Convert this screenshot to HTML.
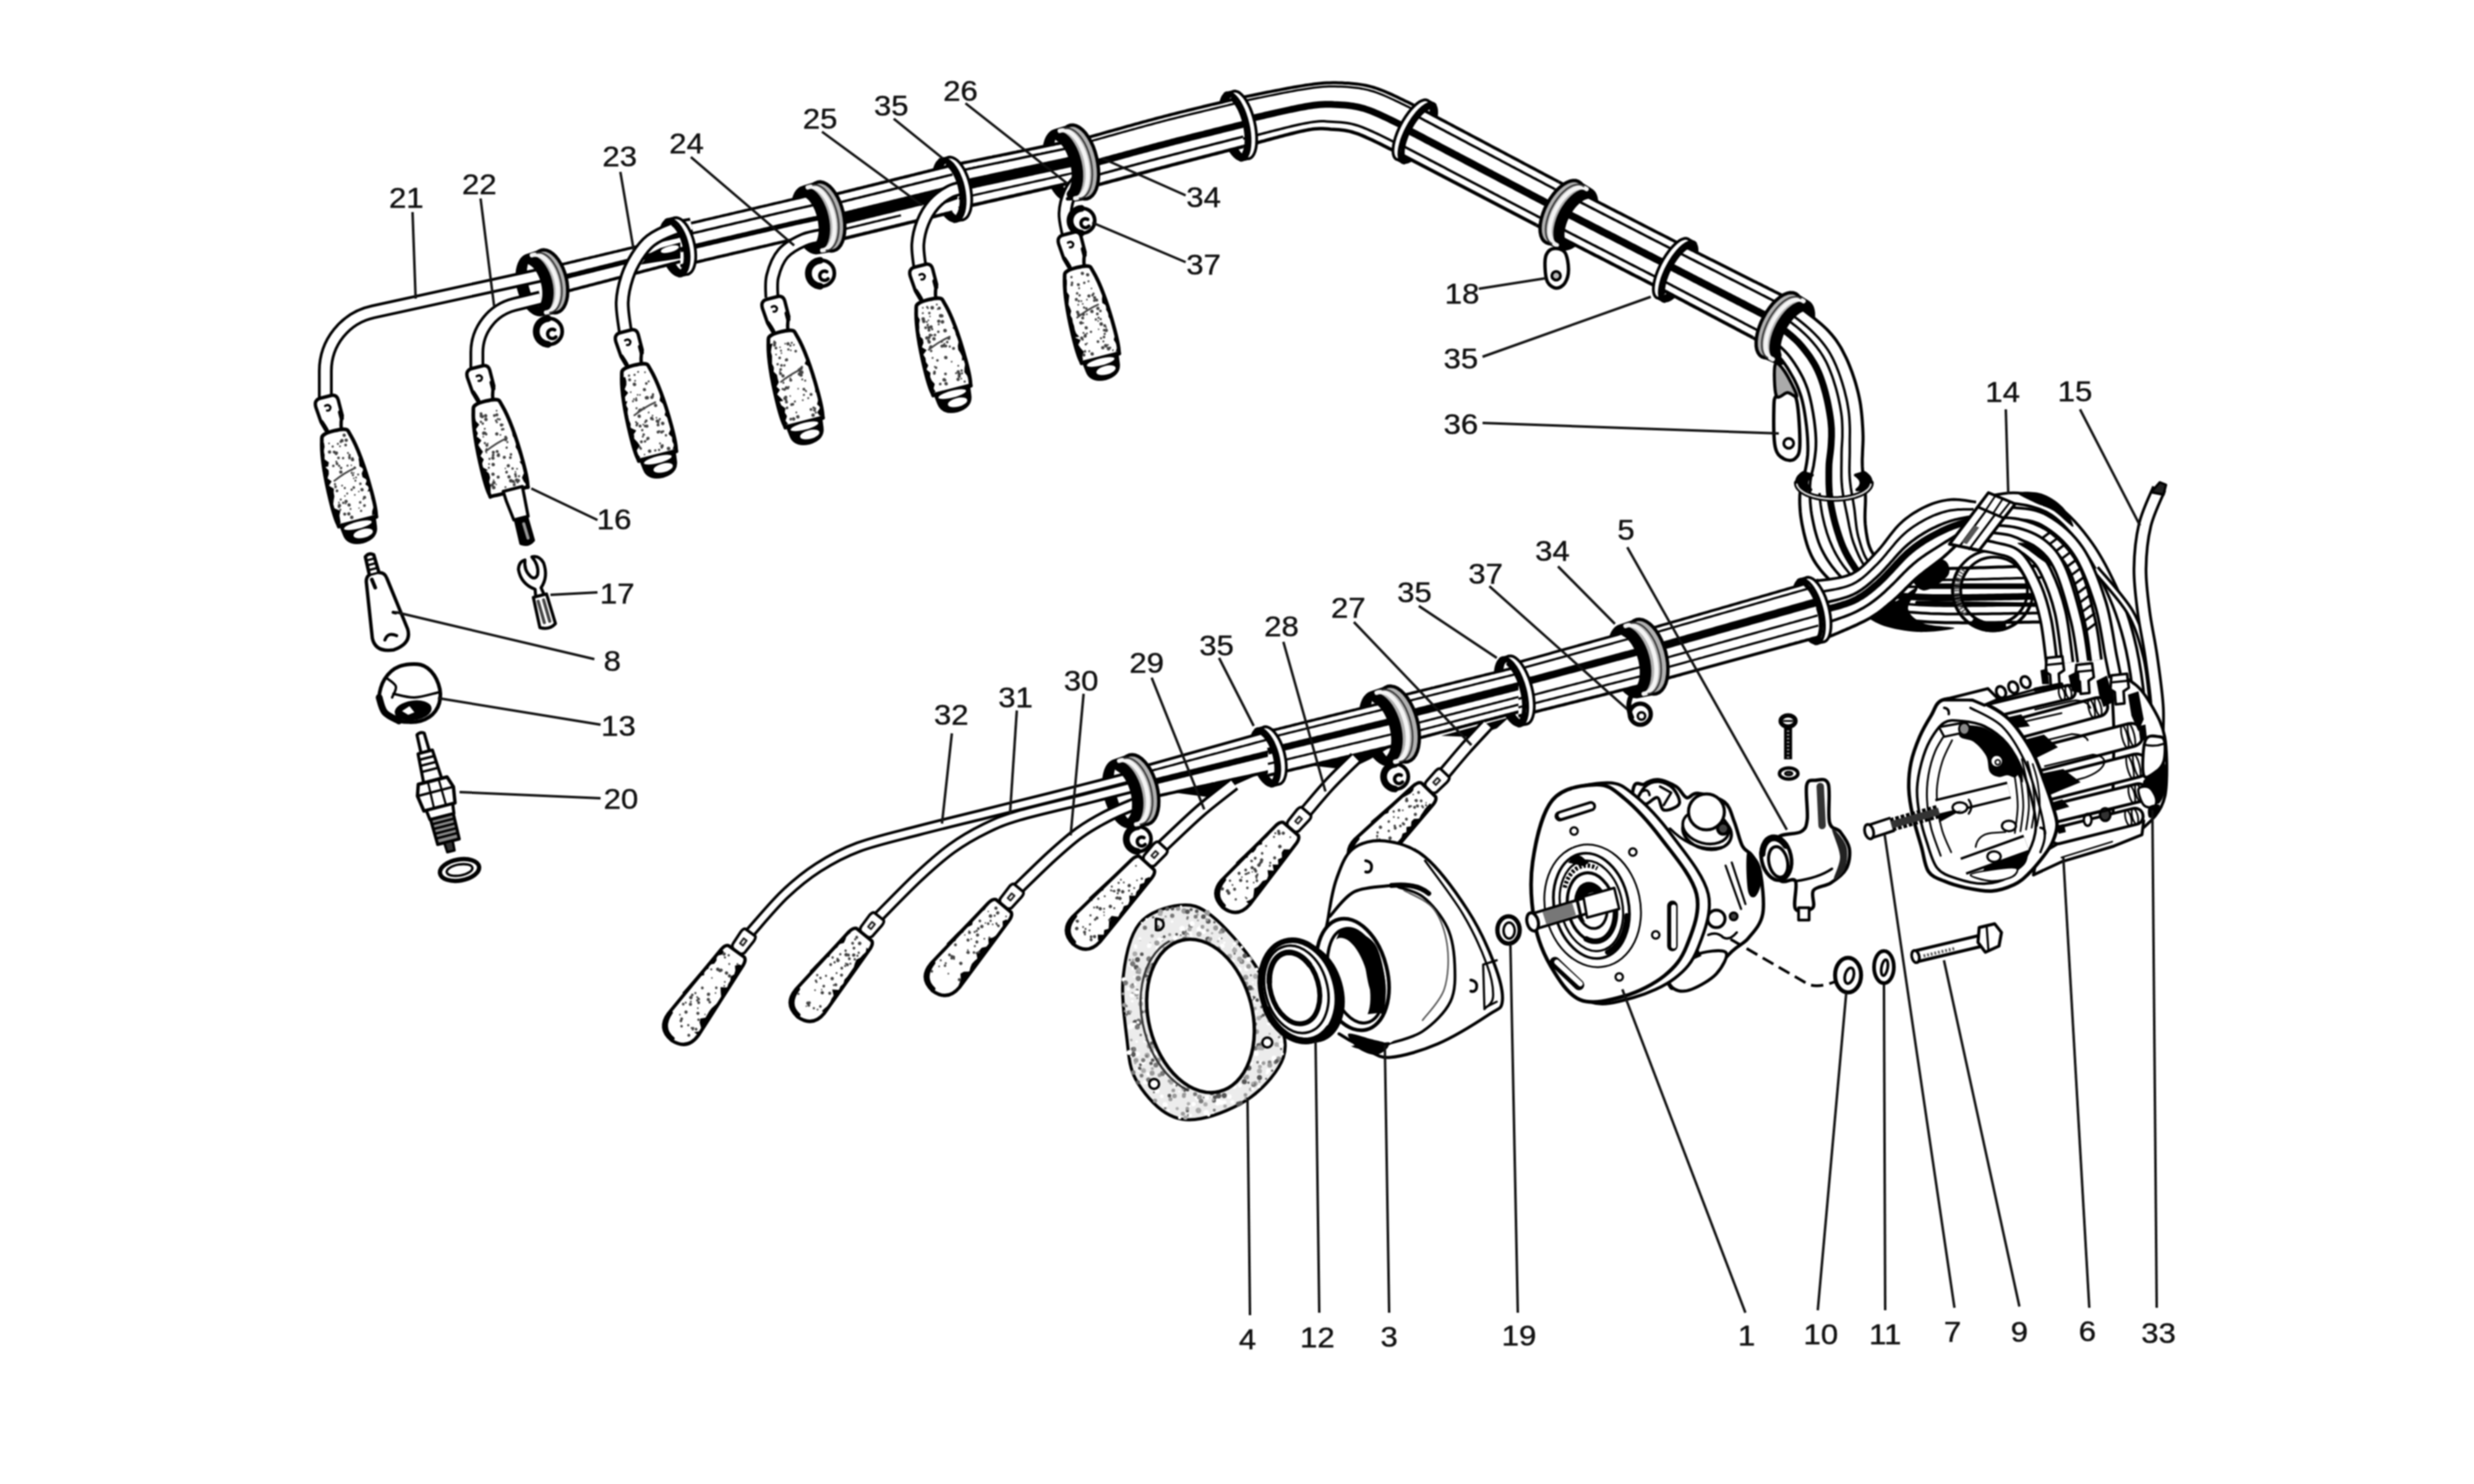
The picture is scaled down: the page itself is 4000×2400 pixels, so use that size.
<!DOCTYPE html><html><head><meta charset="utf-8"><style>html,body{margin:0;padding:0;background:#fff}svg{display:block;filter:blur(1.3px)}text{font-family:"Liberation Sans",sans-serif;fill:#111}</style></head><body><svg width="4000" height="2400" viewBox="0 0 4000 2400"><rect width="4000" height="2400" fill="#fff"/><path d="M876.9 509.7 L873.3 510.2 L869.5 509.8 L865.6 508.6 L861.7 506.6 L857.9 503.8 L854.1 500.2 L850.6 496 L847.3 491.1 L844.3 485.8 L841.6 480 L839.4 473.9 L837.5 467.6 L836.2 461.1 L835.3 454.7 L834.9 448.3 L835.1 442.2 L835.7 436.4 L836.9 431 L838.5 426.1 L840.6 421.8 L843 418.2 L845.9 415.3 L849.1 413.2 L852.5 411.9 L875.4 404.5 L879.1 404.1 L882.9 404.5 L886.8 405.8 L890.7 407.9 L894.6 410.8 L898.3 414.5 L901.9 418.9 L905.2 423.9 L908.3 429.4 L911 435.4 L913.3 441.7 L915.2 448.2 L916.6 454.9 L917.5 461.5 L917.9 468.1 L917.8 474.4 L917.2 480.3 L916.1 485.9 L914.5 490.9 L912.5 495.3 L910 499 L907.2 502 L904 504.1 L900.6 505.5Z" fill="#000" stroke="#000" stroke-width="3" stroke-linejoin="round" />
<ellipse cx="868.6" cy="459.8" rx="14" ry="40" transform="rotate(-14 868.6 459.8)" fill="#fff" stroke="none" stroke-width="0" />
<path d="M1100.9 446.3 L1098 446.5 L1094.9 446 L1091.8 444.7 L1088.7 442.6 L1085.6 439.8 L1082.6 436.4 L1079.7 432.3 L1077 427.7 L1074.5 422.6 L1072.3 417.1 L1070.4 411.4 L1068.8 405.4 L1067.6 399.4 L1066.8 393.4 L1066.4 387.5 L1066.4 381.9 L1066.8 376.5 L1067.6 371.6 L1068.8 367.2 L1070.4 363.3 L1072.3 360.1 L1074.5 357.5 L1077 355.7 L1079.7 354.7 L1090.4 352.2 L1093.3 352 L1096.3 352.5 L1099.4 353.8 L1102.6 355.9 L1105.7 358.7 L1108.7 362.1 L1111.6 366.2 L1114.3 370.8 L1116.8 375.9 L1119 381.4 L1120.9 387.1 L1122.4 393.1 L1123.6 399.1 L1124.4 405.1 L1124.9 411 L1124.9 416.6 L1124.4 422 L1123.6 426.9 L1122.4 431.3 L1120.9 435.2 L1119 438.4 L1116.8 441 L1114.3 442.8 L1111.6 443.8Z" fill="#000" stroke="#000" stroke-width="3" stroke-linejoin="round" />
<ellipse cx="1095.2" cy="399.3" rx="12.1" ry="38" transform="rotate(-13 1095.2 399.3)" fill="#fff" stroke="none" stroke-width="0" />
<path d="M1323.1 409.5 L1319.3 409.9 L1315.3 409.3 L1311.3 407.9 L1307.3 405.5 L1303.3 402.3 L1299.5 398.3 L1295.8 393.6 L1292.4 388.2 L1289.3 382.3 L1286.6 375.9 L1284.2 369.1 L1282.4 362.1 L1281 355.1 L1280.1 348 L1279.8 341 L1280 334.3 L1280.7 328 L1281.9 322.1 L1283.6 316.9 L1285.7 312.2 L1288.3 308.3 L1291.3 305.3 L1294.6 303.1 L1298.2 301.8 L1322.2 294.5 L1326 294.1 L1329.9 294.7 L1334 296.2 L1338 298.6 L1342 302 L1345.9 306.1 L1349.6 311 L1353.1 316.6 L1356.2 322.7 L1359 329.3 L1361.3 336.3 L1363.3 343.5 L1364.7 350.8 L1365.6 358.1 L1366 365.2 L1365.9 372.1 L1365.2 378.6 L1364 384.7 L1362.4 390.1 L1360.2 394.8 L1357.7 398.8 L1354.7 402 L1351.4 404.2 L1347.8 405.5Z" fill="#000" stroke="#000" stroke-width="3" stroke-linejoin="round" />
<ellipse cx="1314.5" cy="354.7" rx="14.5" ry="45" transform="rotate(-13 1314.5 354.7)" fill="#fff" stroke="none" stroke-width="0" />
<path d="M1546 358.1 L1542.8 358.4 L1539.5 357.8 L1536.1 356.4 L1532.7 354.1 L1529.3 351 L1526 347.1 L1522.9 342.6 L1519.9 337.5 L1517.2 331.9 L1514.7 325.8 L1512.6 319.4 L1510.9 312.9 L1509.6 306.2 L1508.7 299.6 L1508.2 293.1 L1508.2 286.8 L1508.6 280.9 L1509.5 275.5 L1510.8 270.6 L1512.5 266.3 L1514.5 262.7 L1516.9 259.9 L1519.6 257.9 L1522.6 256.8 L1533.3 254.3 L1536.5 254.1 L1539.8 254.7 L1543.1 256.1 L1546.6 258.4 L1550 261.5 L1553.3 265.4 L1556.4 269.9 L1559.4 275 L1562.1 280.6 L1564.6 286.7 L1566.7 293 L1568.4 299.6 L1569.7 306.3 L1570.6 312.9 L1571.1 319.4 L1571.1 325.7 L1570.7 331.6 L1569.8 337 L1568.5 341.9 L1566.8 346.2 L1564.8 349.7 L1562.4 352.5 L1559.6 354.5 L1556.7 355.7Z" fill="#000" stroke="#000" stroke-width="3" stroke-linejoin="round" />
<ellipse cx="1539.2" cy="306.3" rx="13.2" ry="43" transform="rotate(-13 1539.2 306.3)" fill="#fff" stroke="none" stroke-width="0" />
<path d="M1732 325.5 L1728 325.9 L1724 325.3 L1719.8 323.7 L1715.6 321.2 L1711.4 317.7 L1707.4 313.4 L1703.6 308.3 L1700 302.5 L1696.8 296.1 L1693.9 289.3 L1691.4 282.1 L1689.4 274.6 L1687.9 267 L1687 259.4 L1686.6 252 L1686.7 244.9 L1687.4 238.1 L1688.6 231.9 L1690.3 226.2 L1692.5 221.3 L1695.2 217.2 L1698.2 213.9 L1701.7 211.6 L1705.4 210.2 L1730.3 202.6 L1734.2 202.2 L1738.3 202.8 L1742.5 204.5 L1746.7 207.2 L1750.9 210.7 L1755 215.2 L1758.8 220.5 L1762.5 226.4 L1765.8 233 L1768.7 240.1 L1771.2 247.6 L1773.2 255.3 L1774.8 263.1 L1775.8 270.9 L1776.3 278.5 L1776.2 285.9 L1775.5 292.8 L1774.4 299.3 L1772.7 305 L1770.5 310.1 L1767.9 314.3 L1764.8 317.7 L1761.4 320 L1757.7 321.4Z" fill="#000" stroke="#000" stroke-width="3" stroke-linejoin="round" />
<ellipse cx="1722.6" cy="266.9" rx="15" ry="49" transform="rotate(-13 1722.6 266.9)" fill="#fff" stroke="none" stroke-width="0" />
<path d="M2008.9 259 L2006 259.2 L2002.9 258.5 L1999.7 256.8 L1996.5 254.2 L1993.2 250.8 L1990 246.6 L1986.9 241.6 L1984 236 L1981.3 229.9 L1978.8 223.4 L1976.7 216.5 L1974.8 209.4 L1973.4 202.3 L1972.3 195.1 L1971.7 188.2 L1971.4 181.5 L1971.6 175.2 L1972.2 169.4 L1973.2 164.2 L1974.7 159.7 L1976.4 156 L1978.6 153 L1981 151 L1983.7 149.9 L1994.4 147.4 L1997.3 147.3 L2000.4 148 L2003.6 149.7 L2006.8 152.3 L2010.1 155.7 L2013.3 159.9 L2016.3 164.9 L2019.3 170.4 L2022 176.5 L2024.4 183.1 L2026.6 190 L2028.4 197.1 L2029.9 204.2 L2031 211.3 L2031.6 218.3 L2031.9 225 L2031.7 231.3 L2031.1 237.1 L2030 242.3 L2028.6 246.8 L2026.8 250.5 L2024.7 253.4 L2022.3 255.5 L2019.6 256.6Z" fill="#000" stroke="#000" stroke-width="3" stroke-linejoin="round" />
<ellipse cx="2001.2" cy="203.3" rx="12.1" ry="47" transform="rotate(-13 2001.2 203.3)" fill="#fff" stroke="none" stroke-width="0" />
<path d="M2318.1 167.5 L2320.2 169.1 L2321.8 171.5 L2322.9 174.7 L2323.5 178.6 L2323.6 183.1 L2323.1 188.1 L2322.2 193.6 L2320.7 199.5 L2318.7 205.6 L2316.3 211.9 L2313.5 218.2 L2310.4 224.6 L2306.9 230.7 L2303.2 236.6 L2299.3 242.1 L2295.3 247.1 L2291.3 251.6 L2287.3 255.5 L2283.3 258.7 L2279.6 261.2 L2276 262.8 L2272.8 263.6 L2269.9 263.7 L2267.4 262.8 L2257.6 257.7 L2255.6 256 L2253.9 253.6 L2252.8 250.5 L2252.2 246.6 L2252.1 242.1 L2252.6 237.1 L2253.6 231.6 L2255 225.7 L2257 219.6 L2259.4 213.3 L2262.2 206.9 L2265.3 200.6 L2268.8 194.5 L2272.5 188.6 L2276.4 183.1 L2280.4 178 L2284.4 173.5 L2288.4 169.6 L2292.4 166.5 L2296.1 164 L2299.7 162.4 L2302.9 161.5 L2305.8 161.5 L2308.4 162.3Z" fill="#000" stroke="#000" stroke-width="3" stroke-linejoin="round" />
<ellipse cx="2288.3" cy="212.8" rx="11" ry="45" transform="rotate(208 2288.3 212.8)" fill="#fff" stroke="none" stroke-width="0" />
<path d="M2572.7 306.3 L2575.7 308.4 L2578.2 311.3 L2580.2 315 L2581.6 319.3 L2582.5 324.2 L2582.7 329.6 L2582.3 335.5 L2581.4 341.7 L2579.8 348.1 L2577.7 354.6 L2575 361 L2571.9 367.4 L2568.4 373.6 L2564.5 379.4 L2560.3 384.8 L2555.9 389.6 L2551.3 393.9 L2546.6 397.5 L2542 400.3 L2537.5 402.4 L2533.1 403.6 L2529 404 L2525.1 403.5 L2521.7 402.2 L2499.7 392.4 L2496.7 390.3 L2494.2 387.4 L2492.2 383.7 L2490.9 379.2 L2490.1 374.2 L2489.9 368.7 L2490.4 362.7 L2491.4 356.3 L2493.1 349.8 L2495.3 343.1 L2498.1 336.4 L2501.3 329.9 L2504.9 323.5 L2508.9 317.5 L2513.2 311.9 L2517.7 306.9 L2522.4 302.5 L2527.1 298.7 L2531.8 295.8 L2536.4 293.6 L2540.8 292.3 L2545 291.8 L2548.8 292.3 L2552.3 293.6Z" fill="#000" stroke="#000" stroke-width="3" stroke-linejoin="round" />
<ellipse cx="2543.7" cy="352.4" rx="14" ry="44" transform="rotate(208 2543.7 352.4)" fill="#fff" stroke="none" stroke-width="0" />
<path d="M2739.1 391.5 L2741.2 393.1 L2742.8 395.5 L2743.9 398.7 L2744.5 402.6 L2744.6 407.1 L2744.1 412.1 L2743.2 417.6 L2741.7 423.5 L2739.7 429.6 L2737.3 435.9 L2734.5 442.2 L2731.4 448.6 L2727.9 454.7 L2724.2 460.6 L2720.3 466.1 L2716.3 471.1 L2712.3 475.6 L2708.3 479.5 L2704.3 482.7 L2700.6 485.2 L2697 486.8 L2693.8 487.6 L2690.9 487.7 L2688.4 486.8 L2678.6 481.7 L2676.6 480 L2674.9 477.6 L2673.8 474.5 L2673.2 470.6 L2673.1 466.1 L2673.6 461.1 L2674.6 455.6 L2676 449.7 L2678 443.6 L2680.4 437.3 L2683.2 430.9 L2686.3 424.6 L2689.8 418.5 L2693.5 412.6 L2697.4 407.1 L2701.4 402 L2705.4 397.5 L2709.4 393.6 L2713.4 390.5 L2717.1 388 L2720.7 386.4 L2723.9 385.5 L2726.8 385.5 L2729.4 386.3Z" fill="#000" stroke="#000" stroke-width="3" stroke-linejoin="round" />
<ellipse cx="2709.3" cy="436.8" rx="11" ry="45" transform="rotate(208 2709.3 436.8)" fill="#fff" stroke="none" stroke-width="0" />
<path d="M2923.6 487.6 L2926.6 489.7 L2929.1 492.7 L2931.1 496.4 L2932.4 500.8 L2933.2 505.9 L2933.3 511.4 L2932.9 517.5 L2931.8 523.8 L2930.1 530.4 L2927.9 537.1 L2925.1 543.8 L2921.9 550.4 L2918.3 556.8 L2914.2 562.8 L2909.9 568.4 L2905.4 573.5 L2900.7 577.9 L2896 581.7 L2891.3 584.7 L2886.7 586.9 L2882.2 588.2 L2878.1 588.7 L2874.2 588.2 L2870.8 586.9 L2848.8 577.2 L2845.8 575.1 L2843.3 572.1 L2841.4 568.3 L2840.1 563.8 L2839.3 558.6 L2839.3 552.9 L2839.8 546.7 L2841 540.2 L2842.7 533.5 L2845.1 526.6 L2847.9 519.7 L2851.3 512.9 L2855 506.3 L2859.2 500 L2863.6 494.3 L2868.2 489 L2873 484.4 L2877.8 480.5 L2882.6 477.4 L2887.2 475.1 L2891.7 473.7 L2895.9 473.1 L2899.8 473.5 L2903.2 474.8Z" fill="#000" stroke="#000" stroke-width="3" stroke-linejoin="round" />
<ellipse cx="2893.7" cy="535.4" rx="14" ry="46" transform="rotate(208 2893.7 535.4)" fill="#fff" stroke="none" stroke-width="0" />
<path d="M771 596 L771 570 A80 80 0 0 1 831.6 492.4 L874 482" fill="none" stroke="#000" stroke-width="24" stroke-linecap="butt" stroke-linejoin="round" />
<path d="M771 596 L771 570 A80 80 0 0 1 831.6 492.4 L874 482" fill="none" stroke="#fff" stroke-width="15" stroke-linecap="butt" stroke-linejoin="round" />
<path d="M526 644 L526 600 A98 98 0 0 1 603.2 504.3 L874 445" fill="none" stroke="#000" stroke-width="24" stroke-linecap="butt" stroke-linejoin="round" />
<path d="M526 644 L526 600 A98 98 0 0 1 603.2 504.3 L874 445" fill="none" stroke="#fff" stroke-width="15" stroke-linecap="butt" stroke-linejoin="round" />
<path d="M890 432 L893.6 431.2 L897.1 430.3 L900.7 429.5 L904.2 428.6 L907.8 427.8 L911.4 426.9 L914.9 426.1 L918.5 425.2 L922 424.4 L925.6 423.5 L929.2 422.7 L932.7 421.8 L936.3 421 L939.8 420.1 L943.4 419.3 L946.9 418.4 L950.5 417.6 L954.1 416.7 L957.6 415.9 L961.2 415.1 L964.7 414.2 L968.3 413.4 L971.9 412.5 L975.4 411.7 L979 410.8 L982.5 410 L986.1 409.1 L989.7 408.3 L993.2 407.4 L996.8 406.6 L1000.3 405.7 L1003.9 404.9 L1007.5 404 L1011 403.2 L1014.6 402.3 L1018.1 401.5 L1021.7 400.6 L1025.3 399.8 L1028.8 398.9 L1032.4 398.1 L1035.9 397.3 L1039.5 396.4 L1043.1 395.6 L1046.6 394.7 L1050.2 393.9 L1053.7 393 L1057.3 392.2 L1060.8 391.3 L1064.4 390.5 L1068 389.6 L1071.5 388.8 L1075.1 387.9 L1078.6 387.1 L1082.2 386.2 L1085.8 385.4 L1089.3 384.5 L1092.9 383.7 L1096.4 382.8 L1100 382 L1100 423 L1096.4 423.9 L1092.9 424.9 L1089.3 425.8 L1085.8 426.7 L1082.2 427.7 L1078.6 428.6 L1075.1 429.5 L1071.5 430.5 L1068 431.4 L1064.4 432.3 L1060.8 433.3 L1057.3 434.2 L1053.7 435.1 L1050.2 436.1 L1046.6 437 L1043.1 437.9 L1039.5 438.8 L1035.9 439.8 L1032.4 440.7 L1028.8 441.6 L1025.3 442.6 L1021.7 443.5 L1018.1 444.4 L1014.6 445.4 L1011 446.3 L1007.5 447.2 L1003.9 448.2 L1000.3 449.1 L996.8 450 L993.2 451 L989.7 451.9 L986.1 452.8 L982.5 453.8 L979 454.7 L975.4 455.6 L971.9 456.6 L968.3 457.5 L964.7 458.4 L961.2 459.4 L957.6 460.3 L954.1 461.2 L950.5 462.2 L946.9 463.1 L943.4 464 L939.8 464.9 L936.3 465.9 L932.7 466.8 L929.2 467.7 L925.6 468.7 L922 469.6 L918.5 470.5 L914.9 471.5 L911.4 472.4 L907.8 473.3 L904.2 474.3 L900.7 475.2 L897.1 476.1 L893.6 477.1 L890 478Z" fill="#fff" />
<path d="M890 432 L893.6 431.2 L897.1 430.3 L900.7 429.5 L904.2 428.6 L907.8 427.8 L911.4 426.9 L914.9 426.1 L918.5 425.2 L922 424.4 L925.6 423.5 L929.2 422.7 L932.7 421.8 L936.3 421 L939.8 420.1 L943.4 419.3 L946.9 418.4 L950.5 417.6 L954.1 416.7 L957.6 415.9 L961.2 415.1 L964.7 414.2 L968.3 413.4 L971.9 412.5 L975.4 411.7 L979 410.8 L982.5 410 L986.1 409.1 L989.7 408.3 L993.2 407.4 L996.8 406.6 L1000.3 405.7 L1003.9 404.9 L1007.5 404 L1011 403.2 L1014.6 402.3 L1018.1 401.5 L1021.7 400.6 L1025.3 399.8 L1028.8 398.9 L1032.4 398.1 L1035.9 397.3 L1039.5 396.4 L1043.1 395.6 L1046.6 394.7 L1050.2 393.9 L1053.7 393 L1057.3 392.2 L1060.8 391.3 L1064.4 390.5 L1068 389.6 L1071.5 388.8 L1075.1 387.9 L1078.6 387.1 L1082.2 386.2 L1085.8 385.4 L1089.3 384.5 L1092.9 383.7 L1096.4 382.8 L1100 382" fill="none" stroke="#000" stroke-width="4.5" stroke-linecap="butt" stroke-linejoin="round" />
<path d="M890 453.6 L893.6 452.7 L897.1 451.8 L900.7 451 L904.2 450.1 L907.8 449.2 L911.4 448.3 L914.9 447.4 L918.5 446.5 L922 445.6 L925.6 444.7 L929.2 443.9 L932.7 443 L936.3 442.1 L939.8 441.2 L943.4 440.3 L946.9 439.4 L950.5 438.5 L954.1 437.6 L957.6 436.8 L961.2 435.9 L964.7 435 L968.3 434.1 L971.9 433.2 L975.4 432.3 L979 431.4 L982.5 430.6 L986.1 429.7 L989.7 428.8 L993.2 427.9 L996.8 427 L1000.3 426.1 L1003.9 425.2 L1007.5 424.3 L1011 423.5 L1014.6 422.6 L1018.1 421.7 L1021.7 420.8 L1025.3 419.9 L1028.8 419 L1032.4 418.1 L1035.9 417.2 L1039.5 416.4 L1043.1 415.5 L1046.6 414.6 L1050.2 413.7 L1053.7 412.8 L1057.3 411.9 L1060.8 411 L1064.4 410.1 L1068 409.3 L1071.5 408.4 L1075.1 407.5 L1078.6 406.6 L1082.2 405.7 L1085.8 404.8 L1089.3 403.9 L1092.9 403 L1096.4 402.2 L1100 401.3" fill="none" stroke="#000" stroke-width="8" stroke-linecap="butt" stroke-linejoin="round" />
<path d="M890 478 L893.6 477.1 L897.1 476.1 L900.7 475.2 L904.2 474.3 L907.8 473.3 L911.4 472.4 L914.9 471.5 L918.5 470.5 L922 469.6 L925.6 468.7 L929.2 467.7 L932.7 466.8 L936.3 465.9 L939.8 464.9 L943.4 464 L946.9 463.1 L950.5 462.2 L954.1 461.2 L957.6 460.3 L961.2 459.4 L964.7 458.4 L968.3 457.5 L971.9 456.6 L975.4 455.6 L979 454.7 L982.5 453.8 L986.1 452.8 L989.7 451.9 L993.2 451 L996.8 450 L1000.3 449.1 L1003.9 448.2 L1007.5 447.2 L1011 446.3 L1014.6 445.4 L1018.1 444.4 L1021.7 443.5 L1025.3 442.6 L1028.8 441.6 L1032.4 440.7 L1035.9 439.8 L1039.5 438.8 L1043.1 437.9 L1046.6 437 L1050.2 436.1 L1053.7 435.1 L1057.3 434.2 L1060.8 433.3 L1064.4 432.3 L1068 431.4 L1071.5 430.5 L1075.1 429.5 L1078.6 428.6 L1082.2 427.7 L1085.8 426.7 L1089.3 425.8 L1092.9 424.9 L1096.4 423.9 L1100 423" fill="none" stroke="#000" stroke-width="5" stroke-linecap="butt" stroke-linejoin="round" />
<path d="M1100 365 L1103.9 364.1 L1107.8 363.2 L1111.7 362.3 L1115.6 361.3 L1119.5 360.4 L1123.4 359.5 L1127.3 358.6 L1131.2 357.7 L1135.1 356.8 L1139 355.8 L1142.9 354.9 L1146.8 354 L1150.7 353.1 L1154.6 352.2 L1158.5 351.3 L1162.4 350.4 L1166.3 349.4 L1170.2 348.5 L1174.1 347.6 L1178 346.7 L1181.9 345.8 L1185.8 344.9 L1189.7 343.9 L1193.6 343 L1197.5 342.1 L1201.4 341.2 L1205.3 340.3 L1209.2 339.4 L1213.1 338.5 L1216.9 337.5 L1220.8 336.6 L1224.7 335.7 L1228.6 334.8 L1232.5 333.9 L1236.4 333 L1240.3 332.1 L1244.2 331.1 L1248.1 330.2 L1252 329.3 L1255.9 328.4 L1259.8 327.5 L1263.7 326.6 L1267.6 325.6 L1271.5 324.7 L1275.4 323.8 L1279.3 322.9 L1283.2 322 L1287.1 321.1 L1291 320.2 L1294.9 319.2 L1298.8 318.3 L1302.7 317.4 L1306.6 316.5 L1310.5 315.6 L1314.4 314.7 L1318.3 313.7 L1322.2 312.8 L1326.1 311.9 L1330 311 L1330 378 L1326.1 378.7 L1322.1 379.4 L1318.2 380.1 L1314.3 380.8 L1310.3 381.5 L1306.4 382.3 L1302.5 383.1 L1298.6 383.9 L1294.7 384.7 L1290.7 385.5 L1286.8 386.4 L1282.9 387.2 L1279 388.1 L1275.1 389 L1271.2 389.9 L1267.3 390.8 L1263.4 391.6 L1259.5 392.5 L1255.7 393.4 L1251.8 394.3 L1247.9 395.2 L1244 396.1 L1240.1 397.1 L1236.2 398 L1232.3 398.9 L1228.4 399.8 L1224.5 400.7 L1220.6 401.6 L1216.7 402.5 L1212.8 403.4 L1208.9 404.3 L1205 405.3 L1201.2 406.2 L1197.3 407.1 L1193.4 408 L1189.5 408.9 L1185.6 409.8 L1181.7 410.7 L1177.8 411.7 L1173.9 412.6 L1170 413.5 L1166.1 414.4 L1162.2 415.3 L1158.4 416.2 L1154.5 417.2 L1150.6 418.1 L1146.7 419 L1142.8 419.9 L1138.9 420.8 L1135 421.8 L1131.1 422.7 L1127.2 423.6 L1123.3 424.5 L1119.5 425.4 L1115.6 426.3 L1111.7 427.3 L1107.8 428.2 L1103.9 429.1 L1100 430Z" fill="#fff" />
<path d="M1100 365 L1103.9 364.1 L1107.8 363.2 L1111.7 362.3 L1115.6 361.3 L1119.5 360.4 L1123.4 359.5 L1127.3 358.6 L1131.2 357.7 L1135.1 356.8 L1139 355.8 L1142.9 354.9 L1146.8 354 L1150.7 353.1 L1154.6 352.2 L1158.5 351.3 L1162.4 350.4 L1166.3 349.4 L1170.2 348.5 L1174.1 347.6 L1178 346.7 L1181.9 345.8 L1185.8 344.9 L1189.7 343.9 L1193.6 343 L1197.5 342.1 L1201.4 341.2 L1205.3 340.3 L1209.2 339.4 L1213.1 338.5 L1216.9 337.5 L1220.8 336.6 L1224.7 335.7 L1228.6 334.8 L1232.5 333.9 L1236.4 333 L1240.3 332.1 L1244.2 331.1 L1248.1 330.2 L1252 329.3 L1255.9 328.4 L1259.8 327.5 L1263.7 326.6 L1267.6 325.6 L1271.5 324.7 L1275.4 323.8 L1279.3 322.9 L1283.2 322 L1287.1 321.1 L1291 320.2 L1294.9 319.2 L1298.8 318.3 L1302.7 317.4 L1306.6 316.5 L1310.5 315.6 L1314.4 314.7 L1318.3 313.7 L1322.2 312.8 L1326.1 311.9 L1330 311" fill="none" stroke="#000" stroke-width="4.5" stroke-linecap="butt" stroke-linejoin="round" />
<path d="M1100 381.9 L1103.9 381 L1107.8 380.1 L1111.7 379.2 L1115.6 378.2 L1119.5 377.3 L1123.4 376.4 L1127.3 375.5 L1131.2 374.6 L1135.1 373.7 L1139 372.7 L1142.9 371.8 L1146.8 370.9 L1150.7 370 L1154.5 369.1 L1158.4 368.2 L1162.3 367.2 L1166.2 366.3 L1170.1 365.4 L1174 364.5 L1177.9 363.6 L1181.8 362.7 L1185.7 361.8 L1189.6 360.8 L1193.5 359.9 L1197.4 359 L1201.3 358.1 L1205.2 357.2 L1209.1 356.3 L1213 355.3 L1216.9 354.4 L1220.8 353.5 L1224.7 352.6 L1228.6 351.7 L1232.5 350.8 L1236.4 349.9 L1240.3 349 L1244.2 348 L1248.1 347.1 L1252 346.2 L1255.9 345.3 L1259.8 344.4 L1263.7 343.5 L1267.6 342.6 L1271.5 341.7 L1275.3 340.8 L1279.2 339.9 L1283.1 338.9 L1287 338 L1290.9 337.1 L1294.8 336.3 L1298.7 335.4 L1302.7 334.5 L1306.6 333.6 L1310.5 332.7 L1314.4 331.9 L1318.3 331 L1322.2 330.1 L1326.1 329.3 L1330 328.4" fill="none" stroke="#000" stroke-width="4" stroke-linecap="butt" stroke-linejoin="round" />
<path d="M1100 404 L1103.9 403.1 L1107.8 402.2 L1111.7 401.3 L1115.6 400.3 L1119.5 399.4 L1123.4 398.5 L1127.3 397.6 L1131.2 396.7 L1135 395.8 L1138.9 394.8 L1142.8 393.9 L1146.7 393 L1150.6 392.1 L1154.5 391.2 L1158.4 390.3 L1162.3 389.3 L1166.2 388.4 L1170.1 387.5 L1174 386.6 L1177.9 385.7 L1181.8 384.8 L1185.7 383.8 L1189.6 382.9 L1193.4 382 L1197.3 381.1 L1201.2 380.2 L1205.1 379.3 L1209 378.4 L1212.9 377.4 L1216.8 376.5 L1220.7 375.6 L1224.6 374.7 L1228.5 373.8 L1232.4 372.9 L1236.3 372 L1240.2 371.1 L1244.1 370.1 L1248 369.2 L1251.9 368.3 L1255.8 367.4 L1259.7 366.5 L1263.6 365.6 L1267.5 364.7 L1271.4 363.8 L1275.2 362.9 L1279.1 362 L1283 361.1 L1287 360.2 L1290.9 359.4 L1294.8 358.5 L1298.7 357.7 L1302.6 356.8 L1306.5 356 L1310.4 355.1 L1314.3 354.3 L1318.2 353.6 L1322.2 352.8 L1326.1 352 L1330 351.2" fill="none" stroke="#000" stroke-width="8" stroke-linecap="butt" stroke-linejoin="round" />
<path d="M1100 430 L1103.9 429.1 L1107.8 428.2 L1111.7 427.3 L1115.6 426.3 L1119.5 425.4 L1123.3 424.5 L1127.2 423.6 L1131.1 422.7 L1135 421.8 L1138.9 420.8 L1142.8 419.9 L1146.7 419 L1150.6 418.1 L1154.5 417.2 L1158.4 416.2 L1162.2 415.3 L1166.1 414.4 L1170 413.5 L1173.9 412.6 L1177.8 411.7 L1181.7 410.7 L1185.6 409.8 L1189.5 408.9 L1193.4 408 L1197.3 407.1 L1201.2 406.2 L1205 405.3 L1208.9 404.3 L1212.8 403.4 L1216.7 402.5 L1220.6 401.6 L1224.5 400.7 L1228.4 399.8 L1232.3 398.9 L1236.2 398 L1240.1 397.1 L1244 396.1 L1247.9 395.2 L1251.8 394.3 L1255.7 393.4 L1259.5 392.5 L1263.4 391.6 L1267.3 390.8 L1271.2 389.9 L1275.1 389 L1279 388.1 L1282.9 387.2 L1286.8 386.4 L1290.7 385.5 L1294.7 384.7 L1298.6 383.9 L1302.5 383.1 L1306.4 382.3 L1310.3 381.5 L1314.3 380.8 L1318.2 380.1 L1322.1 379.4 L1326.1 378.7 L1330 378" fill="none" stroke="#000" stroke-width="5" stroke-linecap="butt" stroke-linejoin="round" />
<path d="M1036 428 L1050 410 L1068 401 L1100 392 L1100 418 L1060 424Z" fill="#000" />
<ellipse cx="1083" cy="403" rx="15" ry="5" fill="#fff" transform="rotate(-15 1083 403)"/>
<path d="M1011 536C1010.2 528.2 1005.5 503.7 1006 489C1006.5 474.3 1010 460.3 1014 448C1018 435.7 1023.7 424.8 1030 415C1036.3 405.2 1042.5 396.3 1052 389C1061.5 381.7 1076 375.2 1087 371C1098 366.8 1112.8 365.2 1118 364" fill="none" stroke="#000" stroke-width="24" stroke-linecap="butt" stroke-linejoin="round" />
<path d="M1011 536C1010.2 528.2 1005.5 503.7 1006 489C1006.5 474.3 1010 460.3 1014 448C1018 435.7 1023.7 424.8 1030 415C1036.3 405.2 1042.5 396.3 1052 389C1061.5 381.7 1076 375.2 1087 371C1098 366.8 1112.8 365.2 1118 364" fill="none" stroke="#fff" stroke-width="15" stroke-linecap="butt" stroke-linejoin="round" />
<path d="M1335 318 L1338.5 317.1 L1341.9 316.3 L1345.4 315.4 L1348.9 314.5 L1352.4 313.7 L1355.8 312.8 L1359.3 311.9 L1362.8 311.1 L1366.3 310.2 L1369.7 309.4 L1373.2 308.5 L1376.7 307.6 L1380.2 306.8 L1383.6 305.9 L1387.1 305 L1390.6 304.2 L1394.1 303.3 L1397.5 302.4 L1401 301.6 L1404.5 300.7 L1408 299.8 L1411.4 299 L1414.9 298.1 L1418.4 297.3 L1421.9 296.4 L1425.3 295.5 L1428.8 294.7 L1432.3 293.8 L1435.8 292.9 L1439.2 292.1 L1442.7 291.2 L1446.2 290.3 L1449.7 289.5 L1453.1 288.6 L1456.6 287.7 L1460.1 286.9 L1463.6 286 L1467 285.2 L1470.5 284.3 L1474 283.4 L1477.5 282.6 L1480.9 281.7 L1484.4 280.8 L1487.9 280 L1491.4 279.1 L1494.8 278.2 L1498.3 277.4 L1501.8 276.5 L1505.3 275.6 L1508.7 274.8 L1512.2 273.9 L1515.7 273.1 L1519.2 272.2 L1522.6 271.3 L1526.1 270.5 L1529.6 269.6 L1533.1 268.7 L1536.5 267.9 L1540 267 L1540 343 L1536.5 343.8 L1533.1 344.7 L1529.6 345.5 L1526.1 346.4 L1522.6 347.2 L1519.2 348.1 L1515.7 348.9 L1512.2 349.8 L1508.7 350.6 L1505.3 351.5 L1501.8 352.3 L1498.3 353.2 L1494.8 354 L1491.4 354.9 L1487.9 355.7 L1484.4 356.6 L1480.9 357.4 L1477.5 358.3 L1474 359.1 L1470.5 359.9 L1467 360.8 L1463.6 361.6 L1460.1 362.5 L1456.6 363.3 L1453.1 364.2 L1449.7 365 L1446.2 365.9 L1442.7 366.7 L1439.2 367.6 L1435.8 368.4 L1432.3 369.3 L1428.8 370.1 L1425.3 371 L1421.9 371.8 L1418.4 372.7 L1414.9 373.5 L1411.4 374.4 L1408 375.2 L1404.5 376.1 L1401 376.9 L1397.5 377.7 L1394.1 378.6 L1390.6 379.4 L1387.1 380.3 L1383.6 381.1 L1380.2 382 L1376.7 382.8 L1373.2 383.7 L1369.7 384.5 L1366.3 385.4 L1362.8 386.2 L1359.3 387.1 L1355.8 387.9 L1352.4 388.8 L1348.9 389.6 L1345.4 390.5 L1341.9 391.3 L1338.5 392.2 L1335 393Z" fill="#fff" />
<path d="M1335 318 L1338.5 317.1 L1341.9 316.3 L1345.4 315.4 L1348.9 314.5 L1352.4 313.7 L1355.8 312.8 L1359.3 311.9 L1362.8 311.1 L1366.3 310.2 L1369.7 309.4 L1373.2 308.5 L1376.7 307.6 L1380.2 306.8 L1383.6 305.9 L1387.1 305 L1390.6 304.2 L1394.1 303.3 L1397.5 302.4 L1401 301.6 L1404.5 300.7 L1408 299.8 L1411.4 299 L1414.9 298.1 L1418.4 297.3 L1421.9 296.4 L1425.3 295.5 L1428.8 294.7 L1432.3 293.8 L1435.8 292.9 L1439.2 292.1 L1442.7 291.2 L1446.2 290.3 L1449.7 289.5 L1453.1 288.6 L1456.6 287.7 L1460.1 286.9 L1463.6 286 L1467 285.2 L1470.5 284.3 L1474 283.4 L1477.5 282.6 L1480.9 281.7 L1484.4 280.8 L1487.9 280 L1491.4 279.1 L1494.8 278.2 L1498.3 277.4 L1501.8 276.5 L1505.3 275.6 L1508.7 274.8 L1512.2 273.9 L1515.7 273.1 L1519.2 272.2 L1522.6 271.3 L1526.1 270.5 L1529.6 269.6 L1533.1 268.7 L1536.5 267.9 L1540 267" fill="none" stroke="#000" stroke-width="5" stroke-linecap="butt" stroke-linejoin="round" />
<path d="M1335 333 L1338.5 332.1 L1341.9 331.3 L1345.4 330.4 L1348.9 329.6 L1352.4 328.7 L1355.8 327.8 L1359.3 327 L1362.8 326.1 L1366.3 325.3 L1369.7 324.4 L1373.2 323.5 L1376.7 322.7 L1380.2 321.8 L1383.6 320.9 L1387.1 320.1 L1390.6 319.2 L1394.1 318.4 L1397.5 317.5 L1401 316.6 L1404.5 315.8 L1408 314.9 L1411.4 314.1 L1414.9 313.2 L1418.4 312.3 L1421.9 311.5 L1425.3 310.6 L1428.8 309.8 L1432.3 308.9 L1435.8 308 L1439.2 307.2 L1442.7 306.3 L1446.2 305.4 L1449.7 304.6 L1453.1 303.7 L1456.6 302.9 L1460.1 302 L1463.6 301.1 L1467 300.3 L1470.5 299.4 L1474 298.6 L1477.5 297.7 L1480.9 296.8 L1484.4 296 L1487.9 295.1 L1491.4 294.3 L1494.8 293.4 L1498.3 292.5 L1501.8 291.7 L1505.3 290.8 L1508.7 289.9 L1512.2 289.1 L1515.7 288.2 L1519.2 287.4 L1522.6 286.5 L1526.1 285.6 L1529.6 284.8 L1533.1 283.9 L1536.5 283.1 L1540 282.2" fill="none" stroke="#000" stroke-width="4" stroke-linecap="butt" stroke-linejoin="round" />
<path d="M1335 360 L1338.5 359.1 L1341.9 358.3 L1345.4 357.4 L1348.9 356.6 L1352.4 355.7 L1355.8 354.9 L1359.3 354 L1362.8 353.2 L1366.3 352.3 L1369.7 351.5 L1373.2 350.6 L1376.7 349.7 L1380.2 348.9 L1383.6 348 L1387.1 347.2 L1390.6 346.3 L1394.1 345.5 L1397.5 344.6 L1401 343.8 L1404.5 342.9 L1408 342 L1411.4 341.2 L1414.9 340.3 L1418.4 339.5 L1421.9 338.6 L1425.3 337.8 L1428.8 336.9 L1432.3 336.1 L1435.8 335.2 L1439.2 334.4 L1442.7 333.5 L1446.2 332.6 L1449.7 331.8 L1453.1 330.9 L1456.6 330.1 L1460.1 329.2 L1463.6 328.4 L1467 327.5 L1470.5 326.7 L1474 325.8 L1477.5 324.9 L1480.9 324.1 L1484.4 323.2 L1487.9 322.4 L1491.4 321.5 L1494.8 320.7 L1498.3 319.8 L1501.8 319 L1505.3 318.1 L1508.7 317.3 L1512.2 316.4 L1515.7 315.5 L1519.2 314.7 L1522.6 313.8 L1526.1 313 L1529.6 312.1 L1533.1 311.3 L1536.5 310.4 L1540 309.6" fill="none" stroke="#000" stroke-width="20" stroke-linecap="butt" stroke-linejoin="round" />
<path d="M1335 378 L1338.5 377.1 L1341.9 376.3 L1345.4 375.4 L1348.9 374.6 L1352.4 373.7 L1355.8 372.9 L1359.3 372 L1362.8 371.2 L1366.3 370.3 L1369.7 369.5 L1373.2 368.6 L1376.7 367.8 L1380.2 366.9 L1383.6 366.1 L1387.1 365.2 L1390.6 364.4 L1394.1 363.5 L1397.5 362.7 L1401 361.8 L1404.5 361 L1408 360.1 L1411.4 359.3 L1414.9 358.4 L1418.4 357.6 L1421.9 356.7 L1425.3 355.9 L1428.8 355 L1432.3 354.2 L1435.8 353.3 L1439.2 352.5 L1442.7 351.6 L1446.2 350.8 L1449.7 349.9 L1453.1 349.1 L1456.6 348.2" fill="none" stroke="#000" stroke-width="3.5" stroke-linecap="butt" stroke-linejoin="round" />
<path d="M1335 393 L1338.5 392.2 L1341.9 391.3 L1345.4 390.5 L1348.9 389.6 L1352.4 388.8 L1355.8 387.9 L1359.3 387.1 L1362.8 386.2 L1366.3 385.4 L1369.7 384.5 L1373.2 383.7 L1376.7 382.8 L1380.2 382 L1383.6 381.1 L1387.1 380.3 L1390.6 379.4 L1394.1 378.6 L1397.5 377.7 L1401 376.9 L1404.5 376.1 L1408 375.2 L1411.4 374.4 L1414.9 373.5 L1418.4 372.7 L1421.9 371.8 L1425.3 371 L1428.8 370.1 L1432.3 369.3 L1435.8 368.4 L1439.2 367.6 L1442.7 366.7 L1446.2 365.9 L1449.7 365 L1453.1 364.2 L1456.6 363.3 L1460.1 362.5 L1463.6 361.6 L1467 360.8 L1470.5 359.9 L1474 359.1 L1477.5 358.3 L1480.9 357.4 L1484.4 356.6 L1487.9 355.7 L1491.4 354.9 L1494.8 354 L1498.3 353.2 L1501.8 352.3 L1505.3 351.5 L1508.7 350.6 L1512.2 349.8 L1515.7 348.9 L1519.2 348.1 L1522.6 347.2 L1526.1 346.4 L1529.6 345.5 L1533.1 344.7 L1536.5 343.8 L1540 343" fill="none" stroke="#000" stroke-width="5.5" stroke-linecap="butt" stroke-linejoin="round" />
<path d="M1248 482C1248.2 476.2 1246 459 1249 447C1252 435 1257.5 419.8 1266 410C1274.5 400.2 1288.5 393 1300 388C1311.5 383 1329.2 381.3 1335 380" fill="none" stroke="#000" stroke-width="24" stroke-linecap="butt" stroke-linejoin="round" />
<path d="M1248 482C1248.2 476.2 1246 459 1249 447C1252 435 1257.5 419.8 1266 410C1274.5 400.2 1288.5 393 1300 388C1311.5 383 1329.2 381.3 1335 380" fill="none" stroke="#fff" stroke-width="15" stroke-linecap="butt" stroke-linejoin="round" />
<path d="M1550 265 L1553.6 264.3 L1557.1 263.5 L1560.7 262.8 L1564.2 262.1 L1567.8 261.4 L1571.4 260.6 L1574.9 259.9 L1578.5 259.2 L1582 258.4 L1585.6 257.7 L1589.2 257 L1592.7 256.3 L1596.3 255.5 L1599.8 254.8 L1603.4 254.1 L1606.9 253.3 L1610.5 252.6 L1614.1 251.9 L1617.6 251.2 L1621.2 250.4 L1624.7 249.7 L1628.3 249 L1631.9 248.2 L1635.4 247.5 L1639 246.8 L1642.5 246.1 L1646.1 245.3 L1649.7 244.6 L1653.2 243.9 L1656.8 243.1 L1660.3 242.4 L1663.9 241.7 L1667.5 240.9 L1671 240.2 L1674.6 239.5 L1678.1 238.8 L1681.7 238 L1685.3 237.3 L1688.8 236.6 L1692.4 235.8 L1695.9 235.1 L1699.5 234.4 L1703.1 233.7 L1706.6 232.9 L1710.2 232.2 L1713.7 231.5 L1717.3 230.7 L1720.8 230 L1724.4 229.3 L1728 228.6 L1731.5 227.8 L1735.1 227.1 L1738.6 226.4 L1742.2 225.6 L1745.8 224.9 L1749.3 224.2 L1752.9 223.5 L1756.4 222.7 L1760 222 L1760 289 L1756.4 289.8 L1752.9 290.6 L1749.3 291.4 L1745.8 292.3 L1742.2 293.1 L1738.6 293.9 L1735.1 294.7 L1731.5 295.5 L1728 296.3 L1724.4 297.1 L1720.8 297.9 L1717.3 298.8 L1713.7 299.6 L1710.2 300.4 L1706.6 301.2 L1703.1 302 L1699.5 302.8 L1695.9 303.6 L1692.4 304.5 L1688.8 305.3 L1685.3 306.1 L1681.7 306.9 L1678.1 307.7 L1674.6 308.5 L1671 309.3 L1667.5 310.2 L1663.9 311 L1660.3 311.8 L1656.8 312.6 L1653.2 313.4 L1649.7 314.2 L1646.1 315 L1642.5 315.8 L1639 316.7 L1635.4 317.5 L1631.9 318.3 L1628.3 319.1 L1624.7 319.9 L1621.2 320.7 L1617.6 321.5 L1614.1 322.4 L1610.5 323.2 L1606.9 324 L1603.4 324.8 L1599.8 325.6 L1596.3 326.4 L1592.7 327.2 L1589.2 328.1 L1585.6 328.9 L1582 329.7 L1578.5 330.5 L1574.9 331.3 L1571.4 332.1 L1567.8 332.9 L1564.2 333.7 L1560.7 334.6 L1557.1 335.4 L1553.6 336.2 L1550 337Z" fill="#fff" />
<path d="M1550 265 L1553.6 264.3 L1557.1 263.5 L1560.7 262.8 L1564.2 262.1 L1567.8 261.4 L1571.4 260.6 L1574.9 259.9 L1578.5 259.2 L1582 258.4 L1585.6 257.7 L1589.2 257 L1592.7 256.3 L1596.3 255.5 L1599.8 254.8 L1603.4 254.1 L1606.9 253.3 L1610.5 252.6 L1614.1 251.9 L1617.6 251.2 L1621.2 250.4 L1624.7 249.7 L1628.3 249 L1631.9 248.2 L1635.4 247.5 L1639 246.8 L1642.5 246.1 L1646.1 245.3 L1649.7 244.6 L1653.2 243.9 L1656.8 243.1 L1660.3 242.4 L1663.9 241.7 L1667.5 240.9 L1671 240.2 L1674.6 239.5 L1678.1 238.8 L1681.7 238 L1685.3 237.3 L1688.8 236.6 L1692.4 235.8 L1695.9 235.1 L1699.5 234.4 L1703.1 233.7 L1706.6 232.9 L1710.2 232.2 L1713.7 231.5 L1717.3 230.7 L1720.8 230 L1724.4 229.3 L1728 228.6 L1731.5 227.8 L1735.1 227.1 L1738.6 226.4 L1742.2 225.6 L1745.8 224.9 L1749.3 224.2 L1752.9 223.5 L1756.4 222.7 L1760 222" fill="none" stroke="#000" stroke-width="5" stroke-linecap="butt" stroke-linejoin="round" />
<path d="M1550 276.5 L1553.6 275.8 L1557.1 275 L1560.7 274.3 L1564.2 273.6 L1567.8 272.8 L1571.4 272.1 L1574.9 271.3 L1578.5 270.6 L1582 269.8 L1585.6 269.1 L1589.2 268.4 L1592.7 267.6 L1596.3 266.9 L1599.8 266.1 L1603.4 265.4 L1606.9 264.6 L1610.5 263.9 L1614.1 263.2 L1617.6 262.4 L1621.2 261.7 L1624.7 260.9 L1628.3 260.2 L1631.9 259.4 L1635.4 258.7 L1639 258 L1642.5 257.2 L1646.1 256.5 L1649.7 255.7 L1653.2 255 L1656.8 254.2 L1660.3 253.5 L1663.9 252.8 L1667.5 252 L1671 251.3 L1674.6 250.5 L1678.1 249.8 L1681.7 249.1 L1685.3 248.3 L1688.8 247.6 L1692.4 246.8 L1695.9 246.1 L1699.5 245.3 L1703.1 244.6 L1706.6 243.9 L1710.2 243.1 L1713.7 242.4 L1717.3 241.6 L1720.8 240.9 L1724.4 240.1 L1728 239.4 L1731.5 238.7 L1735.1 237.9 L1738.6 237.2 L1742.2 236.4 L1745.8 235.7 L1749.3 234.9 L1752.9 234.2 L1756.4 233.5 L1760 232.7" fill="none" stroke="#000" stroke-width="4" stroke-linecap="butt" stroke-linejoin="round" />
<path d="M1550 301 L1553.6 300.2 L1557.1 299.5 L1560.7 298.7 L1564.2 297.9 L1567.8 297.1 L1571.4 296.4 L1574.9 295.6 L1578.5 294.8 L1582 294.1 L1585.6 293.3 L1589.2 292.5 L1592.7 291.7 L1596.3 291 L1599.8 290.2 L1603.4 289.4 L1606.9 288.7 L1610.5 287.9 L1614.1 287.1 L1617.6 286.3 L1621.2 285.6 L1624.7 284.8 L1628.3 284 L1631.9 283.3 L1635.4 282.5 L1639 281.7 L1642.5 280.9 L1646.1 280.2 L1649.7 279.4 L1653.2 278.6 L1656.8 277.9 L1660.3 277.1 L1663.9 276.3 L1667.5 275.6 L1671 274.8 L1674.6 274 L1678.1 273.2 L1681.7 272.5 L1685.3 271.7 L1688.8 270.9 L1692.4 270.2 L1695.9 269.4 L1699.5 268.6 L1703.1 267.8 L1706.6 267.1 L1710.2 266.3 L1713.7 265.5 L1717.3 264.8 L1720.8 264 L1724.4 263.2 L1728 262.4 L1731.5 261.7 L1735.1 260.9 L1738.6 260.1 L1742.2 259.4 L1745.8 258.6 L1749.3 257.8 L1752.9 257 L1756.4 256.3 L1760 255.5" fill="none" stroke="#000" stroke-width="17" stroke-linecap="butt" stroke-linejoin="round" />
<path d="M1550 321.2 L1553.6 320.4 L1557.1 319.6 L1560.7 318.8 L1564.2 318 L1567.8 317.2 L1571.4 316.4 L1574.9 315.6 L1578.5 314.8 L1582 314 L1585.6 313.2 L1589.2 312.4 L1592.7 311.6 L1596.3 310.8 L1599.8 310 L1603.4 309.2 L1606.9 308.4 L1610.5 307.6 L1614.1 306.9 L1617.6 306.1 L1621.2 305.3 L1624.7 304.5 L1628.3 303.7 L1631.9 302.9 L1635.4 302.1 L1639 301.3 L1642.5 300.5 L1646.1 299.7 L1649.7 298.9 L1653.2 298.1 L1656.8 297.3 L1660.3 296.5 L1663.9 295.7 L1667.5 294.9 L1671 294.1 L1674.6 293.3 L1678.1 292.5 L1681.7 291.7 L1685.3 291 L1688.8 290.2 L1692.4 289.4 L1695.9 288.6 L1699.5 287.8 L1703.1 287 L1706.6 286.2 L1710.2 285.4 L1713.7 284.6 L1717.3 283.8 L1720.8 283 L1724.4 282.2 L1728 281.4 L1731.5 280.6 L1735.1 279.8 L1738.6 279 L1742.2 278.2 L1745.8 277.4 L1749.3 276.6 L1752.9 275.8 L1756.4 275.1 L1760 274.3" fill="none" stroke="#000" stroke-width="3.5" stroke-linecap="butt" stroke-linejoin="round" />
<path d="M1550 337 L1553.6 336.2 L1557.1 335.4 L1560.7 334.6 L1564.2 333.7 L1567.8 332.9 L1571.4 332.1 L1574.9 331.3 L1578.5 330.5 L1582 329.7 L1585.6 328.9 L1589.2 328.1 L1592.7 327.2 L1596.3 326.4 L1599.8 325.6 L1603.4 324.8 L1606.9 324 L1610.5 323.2 L1614.1 322.4 L1617.6 321.5 L1621.2 320.7 L1624.7 319.9 L1628.3 319.1 L1631.9 318.3 L1635.4 317.5 L1639 316.7 L1642.5 315.8 L1646.1 315 L1649.7 314.2 L1653.2 313.4 L1656.8 312.6 L1660.3 311.8 L1663.9 311 L1667.5 310.2 L1671 309.3 L1674.6 308.5 L1678.1 307.7 L1681.7 306.9 L1685.3 306.1 L1688.8 305.3 L1692.4 304.5 L1695.9 303.6 L1699.5 302.8 L1703.1 302 L1706.6 301.2 L1710.2 300.4 L1713.7 299.6 L1717.3 298.8 L1720.8 297.9 L1724.4 297.1 L1728 296.3 L1731.5 295.5 L1735.1 294.7 L1738.6 293.9 L1742.2 293.1 L1745.8 292.3 L1749.3 291.4 L1752.9 290.6 L1756.4 289.8 L1760 289" fill="none" stroke="#000" stroke-width="5.5" stroke-linecap="butt" stroke-linejoin="round" />
<path d="M1500 338 L1514 318 L1530 306 L1548 298 L1548 322 L1520 332Z" fill="#000" />
<ellipse cx="1535" cy="311" rx="12" ry="4.5" fill="#fff" transform="rotate(-15 1535 311)"/>
<path d="M1487 430C1486.5 424.2 1483.2 406.7 1484 395C1484.8 383.3 1487.7 370.8 1492 360C1496.3 349.2 1502.7 338.3 1510 330C1517.3 321.7 1527.7 314.5 1536 310C1544.3 305.5 1556 304.2 1560 303" fill="none" stroke="#000" stroke-width="24" stroke-linecap="butt" stroke-linejoin="round" />
<path d="M1487 430C1486.5 424.2 1483.2 406.7 1484 395C1484.8 383.3 1487.7 370.8 1492 360C1496.3 349.2 1502.7 338.3 1510 330C1517.3 321.7 1527.7 314.5 1536 310C1544.3 305.5 1556 304.2 1560 303" fill="none" stroke="#fff" stroke-width="15" stroke-linecap="butt" stroke-linejoin="round" />
<path d="M1760 222 L1764.2 220.8 L1768.4 219.6 L1772.6 218.5 L1776.9 217.3 L1781.1 216.1 L1785.3 214.9 L1789.5 213.7 L1793.7 212.5 L1797.9 211.3 L1802.2 210.1 L1806.4 209 L1810.6 207.8 L1814.8 206.6 L1819 205.4 L1823.2 204.2 L1827.5 203.1 L1831.7 201.9 L1835.9 200.7 L1840.1 199.6 L1844.3 198.4 L1848.6 197.2 L1852.8 196.1 L1857 194.9 L1861.2 193.8 L1865.5 192.7 L1869.7 191.5 L1873.9 190.4 L1878.2 189.3 L1882.4 188.2 L1886.6 187.1 L1890.9 186 L1895.1 184.9 L1899.4 183.8 L1903.6 182.8 L1907.9 181.7 L1912.1 180.6 L1916.4 179.6 L1920.6 178.5 L1924.9 177.5 L1929.1 176.5 L1933.4 175.4 L1937.6 174.4 L1941.9 173.3 L1946.1 172.3 L1950.4 171.3 L1954.6 170.3 L1958.9 169.2 L1963.2 168.2 L1967.4 167.2 L1971.7 166.2 L1975.9 165.2 L1980.2 164.1 L1984.5 163.1 L1988.7 162.1 L1993 161.1 L1997.2 160.1 L2001.5 159.1 L2005.7 158 L2010 157 L2010 237 L2005.8 238.1 L2001.5 239.2 L1997.3 240.3 L1993 241.4 L1988.8 242.5 L1984.5 243.6 L1980.3 244.7 L1976.1 245.8 L1971.8 246.9 L1967.6 248 L1963.3 249.1 L1959.1 250.2 L1954.8 251.3 L1950.6 252.4 L1946.4 253.5 L1942.1 254.6 L1937.9 255.7 L1933.6 256.8 L1929.4 257.9 L1925.1 259 L1920.9 260.1 L1916.7 261.2 L1912.4 262.3 L1908.2 263.4 L1903.9 264.5 L1899.7 265.6 L1895.5 266.7 L1891.2 267.8 L1887 269 L1882.8 270.1 L1878.5 271.2 L1874.3 272.3 L1870 273.4 L1865.8 274.6 L1861.6 275.7 L1857.3 276.8 L1853.1 278 L1848.9 279.1 L1844.6 280.2 L1840.4 281.3 L1836.2 282.5 L1831.9 283.6 L1827.7 284.8 L1823.5 285.9 L1819.2 287 L1815 288.2 L1810.8 289.3 L1806.5 290.5 L1802.3 291.6 L1798.1 292.7 L1793.9 293.9 L1789.6 295 L1785.4 296.2 L1781.2 297.3 L1776.9 298.4 L1772.7 299.6 L1768.5 300.7 L1764.2 301.9 L1760 303Z" fill="#fff" />
<path d="M1760 222 L1764.2 220.8 L1768.4 219.6 L1772.6 218.5 L1776.9 217.3 L1781.1 216.1 L1785.3 214.9 L1789.5 213.7 L1793.7 212.5 L1797.9 211.3 L1802.2 210.1 L1806.4 209 L1810.6 207.8 L1814.8 206.6 L1819 205.4 L1823.2 204.2 L1827.5 203.1 L1831.7 201.9 L1835.9 200.7 L1840.1 199.6 L1844.3 198.4 L1848.6 197.2 L1852.8 196.1 L1857 194.9 L1861.2 193.8 L1865.5 192.7 L1869.7 191.5 L1873.9 190.4 L1878.2 189.3 L1882.4 188.2 L1886.6 187.1 L1890.9 186 L1895.1 184.9 L1899.4 183.8 L1903.6 182.8 L1907.9 181.7 L1912.1 180.6 L1916.4 179.6 L1920.6 178.5 L1924.9 177.5 L1929.1 176.5 L1933.4 175.4 L1937.6 174.4 L1941.9 173.3 L1946.1 172.3 L1950.4 171.3 L1954.6 170.3 L1958.9 169.2 L1963.2 168.2 L1967.4 167.2 L1971.7 166.2 L1975.9 165.2 L1980.2 164.1 L1984.5 163.1 L1988.7 162.1 L1993 161.1 L1997.2 160.1 L2001.5 159.1 L2005.7 158 L2010 157" fill="none" stroke="#000" stroke-width="5" stroke-linecap="butt" stroke-linejoin="round" />
<path d="M1760 229.3 L1764.2 228.1 L1768.4 226.9 L1772.7 225.8 L1776.9 224.6 L1781.1 223.4 L1785.3 222.2 L1789.5 221 L1793.7 219.8 L1797.9 218.7 L1802.2 217.5 L1806.4 216.3 L1810.6 215.1 L1814.8 213.9 L1819 212.8 L1823.3 211.6 L1827.5 210.4 L1831.7 209.2 L1835.9 208.1 L1840.1 206.9 L1844.4 205.8 L1848.6 204.6 L1852.8 203.4 L1857 202.3 L1861.3 201.2 L1865.5 200 L1869.7 198.9 L1874 197.8 L1878.2 196.6 L1882.4 195.5 L1886.7 194.4 L1890.9 193.3 L1895.1 192.3 L1899.4 191.2 L1903.6 190.1 L1907.9 189 L1912.1 188 L1916.4 186.9 L1920.6 185.9 L1924.9 184.8 L1929.1 183.8 L1933.4 182.7 L1937.6 181.7 L1941.9 180.7 L1946.2 179.6 L1950.4 178.6 L1954.7 177.6 L1958.9 176.5 L1963.2 175.5 L1967.4 174.5 L1971.7 173.4 L1975.9 172.4 L1980.2 171.4 L1984.5 170.4 L1988.7 169.3 L1993 168.3 L1997.2 167.3 L2001.5 166.3 L2005.7 165.2 L2010 164.2" fill="none" stroke="#000" stroke-width="3.5" stroke-linecap="butt" stroke-linejoin="round" />
<path d="M1760 266.6 L1764.2 265.4 L1768.5 264.2 L1772.7 263.1 L1776.9 261.9 L1781.1 260.8 L1785.3 259.6 L1789.6 258.4 L1793.8 257.3 L1798 256.1 L1802.2 254.9 L1806.5 253.8 L1810.7 252.6 L1814.9 251.5 L1819.1 250.3 L1823.4 249.1 L1827.6 248 L1831.8 246.8 L1836 245.7 L1840.3 244.5 L1844.5 243.4 L1848.7 242.3 L1853 241.1 L1857.2 240 L1861.4 238.8 L1865.7 237.7 L1869.9 236.6 L1874.1 235.4 L1878.4 234.3 L1882.6 233.2 L1886.8 232.1 L1891.1 231 L1895.3 229.9 L1899.5 228.8 L1903.8 227.7 L1908 226.6 L1912.3 225.5 L1916.5 224.5 L1920.8 223.4 L1925 222.3 L1929.3 221.2 L1933.5 220.2 L1937.8 219.1 L1942 218 L1946.3 217 L1950.5 215.9 L1954.8 214.8 L1959 213.8 L1963.3 212.7 L1967.5 211.6 L1971.8 210.6 L1976 209.5 L1980.3 208.4 L1984.5 207.4 L1988.8 206.3 L1993 205.3 L1997.3 204.2 L2001.5 203.1 L2005.8 202.1 L2010 201" fill="none" stroke="#000" stroke-width="11" stroke-linecap="butt" stroke-linejoin="round" />
<path d="M1760 286.8 L1764.2 285.7 L1768.5 284.5 L1772.7 283.4 L1776.9 282.2 L1781.1 281.1 L1785.4 279.9 L1789.6 278.8 L1793.8 277.6 L1798.1 276.5 L1802.3 275.3 L1806.5 274.2 L1810.7 273 L1815 271.9 L1819.2 270.7 L1823.4 269.6 L1827.7 268.4 L1831.9 267.3 L1836.1 266.1 L1840.3 265 L1844.6 263.9 L1848.8 262.7 L1853 261.6 L1857.3 260.4 L1861.5 259.3 L1865.7 258.2 L1870 257 L1874.2 255.9 L1878.4 254.8 L1882.7 253.7 L1886.9 252.6 L1891.2 251.5 L1895.4 250.4 L1899.6 249.3 L1903.9 248.2 L1908.1 247.1 L1912.4 246 L1916.6 244.9 L1920.8 243.8 L1925.1 242.7 L1929.3 241.6 L1933.6 240.5 L1937.8 239.4 L1942.1 238.3 L1946.3 237.2 L1950.6 236.2 L1954.8 235.1 L1959 234 L1963.3 232.9 L1967.5 231.8 L1971.8 230.7 L1976 229.7 L1980.3 228.6 L1984.5 227.5 L1988.8 226.4 L1993 225.3 L1997.3 224.3 L2001.5 223.2 L2005.8 222.1 L2010 221" fill="none" stroke="#000" stroke-width="4" stroke-linecap="butt" stroke-linejoin="round" />
<path d="M1760 303 L1764.2 301.9 L1768.5 300.7 L1772.7 299.6 L1776.9 298.4 L1781.2 297.3 L1785.4 296.2 L1789.6 295 L1793.9 293.9 L1798.1 292.7 L1802.3 291.6 L1806.5 290.5 L1810.8 289.3 L1815 288.2 L1819.2 287 L1823.5 285.9 L1827.7 284.8 L1831.9 283.6 L1836.2 282.5 L1840.4 281.3 L1844.6 280.2 L1848.9 279.1 L1853.1 278 L1857.3 276.8 L1861.6 275.7 L1865.8 274.6 L1870 273.4 L1874.3 272.3 L1878.5 271.2 L1882.8 270.1 L1887 269 L1891.2 267.8 L1895.5 266.7 L1899.7 265.6 L1903.9 264.5 L1908.2 263.4 L1912.4 262.3 L1916.7 261.2 L1920.9 260.1 L1925.1 259 L1929.4 257.9 L1933.6 256.8 L1937.9 255.7 L1942.1 254.6 L1946.4 253.5 L1950.6 252.4 L1954.8 251.3 L1959.1 250.2 L1963.3 249.1 L1967.6 248 L1971.8 246.9 L1976.1 245.8 L1980.3 244.7 L1984.5 243.6 L1988.8 242.5 L1993 241.4 L1997.3 240.3 L2001.5 239.2 L2005.8 238.1 L2010 237" fill="none" stroke="#000" stroke-width="5.5" stroke-linecap="butt" stroke-linejoin="round" />
<path d="M1727 378C1726.2 372.5 1721.5 356 1722 345C1722.5 334 1725.7 321.5 1730 312C1734.3 302.5 1741.3 294.2 1748 288C1754.7 281.8 1766.3 277.2 1770 275" fill="none" stroke="#000" stroke-width="24" stroke-linecap="butt" stroke-linejoin="round" />
<path d="M1727 378C1726.2 372.5 1721.5 356 1722 345C1722.5 334 1725.7 321.5 1730 312C1734.3 302.5 1741.3 294.2 1748 288C1754.7 281.8 1766.3 277.2 1770 275" fill="none" stroke="#fff" stroke-width="15" stroke-linecap="butt" stroke-linejoin="round" />
<path d="M2010 157 L2014.8 156.1 L2019.6 155.1 L2024.4 154.2 L2029.2 153.2 L2034 152.2 L2038.9 151.3 L2043.7 150.3 L2048.5 149.3 L2053.3 148.4 L2058.1 147.4 L2062.9 146.5 L2067.7 145.6 L2072.5 144.6 L2077.3 143.7 L2082.2 142.8 L2087 141.9 L2091.8 141 L2096.6 140.2 L2101.5 139.4 L2106.3 138.6 L2111.1 137.8 L2116 137.1 L2120.9 136.5 L2125.7 135.8 L2130.6 135.3 L2135.5 134.8 L2140.3 134.3 L2145.2 134 L2150.1 133.9 L2155 133.8 L2159.9 133.8 L2164.8 134 L2169.7 134.1 L2174.6 134.4 L2179.5 134.6 L2184.4 135 L2189.3 135.4 L2194.2 135.9 L2199 136.6 L2203.9 137.4 L2208.7 138.3 L2213.5 139.4 L2218.2 140.6 L2222.9 142 L2227.6 143.6 L2232.2 145.3 L2236.7 147 L2241.3 149 L2245.7 150.9 L2250.2 152.9 L2254.7 155 L2259.1 157.1 L2263.5 159.2 L2267.9 161.3 L2272.3 163.5 L2276.8 165.6 L2281.2 167.8 L2285.6 169.9 L2290 172 L2258 246 L2254 244.1 L2250.1 242.1 L2246.2 240.2 L2242.3 238.2 L2238.3 236.2 L2234.4 234.3 L2230.5 232.3 L2226.5 230.4 L2222.6 228.5 L2218.6 226.6 L2214.6 224.7 L2210.6 222.9 L2206.6 221.1 L2202.6 219.4 L2198.5 217.7 L2194.4 216.2 L2190.3 214.8 L2186.1 213.5 L2181.8 212.4 L2177.5 211.5 L2173.2 210.7 L2168.8 210.2 L2164.5 209.8 L2160.1 209.5 L2155.7 209.2 L2151.3 209 L2146.9 208.6 L2142.6 208.3 L2138.2 208 L2133.8 208 L2129.4 208.2 L2125 208.6 L2120.7 209.1 L2116.3 209.8 L2112 210.6 L2107.7 211.5 L2103.4 212.4 L2099.1 213.4 L2094.9 214.4 L2090.6 215.5 L2086.3 216.5 L2082.1 217.6 L2077.8 218.7 L2073.6 219.8 L2069.3 220.9 L2065.1 222.1 L2060.9 223.2 L2056.6 224.3 L2052.4 225.5 L2048.1 226.6 L2043.9 227.8 L2039.7 228.9 L2035.4 230.1 L2031.2 231.3 L2027 232.4 L2022.7 233.6 L2018.5 234.7 L2014.2 235.9 L2010 237Z" fill="#fff" />
<path d="M2010 157 L2014.8 156.1 L2019.6 155.1 L2024.4 154.2 L2029.2 153.2 L2034 152.2 L2038.9 151.3 L2043.7 150.3 L2048.5 149.3 L2053.3 148.4 L2058.1 147.4 L2062.9 146.5 L2067.7 145.6 L2072.5 144.6 L2077.3 143.7 L2082.2 142.8 L2087 141.9 L2091.8 141 L2096.6 140.2 L2101.5 139.4 L2106.3 138.6 L2111.1 137.8 L2116 137.1 L2120.9 136.5 L2125.7 135.8 L2130.6 135.3 L2135.5 134.8 L2140.3 134.3 L2145.2 134 L2150.1 133.9 L2155 133.8 L2159.9 133.8 L2164.8 134 L2169.7 134.1 L2174.6 134.4 L2179.5 134.6 L2184.4 135 L2189.3 135.4 L2194.2 135.9 L2199 136.6 L2203.9 137.4 L2208.7 138.3 L2213.5 139.4 L2218.2 140.6 L2222.9 142 L2227.6 143.6 L2232.2 145.3 L2236.7 147 L2241.3 149 L2245.7 150.9 L2250.2 152.9 L2254.7 155 L2259.1 157.1 L2263.5 159.2 L2267.9 161.3 L2272.3 163.5 L2276.8 165.6 L2281.2 167.8 L2285.6 169.9 L2290 172" fill="none" stroke="#000" stroke-width="5" stroke-linecap="butt" stroke-linejoin="round" />
<path d="M2010 163.4 L2014.8 162.4 L2019.5 161.5 L2024.3 160.5 L2029.1 159.5 L2033.8 158.5 L2038.6 157.6 L2043.3 156.6 L2048.1 155.6 L2052.9 154.6 L2057.6 153.7 L2062.4 152.7 L2067.2 151.8 L2071.9 150.8 L2076.7 149.9 L2081.5 149 L2086.2 148.1 L2091 147.2 L2095.8 146.3 L2100.6 145.4 L2105.4 144.7 L2110.2 143.9 L2115 143.2 L2119.8 142.5 L2124.6 141.8 L2129.4 141.2 L2134.3 140.7 L2139.1 140.3 L2144 140 L2148.8 139.8 L2153.7 139.7 L2158.6 139.8 L2163.4 139.9 L2168.3 140.1 L2173.1 140.3 L2178 140.6 L2182.8 140.9 L2187.7 141.4 L2192.5 141.9 L2197.3 142.6 L2202.1 143.4 L2206.9 144.4 L2211.6 145.4 L2216.3 146.7 L2221 148 L2225.6 149.6 L2230.1 151.3 L2234.7 153.1 L2239.1 155 L2243.6 157 L2248 159 L2252.4 161 L2256.8 163.1 L2261.2 165.2 L2265.6 167.3 L2269.9 169.4 L2274.3 171.6 L2278.7 173.7 L2283 175.9 L2287.4 177.9" fill="none" stroke="#000" stroke-width="3.5" stroke-linecap="butt" stroke-linejoin="round" />
<path d="M2010 194.6 L2014.5 193.6 L2019.1 192.5 L2023.6 191.5 L2028.2 190.4 L2032.7 189.4 L2037.2 188.3 L2041.8 187.3 L2046.3 186.2 L2050.9 185.2 L2055.4 184.1 L2059.9 183.1 L2064.5 182 L2069 181 L2073.6 180 L2078.1 179 L2082.7 178 L2087.2 177 L2091.8 176.1 L2096.4 175.1 L2100.9 174.2 L2105.5 173.4 L2110.1 172.5 L2114.7 171.7 L2119.3 171 L2123.9 170.3 L2128.5 169.7 L2133.1 169.2 L2137.8 168.9 L2142.5 168.7 L2147.1 168.7 L2151.8 168.8 L2156.4 169.1 L2161.1 169.3 L2165.7 169.5 L2170.4 169.8 L2175 170.1 L2179.7 170.5 L2184.3 171.1 L2188.9 171.8 L2193.5 172.7 L2198 173.7 L2202.6 174.8 L2207 176.1 L2211.5 177.6 L2215.8 179.2 L2220.2 180.9 L2224.5 182.7 L2228.7 184.6 L2233 186.5 L2237.2 188.4 L2241.4 190.4 L2245.6 192.4 L2249.8 194.5 L2254 196.5 L2258.2 198.6 L2262.4 200.7 L2266.6 202.7 L2270.7 204.8 L2275 206.8" fill="none" stroke="#000" stroke-width="11" stroke-linecap="butt" stroke-linejoin="round" />
<path d="M2010 224.2 L2014.3 223.1 L2018.7 222 L2023 220.9 L2027.3 219.7 L2031.6 218.6 L2036 217.5 L2040.3 216.4 L2044.6 215.2 L2049 214.1 L2053.3 213 L2057.6 211.9 L2062 210.8 L2066.3 209.7 L2070.6 208.6 L2075 207.5 L2079.3 206.4 L2083.6 205.4 L2088 204.3 L2092.3 203.3 L2096.7 202.3 L2101.1 201.3 L2105.4 200.4 L2109.8 199.5 L2114.2 198.7 L2118.6 197.9 L2123 197.2 L2127.5 196.7 L2131.9 196.3 L2136.4 196.1 L2140.9 196.1 L2145.3 196.4 L2149.8 196.7 L2154.3 197 L2158.7 197.2 L2163.2 197.5 L2167.7 197.8 L2172.1 198.2 L2176.5 198.8 L2181 199.5 L2185.3 200.4 L2189.7 201.5 L2194 202.7 L2198.2 204.1 L2202.4 205.6 L2206.6 207.3 L2210.7 209 L2214.8 210.8 L2218.9 212.6 L2222.9 214.5 L2227 216.4 L2231 218.3 L2235 220.3 L2239.1 222.3 L2243.1 224.3 L2247.1 226.2 L2251.1 228.2 L2255.1 230.2 L2259.1 232.2 L2263.1 234.2" fill="none" stroke="#000" stroke-width="4" stroke-linecap="butt" stroke-linejoin="round" />
<path d="M2010 237 L2014.2 235.9 L2018.5 234.7 L2022.7 233.6 L2027 232.4 L2031.2 231.3 L2035.4 230.1 L2039.7 228.9 L2043.9 227.8 L2048.1 226.6 L2052.4 225.5 L2056.6 224.3 L2060.9 223.2 L2065.1 222.1 L2069.3 220.9 L2073.6 219.8 L2077.8 218.7 L2082.1 217.6 L2086.3 216.5 L2090.6 215.5 L2094.9 214.4 L2099.1 213.4 L2103.4 212.4 L2107.7 211.5 L2112 210.6 L2116.3 209.8 L2120.7 209.1 L2125 208.6 L2129.4 208.2 L2133.8 208 L2138.2 208 L2142.6 208.3 L2146.9 208.6 L2151.3 209 L2155.7 209.2 L2160.1 209.5 L2164.5 209.8 L2168.8 210.2 L2173.2 210.7 L2177.5 211.5 L2181.8 212.4 L2186.1 213.5 L2190.3 214.8 L2194.4 216.2 L2198.5 217.7 L2202.6 219.4 L2206.6 221.1 L2210.6 222.9 L2214.6 224.7 L2218.6 226.6 L2222.6 228.5 L2226.5 230.4 L2230.5 232.3 L2234.4 234.3 L2238.3 236.2 L2242.3 238.2 L2246.2 240.2 L2250.1 242.1 L2254 244.1 L2258 246" fill="none" stroke="#000" stroke-width="5.5" stroke-linecap="butt" stroke-linejoin="round" />
<path d="M2290 172 L2293.9 174.1 L2297.8 176.1 L2301.7 178.2 L2305.6 180.3 L2309.5 182.3 L2313.4 184.4 L2317.3 186.5 L2321.2 188.5 L2325.1 190.6 L2329 192.7 L2332.9 194.7 L2336.8 196.8 L2340.7 198.9 L2344.6 200.9 L2348.5 203 L2352.4 205.1 L2356.3 207.2 L2360.2 209.2 L2364.1 211.3 L2368 213.4 L2371.9 215.4 L2375.8 217.5 L2379.7 219.6 L2383.6 221.6 L2387.5 223.7 L2391.4 225.8 L2395.3 227.8 L2399.2 229.9 L2403.1 232 L2406.9 234 L2410.8 236.1 L2414.7 238.2 L2418.6 240.2 L2422.5 242.3 L2426.4 244.4 L2430.3 246.4 L2434.2 248.5 L2438.1 250.6 L2442 252.6 L2445.9 254.7 L2449.8 256.8 L2453.7 258.8 L2457.6 260.9 L2461.5 263 L2465.4 265.1 L2469.3 267.1 L2473.2 269.2 L2477.1 271.3 L2481 273.3 L2484.9 275.4 L2488.8 277.5 L2492.7 279.5 L2496.6 281.6 L2500.5 283.7 L2504.4 285.7 L2508.3 287.8 L2512.2 289.9 L2516.1 291.9 L2520 294 L2484 364 L2480.2 362 L2476.3 360 L2472.5 358 L2468.7 356 L2464.8 354 L2461 352 L2457.2 350 L2453.4 348 L2449.5 346 L2445.7 344 L2441.9 342 L2438 340 L2434.2 338 L2430.4 336 L2426.5 334 L2422.7 332 L2418.9 330 L2415.1 328 L2411.2 326 L2407.4 324 L2403.6 322 L2399.7 320 L2395.9 318 L2392.1 316 L2388.2 314 L2384.4 312 L2380.6 310 L2376.7 308 L2372.9 306 L2369.1 304 L2365.3 302 L2361.4 300 L2357.6 298 L2353.8 296 L2349.9 294 L2346.1 292 L2342.3 290 L2338.4 288 L2334.6 286 L2330.8 284 L2326.9 282 L2323.1 280 L2319.3 278 L2315.5 276 L2311.6 274 L2307.8 272 L2304 270 L2300.1 268 L2296.3 266 L2292.5 264 L2288.6 262 L2284.8 260 L2281 258 L2277.2 256 L2273.3 254 L2269.5 252 L2265.7 250 L2261.8 248 L2258 246Z" fill="#fff" />
<path d="M2290 172 L2293.9 174.1 L2297.8 176.1 L2301.7 178.2 L2305.6 180.3 L2309.5 182.3 L2313.4 184.4 L2317.3 186.5 L2321.2 188.5 L2325.1 190.6 L2329 192.7 L2332.9 194.7 L2336.8 196.8 L2340.7 198.9 L2344.6 200.9 L2348.5 203 L2352.4 205.1 L2356.3 207.2 L2360.2 209.2 L2364.1 211.3 L2368 213.4 L2371.9 215.4 L2375.8 217.5 L2379.7 219.6 L2383.6 221.6 L2387.5 223.7 L2391.4 225.8 L2395.3 227.8 L2399.2 229.9 L2403.1 232 L2406.9 234 L2410.8 236.1 L2414.7 238.2 L2418.6 240.2 L2422.5 242.3 L2426.4 244.4 L2430.3 246.4 L2434.2 248.5 L2438.1 250.6 L2442 252.6 L2445.9 254.7 L2449.8 256.8 L2453.7 258.8 L2457.6 260.9 L2461.5 263 L2465.4 265.1 L2469.3 267.1 L2473.2 269.2 L2477.1 271.3 L2481 273.3 L2484.9 275.4 L2488.8 277.5 L2492.7 279.5 L2496.6 281.6 L2500.5 283.7 L2504.4 285.7 L2508.3 287.8 L2512.2 289.9 L2516.1 291.9 L2520 294" fill="none" stroke="#000" stroke-width="5" stroke-linecap="butt" stroke-linejoin="round" />
<path d="M2284.6 184.6 L2288.4 186.6 L2292.3 188.7 L2296.2 190.7 L2300.1 192.8 L2304 194.9 L2307.9 196.9 L2311.8 199 L2315.7 201 L2319.5 203.1 L2323.4 205.1 L2327.3 207.2 L2331.2 209.3 L2335.1 211.3 L2339 213.4 L2342.9 215.4 L2346.7 217.5 L2350.6 219.5 L2354.5 221.6 L2358.4 223.6 L2362.3 225.7 L2366.2 227.8 L2370.1 229.8 L2374 231.9 L2377.8 233.9 L2381.7 236 L2385.6 238 L2389.5 240.1 L2393.4 242.2 L2397.3 244.2 L2401.2 246.3 L2405.1 248.3 L2408.9 250.4 L2412.8 252.4 L2416.7 254.5 L2420.6 256.5 L2424.5 258.6 L2428.4 260.7 L2432.3 262.7 L2436.1 264.8 L2440 266.8 L2443.9 268.9 L2447.8 270.9 L2451.7 273 L2455.6 275.1 L2459.5 277.1 L2463.4 279.2 L2467.2 281.2 L2471.1 283.3 L2475 285.3 L2478.9 287.4 L2482.8 289.4 L2486.7 291.5 L2490.6 293.6 L2494.4 295.6 L2498.3 297.7 L2502.2 299.7 L2506.1 301.8 L2510 303.8 L2513.9 305.9" fill="none" stroke="#000" stroke-width="4" stroke-linecap="butt" stroke-linejoin="round" />
<path d="M2274 209 L2277.9 211 L2281.7 213.1 L2285.6 215.1 L2289.5 217.1 L2293.3 219.2 L2297.2 221.2 L2301.1 223.2 L2304.9 225.3 L2308.8 227.3 L2312.6 229.3 L2316.5 231.4 L2320.4 233.4 L2324.2 235.4 L2328.1 237.5 L2332 239.5 L2335.8 241.5 L2339.7 243.6 L2343.6 245.6 L2347.4 247.6 L2351.3 249.7 L2355.2 251.7 L2359 253.7 L2362.9 255.8 L2366.7 257.8 L2370.6 259.8 L2374.5 261.9 L2378.3 263.9 L2382.2 265.9 L2386.1 268 L2389.9 270 L2393.8 272.1 L2397.7 274.1 L2401.5 276.1 L2405.4 278.2 L2409.3 280.2 L2413.1 282.2 L2417 284.3 L2420.8 286.3 L2424.7 288.3 L2428.6 290.4 L2432.4 292.4 L2436.3 294.4 L2440.2 296.5 L2444 298.5 L2447.9 300.5 L2451.8 302.6 L2455.6 304.6 L2459.5 306.6 L2463.4 308.7 L2467.2 310.7 L2471.1 312.7 L2474.9 314.8 L2478.8 316.8 L2482.7 318.8 L2486.5 320.9 L2490.4 322.9 L2494.3 324.9 L2498.1 327 L2502 329" fill="none" stroke="#000" stroke-width="12" stroke-linecap="butt" stroke-linejoin="round" />
<path d="M2263.4 233.4 L2267.3 235.4 L2271.1 237.4 L2275 239.5 L2278.8 241.5 L2282.7 243.5 L2286.5 245.5 L2290.3 247.5 L2294.2 249.5 L2298 251.5 L2301.9 253.5 L2305.7 255.5 L2309.5 257.6 L2313.4 259.6 L2317.2 261.6 L2321.1 263.6 L2324.9 265.6 L2328.8 267.6 L2332.6 269.6 L2336.4 271.6 L2340.3 273.7 L2344.1 275.7 L2348 277.7 L2351.8 279.7 L2355.6 281.7 L2359.5 283.7 L2363.3 285.7 L2367.2 287.7 L2371 289.7 L2374.9 291.8 L2378.7 293.8 L2382.5 295.8 L2386.4 297.8 L2390.2 299.8 L2394.1 301.8 L2397.9 303.8 L2401.8 305.8 L2405.6 307.8 L2409.4 309.9 L2413.3 311.9 L2417.1 313.9 L2421 315.9 L2424.8 317.9 L2428.6 319.9 L2432.5 321.9 L2436.3 323.9 L2440.2 326 L2444 328 L2447.9 330 L2451.7 332 L2455.5 334 L2459.4 336 L2463.2 338 L2467.1 340 L2470.9 342 L2474.8 344.1 L2478.6 346.1 L2482.4 348.1 L2486.3 350.1 L2490.1 352.1" fill="none" stroke="#000" stroke-width="4" stroke-linecap="butt" stroke-linejoin="round" />
<path d="M2258 246 L2261.8 248 L2265.7 250 L2269.5 252 L2273.3 254 L2277.2 256 L2281 258 L2284.8 260 L2288.6 262 L2292.5 264 L2296.3 266 L2300.1 268 L2304 270 L2307.8 272 L2311.6 274 L2315.5 276 L2319.3 278 L2323.1 280 L2326.9 282 L2330.8 284 L2334.6 286 L2338.4 288 L2342.3 290 L2346.1 292 L2349.9 294 L2353.8 296 L2357.6 298 L2361.4 300 L2365.3 302 L2369.1 304 L2372.9 306 L2376.7 308 L2380.6 310 L2384.4 312 L2388.2 314 L2392.1 316 L2395.9 318 L2399.7 320 L2403.6 322 L2407.4 324 L2411.2 326 L2415.1 328 L2418.9 330 L2422.7 332 L2426.5 334 L2430.4 336 L2434.2 338 L2438 340 L2441.9 342 L2445.7 344 L2449.5 346 L2453.4 348 L2457.2 350 L2461 352 L2464.8 354 L2468.7 356 L2472.5 358 L2476.3 360 L2480.2 362 L2484 364" fill="none" stroke="#000" stroke-width="5.5" stroke-linecap="butt" stroke-linejoin="round" />
<path d="M2520 294 L2523.3 295.7 L2526.6 297.4 L2529.9 299.1 L2533.2 300.8 L2536.5 302.5 L2539.8 304.2 L2543.1 305.9 L2546.4 307.6 L2549.7 309.3 L2553.1 310.9 L2556.4 312.6 L2559.7 314.3 L2563 316 L2566.3 317.7 L2569.6 319.4 L2572.9 321.1 L2576.2 322.8 L2579.5 324.5 L2582.8 326.2 L2586.1 327.9 L2589.4 329.6 L2592.7 331.3 L2596 333 L2599.3 334.7 L2602.6 336.4 L2605.9 338.1 L2609.2 339.8 L2612.5 341.5 L2615.8 343.2 L2619.2 344.8 L2622.5 346.5 L2625.8 348.2 L2629.1 349.9 L2632.4 351.6 L2635.7 353.3 L2639 355 L2642.3 356.7 L2645.6 358.4 L2648.9 360.1 L2652.2 361.8 L2655.5 363.5 L2658.8 365.2 L2662.1 366.9 L2665.4 368.6 L2668.7 370.3 L2672 372 L2675.3 373.7 L2678.6 375.4 L2681.9 377.1 L2685.3 378.7 L2688.6 380.4 L2691.9 382.1 L2695.2 383.8 L2698.5 385.5 L2701.8 387.2 L2705.1 388.9 L2708.4 390.6 L2711.7 392.3 L2715 394 L2679 464 L2675.7 462.3 L2672.4 460.6 L2669.1 458.9 L2665.8 457.2 L2662.5 455.5 L2659.2 453.8 L2655.9 452.1 L2652.6 450.4 L2649.3 448.7 L2645.9 447.1 L2642.6 445.4 L2639.3 443.7 L2636 442 L2632.7 440.3 L2629.4 438.6 L2626.1 436.9 L2622.8 435.2 L2619.5 433.5 L2616.2 431.8 L2612.9 430.1 L2609.6 428.4 L2606.3 426.7 L2603 425 L2599.7 423.3 L2596.4 421.6 L2593.1 419.9 L2589.8 418.2 L2586.5 416.5 L2583.2 414.8 L2579.8 413.2 L2576.5 411.5 L2573.2 409.8 L2569.9 408.1 L2566.6 406.4 L2563.3 404.7 L2560 403 L2556.7 401.3 L2553.4 399.6 L2550.1 397.9 L2546.8 396.2 L2543.5 394.5 L2540.2 392.8 L2536.9 391.1 L2533.6 389.4 L2530.3 387.7 L2527 386 L2523.7 384.3 L2520.4 382.6 L2517.1 380.9 L2513.7 379.3 L2510.4 377.6 L2507.1 375.9 L2503.8 374.2 L2500.5 372.5 L2497.2 370.8 L2493.9 369.1 L2490.6 367.4 L2487.3 365.7 L2484 364Z" fill="#fff" />
<path d="M2520 294 L2523.3 295.7 L2526.6 297.4 L2529.9 299.1 L2533.2 300.8 L2536.5 302.5 L2539.8 304.2 L2543.1 305.9 L2546.4 307.6 L2549.7 309.3 L2553.1 310.9 L2556.4 312.6 L2559.7 314.3 L2563 316 L2566.3 317.7 L2569.6 319.4 L2572.9 321.1 L2576.2 322.8 L2579.5 324.5 L2582.8 326.2 L2586.1 327.9 L2589.4 329.6 L2592.7 331.3 L2596 333 L2599.3 334.7 L2602.6 336.4 L2605.9 338.1 L2609.2 339.8 L2612.5 341.5 L2615.8 343.2 L2619.2 344.8 L2622.5 346.5 L2625.8 348.2 L2629.1 349.9 L2632.4 351.6 L2635.7 353.3 L2639 355 L2642.3 356.7 L2645.6 358.4 L2648.9 360.1 L2652.2 361.8 L2655.5 363.5 L2658.8 365.2 L2662.1 366.9 L2665.4 368.6 L2668.7 370.3 L2672 372 L2675.3 373.7 L2678.6 375.4 L2681.9 377.1 L2685.3 378.7 L2688.6 380.4 L2691.9 382.1 L2695.2 383.8 L2698.5 385.5 L2701.8 387.2 L2705.1 388.9 L2708.4 390.6 L2711.7 392.3 L2715 394" fill="none" stroke="#000" stroke-width="5" stroke-linecap="butt" stroke-linejoin="round" />
<path d="M2513.9 305.9 L2517.2 307.6 L2520.5 309.3 L2523.8 311 L2527.1 312.7 L2530.4 314.4 L2533.7 316.1 L2537 317.8 L2540.3 319.5 L2543.6 321.2 L2546.9 322.8 L2550.2 324.5 L2553.5 326.2 L2556.8 327.9 L2560.2 329.6 L2563.5 331.3 L2566.8 333 L2570.1 334.7 L2573.4 336.4 L2576.7 338.1 L2580 339.8 L2583.3 341.5 L2586.6 343.2 L2589.9 344.9 L2593.2 346.6 L2596.5 348.3 L2599.8 350 L2603.1 351.7 L2606.4 353.4 L2609.7 355.1 L2613 356.7 L2616.3 358.4 L2619.6 360.1 L2622.9 361.8 L2626.3 363.5 L2629.6 365.2 L2632.9 366.9 L2636.2 368.6 L2639.5 370.3 L2642.8 372 L2646.1 373.7 L2649.4 375.4 L2652.7 377.1 L2656 378.8 L2659.3 380.5 L2662.6 382.2 L2665.9 383.9 L2669.2 385.6 L2672.5 387.3 L2675.8 389 L2679.1 390.6 L2682.4 392.3 L2685.7 394 L2689 395.7 L2692.4 397.4 L2695.7 399.1 L2699 400.8 L2702.3 402.5 L2705.6 404.2 L2708.9 405.9" fill="none" stroke="#000" stroke-width="4" stroke-linecap="butt" stroke-linejoin="round" />
<path d="M2502 329 L2505.3 330.7 L2508.6 332.4 L2511.9 334.1 L2515.2 335.8 L2518.5 337.5 L2521.8 339.2 L2525.1 340.9 L2528.4 342.6 L2531.7 344.3 L2535.1 345.9 L2538.4 347.6 L2541.7 349.3 L2545 351 L2548.3 352.7 L2551.6 354.4 L2554.9 356.1 L2558.2 357.8 L2561.5 359.5 L2564.8 361.2 L2568.1 362.9 L2571.4 364.6 L2574.7 366.3 L2578 368 L2581.3 369.7 L2584.6 371.4 L2587.9 373.1 L2591.2 374.8 L2594.5 376.5 L2597.8 378.2 L2601.2 379.8 L2604.5 381.5 L2607.8 383.2 L2611.1 384.9 L2614.4 386.6 L2617.7 388.3 L2621 390 L2624.3 391.7 L2627.6 393.4 L2630.9 395.1 L2634.2 396.8 L2637.5 398.5 L2640.8 400.2 L2644.1 401.9 L2647.4 403.6 L2650.7 405.3 L2654 407 L2657.3 408.7 L2660.6 410.4 L2663.9 412.1 L2667.3 413.7 L2670.6 415.4 L2673.9 417.1 L2677.2 418.8 L2680.5 420.5 L2683.8 422.2 L2687.1 423.9 L2690.4 425.6 L2693.7 427.3 L2697 429" fill="none" stroke="#000" stroke-width="12" stroke-linecap="butt" stroke-linejoin="round" />
<path d="M2490.1 352.1 L2493.4 353.8 L2496.7 355.5 L2500 357.2 L2503.3 358.9 L2506.6 360.6 L2510 362.3 L2513.3 364 L2516.6 365.7 L2519.9 367.4 L2523.2 369 L2526.5 370.7 L2529.8 372.4 L2533.1 374.1 L2536.4 375.8 L2539.7 377.5 L2543 379.2 L2546.3 380.9 L2549.6 382.6 L2552.9 384.3 L2556.2 386 L2559.5 387.7 L2562.8 389.4 L2566.1 391.1 L2569.4 392.8 L2572.7 394.5 L2576.1 396.2 L2579.4 397.9 L2582.7 399.6 L2586 401.3 L2589.3 402.9 L2592.6 404.6 L2595.9 406.3 L2599.2 408 L2602.5 409.7 L2605.8 411.4 L2609.1 413.1 L2612.4 414.8 L2615.7 416.5 L2619 418.2 L2622.3 419.9 L2625.6 421.6 L2628.9 423.3 L2632.2 425 L2635.5 426.7 L2638.8 428.4 L2642.2 430.1 L2645.5 431.8 L2648.8 433.5 L2652.1 435.2 L2655.4 436.8 L2658.7 438.5 L2662 440.2 L2665.3 441.9 L2668.6 443.6 L2671.9 445.3 L2675.2 447 L2678.5 448.7 L2681.8 450.4 L2685.1 452.1" fill="none" stroke="#000" stroke-width="4" stroke-linecap="butt" stroke-linejoin="round" />
<path d="M2484 364 L2487.3 365.7 L2490.6 367.4 L2493.9 369.1 L2497.2 370.8 L2500.5 372.5 L2503.8 374.2 L2507.1 375.9 L2510.4 377.6 L2513.7 379.3 L2517.1 380.9 L2520.4 382.6 L2523.7 384.3 L2527 386 L2530.3 387.7 L2533.6 389.4 L2536.9 391.1 L2540.2 392.8 L2543.5 394.5 L2546.8 396.2 L2550.1 397.9 L2553.4 399.6 L2556.7 401.3 L2560 403 L2563.3 404.7 L2566.6 406.4 L2569.9 408.1 L2573.2 409.8 L2576.5 411.5 L2579.8 413.2 L2583.2 414.8 L2586.5 416.5 L2589.8 418.2 L2593.1 419.9 L2596.4 421.6 L2599.7 423.3 L2603 425 L2606.3 426.7 L2609.6 428.4 L2612.9 430.1 L2616.2 431.8 L2619.5 433.5 L2622.8 435.2 L2626.1 436.9 L2629.4 438.6 L2632.7 440.3 L2636 442 L2639.3 443.7 L2642.6 445.4 L2645.9 447.1 L2649.3 448.7 L2652.6 450.4 L2655.9 452.1 L2659.2 453.8 L2662.5 455.5 L2665.8 457.2 L2669.1 458.9 L2672.4 460.6 L2675.7 462.3 L2679 464" fill="none" stroke="#000" stroke-width="5.5" stroke-linecap="butt" stroke-linejoin="round" />
<path d="M2715 394 L2718 395.5 L2720.9 397 L2723.9 398.5 L2726.9 400 L2729.8 401.5 L2732.8 402.9 L2735.8 404.4 L2738.7 405.9 L2741.7 407.4 L2744.7 408.9 L2747.6 410.4 L2750.6 411.9 L2753.6 413.4 L2756.5 414.9 L2759.5 416.4 L2762.5 417.9 L2765.4 419.4 L2768.4 420.8 L2771.4 422.3 L2774.3 423.8 L2777.3 425.3 L2780.3 426.8 L2783.2 428.3 L2786.2 429.8 L2789.2 431.3 L2792.1 432.8 L2795.1 434.3 L2798.1 435.8 L2801 437.3 L2804 438.7 L2806.9 440.2 L2809.9 441.7 L2812.9 443.2 L2815.8 444.7 L2818.8 446.2 L2821.8 447.7 L2824.7 449.2 L2827.7 450.7 L2830.7 452.2 L2833.6 453.7 L2836.6 455.2 L2839.6 456.6 L2842.5 458.1 L2845.5 459.6 L2848.5 461.1 L2851.4 462.6 L2854.4 464.1 L2857.4 465.6 L2860.3 467.1 L2863.3 468.6 L2866.3 470.1 L2869.2 471.6 L2872.2 473.1 L2875.2 474.5 L2878.1 476 L2881.1 477.5 L2884.1 479 L2887 480.5 L2890 482 L2834 546 L2831.4 544.6 L2828.7 543.2 L2826.1 541.8 L2823.5 540.4 L2820.9 539.1 L2818.2 537.7 L2815.6 536.3 L2813 534.9 L2810.4 533.5 L2807.7 532.1 L2805.1 530.7 L2802.5 529.3 L2799.8 527.9 L2797.2 526.5 L2794.6 525.2 L2792 523.8 L2789.3 522.4 L2786.7 521 L2784.1 519.6 L2781.5 518.2 L2778.8 516.8 L2776.2 515.4 L2773.6 514 L2770.9 512.6 L2768.3 511.3 L2765.7 509.9 L2763.1 508.5 L2760.4 507.1 L2757.8 505.7 L2755.2 504.3 L2752.6 502.9 L2749.9 501.5 L2747.3 500.1 L2744.7 498.7 L2742.1 497.4 L2739.4 496 L2736.8 494.6 L2734.2 493.2 L2731.5 491.8 L2728.9 490.4 L2726.3 489 L2723.7 487.6 L2721 486.2 L2718.4 484.8 L2715.8 483.5 L2713.2 482.1 L2710.5 480.7 L2707.9 479.3 L2705.3 477.9 L2702.6 476.5 L2700 475.1 L2697.4 473.7 L2694.8 472.3 L2692.1 470.9 L2689.5 469.6 L2686.9 468.2 L2684.3 466.8 L2681.6 465.4 L2679 464Z" fill="#fff" />
<path d="M2715 394 L2718 395.5 L2720.9 397 L2723.9 398.5 L2726.9 400 L2729.8 401.5 L2732.8 402.9 L2735.8 404.4 L2738.7 405.9 L2741.7 407.4 L2744.7 408.9 L2747.6 410.4 L2750.6 411.9 L2753.6 413.4 L2756.5 414.9 L2759.5 416.4 L2762.5 417.9 L2765.4 419.4 L2768.4 420.8 L2771.4 422.3 L2774.3 423.8 L2777.3 425.3 L2780.3 426.8 L2783.2 428.3 L2786.2 429.8 L2789.2 431.3 L2792.1 432.8 L2795.1 434.3 L2798.1 435.8 L2801 437.3 L2804 438.7 L2806.9 440.2 L2809.9 441.7 L2812.9 443.2 L2815.8 444.7 L2818.8 446.2 L2821.8 447.7 L2824.7 449.2 L2827.7 450.7 L2830.7 452.2 L2833.6 453.7 L2836.6 455.2 L2839.6 456.6 L2842.5 458.1 L2845.5 459.6 L2848.5 461.1 L2851.4 462.6 L2854.4 464.1 L2857.4 465.6 L2860.3 467.1 L2863.3 468.6 L2866.3 470.1 L2869.2 471.6 L2872.2 473.1 L2875.2 474.5 L2878.1 476 L2881.1 477.5 L2884.1 479 L2887 480.5 L2890 482" fill="none" stroke="#000" stroke-width="5" stroke-linecap="butt" stroke-linejoin="round" />
<path d="M2708.9 405.9 L2711.8 407.4 L2714.7 408.8 L2717.6 410.3 L2720.5 411.8 L2723.4 413.3 L2726.3 414.7 L2729.2 416.2 L2732.1 417.7 L2735.1 419.2 L2738 420.6 L2740.9 422.1 L2743.8 423.6 L2746.7 425.1 L2749.6 426.5 L2752.5 428 L2755.4 429.5 L2758.3 431 L2761.2 432.4 L2764.1 433.9 L2767 435.4 L2770 436.9 L2772.9 438.3 L2775.8 439.8 L2778.7 441.3 L2781.6 442.8 L2784.5 444.2 L2787.4 445.7 L2790.3 447.2 L2793.2 448.7 L2796.1 450.1 L2799 451.6 L2802 453.1 L2804.9 454.5 L2807.8 456 L2810.7 457.5 L2813.6 459 L2816.5 460.4 L2819.4 461.9 L2822.3 463.4 L2825.2 464.9 L2828.1 466.3 L2831 467.8 L2833.9 469.3 L2836.9 470.8 L2839.8 472.2 L2842.7 473.7 L2845.6 475.2 L2848.5 476.7 L2851.4 478.1 L2854.3 479.6 L2857.2 481.1 L2860.1 482.6 L2863 484 L2865.9 485.5 L2868.8 487 L2871.8 488.5 L2874.7 489.9 L2877.6 491.4 L2880.5 492.9" fill="none" stroke="#000" stroke-width="4" stroke-linecap="butt" stroke-linejoin="round" />
<path d="M2697 429 L2699.8 430.4 L2702.6 431.9 L2705.4 433.3 L2708.2 434.8 L2711 436.2 L2713.8 437.6 L2716.6 439.1 L2719.4 440.5 L2722.2 442 L2725 443.4 L2727.8 444.8 L2730.6 446.3 L2733.4 447.7 L2736.2 449.2 L2738.9 450.6 L2741.7 452.1 L2744.5 453.5 L2747.3 454.9 L2750.1 456.4 L2752.9 457.8 L2755.7 459.3 L2758.5 460.7 L2761.3 462.1 L2764.1 463.6 L2766.9 465 L2769.7 466.5 L2772.5 467.9 L2775.3 469.3 L2778.1 470.8 L2780.9 472.2 L2783.7 473.7 L2786.5 475.1 L2789.3 476.5 L2792.1 478 L2794.9 479.4 L2797.7 480.9 L2800.5 482.3 L2803.3 483.7 L2806.1 485.2 L2808.9 486.6 L2811.7 488.1 L2814.5 489.5 L2817.3 490.9 L2820.1 492.4 L2822.8 493.8 L2825.6 495.3 L2828.4 496.7 L2831.2 498.2 L2834 499.6 L2836.8 501 L2839.6 502.5 L2842.4 503.9 L2845.2 505.4 L2848 506.8 L2850.8 508.2 L2853.6 509.7 L2856.4 511.1 L2859.2 512.6 L2862 514" fill="none" stroke="#000" stroke-width="12" stroke-linecap="butt" stroke-linejoin="round" />
<path d="M2685.1 452.1 L2687.8 453.5 L2690.5 454.9 L2693.2 456.3 L2695.9 457.7 L2698.5 459.1 L2701.2 460.5 L2703.9 461.9 L2706.6 463.4 L2709.3 464.8 L2712 466.2 L2714.7 467.6 L2717.3 469 L2720 470.4 L2722.7 471.8 L2725.4 473.2 L2728.1 474.6 L2730.8 476 L2733.4 477.4 L2736.1 478.8 L2738.8 480.2 L2741.5 481.6 L2744.2 483.1 L2746.9 484.5 L2749.6 485.9 L2752.2 487.3 L2754.9 488.7 L2757.6 490.1 L2760.3 491.5 L2763 492.9 L2765.7 494.3 L2768.3 495.7 L2771 497.1 L2773.7 498.5 L2776.4 499.9 L2779.1 501.3 L2781.8 502.8 L2784.5 504.2 L2787.1 505.6 L2789.8 507 L2792.5 508.4 L2795.2 509.8 L2797.9 511.2 L2800.6 512.6 L2803.2 514 L2805.9 515.4 L2808.6 516.8 L2811.3 518.2 L2814 519.6 L2816.7 521 L2819.4 522.5 L2822 523.9 L2824.7 525.3 L2827.4 526.7 L2830.1 528.1 L2832.8 529.5 L2835.5 530.9 L2838.2 532.3 L2840.8 533.7 L2843.5 535.1" fill="none" stroke="#000" stroke-width="4" stroke-linecap="butt" stroke-linejoin="round" />
<path d="M2679 464 L2681.6 465.4 L2684.3 466.8 L2686.9 468.2 L2689.5 469.6 L2692.1 470.9 L2694.8 472.3 L2697.4 473.7 L2700 475.1 L2702.6 476.5 L2705.3 477.9 L2707.9 479.3 L2710.5 480.7 L2713.2 482.1 L2715.8 483.5 L2718.4 484.8 L2721 486.2 L2723.7 487.6 L2726.3 489 L2728.9 490.4 L2731.5 491.8 L2734.2 493.2 L2736.8 494.6 L2739.4 496 L2742.1 497.4 L2744.7 498.7 L2747.3 500.1 L2749.9 501.5 L2752.6 502.9 L2755.2 504.3 L2757.8 505.7 L2760.4 507.1 L2763.1 508.5 L2765.7 509.9 L2768.3 511.3 L2770.9 512.6 L2773.6 514 L2776.2 515.4 L2778.8 516.8 L2781.5 518.2 L2784.1 519.6 L2786.7 521 L2789.3 522.4 L2792 523.8 L2794.6 525.2 L2797.2 526.5 L2799.8 527.9 L2802.5 529.3 L2805.1 530.7 L2807.7 532.1 L2810.4 533.5 L2813 534.9 L2815.6 536.3 L2818.2 537.7 L2820.9 539.1 L2823.5 540.4 L2826.1 541.8 L2828.7 543.2 L2831.4 544.6 L2834 546" fill="none" stroke="#000" stroke-width="5.5" stroke-linecap="butt" stroke-linejoin="round" />
<path d="M2890 482 L2894.9 485.8 L2899.9 489.5 L2904.9 493.2 L2909.9 496.9 L2914.9 500.7 L2919.9 504.4 L2924.8 508.2 L2929.7 512 L2934.6 515.9 L2939.4 519.9 L2944.2 523.9 L2948.8 528 L2953.3 532.3 L2957.6 536.8 L2961.8 541.5 L2965.7 546.3 L2969.4 551.3 L2972.8 556.5 L2976.1 561.8 L2979.1 567.3 L2981.9 572.8 L2984.7 578.4 L2987.3 584 L2989.7 589.8 L2992 595.6 L2994.2 601.4 L2996.2 607.3 L2998.2 613.2 L3000 619.1 L3001.7 625.1 L3003.3 631.1 L3004.8 637.2 L3006.1 643.3 L3007.3 649.4 L3008.3 655.5 L3009.1 661.7 L3009.8 667.9 L3010.4 674.1 L3010.9 680.3 L3011.3 686.5 L3011.7 692.7 L3012 698.9 L3012.2 705.2 L3012.2 711.4 L3012 717.6 L3011.7 723.8 L3011.4 730 L3011.2 736.3 L3010.9 742.5 L3010.9 748.7 L3011.1 754.9 L3011.5 761.1 L3012.2 767.3 L3013 773.5 L3013.8 779.7 L3014.7 785.9 L3015.4 792 L3015.9 798.2 L3016.1 804.5 L3016.1 810.7 L3015.9 816.9 L3015.6 823.1 L3015.4 829.4 L3015.3 835.6 L3015.4 841.8 L3015.8 848 L3016.5 854.2 L3017.3 860.4 L3018.3 866.5 L3019.4 872.6 L3020.8 878.7 L3022.8 884.6 L3025.2 890.3 L3028.5 895.6 L3032.3 900.5 L3036.7 905 L3041.4 909 L3046.6 912.5 L3052.1 915.4 L3057.8 917.8 L3063.7 919.6 L3069.8 921 L3076 921.8 L3082.2 922 L3088.4 921.9 L3094.7 921.6 L3100.9 921.2 L3107.1 920.9 L3113.3 920.6 L3119.5 920.3 L3125.7 920.1 L3132 920 L3138.2 919.8 L3144.4 919.7 L3150.6 919.5 L3156.9 919.3 L3163.1 919.2 L3169.3 919 L3175.5 918.8 L3181.8 918.6 L3188 918.4 L3194.2 918.2 L3200.4 918.1 L3206.7 917.9 L3212.9 917.7 L3219.1 917.5 L3225.3 917.3 L3231.5 917.1 L3237.8 916.9 L3244 916.7 L3250.2 916.5 L3256.4 916.3 L3262.7 916.2 L3268.9 916 L3275.1 915.8 L3281.3 915.6 L3287.6 915.4 L3293.8 915.2 L3300 915 L3300 1006 L3293.3 1006 L3286.6 1006.1 L3279.9 1006.2 L3273.2 1006.3 L3266.5 1006.4 L3259.7 1006.5 L3253 1006.5 L3246.3 1006.6 L3239.6 1006.7 L3232.9 1006.8 L3226.2 1006.9 L3219.5 1007 L3212.8 1007 L3206.1 1007.1 L3199.4 1007.1 L3192.6 1007.2 L3185.9 1007.2 L3179.2 1007.2 L3172.5 1007.2 L3165.8 1007.1 L3159.1 1007.1 L3152.4 1007 L3145.7 1006.9 L3139 1006.7 L3132.3 1006.5 L3125.6 1006.2 L3118.9 1005.9 L3112.2 1005.5 L3105.5 1005 L3098.8 1004.4 L3092.1 1003.7 L3085.5 1002.9 L3078.8 1002 L3072.2 1000.9 L3065.6 999.5 L3059.1 997.9 L3052.7 996.1 L3046.3 994 L3039.9 991.8 L3033.7 989.4 L3027.5 986.9 L3021.4 984 L3015.5 980.8 L3009.7 977.5 L3004 973.9 L2998.4 970.2 L2992.9 966.4 L2987.5 962.4 L2982.2 958.3 L2977 954.1 L2971.8 949.8 L2966.7 945.5 L2961.7 941 L2956.8 936.4 L2952.1 931.6 L2947.6 926.6 L2943.3 921.5 L2939.2 916.1 L2935.4 910.6 L2931.9 904.9 L2928.8 898.9 L2926.1 892.8 L2923.6 886.6 L2921.5 880.2 L2919.6 873.8 L2917.9 867.3 L2916.3 860.8 L2914.9 854.2 L2913.5 847.6 L2912.4 841 L2911.4 834.4 L2910.7 827.7 L2910.2 821 L2909.9 814.3 L2909.8 807.6 L2910 800.9 L2910.6 794.2 L2911.8 787.6 L2913.6 781.2 L2915.5 774.7 L2917.3 768.3 L2918.6 761.7 L2919.9 755.1 L2921.1 748.5 L2922 741.9 L2922.7 735.2 L2923 728.5 L2923 721.8 L2922.8 715.1 L2922.5 708.4 L2922 701.7 L2921.4 695 L2920.7 688.3 L2919.8 681.7 L2918.9 675 L2917.9 668.4 L2916.8 661.8 L2915.5 655.2 L2914 648.6 L2912.3 642.1 L2910.2 635.8 L2907.9 629.5 L2905.3 623.3 L2902.4 617.2 L2899.4 611.2 L2896.1 605.4 L2892.7 599.6 L2889.2 593.9 L2885.4 588.3 L2881.4 583 L2877 577.9 L2872.2 573.2 L2867.2 568.8 L2861.8 564.7 L2856.4 560.8 L2850.8 557.1 L2845.2 553.4 L2839.6 549.7 L2834 546Z" fill="#fff" />
<path d="M2890 482 L2894.9 485.8 L2899.9 489.5 L2904.9 493.2 L2909.9 496.9 L2914.9 500.7 L2919.9 504.4 L2924.8 508.2 L2929.7 512 L2934.6 515.9 L2939.4 519.9 L2944.2 523.9 L2948.8 528 L2953.3 532.3 L2957.6 536.8 L2961.8 541.5 L2965.7 546.3 L2969.4 551.3 L2972.8 556.5 L2976.1 561.8 L2979.1 567.3 L2981.9 572.8 L2984.7 578.4 L2987.3 584 L2989.7 589.8 L2992 595.6 L2994.2 601.4 L2996.2 607.3 L2998.2 613.2 L3000 619.1 L3001.7 625.1 L3003.3 631.1 L3004.8 637.2 L3006.1 643.3 L3007.3 649.4 L3008.3 655.5 L3009.1 661.7 L3009.8 667.9 L3010.4 674.1 L3010.9 680.3 L3011.3 686.5 L3011.7 692.7 L3012 698.9 L3012.2 705.2 L3012.2 711.4 L3012 717.6 L3011.7 723.8 L3011.4 730 L3011.2 736.3 L3010.9 742.5 L3010.9 748.7 L3011.1 754.9 L3011.5 761.1 L3012.2 767.3 L3013 773.5 L3013.8 779.7 L3014.7 785.9 L3015.4 792 L3015.9 798.2 L3016.1 804.5 L3016.1 810.7 L3015.9 816.9 L3015.6 823.1 L3015.4 829.4 L3015.3 835.6 L3015.4 841.8 L3015.8 848 L3016.5 854.2 L3017.3 860.4 L3018.3 866.5 L3019.4 872.6 L3020.8 878.7 L3022.8 884.6 L3025.2 890.3 L3028.5 895.6 L3032.3 900.5 L3036.7 905 L3041.4 909 L3046.6 912.5 L3052.1 915.4 L3057.8 917.8 L3063.7 919.6 L3069.8 921 L3076 921.8 L3082.2 922 L3088.4 921.9 L3094.7 921.6 L3100.9 921.2 L3107.1 920.9 L3113.3 920.6 L3119.5 920.3 L3125.7 920.1 L3132 920 L3138.2 919.8 L3144.4 919.7 L3150.6 919.5 L3156.9 919.3 L3163.1 919.2 L3169.3 919 L3175.5 918.8 L3181.8 918.6 L3188 918.4 L3194.2 918.2 L3200.4 918.1 L3206.7 917.9 L3212.9 917.7 L3219.1 917.5 L3225.3 917.3 L3231.5 917.1 L3237.8 916.9 L3244 916.7 L3250.2 916.5 L3256.4 916.3 L3262.7 916.2 L3268.9 916 L3275.1 915.8 L3281.3 915.6 L3287.6 915.4 L3293.8 915.2 L3300 915" fill="none" stroke="#000" stroke-width="5" stroke-linecap="butt" stroke-linejoin="round" />
<path d="M2878.2 495.4 L2883.3 499.2 L2888.4 502.9 L2893.6 506.6 L2898.7 510.4 L2903.8 514.1 L2908.8 517.9 L2913.8 521.9 L2918.6 525.9 L2923.4 530 L2928.1 534.2 L2932.6 538.6 L2937 543.1 L2941.3 547.7 L2945.4 552.5 L2949.3 557.4 L2953 562.5 L2956.5 567.7 L2959.7 573.1 L2962.7 578.7 L2965.4 584.4 L2968 590.1 L2970.4 595.9 L2972.7 601.8 L2974.8 607.7 L2976.8 613.6 L2978.7 619.6 L2980.5 625.7 L2982.2 631.8 L2983.7 637.9 L2985.2 644 L2986.5 650.2 L2987.6 656.4 L2988.6 662.6 L2989.4 668.8 L2990 675.1 L2990.4 681.3 L2990.7 687.6 L2990.9 693.9 L2990.9 700.1 L2990.8 706.4 L2990.7 712.6 L2990.7 718.9 L2990.7 725.3 L2990.7 731.6 L2990.6 737.9 L2990.4 744.2 L2990.3 750.6 L2990.2 756.9 L2990.2 763.2 L2990.5 769.5 L2990.9 775.8 L2991.6 782.1 L2992.4 788.3 L2993.4 794.6 L2994.4 800.8 L2995.6 807 L2996.6 813.2 L2997.6 819.4 L2998.5 825.5 L2999.2 831.7 L2999.8 837.7 L3000.5 843.8 L3001.2 849.8 L3002 855.7 L3003.1 861.7 L3004.4 867.5 L3006.1 873.4 L3007.8 879.1 L3009.6 884.9 L3011.6 890.6 L3013.8 896.3 L3016.5 901.8 L3019.6 907.1 L3023.3 912.1 L3027.6 916.7 L3032.2 920.9 L3037.2 924.7 L3042.6 928.1 L3048.2 931 L3054.1 933.3 L3060.1 935.3 L3066.2 936.8 L3072.4 937.8 L3078.7 938.3 L3085 938.5 L3091.3 938.5 L3097.6 938.4 L3103.9 938.3 L3110.3 938.2 L3116.6 938.1 L3122.9 938 L3129.2 938 L3135.5 938 L3141.9 937.9 L3148.2 937.8 L3154.5 937.7 L3160.8 937.6 L3167.2 937.5 L3173.5 937.3 L3179.8 937.2 L3186.1 937.1 L3192.5 936.9 L3198.8 936.8 L3205.1 936.6 L3211.4 936.5 L3217.8 936.3 L3224.1 936.1 L3230.4 936 L3236.7 935.8 L3243.1 935.6 L3249.4 935.5 L3255.7 935.3 L3262 935.1 L3268.4 934.9 L3274.7 934.8 L3281 934.6 L3287.3 934.4 L3293.7 934.3 L3300 934.1" fill="none" stroke="#000" stroke-width="4" stroke-linecap="butt" stroke-linejoin="round" />
<path d="M2871 503.8 L2876.1 507.5 L2881.3 511.2 L2886.5 514.9 L2891.7 518.7 L2896.9 522.4 L2902 526.3 L2906.9 530.3 L2911.8 534.4 L2916.5 538.7 L2921.1 543.1 L2925.5 547.7 L2929.8 552.4 L2933.9 557.2 L2937.8 562.1 L2941.6 567.2 L2945.2 572.5 L2948.5 577.9 L2951.6 583.4 L2954.4 589.1 L2956.9 594.9 L2959.3 600.8 L2961.6 606.7 L2963.7 612.7 L2965.6 618.8 L2967.5 624.8 L2969.2 630.9 L2970.8 637.1 L2972.3 643.3 L2973.6 649.5 L2974.9 655.7 L2976 662 L2977 668.2 L2977.8 674.5 L2978.3 680.8 L2978.6 687.1 L2978.8 693.5 L2978.8 699.8 L2978.8 706.1 L2978.5 712.4 L2978.1 718.7 L2977.7 725 L2977.5 731.3 L2977.4 737.7 L2977.4 744.1 L2977.3 750.5 L2977.2 756.9 L2977.2 763.3 L2977.2 769.6 L2977.4 776 L2977.8 782.3 L2978.4 788.7 L2979.2 795 L2980.1 801.3 L2981.2 807.6 L2982.4 813.9 L2983.7 820.1 L2985 826.3 L2986.3 832.5 L2987.5 838.6 L2988.7 844.7 L2989.8 850.6 L2991.1 856.6 L2992.4 862.4 L2993.8 868.2 L2995.5 874 L2997.4 879.6 L2999.6 885.2 L3001.8 890.8 L3004.2 896.3 L3006.8 901.8 L3009.5 907.1 L3012.6 912.4 L3016.1 917.5 L3020.1 922.3 L3024.6 926.7 L3029.5 930.8 L3034.6 934.5 L3040.1 937.8 L3045.8 940.6 L3051.7 943 L3057.8 944.9 L3064 946.5 L3070.3 947.7 L3076.6 948.4 L3082.9 948.7 L3089.3 948.9 L3095.6 949 L3102 949 L3108.4 949.1 L3114.7 949.1 L3121.1 949.1 L3127.5 949.2 L3133.9 949.2 L3140.3 949.2 L3146.7 949.2 L3153.1 949.1 L3159.5 949 L3165.8 948.9 L3172.2 948.8 L3178.6 948.7 L3185 948.6 L3191.4 948.5 L3197.8 948.4 L3204.2 948.2 L3210.6 948.1 L3217 947.9 L3223.3 947.8 L3229.7 947.6 L3236.1 947.5 L3242.5 947.3 L3248.9 947.2 L3255.3 947 L3261.7 946.9 L3268.1 946.7 L3274.4 946.5 L3280.8 946.4 L3287.2 946.2 L3293.6 946.1 L3300 945.9" fill="none" stroke="#000" stroke-width="4" stroke-linecap="butt" stroke-linejoin="round" />
<path d="M2859.8 516.6 L2865.1 520.3 L2870.4 524 L2875.7 527.7 L2881 531.4 L2886.3 535.3 L2891.4 539.2 L2896.4 543.3 L2901.2 547.6 L2905.9 552.1 L2910.3 556.8 L2914.5 561.7 L2918.5 566.7 L2922.4 571.8 L2926.2 577 L2929.7 582.4 L2933.1 587.9 L2936.2 593.5 L2939 599.3 L2941.6 605.2 L2943.9 611.2 L2946 617.3 L2948 623.4 L2949.8 629.6 L2951.5 635.8 L2953 642.1 L2954.5 648.3 L2955.8 654.6 L2957 661 L2958.1 667.3 L2959.1 673.7 L2960 680.1 L2960.6 686.5 L2961.1 692.9 L2961.2 699.3 L2961.2 705.7 L2960.9 712.1 L2960.6 718.5 L2960.1 724.9 L2959.4 731.3 L2958.6 737.6 L2957.8 744 L2957.2 750.4 L2957 756.9 L2956.9 763.3 L2956.9 769.8 L2956.9 776.3 L2957 782.8 L2957.3 789.2 L2957.7 795.7 L2958.3 802.1 L2959.2 808.5 L2960.1 814.9 L2961.3 821.3 L2962.6 827.6 L2964 834 L2965.5 840.2 L2967.1 846.5 L2968.9 852.6 L2970.7 858.7 L2972.6 864.6 L2974.5 870.5 L2976.6 876.2 L2978.8 881.9 L2981.2 887.4 L2983.8 892.9 L2986.6 898.2 L2989.6 903.5 L2992.7 908.7 L2996 913.8 L2999.3 918.9 L3002.8 923.9 L3006.6 928.8 L3010.7 933.5 L3015.2 937.9 L3020.1 942.1 L3025.2 946 L3030.6 949.5 L3036.2 952.7 L3042.1 955.4 L3048.2 957.8 L3054.3 959.8 L3060.6 961.6 L3066.9 962.9 L3073.3 963.9 L3079.7 964.5 L3086.1 965 L3092.5 965.3 L3099 965.6 L3105.5 965.8 L3111.9 966 L3118.4 966.2 L3124.9 966.4 L3131.4 966.5 L3137.9 966.6 L3144.3 966.6 L3150.8 966.6 L3157.3 966.6 L3163.8 966.5 L3170.3 966.5 L3176.8 966.4 L3183.3 966.4 L3189.7 966.3 L3196.2 966.2 L3202.7 966.1 L3209.2 966 L3215.7 965.8 L3222.2 965.7 L3228.7 965.6 L3235.1 965.5 L3241.6 965.3 L3248.1 965.2 L3254.6 965.1 L3261.1 964.9 L3267.6 964.8 L3274.1 964.6 L3280.5 964.5 L3287 964.4 L3293.5 964.2 L3300 964.1" fill="none" stroke="#000" stroke-width="11" stroke-linecap="butt" stroke-linejoin="round" />
<path d="M2941.9 797.4 L2942.3 804 L2942.9 810.5 L2943.7 817 L2944.7 823.4 L2945.8 829.9 L2947.1 836.3 L2948.6 842.7 L2950.1 849 L2951.9 855.3 L2953.7 861.6 L2955.8 867.7 L2958 873.7 L2960.5 879.6 L2963 885.4 L2965.7 891 L2968.6 896.5 L2971.7 901.8 L2975 907.1 L2978.4 912.2 L2982.1 917.2 L2985.9 922.1 L2989.8 926.9 L2993.7 931.7 L2997.8 936.4 L3002.2 941 L3006.7 945.5 L3011.6 949.7 L3016.7 953.6 L3022 957.3 L3027.6 960.7 L3033.4 963.8 L3039.4 966.5 L3045.5 968.9 L3051.7 971 L3058 972.8 L3064.3 974.3 L3070.8 975.5 L3077.2 976.4 L3083.7 977.1 L3090.2 977.6 L3096.8 978 L3103.3 978.4 L3109.8 978.7 L3116.4 979 L3122.9 979.3 L3129.5 979.4 L3136 979.6 L3142.6 979.7 L3149.1 979.7 L3155.7 979.8 L3162.3 979.8 L3168.8 979.7 L3175.4 979.7 L3181.9 979.7 L3188.5 979.6 L3195.1 979.5 L3201.6 979.4 L3208.2 979.4 L3214.7 979.3 L3221.3 979.2 L3227.9 979.1 L3234.4 978.9 L3241 978.8 L3247.5 978.7 L3254.1 978.6 L3260.6 978.5 L3267.2 978.3 L3273.8 978.2 L3280.3 978.1 L3286.9 978 L3293.4 977.9 L3300 977.8" fill="none" stroke="#000" stroke-width="4" stroke-linecap="butt" stroke-linejoin="round" />
<path d="M2843 535.8 L2848.4 539.5 L2854 543.1 L2859.5 546.8 L2864.9 550.6 L2870.3 554.5 L2875.6 558.5 L2880.7 562.8 L2885.4 567.4 L2889.9 572.2 L2894.1 577.4 L2898 582.7 L2901.7 588.1 L2905.3 593.7 L2908.7 599.3 L2911.9 605.1 L2915 611 L2917.7 617 L2920.2 623.1 L2922.5 629.3 L2924.4 635.6 L2926.1 642 L2927.6 648.4 L2929 654.9 L2930.2 661.4 L2931.4 667.9 L2932.4 674.4 L2933.4 680.9 L2934.2 687.5 L2934.9 694.1 L2935.5 700.7 L2935.9 707.3 L2936.1 713.9 L2936 720.5 L2935.7 727.1 L2935 733.6 L2934.2 740.2 L2933.2 746.7 L2932.2 753.2 L2930.8 759.6 L2929.2 766 L2927.8 772.4 L2926.8 779 L2926.3 785.6 L2926.2 792.2 L2926.2 798.8 L2926.5 805.5 L2926.8 812.1 L2927.4 818.7 L2928.1 825.3 L2929.1 831.8 L2930.3 838.3 L2931.6 844.8 L2933 851.3 L2934.5 857.7 L2936.3 864.1 L2938.2 870.4 L2940.3 876.7 L2942.7 882.8 L2945.4 888.8 L2948.4 894.6 L2951.5 900.2 L2954.9 905.7 L2958.5 911 L2962.2 916.2 L2966.2 921.2 L2970.3 926.1 L2974.6 930.9 L2979.1 935.5 L2983.6 940.1 L2988.2 944.6 L2992.8 949 L2997.7 953.3 L3002.7 957.4 L3007.9 961.4 L3013.3 965.2 L3018.9 968.7 L3024.6 972 L3030.5 975 L3036.6 977.6 L3042.8 980 L3049.1 982.1 L3055.4 984.1 L3061.8 985.7 L3068.3 987.1 L3074.8 988.2 L3081.3 989.1 L3087.9 989.9 L3094.5 990.5 L3101.1 991 L3107.7 991.4 L3114.3 991.8 L3121 992.2 L3127.6 992.4 L3134.2 992.6 L3140.8 992.8 L3147.5 992.9 L3154.1 993 L3160.7 993 L3167.4 993 L3174 993 L3180.6 993 L3187.3 992.9 L3193.9 992.9 L3200.5 992.8 L3207.2 992.8 L3213.8 992.7 L3220.4 992.6 L3227.1 992.5 L3233.7 992.4 L3240.3 992.3 L3246.9 992.2 L3253.6 992.1 L3260.2 992 L3266.8 991.9 L3273.5 991.8 L3280.1 991.7 L3286.7 991.6 L3293.4 991.5 L3300 991.4" fill="none" stroke="#000" stroke-width="4.5" stroke-linecap="butt" stroke-linejoin="round" />
<path d="M2834 546 L2839.6 549.7 L2845.2 553.4 L2850.8 557.1 L2856.4 560.8 L2861.8 564.7 L2867.2 568.8 L2872.2 573.2 L2877 577.9 L2881.4 583 L2885.4 588.3 L2889.2 593.9 L2892.7 599.6 L2896.1 605.4 L2899.4 611.2 L2902.4 617.2 L2905.3 623.3 L2907.9 629.5 L2910.2 635.8 L2912.3 642.1 L2914 648.6 L2915.5 655.2 L2916.8 661.8 L2917.9 668.4 L2918.9 675 L2919.8 681.7 L2920.7 688.3 L2921.4 695 L2922 701.7 L2922.5 708.4 L2922.8 715.1 L2923 721.8 L2923 728.5 L2922.7 735.2 L2922 741.9 L2921.1 748.5 L2919.9 755.1 L2918.6 761.7 L2917.3 768.3 L2915.5 774.7 L2913.6 781.2 L2911.8 787.6 L2910.6 794.2 L2910 800.9 L2909.8 807.6 L2909.9 814.3 L2910.2 821 L2910.7 827.7 L2911.4 834.4 L2912.4 841 L2913.5 847.6 L2914.9 854.2 L2916.3 860.8 L2917.9 867.3 L2919.6 873.8 L2921.5 880.2 L2923.6 886.6 L2926.1 892.8 L2928.8 898.9 L2931.9 904.9 L2935.4 910.6 L2939.2 916.1 L2943.3 921.5 L2947.6 926.6 L2952.1 931.6 L2956.8 936.4 L2961.7 941 L2966.7 945.5 L2971.8 949.8 L2977 954.1 L2982.2 958.3 L2987.5 962.4 L2992.9 966.4 L2998.4 970.2 L3004 973.9 L3009.7 977.5 L3015.5 980.8 L3021.4 984 L3027.5 986.9 L3033.7 989.4 L3039.9 991.8 L3046.3 994 L3052.7 996.1 L3059.1 997.9 L3065.6 999.5 L3072.2 1000.9 L3078.8 1002 L3085.5 1002.9 L3092.1 1003.7 L3098.8 1004.4 L3105.5 1005 L3112.2 1005.5 L3118.9 1005.9 L3125.6 1006.2 L3132.3 1006.5 L3139 1006.7 L3145.7 1006.9 L3152.4 1007 L3159.1 1007.1 L3165.8 1007.1 L3172.5 1007.2 L3179.2 1007.2 L3185.9 1007.2 L3192.6 1007.2 L3199.4 1007.1 L3206.1 1007.1 L3212.8 1007 L3219.5 1007 L3226.2 1006.9 L3232.9 1006.8 L3239.6 1006.7 L3246.3 1006.6 L3253 1006.5 L3259.7 1006.5 L3266.5 1006.4 L3273.2 1006.3 L3279.9 1006.2 L3286.6 1006.1 L3293.3 1006 L3300 1006" fill="none" stroke="#000" stroke-width="5" stroke-linecap="butt" stroke-linejoin="round" />
<circle cx="888" cy="536" r="21" fill="#fff" stroke="#000" stroke-width="6"/>
<path d="M886.2 556.9 L883.6 556.5 L881.1 555.8 L878.7 554.8 L876.5 553.5 L874.4 552 L872.5 550.2 L870.9 548.2 L869.5 546 L868.4 543.6 L867.6 541.1 L867.2 538.6 L867 536 L867.2 533.4 L867.6 530.9 L868.4 528.4 L869.5 526 L870.9 523.8 L872.5 521.8 L874.4 520 L876.5 518.5 L878.7 517.2 L881.1 516.2 L883.6 515.5 L886.2 515.1" fill="none" stroke="#000" stroke-width="11" stroke-linecap="round" stroke-linejoin="round" />
<path d="M898.8 544.9 L897.8 545.9 L896.6 546.7 L895.3 547.2 L893.9 547.5 L892.5 547.5 L891 547.3 L889.7 546.8 L888.5 546.1 L887.4 545.1 L886.6 544 L885.9 542.7 L885.6 541.3 L885.4 539.9 L885.6 538.5 L886 537.1 L886.7 535.8 L887.6 534.7 L888.7 533.8 L889.9 533.1 L891.3 532.6 L892.7 532.4 L894.1 532.5 L895.5 532.9 L896.8 533.5" fill="none" stroke="#000" stroke-width="5.5" stroke-linecap="round" stroke-linejoin="round" />
<path d="M858.6 421.2 L861.1 422.6 L863.6 424.4 L866.1 426.5 L868.4 429 L870.7 431.8 L872.9 434.9 L874.9 438.3 L876.8 441.9 L878.5 445.7 L880 449.7 L881.3 453.8 L882.3 458 L883.2 462.2 L883.8 466.4 L884.2 470.6 L884.3 474.7 L884.2 478.7 L883.8 482.5 L883.2 486.1 L882.3 489.5 L881.2 492.6 L879.9 495.5 L878.4 498 L876.7 500.1" fill="none" stroke="#000" stroke-width="15" stroke-linecap="round" stroke-linejoin="round" />
<path d="M867.6 409.1 L871.3 406.2 L875.4 404.5 L879.8 404.1 L884.4 404.9 L889.1 407 L893.8 410.2 L898.3 414.5 L902.6 419.9 L906.5 426.1 L910 433 L912.9 440.4 L915.2 448.2 L916.8 456.2 L917.7 464.1 L917.9 471.9 L917.4 479.2 L916.1 485.9 L914.1 491.8 L911.5 496.9 L908.4 500.9 L904.7 503.8 L900.6 505.5 L896.2 505.9 L891.6 505.1 L871.5 506.6 L875.3 506.4 L878.9 505.2 L882.2 503 L885.1 500 L887.6 496.1 L889.6 491.5 L891.1 486.3 L892 480.5 L892.4 474.3 L892.2 467.8 L891.4 461.2 L890 454.5 L888.1 448 L885.7 441.7 L882.8 435.9 L879.6 430.6 L876.1 425.9 L872.3 422 L868.3 418.8 L864.3 416.6 L860.3 415.3 L856.4 415 L852.7 415.6 L849.2 417.2Z" fill="#b0b0b0" stroke="#000" stroke-width="5.5" stroke-linejoin="round" />
<path d="M859.8 412.9 L863.3 411.9 L867 411.8 L870.9 412.6 L874.8 414.2 L878.7 416.7 L882.5 420 L886.1 424.1 L889.5 428.8 L892.5 434 L895.2 439.7 L897.5 445.8 L899.4 452.2 L900.7 458.6 L901.6 465.1 L901.8 471.4 L901.6 477.5 L900.8 483.2 L899.5 488.5 L897.7 493.2 L895.5 497.2 L892.8 500.5 L889.8 503 L886.4 504.6 L882.8 505.4" fill="none" stroke="#f4f4f4" stroke-width="7" stroke-linecap="round" stroke-linejoin="round" />
<path d="M867.7 409.2 L871.3 408.7 L875.1 409.1 L879 410.4 L882.9 412.6 L886.7 415.5 L890.4 419.2 L893.9 423.6 L897.1 428.6 L900.1 434.1 L902.6 440 L904.8 446.2 L906.5 452.6 L907.7 459.1 L908.4 465.6 L908.5 471.9 L908.2 477.9 L907.3 483.6 L906 488.8 L904.1 493.4 L901.9 497.4 L899.2 500.6 L896.1 503 L892.8 504.7 L889.2 505.4" fill="none" stroke="#333" stroke-width="2.5" stroke-linecap="round" stroke-linejoin="round" />
<path d="M1088.8 363.2 L1090.7 364.9 L1092.7 366.9 L1094.5 369.2 L1096.4 371.7 L1098.1 374.5 L1099.8 377.6 L1101.3 380.8 L1102.8 384.2 L1104.1 387.7 L1105.2 391.4 L1106.3 395.1 L1107.1 398.9 L1107.8 402.7 L1108.3 406.4 L1108.7 410.2 L1108.9 413.8 L1108.8 417.4 L1108.6 420.8 L1108.3 424.1 L1107.7 427.1 L1107 430 L1106.1 432.6 L1105.1 434.9 L1103.9 437" fill="none" stroke="#000" stroke-width="7" stroke-linecap="round" stroke-linejoin="round" />
<path d="M1087.5 353.3 L1090.5 352.2 L1093.6 352 L1097 352.7 L1100.3 354.3 L1103.7 356.8 L1107.1 360.2 L1110.3 364.3 L1113.3 369.1 L1116.1 374.5 L1118.6 380.4 L1120.7 386.6 L1122.4 393.1 L1123.7 399.6 L1124.5 406.1 L1124.9 412.5 L1124.8 418.6 L1124.1 424.2 L1123 429.3 L1121.5 433.8 L1119.6 437.6 L1117.2 440.5 L1114.6 442.6 L1111.6 443.8 L1108.5 444 L1097.8 446.5 L1100.9 446.3 L1103.8 445.1 L1106.5 443 L1108.8 440 L1110.8 436.3 L1112.3 431.8 L1113.4 426.7 L1114 421 L1114.2 415 L1113.8 408.6 L1113 402.1 L1111.7 395.5 L1110 389.1 L1107.9 382.8 L1105.4 377 L1102.6 371.6 L1099.6 366.8 L1096.4 362.7 L1093 359.3 L1089.6 356.8 L1086.2 355.2 L1082.9 354.4 L1079.8 354.7 L1076.8 355.8Z" fill="#fff" stroke="#000" stroke-width="4.5" stroke-linejoin="round" />
<circle cx="1328" cy="442" r="21" fill="#fff" stroke="#000" stroke-width="6"/>
<path d="M1326.2 462.9 L1323.6 462.5 L1321.1 461.8 L1318.7 460.8 L1316.5 459.5 L1314.4 458 L1312.5 456.2 L1310.9 454.2 L1309.5 452 L1308.4 449.6 L1307.6 447.1 L1307.2 444.6 L1307 442 L1307.2 439.4 L1307.6 436.9 L1308.4 434.4 L1309.5 432 L1310.9 429.8 L1312.5 427.8 L1314.4 426 L1316.5 424.5 L1318.7 423.2 L1321.1 422.2 L1323.6 421.5 L1326.2 421.1" fill="none" stroke="#000" stroke-width="11" stroke-linecap="round" stroke-linejoin="round" />
<path d="M1338.8 450.9 L1337.8 451.9 L1336.6 452.7 L1335.3 453.2 L1333.9 453.5 L1332.5 453.5 L1331 453.3 L1329.7 452.8 L1328.5 452.1 L1327.4 451.1 L1326.6 450 L1325.9 448.7 L1325.6 447.3 L1325.4 445.9 L1325.6 444.5 L1326 443.1 L1326.7 441.8 L1327.6 440.7 L1328.7 439.8 L1329.9 439.1 L1331.3 438.6 L1332.7 438.4 L1334.1 438.5 L1335.5 438.9 L1336.8 439.5" fill="none" stroke="#000" stroke-width="5.5" stroke-linecap="round" stroke-linejoin="round" />
<path d="M1304.7 312.1 L1307.3 313.7 L1309.9 315.7 L1312.4 318.1 L1314.9 320.9 L1317.2 324.1 L1319.5 327.5 L1321.5 331.3 L1323.5 335.3 L1325.2 339.5 L1326.7 343.9 L1328.1 348.5 L1329.2 353.1 L1330 357.7 L1330.6 362.3 L1331 366.9 L1331.1 371.4 L1331 375.7 L1330.6 379.9 L1329.9 383.8 L1329 387.5 L1327.9 390.9 L1326.5 393.9 L1324.9 396.6 L1323.1 398.9" fill="none" stroke="#000" stroke-width="15" stroke-linecap="round" stroke-linejoin="round" />
<path d="M1314.1 299.2 L1317.9 296.2 L1322.2 294.5 L1326.8 294.1 L1331.5 295.2 L1336.4 297.6 L1341.2 301.2 L1345.9 306.1 L1350.3 312.1 L1354.4 319 L1357.9 326.6 L1360.9 334.9 L1363.3 343.5 L1364.9 352.2 L1365.8 361 L1366 369.4 L1365.4 377.4 L1364 384.7 L1362 391.1 L1359.3 396.5 L1355.9 400.8 L1352.1 403.8 L1347.8 405.5 L1343.2 405.9 L1338.5 404.8 L1317.4 405.9 L1321.4 405.8 L1325.2 404.6 L1328.6 402.3 L1331.6 399.1 L1334.3 395 L1336.4 390 L1337.9 384.3 L1338.9 378 L1339.3 371.2 L1339.1 364.1 L1338.3 356.9 L1336.9 349.6 L1335 342.4 L1332.5 335.5 L1329.6 329 L1326.3 323.1 L1322.6 317.9 L1318.7 313.4 L1314.6 309.9 L1310.5 307.3 L1306.3 305.8 L1302.2 305.3 L1298.3 305.8 L1294.7 307.5Z" fill="#b0b0b0" stroke="#000" stroke-width="5.5" stroke-linejoin="round" />
<path d="M1305.8 303.1 L1309.5 302.1 L1313.4 302.1 L1317.4 303.1 L1321.4 305 L1325.4 307.9 L1329.3 311.6 L1333.1 316.2 L1336.6 321.4 L1339.7 327.2 L1342.5 333.6 L1344.9 340.3 L1346.7 347.3 L1348.1 354.4 L1348.9 361.5 L1349.2 368.4 L1348.9 375 L1348.1 381.3 L1346.7 387 L1344.8 392 L1342.5 396.4 L1339.7 399.9 L1336.5 402.5 L1333 404.2 L1329.3 404.9" fill="none" stroke="#f4f4f4" stroke-width="7" stroke-linecap="round" stroke-linejoin="round" />
<path d="M1314 299.3 L1317.8 298.9 L1321.8 299.5 L1325.8 301 L1329.8 303.5 L1333.8 306.8 L1337.6 311 L1341.2 315.9 L1344.6 321.4 L1347.6 327.5 L1350.2 334.1 L1352.4 340.9 L1354.1 348 L1355.4 355.1 L1356.1 362.2 L1356.2 369.1 L1355.8 375.7 L1354.9 381.9 L1353.5 387.5 L1351.5 392.5 L1349.1 396.8 L1346.3 400.2 L1343.2 402.8 L1339.7 404.4 L1336 405.1" fill="none" stroke="#333" stroke-width="2.5" stroke-linecap="round" stroke-linejoin="round" />
<path d="M1532.8 266.2 L1534.9 268.1 L1537 270.3 L1539.1 272.8 L1541.1 275.7 L1543 278.8 L1544.8 282.1 L1546.5 285.7 L1548.1 289.4 L1549.6 293.3 L1550.9 297.4 L1552 301.5 L1552.9 305.7 L1553.7 309.9 L1554.3 314.1 L1554.7 318.2 L1554.9 322.3 L1554.9 326.2 L1554.7 330 L1554.3 333.6 L1553.7 337 L1552.9 340.1 L1552 343 L1550.8 345.6 L1549.5 347.8" fill="none" stroke="#000" stroke-width="7" stroke-linecap="round" stroke-linejoin="round" />
<path d="M1530.2 255.6 L1533.4 254.3 L1536.8 254.1 L1540.4 254.9 L1544.1 256.7 L1547.9 259.5 L1551.5 263.2 L1555 267.8 L1558.4 273.1 L1561.4 279.1 L1564.2 285.6 L1566.5 292.5 L1568.4 299.6 L1569.8 306.9 L1570.7 314.1 L1571.1 321.1 L1571 327.8 L1570.3 334 L1569.2 339.7 L1567.5 344.6 L1565.4 348.8 L1562.9 352 L1560 354.3 L1556.8 355.7 L1553.3 355.9 L1542.6 358.4 L1546 358.1 L1549.2 356.8 L1552.1 354.5 L1554.7 351.3 L1556.8 347.1 L1558.5 342.2 L1559.6 336.5 L1560.3 330.3 L1560.4 323.6 L1560 316.5 L1559.1 309.3 L1557.7 302.1 L1555.8 294.9 L1553.4 288 L1550.7 281.6 L1547.7 275.6 L1544.3 270.3 L1540.8 265.7 L1537.1 262 L1533.4 259.2 L1529.7 257.4 L1526.1 256.6 L1522.7 256.8 L1519.4 258.1Z" fill="#fff" stroke="#000" stroke-width="4.5" stroke-linejoin="round" />
<circle cx="1750" cy="357" r="20" fill="#fff" stroke="#000" stroke-width="6"/>
<path d="M1748.3 376.9 L1745.8 376.6 L1743.4 375.9 L1741.2 374.9 L1739 373.7 L1737 372.2 L1735.3 370.5 L1733.7 368.6 L1732.4 366.5 L1731.4 364.2 L1730.6 361.9 L1730.2 359.5 L1730 357 L1730.2 354.5 L1730.6 352.1 L1731.4 349.8 L1732.4 347.5 L1733.7 345.4 L1735.3 343.5 L1737 341.8 L1739 340.3 L1741.2 339.1 L1743.4 338.1 L1745.8 337.4 L1748.3 337.1" fill="none" stroke="#000" stroke-width="11" stroke-linecap="round" stroke-linejoin="round" />
<path d="M1760.5 365.6 L1759.5 366.6 L1758.4 367.3 L1757.2 367.9 L1755.8 368.2 L1754.5 368.2 L1753.1 368 L1751.9 367.5 L1750.7 366.8 L1749.7 365.9 L1748.9 364.8 L1748.3 363.6 L1747.9 362.3 L1747.8 360.9 L1747.9 359.5 L1748.3 358.2 L1749 357 L1749.8 356 L1750.9 355.1 L1752.1 354.4 L1753.3 354 L1754.7 353.8 L1756 353.9 L1757.4 354.2 L1758.6 354.8" fill="none" stroke="#000" stroke-width="5.5" stroke-linecap="round" stroke-linejoin="round" />
<path d="M1712.4 221.3 L1715.1 223 L1717.8 225.2 L1720.4 227.8 L1723 230.8 L1725.4 234.1 L1727.8 237.9 L1730 241.9 L1732 246.2 L1733.8 250.7 L1735.5 255.4 L1736.9 260.3 L1738.1 265.2 L1739 270.2 L1739.7 275.1 L1740.1 280 L1740.2 284.8 L1740.1 289.5 L1739.7 293.9 L1739 298.1 L1738.1 302 L1737 305.6 L1735.6 308.9 L1734 311.7 L1732.1 314.2" fill="none" stroke="#000" stroke-width="15" stroke-linecap="round" stroke-linejoin="round" />
<path d="M1721.9 207.6 L1725.9 204.4 L1730.3 202.6 L1735 202.2 L1740 203.4 L1745 206 L1750.1 209.9 L1755 215.2 L1759.6 221.6 L1763.8 229 L1767.6 237.2 L1770.7 246 L1773.2 255.3 L1775 264.6 L1776 273.9 L1776.3 283 L1775.7 291.5 L1774.4 299.3 L1772.3 306.1 L1769.5 311.9 L1766.1 316.4 L1762.1 319.6 L1757.7 321.4 L1753 321.8 L1748 320.6 L1726.1 321.6 L1730.2 321.5 L1734.1 320.3 L1737.6 317.9 L1740.8 314.5 L1743.4 310.1 L1745.6 304.8 L1747.2 298.7 L1748.2 292 L1748.5 284.8 L1748.3 277.2 L1747.4 269.4 L1745.9 261.6 L1743.8 253.9 L1741.2 246.5 L1738.1 239.6 L1734.6 233.2 L1730.8 227.6 L1726.7 222.8 L1722.4 219 L1718.1 216.2 L1713.8 214.6 L1709.6 214 L1705.5 214.6 L1701.8 216.3Z" fill="#b0b0b0" stroke="#000" stroke-width="5.5" stroke-linejoin="round" />
<path d="M1713.3 211.7 L1717.1 210.7 L1721.1 210.7 L1725.3 211.8 L1729.5 213.9 L1733.7 217 L1737.7 221 L1741.7 225.8 L1745.3 231.5 L1748.6 237.7 L1751.6 244.5 L1754.1 251.7 L1756.1 259.2 L1757.5 266.8 L1758.5 274.4 L1758.8 281.8 L1758.6 288.9 L1757.7 295.5 L1756.4 301.6 L1754.4 307 L1752 311.6 L1749.2 315.3 L1745.9 318.1 L1742.3 319.9 L1738.4 320.7" fill="none" stroke="#f4f4f4" stroke-width="7" stroke-linecap="round" stroke-linejoin="round" />
<path d="M1721.8 207.6 L1725.8 207.3 L1729.9 207.9 L1734 209.6 L1738.2 212.3 L1742.4 215.9 L1746.3 220.3 L1750.1 225.6 L1753.7 231.5 L1756.8 238.1 L1759.6 245.1 L1761.9 252.5 L1763.8 260 L1765.1 267.7 L1765.9 275.2 L1766.1 282.6 L1765.7 289.7 L1764.8 296.2 L1763.4 302.2 L1761.4 307.6 L1759 312.1 L1756.1 315.7 L1752.8 318.5 L1749.2 320.2 L1745.4 320.9" fill="none" stroke="#333" stroke-width="2.5" stroke-linecap="round" stroke-linejoin="round" />
<path d="M1993.2 160.4 L1995.2 162.5 L1997.3 164.9 L1999.3 167.7 L2001.2 170.8 L2003.1 174.2 L2004.9 177.8 L2006.6 181.7 L2008.2 185.7 L2009.7 190 L2011 194.3 L2012.2 198.8 L2013.2 203.3 L2014.1 207.8 L2014.8 212.3 L2015.3 216.7 L2015.6 221.1 L2015.7 225.3 L2015.7 229.3 L2015.4 233.1 L2015 236.7 L2014.4 240.1 L2013.6 243.1 L2012.7 245.8 L2011.6 248.2" fill="none" stroke="#000" stroke-width="7" stroke-linecap="round" stroke-linejoin="round" />
<path d="M1991.5 148.7 L1994.5 147.4 L1997.6 147.3 L2001 148.3 L2004.5 150.3 L2008 153.5 L2011.6 157.6 L2015 162.6 L2018.2 168.4 L2021.3 174.9 L2024 181.9 L2026.4 189.4 L2028.4 197.1 L2030 204.9 L2031.1 212.6 L2031.7 220.1 L2031.8 227.3 L2031.5 233.9 L2030.6 239.9 L2029.2 245.2 L2027.4 249.5 L2025.2 252.9 L2022.6 255.3 L2019.7 256.6 L2016.5 256.7 L2005.8 259.2 L2008.9 259 L2011.9 257.7 L2014.4 255.4 L2016.7 252 L2018.5 247.6 L2019.9 242.4 L2020.7 236.4 L2021.1 229.8 L2021 222.6 L2020.4 215.1 L2019.3 207.3 L2017.7 199.5 L2015.7 191.8 L2013.3 184.4 L2010.6 177.3 L2007.5 170.9 L2004.3 165.1 L2000.8 160 L1997.3 155.9 L1993.8 152.8 L1990.3 150.8 L1986.9 149.8 L1983.7 149.9 L1980.8 151.1Z" fill="#fff" stroke="#000" stroke-width="4.5" stroke-linejoin="round" />
<path d="M2267.7 249.5 L2267.6 246.7 L2267.7 243.7 L2268.1 240.5 L2268.7 237 L2269.5 233.4 L2270.5 229.6 L2271.8 225.7 L2273.2 221.8 L2274.8 217.8 L2276.6 213.8 L2278.6 209.8 L2280.7 205.9 L2282.9 202.1 L2285.2 198.3 L2287.6 194.8 L2290.1 191.4 L2292.6 188.2 L2295.2 185.3 L2297.7 182.6 L2300.3 180.3 L2302.7 178.2 L2305.2 176.4 L2307.5 175 L2309.7 173.9" fill="none" stroke="#000" stroke-width="7" stroke-linecap="round" stroke-linejoin="round" />
<path d="M2260.4 258.5 L2257.6 257.7 L2255.4 255.8 L2253.7 253 L2252.6 249.4 L2252.1 245 L2252.3 239.8 L2253.1 234.1 L2254.5 227.8 L2256.4 221.2 L2258.9 214.4 L2261.9 207.5 L2265.3 200.6 L2269.1 193.9 L2273.2 187.6 L2277.4 181.7 L2281.8 176.4 L2286.2 171.7 L2290.5 167.9 L2294.7 164.8 L2298.7 162.8 L2302.3 161.6 L2305.5 161.5 L2308.3 162.3 L2310.6 164.1 L2320.3 169.3 L2318 167.5 L2315.2 166.6 L2312 166.8 L2308.4 167.9 L2304.4 170 L2300.3 173 L2295.9 176.9 L2291.5 181.5 L2287.2 186.8 L2282.9 192.7 L2278.8 199.1 L2275.1 205.8 L2271.6 212.6 L2268.6 219.6 L2266.1 226.4 L2264.2 233 L2262.8 239.2 L2262 245 L2261.8 250.1 L2262.3 254.6 L2263.4 258.2 L2265.1 261 L2267.3 262.8 L2270.1 263.7Z" fill="#fff" stroke="#000" stroke-width="4.5" stroke-linejoin="round" />
<path d="M2523.8 390.5 L2522.9 387.6 L2522.3 384.5 L2522 381.1 L2522 377.5 L2522.4 373.6 L2523 369.6 L2523.9 365.5 L2525 361.3 L2526.5 357 L2528.2 352.8 L2530.1 348.6 L2532.3 344.5 L2534.6 340.5 L2537.1 336.6 L2539.8 333 L2542.6 329.6 L2545.5 326.5 L2548.5 323.6 L2551.5 321.1 L2554.5 319 L2557.5 317.2 L2560.4 315.8 L2563.3 314.8 L2566.1 314.2" fill="none" stroke="#000" stroke-width="15" stroke-linecap="round" stroke-linejoin="round" />
<path d="M2508.6 394.1 L2503.9 393.9 L2499.7 392.4 L2496.2 389.8 L2493.4 386 L2491.4 381.1 L2490.2 375.3 L2489.9 368.7 L2490.5 361.4 L2492 353.7 L2494.4 345.8 L2497.5 337.8 L2501.3 329.9 L2505.7 322.3 L2510.6 315.2 L2515.9 308.8 L2521.5 303.3 L2527.1 298.7 L2532.7 295.3 L2538.2 293 L2543.4 291.9 L2548.1 292.1 L2552.3 293.6 L2555.8 296.2 L2558.6 300 L2574.5 312.6 L2571.5 310.1 L2568 308.6 L2564.1 308.1 L2559.8 308.6 L2555.3 310 L2550.5 312.3 L2545.7 315.6 L2541 319.6 L2536.4 324.4 L2532 329.8 L2527.9 335.7 L2524.2 342 L2521 348.6 L2518.4 355.3 L2516.4 362 L2515 368.5 L2514.3 374.7 L2514.3 380.5 L2515 385.7 L2516.4 390.3 L2518.4 394.1 L2521 397 L2524.2 399.1 L2527.9 400.2Z" fill="#b0b0b0" stroke="#000" stroke-width="5.5" stroke-linejoin="round" />
<path d="M2517.1 396.4 L2513.8 394.8 L2511 392.3 L2508.7 389 L2507 385 L2505.9 380.3 L2505.4 375.1 L2505.6 369.3 L2506.5 363.2 L2507.9 356.9 L2509.9 350.4 L2512.5 343.9 L2515.7 337.5 L2519.2 331.4 L2523.1 325.6 L2527.4 320.2 L2531.8 315.5 L2536.4 311.4 L2541.1 308 L2545.7 305.4 L2550.2 303.7 L2554.5 302.9 L2558.5 303 L2562.1 303.9 L2565.3 305.8" fill="none" stroke="#f4f4f4" stroke-width="7" stroke-linecap="round" stroke-linejoin="round" />
<path d="M2508.7 394 L2505.7 391.9 L2503.2 388.9 L2501.2 385.2 L2499.9 380.9 L2499.2 375.9 L2499 370.3 L2499.5 364.4 L2500.7 358.1 L2502.4 351.7 L2504.7 345.1 L2507.5 338.6 L2510.8 332.3 L2514.5 326.2 L2518.5 320.5 L2522.8 315.2 L2527.3 310.6 L2531.9 306.6 L2536.6 303.3 L2541.2 300.9 L2545.7 299.2 L2549.9 298.4 L2553.9 298.6 L2557.4 299.5 L2560.6 301.4" fill="none" stroke="#333" stroke-width="2.5" stroke-linecap="round" stroke-linejoin="round" />
<path d="M2688.7 473.5 L2688.6 470.7 L2688.7 467.7 L2689.1 464.5 L2689.7 461 L2690.5 457.4 L2691.5 453.6 L2692.8 449.7 L2694.2 445.8 L2695.8 441.8 L2697.6 437.8 L2699.6 433.8 L2701.7 429.9 L2703.9 426.1 L2706.2 422.3 L2708.6 418.8 L2711.1 415.4 L2713.6 412.2 L2716.2 409.3 L2718.7 406.6 L2721.3 404.3 L2723.7 402.2 L2726.2 400.4 L2728.5 399 L2730.7 397.9" fill="none" stroke="#000" stroke-width="7" stroke-linecap="round" stroke-linejoin="round" />
<path d="M2681.4 482.5 L2678.6 481.7 L2676.4 479.8 L2674.7 477 L2673.6 473.4 L2673.1 469 L2673.3 463.8 L2674.1 458.1 L2675.5 451.8 L2677.4 445.2 L2679.9 438.4 L2682.9 431.5 L2686.3 424.6 L2690.1 417.9 L2694.2 411.6 L2698.4 405.7 L2702.8 400.4 L2707.2 395.7 L2711.5 391.9 L2715.7 388.8 L2719.7 386.8 L2723.3 385.6 L2726.5 385.5 L2729.3 386.3 L2731.6 388.1 L2741.3 393.3 L2739 391.5 L2736.2 390.6 L2733 390.8 L2729.4 391.9 L2725.4 394 L2721.3 397 L2716.9 400.9 L2712.5 405.5 L2708.2 410.8 L2703.9 416.7 L2699.8 423.1 L2696.1 429.8 L2692.6 436.6 L2689.6 443.6 L2687.1 450.4 L2685.2 457 L2683.8 463.2 L2683 469 L2682.8 474.1 L2683.3 478.6 L2684.4 482.2 L2686.1 485 L2688.3 486.8 L2691.1 487.7Z" fill="#fff" stroke="#000" stroke-width="4.5" stroke-linejoin="round" />
<path d="M2873 574.8 L2872.2 571.9 L2871.7 568.7 L2871.4 565.2 L2871.5 561.5 L2871.9 557.5 L2872.5 553.4 L2873.5 549.2 L2874.8 544.8 L2876.3 540.4 L2878 536 L2880.1 531.7 L2882.3 527.4 L2884.7 523.3 L2887.3 519.3 L2890.1 515.5 L2892.9 512 L2895.9 508.7 L2898.9 505.8 L2902 503.1 L2905.1 500.9 L2908.1 499 L2911.1 497.5 L2914 496.5 L2916.8 495.8" fill="none" stroke="#000" stroke-width="15" stroke-linecap="round" stroke-linejoin="round" />
<path d="M2857.7 578.8 L2853 578.6 L2848.8 577.2 L2845.2 574.5 L2842.5 570.6 L2840.5 565.7 L2839.4 559.7 L2839.3 552.9 L2840 545.5 L2841.6 537.5 L2844.1 529.3 L2847.3 521 L2851.3 512.9 L2855.8 505 L2860.9 497.7 L2866.3 491 L2872 485.3 L2877.8 480.5 L2883.5 476.8 L2889 474.4 L2894.3 473.2 L2899 473.4 L2903.2 474.8 L2906.8 477.5 L2909.5 481.4 L2925.3 494 L2922.4 491.6 L2918.9 490.1 L2914.9 489.6 L2910.6 490.1 L2906 491.6 L2901.2 494.1 L2896.3 497.5 L2891.4 501.7 L2886.7 506.7 L2882.2 512.3 L2878 518.5 L2874.2 525 L2870.9 531.9 L2868.1 538.8 L2866 545.7 L2864.5 552.4 L2863.7 558.8 L2863.6 564.7 L2864.3 570.1 L2865.6 574.7 L2867.6 578.6 L2870.2 581.6 L2873.4 583.7 L2877 584.8Z" fill="#b0b0b0" stroke="#000" stroke-width="5.5" stroke-linejoin="round" />
<path d="M2866.2 581 L2862.9 579.4 L2860.1 576.9 L2857.9 573.6 L2856.2 569.5 L2855.2 564.7 L2854.8 559.3 L2855.1 553.4 L2856 547.1 L2857.6 540.5 L2859.7 533.8 L2862.4 527.1 L2865.7 520.5 L2869.3 514.1 L2873.4 508.1 L2877.7 502.6 L2882.3 497.6 L2887 493.3 L2891.7 489.8 L2896.4 487.1 L2901 485.3 L2905.3 484.4 L2909.3 484.4 L2913 485.3 L2916.1 487.1" fill="none" stroke="#f4f4f4" stroke-width="7" stroke-linecap="round" stroke-linejoin="round" />
<path d="M2857.8 578.7 L2854.8 576.6 L2852.3 573.6 L2850.4 569.8 L2849.1 565.3 L2848.5 560.2 L2848.4 554.5 L2849 548.4 L2850.2 541.9 L2852.1 535.3 L2854.5 528.5 L2857.4 521.8 L2860.8 515.2 L2864.6 508.9 L2868.8 503 L2873.2 497.5 L2877.8 492.7 L2882.5 488.5 L2887.3 485.1 L2891.9 482.5 L2896.5 480.7 L2900.8 479.9 L2904.7 479.9 L2908.3 480.9 L2911.5 482.7" fill="none" stroke="#333" stroke-width="2.5" stroke-linecap="round" stroke-linejoin="round" />
<g transform="translate(526 642) rotate(-14.5) scale(1.0 1.0)">
<path d="M-15 2 Q-19 4 -19 12 L-17 36 Q-12 44 -10 57 L12 57 Q14 44 19 36 L19 10 Q19 2 12 0 L-8 0 Q-13 0 -15 2Z" fill="#fff" stroke="#000" stroke-width="5.5" stroke-linejoin="round" />
<path d="M-4 14 Q2 12 4 18 Q2 24 -3 22" fill="none" stroke="#000" stroke-width="3.5" stroke-linecap="round" stroke-linejoin="round" />
<path d="M17 30 L17 40" fill="none" stroke="#000" stroke-width="7" stroke-linecap="round" stroke-linejoin="round" />
<path d="M-16 38 L-12 52" fill="none" stroke="#000" stroke-width="7" stroke-linecap="round" stroke-linejoin="round" />
<path d="M-16 58C-22.7 60 -21.5 61.4 -24 70C-26.5 78.6 -29.3 93.7 -31 109.5C-32.7 125.3 -33.8 149.2 -34 165C-34.2 180.8 -33.5 196.8 -32 204C-30.5 211.2 -34.5 207.3 -25 208C-15.5 208.7 15.5 208.7 25 208C34.5 207.3 30.5 211.2 32 204C33.5 196.8 34.2 180.8 34 165C33.8 149.2 32.7 125.3 31 109.5C29.3 93.7 26.5 78.6 24 70C21.5 61.4 22.7 60 16 58C9.3 56 -9.3 56 -16 58Z" fill="#fff" stroke="#000" stroke-width="6" stroke-linejoin="round" />
<path d="M-25.5 70.9 L-26.7 77.3 L-27.8 83.7 L-29 90.1 L-30.2 96.6 L-31.3 103 L-32.5 109.4 L-23.8 110 L-20.9 103.7 L-26.9 96.8 L-24.5 90.5 L-24.5 84 L-21.3 77.7 L-20.7 71.2Z" fill="#000" />
<path d="M-32.5 109.4 L-32.8 115.6 L-33.2 121.7 L-33.5 127.9 L-33.8 134.1 L-34.2 140.2 L-34.5 146.4 L-34.8 152.6 L-35.2 158.7 L-35.5 164.9 L-28.9 165.4 L-26.1 159.4 L-25.7 153.2 L-23.8 147.1 L-30.3 140.5 L-24.3 134.7 L-29.6 128.2 L-25.8 122.2 L-24.5 116.1 L-28.6 109.7Z" fill="#000" />
<path d="M-35.5 165 L-35.2 171.5 L-34.8 178 L-34.5 184.5 L-34.2 191 L-33.8 197.5 L-33.5 204 L-27.1 204 L-26.5 197.5 L-25.9 191 L-22.5 184.5 L-30.9 178 L-31.3 171.5 L-28.6 165Z" fill="#000" />
<path d="M32.5 109.4 L32.8 115.6 L33.2 121.7 L33.5 127.9 L33.8 134.1 L34.2 140.2 L34.5 146.4 L34.8 152.6 L35.2 158.7 L35.5 164.9 L27.6 165.4 L32.5 158.9 L27.2 153.1 L31.8 146.6 L25.8 140.8 L25.9 134.6 L30.8 128.1 L25.3 122.3 L26.5 116 L27 109.8Z" fill="#000" />
<path d="M35.5 165 L35.2 171.5 L34.8 178 L34.5 184.5 L34.2 191 L33.8 197.5 L33.5 204 L25.3 204 L27.2 197.5 L31.5 191 L31.8 184.5 L30.8 178 L32.5 171.5 L32 165Z" fill="#000" />
<circle cx="20" cy="134.7" r="1.7" fill="#444"/>
<circle cx="6" cy="77.3" r="1.3" fill="#444"/>
<circle cx="-6.1" cy="93.4" r="2.2" fill="#444"/>
<circle cx="-15.7" cy="87.9" r="2.7" fill="#444"/>
<circle cx="17.2" cy="109.1" r="2.7" fill="#444"/>
<circle cx="-4.1" cy="117.6" r="2.1" fill="#444"/>
<circle cx="7.9" cy="153.3" r="2.2" fill="#444"/>
<circle cx="19.7" cy="150.1" r="2.1" fill="#444"/>
<circle cx="11.8" cy="124.8" r="1.6" fill="#444"/>
<circle cx="17.5" cy="107.3" r="2.1" fill="#444"/>
<circle cx="-20.2" cy="140.5" r="1.9" fill="#444"/>
<circle cx="-20.3" cy="144.7" r="2.2" fill="#444"/>
<circle cx="-19.7" cy="151.7" r="2.3" fill="#444"/>
<circle cx="10.6" cy="129.5" r="1.8" fill="#444"/>
<circle cx="14.1" cy="161.7" r="1.2" fill="#444"/>
<circle cx="8.3" cy="75.1" r="2.8" fill="#444"/>
<circle cx="-4.1" cy="100.7" r="2.2" fill="#444"/>
<circle cx="-8.3" cy="109.9" r="1.7" fill="#444"/>
<circle cx="6.9" cy="116.5" r="1.7" fill="#444"/>
<circle cx="13" cy="117.5" r="1.2" fill="#444"/>
<circle cx="13.2" cy="143.3" r="1.7" fill="#444"/>
<circle cx="12.8" cy="96.8" r="1.6" fill="#444"/>
<circle cx="-5" cy="92.1" r="2.4" fill="#444"/>
<circle cx="-8.6" cy="80.6" r="1.8" fill="#444"/>
<circle cx="-6.6" cy="178.7" r="2.7" fill="#444"/>
<circle cx="-8.5" cy="89.7" r="2.3" fill="#444"/>
<circle cx="-5.9" cy="185.6" r="1.6" fill="#444"/>
<circle cx="3" cy="83.2" r="1.5" fill="#444"/>
<circle cx="18.3" cy="175.1" r="1.5" fill="#444"/>
<circle cx="13.3" cy="104.3" r="2.3" fill="#444"/>
<circle cx="-11.4" cy="175" r="1.4" fill="#444"/>
<circle cx="13" cy="106.1" r="1.7" fill="#444"/>
<circle cx="-6.3" cy="113.4" r="1.9" fill="#444"/>
<circle cx="17.2" cy="121.9" r="1.5" fill="#444"/>
<circle cx="14" cy="67.6" r="2.7" fill="#444"/>
<circle cx="-7.4" cy="199.2" r="2.8" fill="#444"/>
<circle cx="-17.1" cy="191.3" r="2.5" fill="#444"/>
<circle cx="11.9" cy="179.1" r="2.1" fill="#444"/>
<circle cx="-9" cy="105.7" r="1.6" fill="#444"/>
<circle cx="5.6" cy="76.1" r="1.7" fill="#444"/>
<circle cx="-21.8" cy="175.6" r="2.7" fill="#444"/>
<circle cx="19.9" cy="160" r="2.7" fill="#444"/>
<circle cx="7.8" cy="187.6" r="1.2" fill="#444"/>
<circle cx="-17.4" cy="166.9" r="1.7" fill="#444"/>
<circle cx="3.6" cy="155.8" r="1.9" fill="#444"/>
<circle cx="9.9" cy="192.8" r="1.8" fill="#444"/>
<circle cx="14.4" cy="100.8" r="2" fill="#444"/>
<circle cx="-11" cy="171.8" r="1.5" fill="#444"/>
<circle cx="15.5" cy="138.6" r="1.5" fill="#444"/>
<circle cx="20.7" cy="173.1" r="2.6" fill="#444"/>
<circle cx="-23" cy="177.3" r="2.3" fill="#444"/>
<circle cx="-22.2" cy="182.6" r="1.7" fill="#444"/>
<circle cx="3.1" cy="103" r="1.9" fill="#444"/>
<circle cx="13.8" cy="130.4" r="1.2" fill="#444"/>
<circle cx="-13" cy="74.3" r="1.4" fill="#444"/>
<circle cx="15.2" cy="76.2" r="2.7" fill="#444"/>
<circle cx="0.6" cy="78.5" r="1.7" fill="#444"/>
<circle cx="-8.8" cy="109.2" r="2.3" fill="#444"/>
<circle cx="-9.7" cy="145.6" r="1.5" fill="#444"/>
<circle cx="-15.4" cy="111.1" r="2.1" fill="#444"/>
<circle cx="-9.4" cy="162.9" r="1.3" fill="#444"/>
<circle cx="-7.4" cy="90.9" r="2.2" fill="#444"/>
<circle cx="-9.7" cy="171.9" r="2.6" fill="#444"/>
<circle cx="-6.4" cy="150.5" r="1.8" fill="#444"/>
<circle cx="11.6" cy="133.5" r="1.9" fill="#444"/>
<circle cx="-4.8" cy="160" r="1.6" fill="#444"/>
<circle cx="11.6" cy="138.8" r="1.3" fill="#444"/>
<circle cx="-6.1" cy="123.9" r="2.7" fill="#444"/>
<circle cx="-10.6" cy="192.5" r="2.7" fill="#444"/>
<circle cx="-14.7" cy="173" r="2" fill="#444"/>
<circle cx="12.3" cy="83.5" r="2.3" fill="#444"/>
<circle cx="17.3" cy="185.9" r="2.3" fill="#444"/>
<circle cx="6.5" cy="165.3" r="1.4" fill="#444"/>
<circle cx="-20.8" cy="145.8" r="1.4" fill="#444"/>
<circle cx="-21.5" cy="170.8" r="1.4" fill="#444"/>
<path d="M-19.8 135 Q0 126 18.2 123" fill="none" stroke="#444" stroke-width="3" stroke-linecap="round" stroke-linejoin="round" />
<path d="M-28 207 L-26 223 Q-24 241 0 242 Q24 241 26 223 L28 207Z" fill="#000" stroke="#000" stroke-width="5" stroke-linejoin="round" />
<ellipse cx="-1" cy="214" rx="23" ry="5.5" fill="#fff"/>
<ellipse cx="4" cy="229" rx="16" ry="7" fill="#fff"/>
</g>
<g transform="translate(771 594) rotate(-14.5) scale(1.0 1.0)">
<path d="M-15 2 Q-19 4 -19 12 L-17 36 Q-12 44 -10 57 L12 57 Q14 44 19 36 L19 10 Q19 2 12 0 L-8 0 Q-13 0 -15 2Z" fill="#fff" stroke="#000" stroke-width="5.5" stroke-linejoin="round" />
<path d="M-4 14 Q2 12 4 18 Q2 24 -3 22" fill="none" stroke="#000" stroke-width="3.5" stroke-linecap="round" stroke-linejoin="round" />
<path d="M17 30 L17 40" fill="none" stroke="#000" stroke-width="7" stroke-linecap="round" stroke-linejoin="round" />
<path d="M-16 38 L-12 52" fill="none" stroke="#000" stroke-width="7" stroke-linecap="round" stroke-linejoin="round" />
<path d="M-16 58C-22.7 60 -21.5 61.4 -24 70C-26.5 78.6 -29.3 93.7 -31 109.5C-32.7 125.3 -33.8 149.2 -34 165C-34.2 180.8 -33.5 196.8 -32 204C-30.5 211.2 -34.5 207.3 -25 208C-15.5 208.7 15.5 208.7 25 208C34.5 207.3 30.5 211.2 32 204C33.5 196.8 34.2 180.8 34 165C33.8 149.2 32.7 125.3 31 109.5C29.3 93.7 26.5 78.6 24 70C21.5 61.4 22.7 60 16 58C9.3 56 -9.3 56 -16 58Z" fill="#fff" stroke="#000" stroke-width="6" stroke-linejoin="round" />
<path d="M-25.5 70.9 L-26.7 77.3 L-27.8 83.7 L-29 90.1 L-30.2 96.6 L-31.3 103 L-32.5 109.4 L-29.2 109.6 L-25.1 103.4 L-26.9 96.8 L-19.4 90.8 L-23.3 84 L-23.4 77.5 L-22.2 71.1Z" fill="#000" />
<path d="M-32.5 109.4 L-32.8 115.6 L-33.2 121.7 L-33.5 127.9 L-33.8 134.1 L-34.2 140.2 L-34.5 146.4 L-34.8 152.6 L-35.2 158.7 L-35.5 164.9 L-23.9 165.7 L-31.3 159 L-30.9 152.8 L-26.4 147 L-30.3 140.5 L-24.6 134.7 L-27.3 128.3 L-29.3 122 L-22.5 116.3 L-26.7 109.8Z" fill="#000" />
<path d="M-35.5 165 L-35.2 171.5 L-34.8 178 L-34.5 184.5 L-34.2 191 L-33.8 197.5 L-33.5 204 L-29.6 204 L-28.2 197.5 L-26.2 191 L-27.2 184.5 L-23.9 178 L-23.9 171.5 L-27.9 165Z" fill="#000" />
<path d="M32.5 109.4 L32.8 115.6 L33.2 121.7 L33.5 127.9 L33.8 134.1 L34.2 140.2 L34.5 146.4 L34.8 152.6 L35.2 158.7 L35.5 164.9 L32.8 165.1 L32.5 158.9 L30.7 152.8 L30.2 146.7 L28.3 140.6 L31.1 134.3 L30.8 128.1 L28.3 122.1 L28.9 115.8 L29 109.6Z" fill="#000" />
<path d="M35.5 165 L35.2 171.5 L34.8 178 L34.5 184.5 L34.2 191 L33.8 197.5 L33.5 204 L30 204 L27.1 197.5 L25.9 191 L31 184.5 L31.1 178 L31.3 171.5 L28.5 165Z" fill="#000" />
<circle cx="17.2" cy="196.4" r="1.9" fill="#444"/>
<circle cx="10.4" cy="193.4" r="2.6" fill="#444"/>
<circle cx="-13.4" cy="106.3" r="2" fill="#444"/>
<circle cx="-6.9" cy="85.3" r="2.8" fill="#444"/>
<circle cx="-18.1" cy="111.4" r="1.3" fill="#444"/>
<circle cx="11.9" cy="89.7" r="1.8" fill="#444"/>
<circle cx="-15.7" cy="105.9" r="2.9" fill="#444"/>
<circle cx="-13.9" cy="123.8" r="1.3" fill="#444"/>
<circle cx="-12.2" cy="74.4" r="2.4" fill="#444"/>
<circle cx="-15.7" cy="87.1" r="2" fill="#444"/>
<circle cx="17.4" cy="100.4" r="1.4" fill="#444"/>
<circle cx="14.1" cy="137.9" r="1.9" fill="#444"/>
<circle cx="-3.8" cy="199.3" r="1.6" fill="#444"/>
<circle cx="-18.2" cy="122" r="1.9" fill="#444"/>
<circle cx="15" cy="100.3" r="2.6" fill="#444"/>
<circle cx="-19.2" cy="133.8" r="1.6" fill="#444"/>
<circle cx="-12.6" cy="99.5" r="1.6" fill="#444"/>
<circle cx="-19.4" cy="183.5" r="1.3" fill="#444"/>
<circle cx="7.2" cy="191.4" r="2.9" fill="#444"/>
<circle cx="16.7" cy="121" r="2.3" fill="#444"/>
<circle cx="14.9" cy="173" r="2" fill="#444"/>
<circle cx="-11.5" cy="79.4" r="2.7" fill="#444"/>
<circle cx="21.8" cy="187.6" r="1.8" fill="#444"/>
<circle cx="15.9" cy="155" r="2.3" fill="#444"/>
<circle cx="4.1" cy="176.2" r="2.3" fill="#444"/>
<circle cx="-13.8" cy="158.9" r="2.8" fill="#444"/>
<circle cx="-22.3" cy="195.1" r="2.9" fill="#444"/>
<circle cx="12.8" cy="195.9" r="1.3" fill="#444"/>
<circle cx="-20.1" cy="187.5" r="2.8" fill="#444"/>
<circle cx="-20.1" cy="156.4" r="1.5" fill="#444"/>
<circle cx="6.5" cy="152.1" r="2.5" fill="#444"/>
<circle cx="-17.2" cy="191.3" r="1.2" fill="#444"/>
<circle cx="-23.8" cy="190.6" r="2.7" fill="#444"/>
<circle cx="12.1" cy="82.5" r="2.5" fill="#444"/>
<circle cx="6" cy="184.6" r="2.7" fill="#444"/>
<circle cx="9" cy="94" r="1.8" fill="#444"/>
<circle cx="16.7" cy="186.5" r="2" fill="#444"/>
<circle cx="-19.6" cy="137.5" r="1.3" fill="#444"/>
<circle cx="-2.1" cy="146.7" r="2.7" fill="#444"/>
<circle cx="-17.3" cy="148.5" r="1.8" fill="#444"/>
<circle cx="3.6" cy="169.9" r="1.2" fill="#444"/>
<circle cx="18.1" cy="179.3" r="1.3" fill="#444"/>
<circle cx="-8.6" cy="139.8" r="2.5" fill="#444"/>
<circle cx="-12.4" cy="108.7" r="2" fill="#444"/>
<circle cx="-21.7" cy="196.5" r="1.4" fill="#444"/>
<circle cx="18.1" cy="150.2" r="2.1" fill="#444"/>
<circle cx="15.8" cy="125.1" r="2.5" fill="#444"/>
<circle cx="13.3" cy="76" r="1.5" fill="#444"/>
<circle cx="14.2" cy="107.5" r="1.9" fill="#444"/>
<circle cx="-18" cy="174" r="2.7" fill="#444"/>
<circle cx="-13.5" cy="90.6" r="2" fill="#444"/>
<circle cx="4.2" cy="112.4" r="2.7" fill="#444"/>
<circle cx="-22" cy="162.2" r="1.7" fill="#444"/>
<circle cx="-2.3" cy="140" r="2.4" fill="#444"/>
<circle cx="-18" cy="131.9" r="1.6" fill="#444"/>
<circle cx="-11.1" cy="180.6" r="2.5" fill="#444"/>
<circle cx="10.9" cy="199.1" r="2.4" fill="#444"/>
<circle cx="-11.7" cy="148.7" r="2.8" fill="#444"/>
<circle cx="17.5" cy="129.6" r="1.7" fill="#444"/>
<circle cx="17" cy="183.2" r="2.2" fill="#444"/>
<circle cx="-15.9" cy="126.2" r="2.5" fill="#444"/>
<circle cx="9.5" cy="115.5" r="1.4" fill="#444"/>
<circle cx="-12.9" cy="78.1" r="2.6" fill="#444"/>
<circle cx="14.7" cy="90.8" r="1.8" fill="#444"/>
<circle cx="-10.1" cy="144.2" r="2.3" fill="#444"/>
<circle cx="-6" cy="79.5" r="2.8" fill="#444"/>
<circle cx="8.3" cy="91.1" r="1.8" fill="#444"/>
<circle cx="-17.5" cy="107.3" r="1.2" fill="#444"/>
<circle cx="19.1" cy="194.2" r="2.6" fill="#444"/>
<circle cx="21.8" cy="175.2" r="1.5" fill="#444"/>
<circle cx="-1.3" cy="145.3" r="2.2" fill="#444"/>
<circle cx="16.5" cy="192.7" r="2.8" fill="#444"/>
<circle cx="7.9" cy="82.7" r="2.3" fill="#444"/>
<circle cx="9.4" cy="166.9" r="2.6" fill="#444"/>
<circle cx="16.4" cy="107.6" r="1.9" fill="#444"/>
<path d="M-19.8 135 Q0 126 18.2 123" fill="none" stroke="#444" stroke-width="3" stroke-linecap="round" stroke-linejoin="round" />
</g>
<g transform="translate(1011 536) rotate(-14.5) scale(1.0 1.0)">
<path d="M-15 2 Q-19 4 -19 12 L-17 36 Q-12 44 -10 57 L12 57 Q14 44 19 36 L19 10 Q19 2 12 0 L-8 0 Q-13 0 -15 2Z" fill="#fff" stroke="#000" stroke-width="5.5" stroke-linejoin="round" />
<path d="M-4 14 Q2 12 4 18 Q2 24 -3 22" fill="none" stroke="#000" stroke-width="3.5" stroke-linecap="round" stroke-linejoin="round" />
<path d="M17 30 L17 40" fill="none" stroke="#000" stroke-width="7" stroke-linecap="round" stroke-linejoin="round" />
<path d="M-16 38 L-12 52" fill="none" stroke="#000" stroke-width="7" stroke-linecap="round" stroke-linejoin="round" />
<path d="M-16 58C-22.7 60 -21.5 61.4 -24 70C-26.5 78.6 -29.3 93.7 -31 109.5C-32.7 125.3 -33.8 149.2 -34 165C-34.2 180.8 -33.5 196.8 -32 204C-30.5 211.2 -34.5 207.3 -25 208C-15.5 208.7 15.5 208.7 25 208C34.5 207.3 30.5 211.2 32 204C33.5 196.8 34.2 180.8 34 165C33.8 149.2 32.7 125.3 31 109.5C29.3 93.7 26.5 78.6 24 70C21.5 61.4 22.7 60 16 58C9.3 56 -9.3 56 -16 58Z" fill="#fff" stroke="#000" stroke-width="6" stroke-linejoin="round" />
<path d="M-25.5 70.9 L-26.7 77.3 L-27.8 83.7 L-29 90.1 L-30.2 96.6 L-31.3 103 L-32.5 109.4 L-29.2 109.6 L-28 103.2 L-20.3 97.3 L-24.5 90.5 L-20 84.3 L-18.4 77.9 L-18.7 71.4Z" fill="#000" />
<path d="M-32.5 109.4 L-32.8 115.6 L-33.2 121.7 L-33.5 127.9 L-33.8 134.1 L-34.2 140.2 L-34.5 146.4 L-34.8 152.6 L-35.2 158.7 L-35.5 164.9 L-29.4 165.3 L-22.9 159.6 L-30.9 152.8 L-29 146.8 L-30.3 140.5 L-29.9 134.3 L-29.6 128.2 L-27.1 122.2 L-28.9 115.8 L-24.9 109.9Z" fill="#000" />
<path d="M-35.5 165 L-35.2 171.5 L-34.8 178 L-34.5 184.5 L-34.2 191 L-33.8 197.5 L-33.5 204 L-27.4 204 L-29.9 197.5 L-30.3 191 L-23.4 184.5 L-26 178 L-29.4 171.5 L-28 165Z" fill="#000" />
<path d="M32.5 109.4 L32.8 115.6 L33.2 121.7 L33.5 127.9 L33.8 134.1 L34.2 140.2 L34.5 146.4 L34.8 152.6 L35.2 158.7 L35.5 164.9 L32.8 165.1 L30.9 159 L31.3 152.8 L27.6 146.9 L31.5 140.4 L31.1 134.3 L29.4 128.2 L25.6 122.3 L28.6 115.9 L29 109.6Z" fill="#000" />
<path d="M35.5 165 L35.2 171.5 L34.8 178 L34.5 184.5 L34.2 191 L33.8 197.5 L33.5 204 L26.2 204 L30.3 197.5 L29 191 L30.3 184.5 L26.1 178 L31.4 171.5 L31.8 165Z" fill="#000" />
<circle cx="14.3" cy="71.9" r="1.4" fill="#444"/>
<circle cx="7.5" cy="112.7" r="2.8" fill="#444"/>
<circle cx="16.7" cy="112.6" r="2.1" fill="#444"/>
<circle cx="-9.9" cy="108.9" r="1.5" fill="#444"/>
<circle cx="-12.8" cy="77.5" r="2.4" fill="#444"/>
<circle cx="-19.8" cy="200.6" r="1.3" fill="#444"/>
<circle cx="4.9" cy="199.2" r="1.9" fill="#444"/>
<circle cx="6.4" cy="98.8" r="2.6" fill="#444"/>
<circle cx="-6.4" cy="128.1" r="1.3" fill="#444"/>
<circle cx="-23.2" cy="189.8" r="2" fill="#444"/>
<circle cx="-19.5" cy="179.3" r="2.4" fill="#444"/>
<circle cx="10.9" cy="194.3" r="2.5" fill="#444"/>
<circle cx="-4.7" cy="81.3" r="1.5" fill="#444"/>
<circle cx="-13.7" cy="180.2" r="2" fill="#444"/>
<circle cx="20.3" cy="200.9" r="2.9" fill="#444"/>
<circle cx="-2.1" cy="127.8" r="2.4" fill="#444"/>
<circle cx="-11.7" cy="131.2" r="1.9" fill="#444"/>
<circle cx="-7.1" cy="86.6" r="2.9" fill="#444"/>
<circle cx="10.8" cy="195.6" r="2" fill="#444"/>
<circle cx="-16.3" cy="112.4" r="1.7" fill="#444"/>
<circle cx="19" cy="171.8" r="1.8" fill="#444"/>
<circle cx="16" cy="172.3" r="2.4" fill="#444"/>
<circle cx="14.6" cy="156" r="1.8" fill="#444"/>
<circle cx="-13.4" cy="161.4" r="2" fill="#444"/>
<circle cx="12.7" cy="170.1" r="1.7" fill="#444"/>
<circle cx="11.9" cy="193.7" r="2.2" fill="#444"/>
<circle cx="3.7" cy="68.6" r="1.6" fill="#444"/>
<circle cx="-4.6" cy="157" r="2.6" fill="#444"/>
<circle cx="15.7" cy="153.8" r="1.8" fill="#444"/>
<circle cx="13.7" cy="153.3" r="2.6" fill="#444"/>
<circle cx="14.8" cy="113.9" r="2.7" fill="#444"/>
<circle cx="21.3" cy="159.2" r="2.8" fill="#444"/>
<circle cx="3.7" cy="136.4" r="1.5" fill="#444"/>
<circle cx="21.6" cy="179.1" r="2" fill="#444"/>
<circle cx="13.4" cy="159.7" r="2.4" fill="#444"/>
<circle cx="11.8" cy="90" r="2.2" fill="#444"/>
<circle cx="-7.2" cy="156.2" r="2.3" fill="#444"/>
<circle cx="10.5" cy="170.8" r="2.4" fill="#444"/>
<circle cx="-12.1" cy="70.7" r="1.9" fill="#444"/>
<circle cx="-15.2" cy="154.1" r="2.4" fill="#444"/>
<circle cx="-20.2" cy="151.5" r="2" fill="#444"/>
<circle cx="-16.1" cy="97.3" r="1.4" fill="#444"/>
<circle cx="-13.9" cy="109.5" r="1.5" fill="#444"/>
<circle cx="-3.1" cy="71.8" r="1.8" fill="#444"/>
<circle cx="7.6" cy="149" r="1.6" fill="#444"/>
<circle cx="-24" cy="188" r="1.9" fill="#444"/>
<circle cx="-6.4" cy="104.3" r="1.4" fill="#444"/>
<circle cx="-10.2" cy="178.4" r="1.3" fill="#444"/>
<circle cx="-18.6" cy="149.2" r="2.1" fill="#444"/>
<circle cx="6.2" cy="112.5" r="2.8" fill="#444"/>
<circle cx="-7.8" cy="176.7" r="2.6" fill="#444"/>
<circle cx="-9.6" cy="153.1" r="1.4" fill="#444"/>
<circle cx="6.1" cy="146.9" r="2.8" fill="#444"/>
<circle cx="9.9" cy="196.7" r="1.8" fill="#444"/>
<circle cx="-23.9" cy="186.7" r="1.4" fill="#444"/>
<circle cx="8.6" cy="142.8" r="1.4" fill="#444"/>
<circle cx="18.4" cy="151.3" r="1.8" fill="#444"/>
<circle cx="-13.5" cy="124.8" r="1.7" fill="#444"/>
<circle cx="-10.5" cy="197.3" r="2.8" fill="#444"/>
<circle cx="9" cy="189.4" r="1.6" fill="#444"/>
<circle cx="-1.3" cy="198.5" r="1.9" fill="#444"/>
<circle cx="17.8" cy="109.8" r="2" fill="#444"/>
<circle cx="-2.8" cy="105.4" r="1.4" fill="#444"/>
<circle cx="-5.7" cy="150.3" r="1.7" fill="#444"/>
<circle cx="17.7" cy="171.7" r="1.2" fill="#444"/>
<circle cx="-12.6" cy="138.4" r="2.8" fill="#444"/>
<circle cx="-15.2" cy="171.8" r="1.7" fill="#444"/>
<circle cx="16.3" cy="87.7" r="1.7" fill="#444"/>
<circle cx="-3.5" cy="148.5" r="2.3" fill="#444"/>
<circle cx="13.7" cy="147.9" r="1.4" fill="#444"/>
<circle cx="-13" cy="168.9" r="2.1" fill="#444"/>
<circle cx="-10.7" cy="112" r="2.1" fill="#444"/>
<circle cx="-9.1" cy="129.2" r="2.5" fill="#444"/>
<circle cx="-20" cy="146.2" r="1.6" fill="#444"/>
<circle cx="17.5" cy="128.1" r="2.7" fill="#444"/>
<path d="M-19.8 135 Q0 126 18.2 123" fill="none" stroke="#444" stroke-width="3" stroke-linecap="round" stroke-linejoin="round" />
<path d="M-28 207 L-26 223 Q-24 241 0 242 Q24 241 26 223 L28 207Z" fill="#000" stroke="#000" stroke-width="5" stroke-linejoin="round" />
<ellipse cx="-1" cy="214" rx="23" ry="5.5" fill="#fff"/>
<ellipse cx="4" cy="229" rx="16" ry="7" fill="#fff"/>
</g>
<g transform="translate(1248 482) rotate(-14.5) scale(1.0 1.0)">
<path d="M-15 2 Q-19 4 -19 12 L-17 36 Q-12 44 -10 57 L12 57 Q14 44 19 36 L19 10 Q19 2 12 0 L-8 0 Q-13 0 -15 2Z" fill="#fff" stroke="#000" stroke-width="5.5" stroke-linejoin="round" />
<path d="M-4 14 Q2 12 4 18 Q2 24 -3 22" fill="none" stroke="#000" stroke-width="3.5" stroke-linecap="round" stroke-linejoin="round" />
<path d="M17 30 L17 40" fill="none" stroke="#000" stroke-width="7" stroke-linecap="round" stroke-linejoin="round" />
<path d="M-16 38 L-12 52" fill="none" stroke="#000" stroke-width="7" stroke-linecap="round" stroke-linejoin="round" />
<path d="M-16 58C-22.7 60 -21.5 61.4 -24 70C-26.5 78.6 -29.3 93.7 -31 109.5C-32.7 125.3 -33.8 149.2 -34 165C-34.2 180.8 -33.5 196.8 -32 204C-30.5 211.2 -34.5 207.3 -25 208C-15.5 208.7 15.5 208.7 25 208C34.5 207.3 30.5 211.2 32 204C33.5 196.8 34.2 180.8 34 165C33.8 149.2 32.7 125.3 31 109.5C29.3 93.7 26.5 78.6 24 70C21.5 61.4 22.7 60 16 58C9.3 56 -9.3 56 -16 58Z" fill="#fff" stroke="#000" stroke-width="6" stroke-linejoin="round" />
<path d="M-25.5 70.9 L-26.7 77.3 L-27.8 83.7 L-29 90.1 L-30.2 96.6 L-31.3 103 L-32.5 109.4 L-24.8 109.9 L-26.4 103.3 L-24.8 96.9 L-23.2 90.6 L-23.3 84 L-20.8 77.7 L-17.2 71.5Z" fill="#000" />
<path d="M-32.5 109.4 L-32.8 115.6 L-33.2 121.7 L-33.5 127.9 L-33.8 134.1 L-34.2 140.2 L-34.5 146.4 L-34.8 152.6 L-35.2 158.7 L-35.5 164.9 L-23.7 165.7 L-26.8 159.3 L-30.9 152.8 L-24.5 147.1 L-28.6 140.6 L-23.3 134.8 L-23.5 128.6 L-23.1 122.4 L-27.1 116 L-25 109.9Z" fill="#000" />
<path d="M-35.5 165 L-35.2 171.5 L-34.8 178 L-34.5 184.5 L-34.2 191 L-33.8 197.5 L-33.5 204 L-25.5 204 L-28.3 197.5 L-24.1 191 L-26.1 184.5 L-23.5 178 L-28.8 171.5 L-29.7 165Z" fill="#000" />
<path d="M32.5 109.4 L32.8 115.6 L33.2 121.7 L33.5 127.9 L33.8 134.1 L34.2 140.2 L34.5 146.4 L34.8 152.6 L35.2 158.7 L35.5 164.9 L29.7 165.3 L31 159 L32.1 152.8 L31.8 146.6 L30.4 140.5 L31.1 134.3 L30.8 128.1 L29.6 122 L24.7 116.1 L29.8 109.6Z" fill="#000" />
<path d="M35.5 165 L35.2 171.5 L34.8 178 L34.5 184.5 L34.2 191 L33.8 197.5 L33.5 204 L27.3 204 L24.6 197.5 L31.5 191 L27.7 184.5 L31.3 178 L31.6 171.5 L31.1 165Z" fill="#000" />
<circle cx="15.2" cy="126.9" r="2.6" fill="#444"/>
<circle cx="-3.7" cy="136.2" r="2.4" fill="#444"/>
<circle cx="-17" cy="121.8" r="2.5" fill="#444"/>
<circle cx="-1.9" cy="102.6" r="2.5" fill="#444"/>
<circle cx="-16.3" cy="90.1" r="1.4" fill="#444"/>
<circle cx="-9.7" cy="146" r="1.6" fill="#444"/>
<circle cx="17.8" cy="127.5" r="1.6" fill="#444"/>
<circle cx="16.2" cy="122" r="2.2" fill="#444"/>
<circle cx="-3" cy="102.9" r="2" fill="#444"/>
<circle cx="-7.1" cy="86.1" r="1.7" fill="#444"/>
<circle cx="-12.3" cy="174.8" r="2.3" fill="#444"/>
<circle cx="22.4" cy="197.1" r="1.8" fill="#444"/>
<circle cx="-11.4" cy="147.8" r="1.9" fill="#444"/>
<circle cx="14.4" cy="132.4" r="2.8" fill="#444"/>
<circle cx="-17.8" cy="106" r="2" fill="#444"/>
<circle cx="-15" cy="74.7" r="2.5" fill="#444"/>
<circle cx="9.8" cy="82" r="1.8" fill="#444"/>
<circle cx="19.8" cy="192.8" r="1.3" fill="#444"/>
<circle cx="15.8" cy="92.8" r="2.2" fill="#444"/>
<circle cx="13.6" cy="123.6" r="2.6" fill="#444"/>
<circle cx="-3.8" cy="132.9" r="1.4" fill="#444"/>
<circle cx="-15.2" cy="115.5" r="2.3" fill="#444"/>
<circle cx="-17.2" cy="148.3" r="2.3" fill="#444"/>
<circle cx="-13.9" cy="80" r="2.3" fill="#444"/>
<circle cx="17.2" cy="129" r="2.3" fill="#444"/>
<circle cx="-18.5" cy="161" r="2.6" fill="#444"/>
<circle cx="6.7" cy="78.2" r="2.7" fill="#444"/>
<circle cx="20.8" cy="188.6" r="2" fill="#444"/>
<circle cx="15.9" cy="160" r="1.4" fill="#444"/>
<circle cx="21.7" cy="193.4" r="1.9" fill="#444"/>
<circle cx="-5.9" cy="171.3" r="1.7" fill="#444"/>
<circle cx="-20.4" cy="162.5" r="2.6" fill="#444"/>
<circle cx="-14.9" cy="198.1" r="2.8" fill="#444"/>
<circle cx="13" cy="78.2" r="1.7" fill="#444"/>
<circle cx="-7.5" cy="196.5" r="2.8" fill="#444"/>
<circle cx="-13.7" cy="71.3" r="2.6" fill="#444"/>
<circle cx="4.4" cy="152.6" r="1.3" fill="#444"/>
<circle cx="-7.4" cy="90.2" r="1.3" fill="#444"/>
<circle cx="17" cy="200.1" r="2.8" fill="#444"/>
<circle cx="-11" cy="160.9" r="1.3" fill="#444"/>
<circle cx="-19.1" cy="165" r="2.1" fill="#444"/>
<circle cx="-1.3" cy="129.2" r="1.3" fill="#444"/>
<circle cx="2.3" cy="76.9" r="1.3" fill="#444"/>
<circle cx="-16.3" cy="137.4" r="1.7" fill="#444"/>
<circle cx="5" cy="87.2" r="1.9" fill="#444"/>
<circle cx="-12.1" cy="96.9" r="2.2" fill="#444"/>
<circle cx="-8.1" cy="189" r="1.5" fill="#444"/>
<circle cx="-12.3" cy="109.4" r="2.2" fill="#444"/>
<circle cx="7" cy="172.4" r="1.5" fill="#444"/>
<circle cx="-7.7" cy="110.6" r="1.9" fill="#444"/>
<circle cx="18.9" cy="120.3" r="2.1" fill="#444"/>
<circle cx="13.1" cy="155.7" r="2.3" fill="#444"/>
<circle cx="-10.2" cy="174.9" r="2.3" fill="#444"/>
<circle cx="-19.5" cy="197.3" r="2.3" fill="#444"/>
<circle cx="-17.4" cy="118.5" r="1.3" fill="#444"/>
<circle cx="-19.3" cy="168.7" r="2.4" fill="#444"/>
<circle cx="-7.2" cy="80.4" r="1.3" fill="#444"/>
<circle cx="14.6" cy="139.7" r="1.6" fill="#444"/>
<circle cx="18.7" cy="142.8" r="1.7" fill="#444"/>
<circle cx="12.2" cy="130.1" r="2.7" fill="#444"/>
<circle cx="8.5" cy="89.6" r="1.4" fill="#444"/>
<circle cx="15.8" cy="82" r="1.3" fill="#444"/>
<circle cx="16" cy="190.3" r="2.3" fill="#444"/>
<circle cx="10.9" cy="164.7" r="1.7" fill="#444"/>
<circle cx="-14.2" cy="126.4" r="2.7" fill="#444"/>
<circle cx="16.4" cy="171.4" r="1.6" fill="#444"/>
<circle cx="-13.6" cy="146.4" r="2.5" fill="#444"/>
<circle cx="22.3" cy="166.8" r="2.4" fill="#444"/>
<circle cx="15.3" cy="158.6" r="1.4" fill="#444"/>
<circle cx="-20.1" cy="146.8" r="1.8" fill="#444"/>
<circle cx="15.1" cy="82.7" r="1.2" fill="#444"/>
<circle cx="22.7" cy="190.5" r="1.9" fill="#444"/>
<circle cx="-21.8" cy="178.6" r="1.4" fill="#444"/>
<circle cx="-13.8" cy="68.3" r="1.2" fill="#444"/>
<circle cx="-20.7" cy="178" r="2.2" fill="#444"/>
<path d="M-19.8 135 Q0 126 18.2 123" fill="none" stroke="#444" stroke-width="3" stroke-linecap="round" stroke-linejoin="round" />
<path d="M-28 207 L-26 223 Q-24 241 0 242 Q24 241 26 223 L28 207Z" fill="#000" stroke="#000" stroke-width="5" stroke-linejoin="round" />
<ellipse cx="-1" cy="214" rx="23" ry="5.5" fill="#fff"/>
<ellipse cx="4" cy="229" rx="16" ry="7" fill="#fff"/>
</g>
<g transform="translate(1487 430) rotate(-14.5) scale(1.0 1.0)">
<path d="M-15 2 Q-19 4 -19 12 L-17 36 Q-12 44 -10 57 L12 57 Q14 44 19 36 L19 10 Q19 2 12 0 L-8 0 Q-13 0 -15 2Z" fill="#fff" stroke="#000" stroke-width="5.5" stroke-linejoin="round" />
<path d="M-4 14 Q2 12 4 18 Q2 24 -3 22" fill="none" stroke="#000" stroke-width="3.5" stroke-linecap="round" stroke-linejoin="round" />
<path d="M17 30 L17 40" fill="none" stroke="#000" stroke-width="7" stroke-linecap="round" stroke-linejoin="round" />
<path d="M-16 38 L-12 52" fill="none" stroke="#000" stroke-width="7" stroke-linecap="round" stroke-linejoin="round" />
<path d="M-16 58C-22.7 60 -21.5 61.4 -24 70C-26.5 78.6 -29.3 93.7 -31 109.5C-32.7 125.3 -33.8 149.2 -34 165C-34.2 180.8 -33.5 196.8 -32 204C-30.5 211.2 -34.5 207.3 -25 208C-15.5 208.7 15.5 208.7 25 208C34.5 207.3 30.5 211.2 32 204C33.5 196.8 34.2 180.8 34 165C33.8 149.2 32.7 125.3 31 109.5C29.3 93.7 26.5 78.6 24 70C21.5 61.4 22.7 60 16 58C9.3 56 -9.3 56 -16 58Z" fill="#fff" stroke="#000" stroke-width="6" stroke-linejoin="round" />
<path d="M-25.5 70.9 L-26.7 77.3 L-27.8 83.7 L-29 90.1 L-30.2 96.6 L-31.3 103 L-32.5 109.4 L-26.9 109.8 L-28 103.2 L-25.7 96.9 L-24.5 90.5 L-21.6 84.2 L-23.4 77.5 L-22.2 71.1Z" fill="#000" />
<path d="M-32.5 109.4 L-32.8 115.6 L-33.2 121.7 L-33.5 127.9 L-33.8 134.1 L-34.2 140.2 L-34.5 146.4 L-34.8 152.6 L-35.2 158.7 L-35.5 164.9 L-31.6 165.2 L-26.8 159.3 L-29.1 153 L-28.3 146.8 L-30.3 140.5 L-23.2 134.8 L-29.6 128.2 L-25.3 122.3 L-24.6 116.1 L-28.6 109.7Z" fill="#000" />
<path d="M-35.5 165 L-35.2 171.5 L-34.8 178 L-34.5 184.5 L-34.2 191 L-33.8 197.5 L-33.5 204 L-26.1 204 L-27.9 197.5 L-24.2 191 L-27.6 184.5 L-28.6 178 L-26.4 171.5 L-31.6 165Z" fill="#000" />
<path d="M32.5 109.4 L32.8 115.6 L33.2 121.7 L33.5 127.9 L33.8 134.1 L34.2 140.2 L34.5 146.4 L34.8 152.6 L35.2 158.7 L35.5 164.9 L27.8 165.4 L29.6 159.1 L28.4 153 L26.4 147 L27.2 140.7 L30.3 134.3 L29.9 128.1 L28.6 122 L30.1 115.8 L25.8 109.9Z" fill="#000" />
<path d="M35.5 165 L35.2 171.5 L34.8 178 L34.5 184.5 L34.2 191 L33.8 197.5 L33.5 204 L30.8 204 L30.3 197.5 L29.8 191 L26.9 184.5 L28.8 178 L31.6 171.5 L30.7 165Z" fill="#000" />
<circle cx="10.7" cy="74.9" r="1.4" fill="#444"/>
<circle cx="-7" cy="100.2" r="2.7" fill="#444"/>
<circle cx="-4" cy="77.8" r="2.1" fill="#444"/>
<circle cx="18.2" cy="185.4" r="2.7" fill="#444"/>
<circle cx="-6.1" cy="104.3" r="1.8" fill="#444"/>
<circle cx="22.6" cy="185.5" r="1.5" fill="#444"/>
<circle cx="-11.5" cy="90.6" r="1.6" fill="#444"/>
<circle cx="7.1" cy="132" r="1.6" fill="#444"/>
<circle cx="-5" cy="67.5" r="1.8" fill="#444"/>
<circle cx="19.5" cy="142.9" r="2.4" fill="#444"/>
<circle cx="8.5" cy="136.1" r="2.3" fill="#444"/>
<circle cx="13.6" cy="74.2" r="2.5" fill="#444"/>
<circle cx="17.4" cy="184.2" r="1.9" fill="#444"/>
<circle cx="-16.5" cy="120.5" r="2.3" fill="#444"/>
<circle cx="-14.3" cy="75.3" r="1.6" fill="#444"/>
<circle cx="-8.4" cy="88.7" r="1.3" fill="#444"/>
<circle cx="-12.1" cy="67" r="1.4" fill="#444"/>
<circle cx="-18.1" cy="115.7" r="2.7" fill="#444"/>
<circle cx="-17.1" cy="149.3" r="1.6" fill="#444"/>
<circle cx="-8.5" cy="113.6" r="1.4" fill="#444"/>
<circle cx="23.3" cy="180.8" r="2" fill="#444"/>
<circle cx="-17.7" cy="131.8" r="1.4" fill="#444"/>
<circle cx="-11.7" cy="112.9" r="2.6" fill="#444"/>
<circle cx="-16.1" cy="88.6" r="2.8" fill="#444"/>
<circle cx="-16.5" cy="137.8" r="2.1" fill="#444"/>
<circle cx="2.7" cy="70.6" r="2.9" fill="#444"/>
<circle cx="13.5" cy="182.7" r="1.6" fill="#444"/>
<circle cx="-14.6" cy="116.1" r="2.5" fill="#444"/>
<circle cx="14.3" cy="138.4" r="1.8" fill="#444"/>
<circle cx="13" cy="96.9" r="2.9" fill="#444"/>
<circle cx="17.5" cy="181.3" r="2.6" fill="#444"/>
<circle cx="-15.6" cy="166.1" r="2.1" fill="#444"/>
<circle cx="-17.9" cy="114.6" r="1.2" fill="#444"/>
<circle cx="-11.5" cy="104.4" r="2.4" fill="#444"/>
<circle cx="-6.4" cy="195.2" r="2.8" fill="#444"/>
<circle cx="23.5" cy="199.4" r="1.8" fill="#444"/>
<circle cx="-12" cy="96.5" r="1.5" fill="#444"/>
<circle cx="7.4" cy="94.4" r="2.7" fill="#444"/>
<circle cx="-3.4" cy="179.6" r="2.3" fill="#444"/>
<circle cx="-20.6" cy="174.2" r="2.3" fill="#444"/>
<circle cx="17.1" cy="188.9" r="2.5" fill="#444"/>
<circle cx="-15.2" cy="131.1" r="2.5" fill="#444"/>
<circle cx="13.5" cy="111.6" r="2.9" fill="#444"/>
<circle cx="-7.2" cy="120" r="2.8" fill="#444"/>
<circle cx="-17.3" cy="164.1" r="1.4" fill="#444"/>
<circle cx="14.5" cy="87.3" r="2.6" fill="#444"/>
<circle cx="12.7" cy="86.6" r="2.9" fill="#444"/>
<circle cx="-10.5" cy="155.1" r="2.1" fill="#444"/>
<circle cx="-16" cy="84.6" r="2.9" fill="#444"/>
<circle cx="3.7" cy="154.1" r="2.8" fill="#444"/>
<circle cx="16.2" cy="125.1" r="2.6" fill="#444"/>
<circle cx="-11.2" cy="95.3" r="1.7" fill="#444"/>
<circle cx="6.1" cy="99.2" r="1.6" fill="#444"/>
<circle cx="-16" cy="123.1" r="2.7" fill="#444"/>
<circle cx="-4.2" cy="114.4" r="2.2" fill="#444"/>
<circle cx="-8" cy="188.2" r="2.8" fill="#444"/>
<circle cx="3.8" cy="134.2" r="2.1" fill="#444"/>
<circle cx="-4.3" cy="69.5" r="1.5" fill="#444"/>
<circle cx="11.1" cy="67.5" r="1.5" fill="#444"/>
<circle cx="12.2" cy="130.4" r="2.1" fill="#444"/>
<circle cx="2.5" cy="110.7" r="2.1" fill="#444"/>
<circle cx="-19.8" cy="172.1" r="2.2" fill="#444"/>
<circle cx="-10.8" cy="100.3" r="2.5" fill="#444"/>
<circle cx="5.7" cy="135" r="2.5" fill="#444"/>
<circle cx="-6.5" cy="189.3" r="2.2" fill="#444"/>
<circle cx="2.2" cy="134.7" r="2.4" fill="#444"/>
<circle cx="3.8" cy="127.6" r="2" fill="#444"/>
<circle cx="14.1" cy="193.2" r="2.7" fill="#444"/>
<circle cx="-15.7" cy="193.3" r="2.2" fill="#444"/>
<circle cx="19.4" cy="193.4" r="1.4" fill="#444"/>
<circle cx="-4.4" cy="83.3" r="1.3" fill="#444"/>
<circle cx="-15.8" cy="99.2" r="2.3" fill="#444"/>
<circle cx="19.9" cy="172" r="1.5" fill="#444"/>
<circle cx="11.2" cy="163" r="1.4" fill="#444"/>
<circle cx="22.9" cy="185.3" r="1.6" fill="#444"/>
<path d="M-19.8 135 Q0 126 18.2 123" fill="none" stroke="#444" stroke-width="3" stroke-linecap="round" stroke-linejoin="round" />
<path d="M-28 207 L-26 223 Q-24 241 0 242 Q24 241 26 223 L28 207Z" fill="#000" stroke="#000" stroke-width="5" stroke-linejoin="round" />
<ellipse cx="-1" cy="214" rx="23" ry="5.5" fill="#fff"/>
<ellipse cx="4" cy="229" rx="16" ry="7" fill="#fff"/>
</g>
<g transform="translate(1727 378) rotate(-14.5) scale(1.0 1.0)">
<path d="M-15 2 Q-19 4 -19 12 L-17 36 Q-12 44 -10 57 L12 57 Q14 44 19 36 L19 10 Q19 2 12 0 L-8 0 Q-13 0 -15 2Z" fill="#fff" stroke="#000" stroke-width="5.5" stroke-linejoin="round" />
<path d="M-4 14 Q2 12 4 18 Q2 24 -3 22" fill="none" stroke="#000" stroke-width="3.5" stroke-linecap="round" stroke-linejoin="round" />
<path d="M17 30 L17 40" fill="none" stroke="#000" stroke-width="7" stroke-linecap="round" stroke-linejoin="round" />
<path d="M-16 38 L-12 52" fill="none" stroke="#000" stroke-width="7" stroke-linecap="round" stroke-linejoin="round" />
<path d="M-16 58C-22.7 60 -21.5 61.4 -24 70C-26.5 78.6 -29.3 93.7 -31 109.5C-32.7 125.3 -33.8 149.2 -34 165C-34.2 180.8 -33.5 196.8 -32 204C-30.5 211.2 -34.5 207.3 -25 208C-15.5 208.7 15.5 208.7 25 208C34.5 207.3 30.5 211.2 32 204C33.5 196.8 34.2 180.8 34 165C33.8 149.2 32.7 125.3 31 109.5C29.3 93.7 26.5 78.6 24 70C21.5 61.4 22.7 60 16 58C9.3 56 -9.3 56 -16 58Z" fill="#fff" stroke="#000" stroke-width="6" stroke-linejoin="round" />
<path d="M-25.5 70.9 L-26.7 77.3 L-27.8 83.7 L-29 90.1 L-30.2 96.6 L-31.3 103 L-32.5 109.4 L-27.8 109.7 L-25.6 103.4 L-23.2 97 L-25.7 90.4 L-24.5 84 L-22.1 77.6 L-20.7 71.2Z" fill="#000" />
<path d="M-32.5 109.4 L-32.8 115.6 L-33.2 121.7 L-33.5 127.9 L-33.8 134.1 L-34.2 140.2 L-34.5 146.4 L-34.8 152.6 L-35.2 158.7 L-35.5 164.9 L-24.3 165.7 L-27.9 159.2 L-28.5 153 L-28 146.8 L-28.6 140.6 L-27.9 134.5 L-29.6 128.2 L-26.5 122.2 L-27.3 115.9 L-28.6 109.7Z" fill="#000" />
<path d="M-35.5 165 L-35.2 171.5 L-34.8 178 L-34.5 184.5 L-34.2 191 L-33.8 197.5 L-33.5 204 L-27.9 204 L-27.4 197.5 L-23.2 191 L-26.7 184.5 L-29.1 178 L-23.4 171.5 L-31.6 165Z" fill="#000" />
<path d="M32.5 109.4 L32.8 115.6 L33.2 121.7 L33.5 127.9 L33.8 134.1 L34.2 140.2 L34.5 146.4 L34.8 152.6 L35.2 158.7 L35.5 164.9 L31.6 165.2 L31.7 159 L32.1 152.8 L29.5 146.7 L30.6 140.5 L28.7 134.4 L30.8 128.1 L25.4 122.3 L26.4 116 L28.9 109.6Z" fill="#000" />
<path d="M35.5 165 L35.2 171.5 L34.8 178 L34.5 184.5 L34.2 191 L33.8 197.5 L33.5 204 L26.5 204 L31.1 197.5 L30.4 191 L28.4 184.5 L32.1 178 L32.5 171.5 L31.1 165Z" fill="#000" />
<circle cx="-4.9" cy="89.8" r="1.6" fill="#444"/>
<circle cx="-5" cy="122" r="1.9" fill="#444"/>
<circle cx="-12.5" cy="145.9" r="1.4" fill="#444"/>
<circle cx="-13.7" cy="78.4" r="2.1" fill="#444"/>
<circle cx="13.9" cy="115.3" r="2.1" fill="#444"/>
<circle cx="21.5" cy="161.9" r="1.3" fill="#444"/>
<circle cx="-12.4" cy="69.3" r="1.9" fill="#444"/>
<circle cx="13.5" cy="143.9" r="1.8" fill="#444"/>
<circle cx="-24.6" cy="196.3" r="2.6" fill="#444"/>
<circle cx="14.4" cy="95.2" r="1.3" fill="#444"/>
<circle cx="16.6" cy="196.3" r="2.9" fill="#444"/>
<circle cx="-16" cy="144.7" r="2.8" fill="#444"/>
<circle cx="-17.4" cy="126.2" r="2.2" fill="#444"/>
<circle cx="-3.5" cy="133.6" r="1.5" fill="#444"/>
<circle cx="5.4" cy="83.4" r="2" fill="#444"/>
<circle cx="-4.6" cy="83.9" r="2.4" fill="#444"/>
<circle cx="-4" cy="162.9" r="1.9" fill="#444"/>
<circle cx="-13" cy="115.3" r="1.5" fill="#444"/>
<circle cx="-16.8" cy="126.8" r="2.4" fill="#444"/>
<circle cx="9" cy="161.9" r="1.2" fill="#444"/>
<circle cx="-5.6" cy="115.8" r="1.4" fill="#444"/>
<circle cx="16.5" cy="196.7" r="2.1" fill="#444"/>
<circle cx="-16.2" cy="161.5" r="1.6" fill="#444"/>
<circle cx="13.2" cy="137.4" r="2.3" fill="#444"/>
<circle cx="6.2" cy="67.9" r="2.7" fill="#444"/>
<circle cx="20.4" cy="166.6" r="2.9" fill="#444"/>
<circle cx="-10.1" cy="97" r="2.1" fill="#444"/>
<circle cx="-11.1" cy="197.9" r="2.8" fill="#444"/>
<circle cx="3" cy="181" r="2.3" fill="#444"/>
<circle cx="17.5" cy="195.2" r="1.7" fill="#444"/>
<circle cx="-17.4" cy="180.3" r="1.8" fill="#444"/>
<circle cx="19.7" cy="195.5" r="1.7" fill="#444"/>
<circle cx="7.3" cy="105.9" r="2.6" fill="#444"/>
<circle cx="20.1" cy="158.7" r="2.4" fill="#444"/>
<circle cx="9.1" cy="177" r="1.8" fill="#444"/>
<circle cx="-1.8" cy="124.3" r="2.1" fill="#444"/>
<circle cx="-14.7" cy="179.3" r="1.3" fill="#444"/>
<circle cx="-14" cy="165.2" r="1.9" fill="#444"/>
<circle cx="12.6" cy="82.7" r="1.7" fill="#444"/>
<circle cx="13.3" cy="106.1" r="2.1" fill="#444"/>
<circle cx="15.3" cy="104.2" r="1.9" fill="#444"/>
<circle cx="17.8" cy="115.4" r="2.5" fill="#444"/>
<circle cx="-14.8" cy="167.1" r="2.6" fill="#444"/>
<circle cx="16.3" cy="146.9" r="1.8" fill="#444"/>
<circle cx="16.6" cy="171.6" r="1.9" fill="#444"/>
<circle cx="15.2" cy="154.7" r="2.9" fill="#444"/>
<circle cx="17.3" cy="190.3" r="1.4" fill="#444"/>
<circle cx="11.6" cy="148.8" r="1.3" fill="#444"/>
<circle cx="16.3" cy="129" r="2.7" fill="#444"/>
<circle cx="-21.4" cy="191" r="2.2" fill="#444"/>
<circle cx="11.6" cy="182.9" r="1.7" fill="#444"/>
<circle cx="13.9" cy="72.2" r="2.7" fill="#444"/>
<circle cx="-9.8" cy="154.6" r="2.6" fill="#444"/>
<circle cx="14.3" cy="176.2" r="2.2" fill="#444"/>
<circle cx="-10.6" cy="109.8" r="1.8" fill="#444"/>
<circle cx="2.7" cy="110.8" r="1.4" fill="#444"/>
<circle cx="-10.9" cy="163.7" r="1.5" fill="#444"/>
<circle cx="-7.1" cy="101.2" r="1.9" fill="#444"/>
<circle cx="-20" cy="171.8" r="1.6" fill="#444"/>
<circle cx="-13.8" cy="106.3" r="2.5" fill="#444"/>
<circle cx="-15.1" cy="81.6" r="2.1" fill="#444"/>
<circle cx="17.3" cy="165.6" r="2.2" fill="#444"/>
<circle cx="15.5" cy="110.8" r="2.5" fill="#444"/>
<circle cx="5.7" cy="131.2" r="2.8" fill="#444"/>
<circle cx="22.9" cy="200.6" r="1.4" fill="#444"/>
<circle cx="-6.6" cy="110.8" r="1.5" fill="#444"/>
<circle cx="-20.9" cy="169.1" r="2.7" fill="#444"/>
<circle cx="8.6" cy="145.5" r="1.9" fill="#444"/>
<circle cx="8" cy="192.5" r="2.7" fill="#444"/>
<circle cx="13.6" cy="190.6" r="2.9" fill="#444"/>
<circle cx="-9" cy="132.6" r="2.6" fill="#444"/>
<circle cx="-11.4" cy="137.8" r="2.4" fill="#444"/>
<circle cx="-16.5" cy="130.8" r="2.6" fill="#444"/>
<circle cx="19.3" cy="134" r="2.1" fill="#444"/>
<circle cx="-14.5" cy="192.5" r="1.6" fill="#444"/>
<path d="M-19.8 135 Q0 126 18.2 123" fill="none" stroke="#444" stroke-width="3" stroke-linecap="round" stroke-linejoin="round" />
<path d="M-28 207 L-26 223 Q-24 241 0 242 Q24 241 26 223 L28 207Z" fill="#000" stroke="#000" stroke-width="5" stroke-linejoin="round" />
<ellipse cx="-1" cy="214" rx="23" ry="5.5" fill="#fff"/>
<ellipse cx="4" cy="229" rx="16" ry="7" fill="#fff"/>
</g>
<path d="M3010 985C3013.3 979.2 3045 980.8 3060 975C3075 969.2 3095.8 948.3 3100 950C3104.2 951.7 3083.3 975.3 3085 985C3086.7 994.7 3097.5 1002.8 3110 1008C3122.5 1013.2 3161.7 1013.7 3160 1016C3158.3 1018.3 3120 1023 3100 1022C3080 1021 3055 1016.2 3040 1010C3025 1003.8 3006.7 990.8 3010 985Z" fill="#000" />
<path d="M3090 925C3095 916.7 3130 904.2 3140 905C3150 905.8 3155 921.7 3150 930C3145 938.3 3120 955.8 3110 955C3100 954.2 3085 933.3 3090 925Z" fill="#000" />
<path d="M3105 948 L3290 948" fill="none" stroke="#000" stroke-width="9" stroke-linecap="round" stroke-linejoin="round" />
<path d="M3100 975 L3290 978" fill="none" stroke="#000" stroke-width="7" stroke-linecap="round" stroke-linejoin="round" />
<circle cx="3222" cy="955" r="65" fill="none" stroke="#000" stroke-width="4.5"/>
<circle cx="3224" cy="955" r="54" fill="none" stroke="#000" stroke-width="4.5"/>
<path d="M1830.4 1338.1 L1826.5 1338.6 L1822.5 1338.2 L1818.2 1336.9 L1814 1334.7 L1809.8 1331.6 L1805.7 1327.6 L1801.8 1323 L1798.1 1317.6 L1794.7 1311.7 L1791.7 1305.3 L1789.1 1298.5 L1786.9 1291.5 L1785.3 1284.3 L1784.1 1277.2 L1783.5 1270.1 L1783.5 1263.3 L1784 1256.8 L1785.1 1250.8 L1786.7 1245.3 L1788.8 1240.5 L1791.3 1236.5 L1794.3 1233.2 L1797.7 1230.9 L1801.3 1229.4 L1826 1221 L1829.9 1220.4 L1834 1220.9 L1838.2 1222.3 L1842.5 1224.6 L1846.7 1227.8 L1850.9 1231.9 L1854.9 1236.7 L1858.6 1242.3 L1862 1248.4 L1865.1 1255 L1867.8 1262 L1870 1269.2 L1871.7 1276.6 L1872.9 1284 L1873.5 1291.3 L1873.6 1298.3 L1873.1 1304.9 L1872.1 1311.1 L1870.5 1316.7 L1868.5 1321.6 L1866 1325.8 L1863 1329.1 L1859.7 1331.5 L1856 1333Z" fill="#000" stroke="#000" stroke-width="3" stroke-linejoin="round" />
<ellipse cx="1819.7" cy="1282.7" rx="15" ry="46" transform="rotate(-15 1819.7 1282.7)" fill="#fff" stroke="none" stroke-width="0" />
<path d="M2057.8 1271.2 L2055 1271.5 L2052.1 1271 L2049.1 1269.8 L2046 1267.7 L2042.9 1264.9 L2039.8 1261.5 L2036.8 1257.4 L2034 1252.7 L2031.4 1247.6 L2029 1242.1 L2026.9 1236.3 L2025.1 1230.3 L2023.6 1224.2 L2022.6 1218.1 L2021.9 1212.1 L2021.6 1206.4 L2021.7 1200.9 L2022.2 1195.9 L2023.2 1191.4 L2024.5 1187.4 L2026.1 1184.1 L2028.1 1181.5 L2030.4 1179.6 L2033 1178.5 L2043.6 1175.6 L2046.3 1175.3 L2049.2 1175.8 L2052.3 1177.1 L2055.4 1179.1 L2058.5 1181.9 L2061.6 1185.4 L2064.5 1189.5 L2067.4 1194.1 L2070 1199.2 L2072.4 1204.8 L2074.5 1210.6 L2076.3 1216.6 L2077.7 1222.7 L2078.8 1228.8 L2079.5 1234.7 L2079.8 1240.5 L2079.7 1245.9 L2079.1 1250.9 L2078.2 1255.5 L2076.9 1259.4 L2075.2 1262.8 L2073.2 1265.4 L2071 1267.3 L2068.4 1268.4Z" fill="#000" stroke="#000" stroke-width="3" stroke-linejoin="round" />
<ellipse cx="2050.2" cy="1223.6" rx="11.6" ry="39" transform="rotate(-15 2050.2 1223.6)" fill="#fff" stroke="none" stroke-width="0" />
<path d="M2248.8 1237.3 L2244.6 1237.9 L2240.2 1237.4 L2235.7 1236 L2231.2 1233.5 L2226.7 1230.1 L2222.3 1225.8 L2218.1 1220.8 L2214.1 1214.9 L2210.4 1208.5 L2207.2 1201.5 L2204.4 1194.2 L2202 1186.5 L2200.2 1178.8 L2199 1171 L2198.3 1163.3 L2198.3 1155.9 L2198.8 1148.9 L2199.9 1142.4 L2201.6 1136.5 L2203.8 1131.3 L2206.5 1126.9 L2209.7 1123.4 L2213.2 1120.8 L2217.1 1119.2 L2243.7 1110.1 L2247.9 1109.6 L2252.2 1110.1 L2256.8 1111.6 L2261.3 1114.2 L2265.9 1117.7 L2270.3 1122.1 L2274.6 1127.4 L2278.6 1133.4 L2282.3 1140.1 L2285.6 1147.2 L2288.5 1154.8 L2290.9 1162.7 L2292.8 1170.7 L2294.1 1178.8 L2294.8 1186.6 L2294.9 1194.3 L2294.4 1201.5 L2293.4 1208.2 L2291.8 1214.2 L2289.6 1219.6 L2286.9 1224.1 L2283.8 1227.6 L2280.2 1230.3 L2276.3 1231.9Z" fill="#000" stroke="#000" stroke-width="3" stroke-linejoin="round" />
<ellipse cx="2236.8" cy="1177.2" rx="16" ry="51" transform="rotate(-15 2236.8 1177.2)" fill="#fff" stroke="none" stroke-width="0" />
<path d="M2458.1 1173.9 L2455.1 1174.2 L2451.9 1173.6 L2448.5 1172 L2445 1169.5 L2441.6 1166.2 L2438.1 1162 L2434.7 1157.1 L2431.5 1151.5 L2428.5 1145.4 L2425.7 1138.8 L2423.3 1131.9 L2421.2 1124.8 L2419.4 1117.6 L2418.1 1110.3 L2417.2 1103.3 L2416.8 1096.5 L2416.8 1090.1 L2417.2 1084.1 L2418.1 1078.8 L2419.5 1074.1 L2421.2 1070.3 L2423.4 1067.2 L2425.8 1065 L2428.6 1063.8 L2439.2 1060.9 L2442.3 1060.6 L2445.5 1061.3 L2448.9 1062.9 L2452.3 1065.3 L2455.8 1068.7 L2459.3 1072.9 L2462.6 1077.8 L2465.9 1083.3 L2468.9 1089.4 L2471.6 1096 L2474.1 1102.9 L2476.2 1110 L2478 1117.3 L2479.3 1124.5 L2480.2 1131.6 L2480.6 1138.4 L2480.6 1144.8 L2480.1 1150.7 L2479.2 1156.1 L2477.9 1160.7 L2476.1 1164.6 L2474 1167.6 L2471.5 1169.8 L2468.8 1171.1Z" fill="#000" stroke="#000" stroke-width="3" stroke-linejoin="round" />
<ellipse cx="2448.2" cy="1117.6" rx="12.7" ry="48" transform="rotate(-15 2448.2 1117.6)" fill="#fff" stroke="none" stroke-width="0" />
<path d="M2650.5 1127.3 L2646.4 1127.9 L2642 1127.5 L2637.5 1126.1 L2633 1123.7 L2628.5 1120.4 L2624.1 1116.2 L2619.9 1111.2 L2616 1105.5 L2612.4 1099.1 L2609.1 1092.3 L2606.3 1085 L2604 1077.5 L2602.3 1069.9 L2601.1 1062.2 L2600.4 1054.7 L2600.4 1047.4 L2601 1040.5 L2602.1 1034 L2603.8 1028.2 L2606 1023.1 L2608.7 1018.7 L2611.9 1015.3 L2615.5 1012.7 L2619.4 1011.2 L2646 1002.1 L2650.1 1001.5 L2654.5 1002 L2659 1003.5 L2663.6 1006 L2668.1 1009.4 L2672.5 1013.8 L2676.8 1019 L2680.7 1024.9 L2684.4 1031.4 L2687.7 1038.5 L2690.6 1046 L2692.9 1053.7 L2694.7 1061.6 L2696 1069.5 L2696.7 1077.3 L2696.8 1084.8 L2696.3 1091.9 L2695.2 1098.5 L2693.5 1104.5 L2691.4 1109.7 L2688.7 1114.2 L2685.5 1117.7 L2681.9 1120.3 L2678 1121.9Z" fill="#000" stroke="#000" stroke-width="3" stroke-linejoin="round" />
<ellipse cx="2638.8" cy="1068.2" rx="16" ry="50" transform="rotate(-15 2638.8 1068.2)" fill="#fff" stroke="none" stroke-width="0" />
<path d="M2938.4 1041 L2935.5 1041.3 L2932.4 1040.7 L2929.2 1039.2 L2925.9 1036.9 L2922.5 1033.7 L2919.2 1029.8 L2916 1025.1 L2913 1019.9 L2910.1 1014.1 L2907.5 1007.8 L2905.1 1001.3 L2903.1 994.5 L2901.5 987.7 L2900.2 980.8 L2899.4 974.1 L2899 967.7 L2899 961.6 L2899.5 956 L2900.4 950.9 L2901.6 946.5 L2903.3 942.8 L2905.4 939.9 L2907.7 937.9 L2910.4 936.7 L2921 933.8 L2923.9 933.5 L2927 934.1 L2930.2 935.6 L2933.5 938 L2936.8 941.2 L2940.1 945.1 L2943.4 949.7 L2946.4 955 L2949.3 960.8 L2951.9 967 L2954.2 973.5 L2956.3 980.3 L2957.9 987.2 L2959.1 994 L2960 1000.7 L2960.4 1007.1 L2960.4 1013.2 L2959.9 1018.9 L2959 1023.9 L2957.7 1028.3 L2956 1032 L2954 1034.9 L2951.6 1037 L2949 1038.2Z" fill="#000" stroke="#000" stroke-width="3" stroke-linejoin="round" />
<ellipse cx="2929.2" cy="987.6" rx="12.1" ry="45" transform="rotate(-15 2929.2 987.6)" fill="#fff" stroke="none" stroke-width="0" />
<path d="M1647 1436C1655.8 1427.5 1683.7 1399.8 1700 1385C1716.3 1370.2 1730 1357.8 1745 1347C1760 1336.2 1775 1327.8 1790 1320C1805 1312.2 1827.5 1303.3 1835 1300" fill="none" stroke="#000" stroke-width="22" stroke-linecap="butt" stroke-linejoin="round" />
<path d="M1647 1436C1655.8 1427.5 1683.7 1399.8 1700 1385C1716.3 1370.2 1730 1357.8 1745 1347C1760 1336.2 1775 1327.8 1790 1320C1805 1312.2 1827.5 1303.3 1835 1300" fill="none" stroke="#fff" stroke-width="13" stroke-linecap="butt" stroke-linejoin="round" />
<path d="M1421 1482C1431.7 1471.3 1465.3 1436.3 1485 1418C1504.7 1399.7 1521 1385 1539 1372C1557 1359 1575 1348.8 1593 1340C1611 1331.2 1620 1327 1647 1319C1674 1311 1724.5 1299.7 1755 1292C1785.5 1284.3 1817.5 1276.2 1830 1273" fill="none" stroke="#000" stroke-width="20" stroke-linecap="butt" stroke-linejoin="round" />
<path d="M1421 1482C1431.7 1471.3 1465.3 1436.3 1485 1418C1504.7 1399.7 1521 1385 1539 1372C1557 1359 1575 1348.8 1593 1340C1611 1331.2 1620 1327 1647 1319C1674 1311 1724.5 1299.7 1755 1292C1785.5 1284.3 1817.5 1276.2 1830 1273" fill="none" stroke="#fff" stroke-width="11" stroke-linecap="butt" stroke-linejoin="round" />
<path d="M1213 1508C1222.2 1497.8 1249.7 1464.5 1268 1447C1286.3 1429.5 1303 1415.8 1323 1403C1343 1390.2 1361 1380 1388 1370C1415 1360 1450.8 1352 1485 1343C1519.2 1334 1557 1325 1593 1316C1629 1307 1661.5 1299 1701 1289C1740.5 1279 1808.5 1261.5 1830 1256" fill="none" stroke="#000" stroke-width="19" stroke-linecap="butt" stroke-linejoin="round" />
<path d="M1213 1508C1222.2 1497.8 1249.7 1464.5 1268 1447C1286.3 1429.5 1303 1415.8 1323 1403C1343 1390.2 1361 1380 1388 1370C1415 1360 1450.8 1352 1485 1343C1519.2 1334 1557 1325 1593 1316C1629 1307 1661.5 1299 1701 1289C1740.5 1279 1808.5 1261.5 1830 1256" fill="none" stroke="#fff" stroke-width="10" stroke-linecap="butt" stroke-linejoin="round" />
<path d="M1850 1239 L1853.6 1238 L1857.1 1237 L1860.7 1236 L1864.2 1235 L1867.8 1234 L1871.4 1233 L1874.9 1232 L1878.5 1231 L1882 1230 L1885.6 1229 L1889.2 1228 L1892.7 1227 L1896.3 1226 L1899.8 1225 L1903.4 1224 L1906.9 1223 L1910.5 1222 L1914.1 1221 L1917.6 1220 L1921.2 1219 L1924.7 1218 L1928.3 1217 L1931.9 1216 L1935.4 1215 L1939 1214 L1942.5 1213 L1946.1 1212 L1949.7 1211 L1953.2 1210 L1956.8 1209 L1960.3 1208 L1963.9 1207 L1967.5 1206 L1971 1205 L1974.6 1204 L1978.1 1203 L1981.7 1202 L1985.3 1201 L1988.8 1200 L1992.4 1199 L1995.9 1198 L1999.5 1197 L2003.1 1196 L2006.6 1195 L2010.2 1194 L2013.7 1193 L2017.3 1192 L2020.8 1191 L2024.4 1190 L2028 1189 L2031.5 1188 L2035.1 1187 L2038.6 1186 L2042.2 1185 L2045.8 1184 L2049.3 1183 L2052.9 1182 L2056.4 1181 L2060 1180 L2060 1246 L2056.4 1246.8 L2052.9 1247.6 L2049.3 1248.3 L2045.8 1249.1 L2042.2 1249.9 L2038.6 1250.7 L2035.1 1251.5 L2031.5 1252.2 L2028 1253 L2024.4 1253.8 L2020.8 1254.6 L2017.3 1255.4 L2013.7 1256.1 L2010.2 1256.9 L2006.6 1257.7 L2003.1 1258.5 L1999.5 1259.3 L1995.9 1260 L1992.4 1260.8 L1988.8 1261.6 L1985.3 1262.4 L1981.7 1263.2 L1978.1 1263.9 L1974.6 1264.7 L1971 1265.5 L1967.5 1266.3 L1963.9 1267.1 L1960.3 1267.8 L1956.8 1268.6 L1953.2 1269.4 L1949.7 1270.2 L1946.1 1270.9 L1942.5 1271.7 L1939 1272.5 L1935.4 1273.3 L1931.9 1274.1 L1928.3 1274.8 L1924.7 1275.6 L1921.2 1276.4 L1917.6 1277.2 L1914.1 1278 L1910.5 1278.7 L1906.9 1279.5 L1903.4 1280.3 L1899.8 1281.1 L1896.3 1281.9 L1892.7 1282.6 L1889.2 1283.4 L1885.6 1284.2 L1882 1285 L1878.5 1285.8 L1874.9 1286.5 L1871.4 1287.3 L1867.8 1288.1 L1864.2 1288.9 L1860.7 1289.7 L1857.1 1290.4 L1853.6 1291.2 L1850 1292Z" fill="#fff" />
<path d="M1850 1239 L1853.6 1238 L1857.1 1237 L1860.7 1236 L1864.2 1235 L1867.8 1234 L1871.4 1233 L1874.9 1232 L1878.5 1231 L1882 1230 L1885.6 1229 L1889.2 1228 L1892.7 1227 L1896.3 1226 L1899.8 1225 L1903.4 1224 L1906.9 1223 L1910.5 1222 L1914.1 1221 L1917.6 1220 L1921.2 1219 L1924.7 1218 L1928.3 1217 L1931.9 1216 L1935.4 1215 L1939 1214 L1942.5 1213 L1946.1 1212 L1949.7 1211 L1953.2 1210 L1956.8 1209 L1960.3 1208 L1963.9 1207 L1967.5 1206 L1971 1205 L1974.6 1204 L1978.1 1203 L1981.7 1202 L1985.3 1201 L1988.8 1200 L1992.4 1199 L1995.9 1198 L1999.5 1197 L2003.1 1196 L2006.6 1195 L2010.2 1194 L2013.7 1193 L2017.3 1192 L2020.8 1191 L2024.4 1190 L2028 1189 L2031.5 1188 L2035.1 1187 L2038.6 1186 L2042.2 1185 L2045.8 1184 L2049.3 1183 L2052.9 1182 L2056.4 1181 L2060 1180" fill="none" stroke="#000" stroke-width="4.5" stroke-linecap="butt" stroke-linejoin="round" />
<path d="M1850 1249.6 L1853.6 1248.6 L1857.1 1247.7 L1860.7 1246.7 L1864.2 1245.8 L1867.8 1244.8 L1871.4 1243.9 L1874.9 1242.9 L1878.5 1242 L1882 1241 L1885.6 1240 L1889.2 1239.1 L1892.7 1238.1 L1896.3 1237.2 L1899.8 1236.2 L1903.4 1235.3 L1906.9 1234.3 L1910.5 1233.3 L1914.1 1232.4 L1917.6 1231.4 L1921.2 1230.5 L1924.7 1229.5 L1928.3 1228.6 L1931.9 1227.6 L1935.4 1226.7 L1939 1225.7 L1942.5 1224.7 L1946.1 1223.8 L1949.7 1222.8 L1953.2 1221.9 L1956.8 1220.9 L1960.3 1220 L1963.9 1219 L1967.5 1218.1 L1971 1217.1 L1974.6 1216.1 L1978.1 1215.2 L1981.7 1214.2 L1985.3 1213.3 L1988.8 1212.3 L1992.4 1211.4 L1995.9 1210.4 L1999.5 1209.5 L2003.1 1208.5 L2006.6 1207.5 L2010.2 1206.6 L2013.7 1205.6 L2017.3 1204.7 L2020.8 1203.7 L2024.4 1202.8 L2028 1201.8 L2031.5 1200.8 L2035.1 1199.9 L2038.6 1198.9 L2042.2 1198 L2045.8 1197 L2049.3 1196.1 L2052.9 1195.1 L2056.4 1194.2 L2060 1193.2" fill="none" stroke="#000" stroke-width="3.5" stroke-linecap="butt" stroke-linejoin="round" />
<path d="M1850 1268.2 L1853.6 1267.3 L1857.1 1266.4 L1860.7 1265.5 L1864.2 1264.6 L1867.8 1263.8 L1871.4 1262.9 L1874.9 1262 L1878.5 1261.1 L1882 1260.2 L1885.6 1259.4 L1889.2 1258.5 L1892.7 1257.6 L1896.3 1256.7 L1899.8 1255.8 L1903.4 1255 L1906.9 1254.1 L1910.5 1253.2 L1914.1 1252.3 L1917.6 1251.5 L1921.2 1250.6 L1924.7 1249.7 L1928.3 1248.8 L1931.9 1247.9 L1935.4 1247.1 L1939 1246.2 L1942.5 1245.3 L1946.1 1244.4 L1949.7 1243.5 L1953.2 1242.7 L1956.8 1241.8 L1960.3 1240.9 L1963.9 1240 L1967.5 1239.1 L1971 1238.3 L1974.6 1237.4 L1978.1 1236.5 L1981.7 1235.6 L1985.3 1234.8 L1988.8 1233.9 L1992.4 1233 L1995.9 1232.1 L1999.5 1231.2 L2003.1 1230.4 L2006.6 1229.5 L2010.2 1228.6 L2013.7 1227.7 L2017.3 1226.8 L2020.8 1226 L2024.4 1225.1 L2028 1224.2 L2031.5 1223.3 L2035.1 1222.5 L2038.6 1221.6 L2042.2 1220.7 L2045.8 1219.8 L2049.3 1218.9 L2052.9 1218.1 L2056.4 1217.2 L2060 1216.3" fill="none" stroke="#000" stroke-width="10" stroke-linecap="butt" stroke-linejoin="round" />
<path d="M1850 1292 L1853.6 1291.2 L1857.1 1290.4 L1860.7 1289.7 L1864.2 1288.9 L1867.8 1288.1 L1871.4 1287.3 L1874.9 1286.5 L1878.5 1285.8 L1882 1285 L1885.6 1284.2 L1889.2 1283.4 L1892.7 1282.6 L1896.3 1281.9 L1899.8 1281.1 L1903.4 1280.3 L1906.9 1279.5 L1910.5 1278.7 L1914.1 1278 L1917.6 1277.2 L1921.2 1276.4 L1924.7 1275.6 L1928.3 1274.8 L1931.9 1274.1 L1935.4 1273.3 L1939 1272.5 L1942.5 1271.7 L1946.1 1270.9 L1949.7 1270.2 L1953.2 1269.4 L1956.8 1268.6 L1960.3 1267.8 L1963.9 1267.1 L1967.5 1266.3 L1971 1265.5 L1974.6 1264.7 L1978.1 1263.9 L1981.7 1263.2 L1985.3 1262.4 L1988.8 1261.6 L1992.4 1260.8 L1995.9 1260 L1999.5 1259.3 L2003.1 1258.5 L2006.6 1257.7 L2010.2 1256.9 L2013.7 1256.1 L2017.3 1255.4 L2020.8 1254.6 L2024.4 1253.8 L2028 1253 L2031.5 1252.2 L2035.1 1251.5 L2038.6 1250.7 L2042.2 1249.9 L2045.8 1249.1 L2049.3 1248.3 L2052.9 1247.6 L2056.4 1246.8 L2060 1246" fill="none" stroke="#000" stroke-width="5" stroke-linecap="butt" stroke-linejoin="round" />
<path d="M1900 1282 L2040 1250 L2000 1268 L1960 1290Z" fill="#000" />
<path d="M1995 1268C1985.8 1275.3 1959.2 1295.3 1940 1312C1920.8 1328.7 1890 1358.7 1880 1368" fill="none" stroke="#000" stroke-width="23" stroke-linecap="butt" stroke-linejoin="round" />
<path d="M1995 1268C1985.8 1275.3 1959.2 1295.3 1940 1312C1920.8 1328.7 1890 1358.7 1880 1368" fill="none" stroke="#fff" stroke-width="14" stroke-linecap="butt" stroke-linejoin="round" />
<path d="M2050 1183 L2053.7 1182.1 L2057.5 1181.1 L2061.2 1180.2 L2064.9 1179.3 L2068.6 1178.3 L2072.4 1177.4 L2076.1 1176.5 L2079.8 1175.5 L2083.6 1174.6 L2087.3 1173.7 L2091 1172.7 L2094.7 1171.8 L2098.5 1170.9 L2102.2 1169.9 L2105.9 1169 L2109.7 1168.1 L2113.4 1167.2 L2117.1 1166.2 L2120.8 1165.3 L2124.6 1164.4 L2128.3 1163.4 L2132 1162.5 L2135.8 1161.6 L2139.5 1160.6 L2143.2 1159.7 L2146.9 1158.8 L2150.7 1157.8 L2154.4 1156.9 L2158.1 1156 L2161.9 1155 L2165.6 1154.1 L2169.3 1153.2 L2173.1 1152.2 L2176.8 1151.3 L2180.5 1150.4 L2184.2 1149.4 L2188 1148.5 L2191.7 1147.6 L2195.4 1146.6 L2199.2 1145.7 L2202.9 1144.8 L2206.6 1143.8 L2210.3 1142.9 L2214.1 1142 L2217.8 1141.1 L2221.5 1140.1 L2225.3 1139.2 L2229 1138.3 L2232.7 1137.3 L2236.4 1136.4 L2240.2 1135.5 L2243.9 1134.5 L2247.6 1133.6 L2251.4 1132.7 L2255.1 1131.7 L2258.8 1130.8 L2262.5 1129.9 L2266.3 1128.9 L2270 1128 L2270 1202 L2266.3 1202.9 L2262.5 1203.8 L2258.8 1204.6 L2255.1 1205.5 L2251.4 1206.4 L2247.6 1207.3 L2243.9 1208.2 L2240.2 1209.1 L2236.4 1209.9 L2232.7 1210.8 L2229 1211.7 L2225.3 1212.6 L2221.5 1213.5 L2217.8 1214.3 L2214.1 1215.2 L2210.3 1216.1 L2206.6 1217 L2202.9 1217.9 L2199.2 1218.7 L2195.4 1219.6 L2191.7 1220.5 L2188 1221.4 L2184.2 1222.3 L2180.5 1223.2 L2176.8 1224 L2173.1 1224.9 L2169.3 1225.8 L2165.6 1226.7 L2161.9 1227.6 L2158.1 1228.4 L2154.4 1229.3 L2150.7 1230.2 L2146.9 1231.1 L2143.2 1232 L2139.5 1232.8 L2135.8 1233.7 L2132 1234.6 L2128.3 1235.5 L2124.6 1236.4 L2120.8 1237.3 L2117.1 1238.1 L2113.4 1239 L2109.7 1239.9 L2105.9 1240.8 L2102.2 1241.7 L2098.5 1242.5 L2094.7 1243.4 L2091 1244.3 L2087.3 1245.2 L2083.6 1246.1 L2079.8 1246.9 L2076.1 1247.8 L2072.4 1248.7 L2068.6 1249.6 L2064.9 1250.5 L2061.2 1251.4 L2057.5 1252.2 L2053.7 1253.1 L2050 1254Z" fill="#fff" />
<path d="M2050 1183 L2053.7 1182.1 L2057.5 1181.1 L2061.2 1180.2 L2064.9 1179.3 L2068.6 1178.3 L2072.4 1177.4 L2076.1 1176.5 L2079.8 1175.5 L2083.6 1174.6 L2087.3 1173.7 L2091 1172.7 L2094.7 1171.8 L2098.5 1170.9 L2102.2 1169.9 L2105.9 1169 L2109.7 1168.1 L2113.4 1167.2 L2117.1 1166.2 L2120.8 1165.3 L2124.6 1164.4 L2128.3 1163.4 L2132 1162.5 L2135.8 1161.6 L2139.5 1160.6 L2143.2 1159.7 L2146.9 1158.8 L2150.7 1157.8 L2154.4 1156.9 L2158.1 1156 L2161.9 1155 L2165.6 1154.1 L2169.3 1153.2 L2173.1 1152.2 L2176.8 1151.3 L2180.5 1150.4 L2184.2 1149.4 L2188 1148.5 L2191.7 1147.6 L2195.4 1146.6 L2199.2 1145.7 L2202.9 1144.8 L2206.6 1143.8 L2210.3 1142.9 L2214.1 1142 L2217.8 1141.1 L2221.5 1140.1 L2225.3 1139.2 L2229 1138.3 L2232.7 1137.3 L2236.4 1136.4 L2240.2 1135.5 L2243.9 1134.5 L2247.6 1133.6 L2251.4 1132.7 L2255.1 1131.7 L2258.8 1130.8 L2262.5 1129.9 L2266.3 1128.9 L2270 1128" fill="none" stroke="#000" stroke-width="4.5" stroke-linecap="butt" stroke-linejoin="round" />
<path d="M2050 1193.7 L2053.7 1192.7 L2057.5 1191.8 L2061.2 1190.9 L2064.9 1190 L2068.6 1189 L2072.4 1188.1 L2076.1 1187.2 L2079.8 1186.3 L2083.6 1185.3 L2087.3 1184.4 L2091 1183.5 L2094.7 1182.6 L2098.5 1181.6 L2102.2 1180.7 L2105.9 1179.8 L2109.7 1178.9 L2113.4 1177.9 L2117.1 1177 L2120.8 1176.1 L2124.6 1175.2 L2128.3 1174.2 L2132 1173.3 L2135.8 1172.4 L2139.5 1171.5 L2143.2 1170.5 L2146.9 1169.6 L2150.7 1168.7 L2154.4 1167.8 L2158.1 1166.8 L2161.9 1165.9 L2165.6 1165 L2169.3 1164.1 L2173.1 1163.1 L2176.8 1162.2 L2180.5 1161.3 L2184.2 1160.4 L2188 1159.4 L2191.7 1158.5 L2195.4 1157.6 L2199.2 1156.7 L2202.9 1155.7 L2206.6 1154.8 L2210.3 1153.9 L2214.1 1153 L2217.8 1152 L2221.5 1151.1 L2225.3 1150.2 L2229 1149.3 L2232.7 1148.3 L2236.4 1147.4 L2240.2 1146.5 L2243.9 1145.6 L2247.6 1144.6 L2251.4 1143.7 L2255.1 1142.8 L2258.8 1141.9 L2262.5 1140.9 L2266.3 1140 L2270 1139.1" fill="none" stroke="#000" stroke-width="3.5" stroke-linecap="butt" stroke-linejoin="round" />
<path d="M2050 1215 L2053.7 1214 L2057.5 1213.1 L2061.2 1212.2 L2064.9 1211.3 L2068.6 1210.4 L2072.4 1209.5 L2076.1 1208.6 L2079.8 1207.7 L2083.6 1206.8 L2087.3 1205.9 L2091 1204.9 L2094.7 1204 L2098.5 1203.1 L2102.2 1202.2 L2105.9 1201.3 L2109.7 1200.4 L2113.4 1199.5 L2117.1 1198.6 L2120.8 1197.7 L2124.6 1196.8 L2128.3 1195.9 L2132 1194.9 L2135.8 1194 L2139.5 1193.1 L2143.2 1192.2 L2146.9 1191.3 L2150.7 1190.4 L2154.4 1189.5 L2158.1 1188.6 L2161.9 1187.7 L2165.6 1186.8 L2169.3 1185.9 L2173.1 1184.9 L2176.8 1184 L2180.5 1183.1 L2184.2 1182.2 L2188 1181.3 L2191.7 1180.4 L2195.4 1179.5 L2199.2 1178.6 L2202.9 1177.7 L2206.6 1176.8 L2210.3 1175.8 L2214.1 1174.9 L2217.8 1174 L2221.5 1173.1 L2225.3 1172.2 L2229 1171.3 L2232.7 1170.4 L2236.4 1169.5 L2240.2 1168.6 L2243.9 1167.7 L2247.6 1166.8 L2251.4 1165.8 L2255.1 1164.9 L2258.8 1164 L2262.5 1163.1 L2266.3 1162.2 L2270 1161.3" fill="none" stroke="#000" stroke-width="11" stroke-linecap="butt" stroke-linejoin="round" />
<path d="M2050 1235.5 L2053.7 1234.6 L2057.5 1233.8 L2061.2 1232.9 L2064.9 1232 L2068.6 1231.1 L2072.4 1230.2 L2076.1 1229.3 L2079.8 1228.4 L2083.6 1227.5 L2087.3 1226.6 L2091 1225.7 L2094.7 1224.8 L2098.5 1223.9 L2102.2 1223 L2105.9 1222.1 L2109.7 1221.2 L2113.4 1220.3 L2117.1 1219.4 L2120.8 1218.5 L2124.6 1217.6 L2128.3 1216.8 L2132 1215.9 L2135.8 1215 L2139.5 1214.1 L2143.2 1213.2 L2146.9 1212.3 L2150.7 1211.4 L2154.4 1210.5 L2158.1 1209.6 L2161.9 1208.7 L2165.6 1207.8 L2169.3 1206.9 L2173.1 1206 L2176.8 1205.1 L2180.5 1204.2 L2184.2 1203.3 L2188 1202.4 L2191.7 1201.5 L2195.4 1200.7 L2199.2 1199.8 L2202.9 1198.9 L2206.6 1198 L2210.3 1197.1 L2214.1 1196.2 L2217.8 1195.3 L2221.5 1194.4 L2225.3 1193.5 L2229 1192.6 L2232.7 1191.7 L2236.4 1190.8 L2240.2 1189.9 L2243.9 1189 L2247.6 1188.1 L2251.4 1187.2 L2255.1 1186.3 L2258.8 1185.4 L2262.5 1184.5 L2266.3 1183.7 L2270 1182.8" fill="none" stroke="#000" stroke-width="3.5" stroke-linecap="butt" stroke-linejoin="round" />
<path d="M2050 1254 L2053.7 1253.1 L2057.5 1252.2 L2061.2 1251.4 L2064.9 1250.5 L2068.6 1249.6 L2072.4 1248.7 L2076.1 1247.8 L2079.8 1246.9 L2083.6 1246.1 L2087.3 1245.2 L2091 1244.3 L2094.7 1243.4 L2098.5 1242.5 L2102.2 1241.7 L2105.9 1240.8 L2109.7 1239.9 L2113.4 1239 L2117.1 1238.1 L2120.8 1237.3 L2124.6 1236.4 L2128.3 1235.5 L2132 1234.6 L2135.8 1233.7 L2139.5 1232.8 L2143.2 1232 L2146.9 1231.1 L2150.7 1230.2 L2154.4 1229.3 L2158.1 1228.4 L2161.9 1227.6 L2165.6 1226.7 L2169.3 1225.8 L2173.1 1224.9 L2176.8 1224 L2180.5 1223.2 L2184.2 1222.3 L2188 1221.4 L2191.7 1220.5 L2195.4 1219.6 L2199.2 1218.7 L2202.9 1217.9 L2206.6 1217 L2210.3 1216.1 L2214.1 1215.2 L2217.8 1214.3 L2221.5 1213.5 L2225.3 1212.6 L2229 1211.7 L2232.7 1210.8 L2236.4 1209.9 L2240.2 1209.1 L2243.9 1208.2 L2247.6 1207.3 L2251.4 1206.4 L2255.1 1205.5 L2258.8 1204.6 L2262.5 1203.8 L2266.3 1202.9 L2270 1202" fill="none" stroke="#000" stroke-width="5" stroke-linecap="butt" stroke-linejoin="round" />
<path d="M2120 1238 L2250 1207 L2215 1228 L2180 1245Z" fill="#000" />
<path d="M2192 1226C2185 1233 2163.3 1253.7 2150 1268C2136.7 1282.3 2118.3 1304.7 2112 1312" fill="none" stroke="#000" stroke-width="23" stroke-linecap="butt" stroke-linejoin="round" />
<path d="M2192 1226C2185 1233 2163.3 1253.7 2150 1268C2136.7 1282.3 2118.3 1304.7 2112 1312" fill="none" stroke="#fff" stroke-width="14" stroke-linecap="butt" stroke-linejoin="round" />
<path d="M2270 1124 L2273.2 1123.2 L2276.4 1122.4 L2279.7 1121.6 L2282.9 1120.8 L2286.1 1120 L2289.3 1119.2 L2292.5 1118.4 L2295.8 1117.6 L2299 1116.8 L2302.2 1116 L2305.4 1115.2 L2308.6 1114.4 L2311.9 1113.6 L2315.1 1112.8 L2318.3 1112.1 L2321.5 1111.3 L2324.7 1110.5 L2328 1109.7 L2331.2 1108.9 L2334.4 1108.1 L2337.6 1107.3 L2340.8 1106.5 L2344.1 1105.7 L2347.3 1104.9 L2350.5 1104.1 L2353.7 1103.3 L2356.9 1102.5 L2360.2 1101.7 L2363.4 1100.9 L2366.6 1100.1 L2369.8 1099.3 L2373.1 1098.5 L2376.3 1097.7 L2379.5 1096.9 L2382.7 1096.1 L2385.9 1095.3 L2389.2 1094.5 L2392.4 1093.7 L2395.6 1092.9 L2398.8 1092.1 L2402 1091.3 L2405.3 1090.5 L2408.5 1089.7 L2411.7 1088.9 L2414.9 1088.2 L2418.1 1087.4 L2421.4 1086.6 L2424.6 1085.8 L2427.8 1085 L2431 1084.2 L2434.2 1083.4 L2437.5 1082.6 L2440.7 1081.8 L2443.9 1081 L2447.1 1080.2 L2450.3 1079.4 L2453.6 1078.6 L2456.8 1077.8 L2460 1077 L2460 1150 L2456.8 1150.8 L2453.6 1151.7 L2450.3 1152.5 L2447.1 1153.4 L2443.9 1154.2 L2440.7 1155.1 L2437.5 1155.9 L2434.2 1156.8 L2431 1157.6 L2427.8 1158.5 L2424.6 1159.3 L2421.4 1160.2 L2418.1 1161 L2414.9 1161.9 L2411.7 1162.7 L2408.5 1163.6 L2405.3 1164.4 L2402 1165.3 L2398.8 1166.1 L2395.6 1166.9 L2392.4 1167.8 L2389.2 1168.6 L2385.9 1169.5 L2382.7 1170.3 L2379.5 1171.2 L2376.3 1172 L2373.1 1172.9 L2369.8 1173.7 L2366.6 1174.6 L2363.4 1175.4 L2360.2 1176.3 L2356.9 1177.1 L2353.7 1178 L2350.5 1178.8 L2347.3 1179.7 L2344.1 1180.5 L2340.8 1181.4 L2337.6 1182.2 L2334.4 1183.1 L2331.2 1183.9 L2328 1184.7 L2324.7 1185.6 L2321.5 1186.4 L2318.3 1187.3 L2315.1 1188.1 L2311.9 1189 L2308.6 1189.8 L2305.4 1190.7 L2302.2 1191.5 L2299 1192.4 L2295.8 1193.2 L2292.5 1194.1 L2289.3 1194.9 L2286.1 1195.8 L2282.9 1196.6 L2279.7 1197.5 L2276.4 1198.3 L2273.2 1199.2 L2270 1200Z" fill="#fff" />
<path d="M2270 1124 L2273.2 1123.2 L2276.4 1122.4 L2279.7 1121.6 L2282.9 1120.8 L2286.1 1120 L2289.3 1119.2 L2292.5 1118.4 L2295.8 1117.6 L2299 1116.8 L2302.2 1116 L2305.4 1115.2 L2308.6 1114.4 L2311.9 1113.6 L2315.1 1112.8 L2318.3 1112.1 L2321.5 1111.3 L2324.7 1110.5 L2328 1109.7 L2331.2 1108.9 L2334.4 1108.1 L2337.6 1107.3 L2340.8 1106.5 L2344.1 1105.7 L2347.3 1104.9 L2350.5 1104.1 L2353.7 1103.3 L2356.9 1102.5 L2360.2 1101.7 L2363.4 1100.9 L2366.6 1100.1 L2369.8 1099.3 L2373.1 1098.5 L2376.3 1097.7 L2379.5 1096.9 L2382.7 1096.1 L2385.9 1095.3 L2389.2 1094.5 L2392.4 1093.7 L2395.6 1092.9 L2398.8 1092.1 L2402 1091.3 L2405.3 1090.5 L2408.5 1089.7 L2411.7 1088.9 L2414.9 1088.2 L2418.1 1087.4 L2421.4 1086.6 L2424.6 1085.8 L2427.8 1085 L2431 1084.2 L2434.2 1083.4 L2437.5 1082.6 L2440.7 1081.8 L2443.9 1081 L2447.1 1080.2 L2450.3 1079.4 L2453.6 1078.6 L2456.8 1077.8 L2460 1077" fill="none" stroke="#000" stroke-width="4.5" stroke-linecap="butt" stroke-linejoin="round" />
<path d="M2270 1135.4 L2273.2 1134.6 L2276.4 1133.8 L2279.7 1133 L2282.9 1132.2 L2286.1 1131.4 L2289.3 1130.6 L2292.5 1129.8 L2295.8 1129 L2299 1128.2 L2302.2 1127.4 L2305.4 1126.6 L2308.6 1125.7 L2311.9 1124.9 L2315.1 1124.1 L2318.3 1123.3 L2321.5 1122.5 L2324.7 1121.7 L2328 1120.9 L2331.2 1120.1 L2334.4 1119.3 L2337.6 1118.5 L2340.8 1117.7 L2344.1 1116.9 L2347.3 1116.1 L2350.5 1115.3 L2353.7 1114.5 L2356.9 1113.7 L2360.2 1112.9 L2363.4 1112.1 L2366.6 1111.3 L2369.8 1110.5 L2373.1 1109.7 L2376.3 1108.9 L2379.5 1108.1 L2382.7 1107.3 L2385.9 1106.4 L2389.2 1105.6 L2392.4 1104.8 L2395.6 1104 L2398.8 1103.2 L2402 1102.4 L2405.3 1101.6 L2408.5 1100.8 L2411.7 1100 L2414.9 1099.2 L2418.1 1098.4 L2421.4 1097.6 L2424.6 1096.8 L2427.8 1096 L2431 1095.2 L2434.2 1094.4 L2437.5 1093.6 L2440.7 1092.8 L2443.9 1092 L2447.1 1091.2 L2450.3 1090.4 L2453.6 1089.6 L2456.8 1088.8 L2460 1088" fill="none" stroke="#000" stroke-width="3.5" stroke-linecap="butt" stroke-linejoin="round" />
<path d="M2270 1156.7 L2273.2 1155.9 L2276.4 1155 L2279.7 1154.2 L2282.9 1153.4 L2286.1 1152.6 L2289.3 1151.8 L2292.5 1151 L2295.8 1150.1 L2299 1149.3 L2302.2 1148.5 L2305.4 1147.7 L2308.6 1146.9 L2311.9 1146 L2315.1 1145.2 L2318.3 1144.4 L2321.5 1143.6 L2324.7 1142.8 L2328 1141.9 L2331.2 1141.1 L2334.4 1140.3 L2337.6 1139.5 L2340.8 1138.7 L2344.1 1137.9 L2347.3 1137 L2350.5 1136.2 L2353.7 1135.4 L2356.9 1134.6 L2360.2 1133.8 L2363.4 1132.9 L2366.6 1132.1 L2369.8 1131.3 L2373.1 1130.5 L2376.3 1129.7 L2379.5 1128.9 L2382.7 1128 L2385.9 1127.2 L2389.2 1126.4 L2392.4 1125.6 L2395.6 1124.8 L2398.8 1123.9 L2402 1123.1 L2405.3 1122.3 L2408.5 1121.5 L2411.7 1120.7 L2414.9 1119.8 L2418.1 1119 L2421.4 1118.2 L2424.6 1117.4 L2427.8 1116.6 L2431 1115.8 L2434.2 1114.9 L2437.5 1114.1 L2440.7 1113.3 L2443.9 1112.5 L2447.1 1111.7 L2450.3 1110.8 L2453.6 1110 L2456.8 1109.2 L2460 1108.4" fill="none" stroke="#000" stroke-width="13" stroke-linecap="butt" stroke-linejoin="round" />
<path d="M2270 1174.9 L2273.2 1174.1 L2276.4 1173.3 L2279.7 1172.4 L2282.9 1171.6 L2286.1 1170.8 L2289.3 1169.9 L2292.5 1169.1 L2295.8 1168.3 L2299 1167.4 L2302.2 1166.6 L2305.4 1165.8 L2308.6 1165 L2311.9 1164.1 L2315.1 1163.3 L2318.3 1162.5 L2321.5 1161.6 L2324.7 1160.8 L2328 1160 L2331.2 1159.1 L2334.4 1158.3 L2337.6 1157.5 L2340.8 1156.6 L2344.1 1155.8 L2347.3 1155 L2350.5 1154.2 L2353.7 1153.3 L2356.9 1152.5 L2360.2 1151.7 L2363.4 1150.8 L2366.6 1150 L2369.8 1149.2 L2373.1 1148.3 L2376.3 1147.5 L2379.5 1146.7 L2382.7 1145.8 L2385.9 1145 L2389.2 1144.2 L2392.4 1143.4 L2395.6 1142.5 L2398.8 1141.7 L2402 1140.9 L2405.3 1140 L2408.5 1139.2 L2411.7 1138.4 L2414.9 1137.5 L2418.1 1136.7 L2421.4 1135.9 L2424.6 1135 L2427.8 1134.2 L2431 1133.4 L2434.2 1132.6 L2437.5 1131.7 L2440.7 1130.9 L2443.9 1130.1 L2447.1 1129.2 L2450.3 1128.4 L2453.6 1127.6 L2456.8 1126.7 L2460 1125.9" fill="none" stroke="#000" stroke-width="3.5" stroke-linecap="butt" stroke-linejoin="round" />
<path d="M2270 1187.8 L2273.2 1187 L2276.4 1186.2 L2279.7 1185.3 L2282.9 1184.5 L2286.1 1183.6 L2289.3 1182.8 L2292.5 1182 L2295.8 1181.1 L2299 1180.3 L2302.2 1179.4 L2305.4 1178.6 L2308.6 1177.8 L2311.9 1176.9 L2315.1 1176.1 L2318.3 1175.3 L2321.5 1174.4 L2324.7 1173.6 L2328 1172.7 L2331.2 1171.9 L2334.4 1171.1 L2337.6 1170.2 L2340.8 1169.4 L2344.1 1168.5 L2347.3 1167.7 L2350.5 1166.9 L2353.7 1166 L2356.9 1165.2 L2360.2 1164.3 L2363.4 1163.5 L2366.6 1162.7 L2369.8 1161.8 L2373.1 1161 L2376.3 1160.1 L2379.5 1159.3 L2382.7 1158.5 L2385.9 1157.6 L2389.2 1156.8 L2392.4 1155.9 L2395.6 1155.1 L2398.8 1154.3 L2402 1153.4 L2405.3 1152.6 L2408.5 1151.7 L2411.7 1150.9 L2414.9 1150.1 L2418.1 1149.2 L2421.4 1148.4 L2424.6 1147.6 L2427.8 1146.7 L2431 1145.9 L2434.2 1145 L2437.5 1144.2 L2440.7 1143.4 L2443.9 1142.5 L2447.1 1141.7 L2450.3 1140.8 L2453.6 1140 L2456.8 1139.2 L2460 1138.3" fill="none" stroke="#000" stroke-width="3.5" stroke-linecap="butt" stroke-linejoin="round" />
<path d="M2270 1200 L2273.2 1199.2 L2276.4 1198.3 L2279.7 1197.5 L2282.9 1196.6 L2286.1 1195.8 L2289.3 1194.9 L2292.5 1194.1 L2295.8 1193.2 L2299 1192.4 L2302.2 1191.5 L2305.4 1190.7 L2308.6 1189.8 L2311.9 1189 L2315.1 1188.1 L2318.3 1187.3 L2321.5 1186.4 L2324.7 1185.6 L2328 1184.7 L2331.2 1183.9 L2334.4 1183.1 L2337.6 1182.2 L2340.8 1181.4 L2344.1 1180.5 L2347.3 1179.7 L2350.5 1178.8 L2353.7 1178 L2356.9 1177.1 L2360.2 1176.3 L2363.4 1175.4 L2366.6 1174.6 L2369.8 1173.7 L2373.1 1172.9 L2376.3 1172 L2379.5 1171.2 L2382.7 1170.3 L2385.9 1169.5 L2389.2 1168.6 L2392.4 1167.8 L2395.6 1166.9 L2398.8 1166.1 L2402 1165.3 L2405.3 1164.4 L2408.5 1163.6 L2411.7 1162.7 L2414.9 1161.9 L2418.1 1161 L2421.4 1160.2 L2424.6 1159.3 L2427.8 1158.5 L2431 1157.6 L2434.2 1156.8 L2437.5 1155.9 L2440.7 1155.1 L2443.9 1154.2 L2447.1 1153.4 L2450.3 1152.5 L2453.6 1151.7 L2456.8 1150.8 L2460 1150" fill="none" stroke="#000" stroke-width="5" stroke-linecap="butt" stroke-linejoin="round" />
<path d="M2455 1071 L2458.6 1070 L2462.3 1069 L2465.9 1067.9 L2469.6 1066.9 L2473.2 1065.9 L2476.9 1064.9 L2480.5 1063.9 L2484.2 1062.9 L2487.8 1061.8 L2491.4 1060.8 L2495.1 1059.8 L2498.7 1058.8 L2502.4 1057.8 L2506 1056.8 L2509.7 1055.7 L2513.3 1054.7 L2516.9 1053.7 L2520.6 1052.7 L2524.2 1051.7 L2527.9 1050.7 L2531.5 1049.6 L2535.2 1048.6 L2538.8 1047.6 L2542.5 1046.6 L2546.1 1045.6 L2549.7 1044.6 L2553.4 1043.5 L2557 1042.5 L2560.7 1041.5 L2564.3 1040.5 L2568 1039.5 L2571.6 1038.5 L2575.3 1037.4 L2578.9 1036.4 L2582.5 1035.4 L2586.2 1034.4 L2589.8 1033.4 L2593.5 1032.4 L2597.1 1031.3 L2600.8 1030.3 L2604.4 1029.3 L2608.1 1028.3 L2611.7 1027.3 L2615.3 1026.3 L2619 1025.2 L2622.6 1024.2 L2626.3 1023.2 L2629.9 1022.2 L2633.6 1021.2 L2637.2 1020.2 L2640.8 1019.1 L2644.5 1018.1 L2648.1 1017.1 L2651.8 1016.1 L2655.4 1015.1 L2659.1 1014.1 L2662.7 1013 L2666.4 1012 L2670 1011 L2670 1104 L2666.4 1104.9 L2662.7 1105.8 L2659.1 1106.7 L2655.4 1107.7 L2651.8 1108.6 L2648.1 1109.5 L2644.5 1110.4 L2640.8 1111.3 L2637.2 1112.2 L2633.6 1113.2 L2629.9 1114.1 L2626.3 1115 L2622.6 1115.9 L2619 1116.8 L2615.3 1117.7 L2611.7 1118.6 L2608.1 1119.6 L2604.4 1120.5 L2600.8 1121.4 L2597.1 1122.3 L2593.5 1123.2 L2589.8 1124.1 L2586.2 1125.1 L2582.5 1126 L2578.9 1126.9 L2575.3 1127.8 L2571.6 1128.7 L2568 1129.6 L2564.3 1130.5 L2560.7 1131.5 L2557 1132.4 L2553.4 1133.3 L2549.7 1134.2 L2546.1 1135.1 L2542.5 1136 L2538.8 1136.9 L2535.2 1137.9 L2531.5 1138.8 L2527.9 1139.7 L2524.2 1140.6 L2520.6 1141.5 L2516.9 1142.4 L2513.3 1143.4 L2509.7 1144.3 L2506 1145.2 L2502.4 1146.1 L2498.7 1147 L2495.1 1147.9 L2491.4 1148.8 L2487.8 1149.8 L2484.2 1150.7 L2480.5 1151.6 L2476.9 1152.5 L2473.2 1153.4 L2469.6 1154.3 L2465.9 1155.3 L2462.3 1156.2 L2458.6 1157.1 L2455 1158Z" fill="#fff" />
<path d="M2455 1071 L2458.6 1070 L2462.3 1069 L2465.9 1067.9 L2469.6 1066.9 L2473.2 1065.9 L2476.9 1064.9 L2480.5 1063.9 L2484.2 1062.9 L2487.8 1061.8 L2491.4 1060.8 L2495.1 1059.8 L2498.7 1058.8 L2502.4 1057.8 L2506 1056.8 L2509.7 1055.7 L2513.3 1054.7 L2516.9 1053.7 L2520.6 1052.7 L2524.2 1051.7 L2527.9 1050.7 L2531.5 1049.6 L2535.2 1048.6 L2538.8 1047.6 L2542.5 1046.6 L2546.1 1045.6 L2549.7 1044.6 L2553.4 1043.5 L2557 1042.5 L2560.7 1041.5 L2564.3 1040.5 L2568 1039.5 L2571.6 1038.5 L2575.3 1037.4 L2578.9 1036.4 L2582.5 1035.4 L2586.2 1034.4 L2589.8 1033.4 L2593.5 1032.4 L2597.1 1031.3 L2600.8 1030.3 L2604.4 1029.3 L2608.1 1028.3 L2611.7 1027.3 L2615.3 1026.3 L2619 1025.2 L2622.6 1024.2 L2626.3 1023.2 L2629.9 1022.2 L2633.6 1021.2 L2637.2 1020.2 L2640.8 1019.1 L2644.5 1018.1 L2648.1 1017.1 L2651.8 1016.1 L2655.4 1015.1 L2659.1 1014.1 L2662.7 1013 L2666.4 1012 L2670 1011" fill="none" stroke="#000" stroke-width="4.5" stroke-linecap="butt" stroke-linejoin="round" />
<path d="M2455 1082.3 L2458.6 1081.3 L2462.3 1080.3 L2465.9 1079.3 L2469.6 1078.3 L2473.2 1077.3 L2476.9 1076.3 L2480.5 1075.3 L2484.2 1074.3 L2487.8 1073.3 L2491.4 1072.3 L2495.1 1071.3 L2498.7 1070.3 L2502.4 1069.3 L2506 1068.3 L2509.7 1067.3 L2513.3 1066.3 L2516.9 1065.2 L2520.6 1064.2 L2524.2 1063.2 L2527.9 1062.2 L2531.5 1061.2 L2535.2 1060.2 L2538.8 1059.2 L2542.5 1058.2 L2546.1 1057.2 L2549.7 1056.2 L2553.4 1055.2 L2557 1054.2 L2560.7 1053.2 L2564.3 1052.2 L2568 1051.2 L2571.6 1050.2 L2575.3 1049.2 L2578.9 1048.2 L2582.5 1047.2 L2586.2 1046.2 L2589.8 1045.2 L2593.5 1044.2 L2597.1 1043.2 L2600.8 1042.2 L2604.4 1041.2 L2608.1 1040.2 L2611.7 1039.1 L2615.3 1038.1 L2619 1037.1 L2622.6 1036.1 L2626.3 1035.1 L2629.9 1034.1 L2633.6 1033.1 L2637.2 1032.1 L2640.8 1031.1 L2644.5 1030.1 L2648.1 1029.1 L2651.8 1028.1 L2655.4 1027.1 L2659.1 1026.1 L2662.7 1025.1 L2666.4 1024.1 L2670 1023.1" fill="none" stroke="#000" stroke-width="3.5" stroke-linecap="butt" stroke-linejoin="round" />
<path d="M2455 1105.8 L2458.6 1104.8 L2462.3 1103.8 L2465.9 1102.9 L2469.6 1101.9 L2473.2 1100.9 L2476.9 1099.9 L2480.5 1099 L2484.2 1098 L2487.8 1097 L2491.4 1096 L2495.1 1095.1 L2498.7 1094.1 L2502.4 1093.1 L2506 1092.1 L2509.7 1091.2 L2513.3 1090.2 L2516.9 1089.2 L2520.6 1088.2 L2524.2 1087.3 L2527.9 1086.3 L2531.5 1085.3 L2535.2 1084.3 L2538.8 1083.3 L2542.5 1082.4 L2546.1 1081.4 L2549.7 1080.4 L2553.4 1079.4 L2557 1078.5 L2560.7 1077.5 L2564.3 1076.5 L2568 1075.5 L2571.6 1074.6 L2575.3 1073.6 L2578.9 1072.6 L2582.5 1071.6 L2586.2 1070.7 L2589.8 1069.7 L2593.5 1068.7 L2597.1 1067.7 L2600.8 1066.7 L2604.4 1065.8 L2608.1 1064.8 L2611.7 1063.8 L2615.3 1062.8 L2619 1061.9 L2622.6 1060.9 L2626.3 1059.9 L2629.9 1058.9 L2633.6 1058 L2637.2 1057 L2640.8 1056 L2644.5 1055 L2648.1 1054.1 L2651.8 1053.1 L2655.4 1052.1 L2659.1 1051.1 L2662.7 1050.2 L2666.4 1049.2 L2670 1048.2" fill="none" stroke="#000" stroke-width="12" stroke-linecap="butt" stroke-linejoin="round" />
<path d="M2455 1130.2 L2458.6 1129.2 L2462.3 1128.3 L2465.9 1127.3 L2469.6 1126.4 L2473.2 1125.4 L2476.9 1124.5 L2480.5 1123.5 L2484.2 1122.6 L2487.8 1121.6 L2491.4 1120.7 L2495.1 1119.7 L2498.7 1118.8 L2502.4 1117.8 L2506 1116.9 L2509.7 1115.9 L2513.3 1115 L2516.9 1114 L2520.6 1113.1 L2524.2 1112.2 L2527.9 1111.2 L2531.5 1110.3 L2535.2 1109.3 L2538.8 1108.4 L2542.5 1107.4 L2546.1 1106.5 L2549.7 1105.5 L2553.4 1104.6 L2557 1103.6 L2560.7 1102.7 L2564.3 1101.7 L2568 1100.8 L2571.6 1099.8 L2575.3 1098.9 L2578.9 1097.9 L2582.5 1097 L2586.2 1096 L2589.8 1095.1 L2593.5 1094.1 L2597.1 1093.2 L2600.8 1092.2 L2604.4 1091.3 L2608.1 1090.4 L2611.7 1089.4 L2615.3 1088.5 L2619 1087.5 L2622.6 1086.6 L2626.3 1085.6 L2629.9 1084.7 L2633.6 1083.7 L2637.2 1082.8 L2640.8 1081.8 L2644.5 1080.9 L2648.1 1079.9 L2651.8 1079 L2655.4 1078 L2659.1 1077.1 L2662.7 1076.1 L2666.4 1075.2 L2670 1074.2" fill="none" stroke="#000" stroke-width="3.5" stroke-linecap="butt" stroke-linejoin="round" />
<path d="M2455 1144.1 L2458.6 1143.1 L2462.3 1142.2 L2465.9 1141.3 L2469.6 1140.4 L2473.2 1139.4 L2476.9 1138.5 L2480.5 1137.6 L2484.2 1136.6 L2487.8 1135.7 L2491.4 1134.8 L2495.1 1133.8 L2498.7 1132.9 L2502.4 1132 L2506 1131 L2509.7 1130.1 L2513.3 1129.2 L2516.9 1128.2 L2520.6 1127.3 L2524.2 1126.4 L2527.9 1125.4 L2531.5 1124.5 L2535.2 1123.6 L2538.8 1122.7 L2542.5 1121.7 L2546.1 1120.8 L2549.7 1119.9 L2553.4 1118.9 L2557 1118 L2560.7 1117.1 L2564.3 1116.1 L2568 1115.2 L2571.6 1114.3 L2575.3 1113.3 L2578.9 1112.4 L2582.5 1111.5 L2586.2 1110.5 L2589.8 1109.6 L2593.5 1108.7 L2597.1 1107.8 L2600.8 1106.8 L2604.4 1105.9 L2608.1 1105 L2611.7 1104 L2615.3 1103.1 L2619 1102.2 L2622.6 1101.2 L2626.3 1100.3 L2629.9 1099.4 L2633.6 1098.4 L2637.2 1097.5 L2640.8 1096.6 L2644.5 1095.6 L2648.1 1094.7 L2651.8 1093.8 L2655.4 1092.8 L2659.1 1091.9 L2662.7 1091 L2666.4 1090.1 L2670 1089.1" fill="none" stroke="#000" stroke-width="3.5" stroke-linecap="butt" stroke-linejoin="round" />
<path d="M2455 1158 L2458.6 1157.1 L2462.3 1156.2 L2465.9 1155.3 L2469.6 1154.3 L2473.2 1153.4 L2476.9 1152.5 L2480.5 1151.6 L2484.2 1150.7 L2487.8 1149.8 L2491.4 1148.8 L2495.1 1147.9 L2498.7 1147 L2502.4 1146.1 L2506 1145.2 L2509.7 1144.3 L2513.3 1143.4 L2516.9 1142.4 L2520.6 1141.5 L2524.2 1140.6 L2527.9 1139.7 L2531.5 1138.8 L2535.2 1137.9 L2538.8 1136.9 L2542.5 1136 L2546.1 1135.1 L2549.7 1134.2 L2553.4 1133.3 L2557 1132.4 L2560.7 1131.5 L2564.3 1130.5 L2568 1129.6 L2571.6 1128.7 L2575.3 1127.8 L2578.9 1126.9 L2582.5 1126 L2586.2 1125.1 L2589.8 1124.1 L2593.5 1123.2 L2597.1 1122.3 L2600.8 1121.4 L2604.4 1120.5 L2608.1 1119.6 L2611.7 1118.6 L2615.3 1117.7 L2619 1116.8 L2622.6 1115.9 L2626.3 1115 L2629.9 1114.1 L2633.6 1113.2 L2637.2 1112.2 L2640.8 1111.3 L2644.5 1110.4 L2648.1 1109.5 L2651.8 1108.6 L2655.4 1107.7 L2659.1 1106.7 L2662.7 1105.8 L2666.4 1104.9 L2670 1104" fill="none" stroke="#000" stroke-width="5" stroke-linecap="butt" stroke-linejoin="round" />
<path d="M2330 1190 L2440 1160 L2420 1178 L2380 1192Z" fill="#000" />
<path d="M2405 1172C2399.2 1178.3 2381.5 1197 2370 1210C2358.5 1223 2341.7 1243.3 2336 1250" fill="none" stroke="#000" stroke-width="23" stroke-linecap="butt" stroke-linejoin="round" />
<path d="M2405 1172C2399.2 1178.3 2381.5 1197 2370 1210C2358.5 1223 2341.7 1243.3 2336 1250" fill="none" stroke="#fff" stroke-width="14" stroke-linecap="butt" stroke-linejoin="round" />
<path d="M2670 1016 L2674.6 1014.7 L2679.2 1013.4 L2683.7 1012 L2688.3 1010.7 L2692.9 1009.4 L2697.5 1008.1 L2702 1006.7 L2706.6 1005.4 L2711.2 1004.1 L2715.8 1002.8 L2720.3 1001.5 L2724.9 1000.1 L2729.5 998.8 L2734.1 997.5 L2738.6 996.2 L2743.2 994.8 L2747.8 993.5 L2752.4 992.2 L2756.9 990.9 L2761.5 989.6 L2766.1 988.2 L2770.7 986.9 L2775.3 985.6 L2779.8 984.3 L2784.4 982.9 L2789 981.6 L2793.6 980.3 L2798.1 979 L2802.7 977.7 L2807.3 976.3 L2811.9 975 L2816.4 973.7 L2821 972.4 L2825.6 971.1 L2830.2 969.7 L2834.7 968.4 L2839.3 967.1 L2843.9 965.8 L2848.5 964.4 L2853.1 963.1 L2857.6 961.8 L2862.2 960.5 L2866.8 959.2 L2871.4 957.8 L2875.9 956.5 L2880.5 955.2 L2885.1 953.9 L2889.7 952.5 L2894.2 951.2 L2898.8 949.9 L2903.4 948.6 L2908 947.3 L2912.5 945.9 L2917.1 944.6 L2921.7 943.3 L2926.3 942 L2930.8 940.6 L2935.4 939.3 L2940 938 L2940 1030 L2935.4 1031.3 L2930.8 1032.5 L2926.3 1033.8 L2921.7 1035 L2917.1 1036.3 L2912.5 1037.5 L2908 1038.8 L2903.4 1040 L2898.8 1041.3 L2894.2 1042.5 L2889.7 1043.8 L2885.1 1045.1 L2880.5 1046.3 L2875.9 1047.6 L2871.4 1048.8 L2866.8 1050.1 L2862.2 1051.3 L2857.6 1052.6 L2853.1 1053.8 L2848.5 1055.1 L2843.9 1056.3 L2839.3 1057.6 L2834.7 1058.8 L2830.2 1060.1 L2825.6 1061.4 L2821 1062.6 L2816.4 1063.9 L2811.9 1065.1 L2807.3 1066.4 L2802.7 1067.6 L2798.1 1068.9 L2793.6 1070.1 L2789 1071.4 L2784.4 1072.6 L2779.8 1073.9 L2775.3 1075.2 L2770.7 1076.4 L2766.1 1077.7 L2761.5 1078.9 L2756.9 1080.2 L2752.4 1081.4 L2747.8 1082.7 L2743.2 1083.9 L2738.6 1085.2 L2734.1 1086.4 L2729.5 1087.7 L2724.9 1088.9 L2720.3 1090.2 L2715.8 1091.5 L2711.2 1092.7 L2706.6 1094 L2702 1095.2 L2697.5 1096.5 L2692.9 1097.7 L2688.3 1099 L2683.7 1100.2 L2679.2 1101.5 L2674.6 1102.7 L2670 1104Z" fill="#fff" />
<path d="M2670 1016 L2674.6 1014.7 L2679.2 1013.4 L2683.7 1012 L2688.3 1010.7 L2692.9 1009.4 L2697.5 1008.1 L2702 1006.7 L2706.6 1005.4 L2711.2 1004.1 L2715.8 1002.8 L2720.3 1001.5 L2724.9 1000.1 L2729.5 998.8 L2734.1 997.5 L2738.6 996.2 L2743.2 994.8 L2747.8 993.5 L2752.4 992.2 L2756.9 990.9 L2761.5 989.6 L2766.1 988.2 L2770.7 986.9 L2775.3 985.6 L2779.8 984.3 L2784.4 982.9 L2789 981.6 L2793.6 980.3 L2798.1 979 L2802.7 977.7 L2807.3 976.3 L2811.9 975 L2816.4 973.7 L2821 972.4 L2825.6 971.1 L2830.2 969.7 L2834.7 968.4 L2839.3 967.1 L2843.9 965.8 L2848.5 964.4 L2853.1 963.1 L2857.6 961.8 L2862.2 960.5 L2866.8 959.2 L2871.4 957.8 L2875.9 956.5 L2880.5 955.2 L2885.1 953.9 L2889.7 952.5 L2894.2 951.2 L2898.8 949.9 L2903.4 948.6 L2908 947.3 L2912.5 945.9 L2917.1 944.6 L2921.7 943.3 L2926.3 942 L2930.8 940.6 L2935.4 939.3 L2940 938" fill="none" stroke="#000" stroke-width="4.5" stroke-linecap="butt" stroke-linejoin="round" />
<path d="M2670 1024.8 L2674.6 1023.5 L2679.2 1022.2 L2683.7 1020.9 L2688.3 1019.5 L2692.9 1018.2 L2697.5 1016.9 L2702 1015.6 L2706.6 1014.3 L2711.2 1013 L2715.8 1011.6 L2720.3 1010.3 L2724.9 1009 L2729.5 1007.7 L2734.1 1006.4 L2738.6 1005.1 L2743.2 1003.8 L2747.8 1002.4 L2752.4 1001.1 L2756.9 999.8 L2761.5 998.5 L2766.1 997.2 L2770.7 995.9 L2775.3 994.5 L2779.8 993.2 L2784.4 991.9 L2789 990.6 L2793.6 989.3 L2798.1 988 L2802.7 986.7 L2807.3 985.3 L2811.9 984 L2816.4 982.7 L2821 981.4 L2825.6 980.1 L2830.2 978.8 L2834.7 977.5 L2839.3 976.1 L2843.9 974.8 L2848.5 973.5 L2853.1 972.2 L2857.6 970.9 L2862.2 969.6 L2866.8 968.2 L2871.4 966.9 L2875.9 965.6 L2880.5 964.3 L2885.1 963 L2889.7 961.7 L2894.2 960.4 L2898.8 959 L2903.4 957.7 L2908 956.4 L2912.5 955.1 L2917.1 953.8 L2921.7 952.5 L2926.3 951.1 L2930.8 949.8 L2935.4 948.5 L2940 947.2" fill="none" stroke="#000" stroke-width="3.5" stroke-linecap="butt" stroke-linejoin="round" />
<path d="M2670 1049.4 L2674.6 1048.1 L2679.2 1046.8 L2683.7 1045.6 L2688.3 1044.3 L2692.9 1043 L2697.5 1041.7 L2702 1040.4 L2706.6 1039.1 L2711.2 1037.8 L2715.8 1036.5 L2720.3 1035.2 L2724.9 1033.9 L2729.5 1032.6 L2734.1 1031.3 L2738.6 1030 L2743.2 1028.7 L2747.8 1027.4 L2752.4 1026.1 L2756.9 1024.8 L2761.5 1023.5 L2766.1 1022.2 L2770.7 1020.9 L2775.3 1019.6 L2779.8 1018.3 L2784.4 1017 L2789 1015.7 L2793.6 1014.4 L2798.1 1013.1 L2802.7 1011.8 L2807.3 1010.6 L2811.9 1009.3 L2816.4 1008 L2821 1006.7 L2825.6 1005.4 L2830.2 1004.1 L2834.7 1002.8 L2839.3 1001.5 L2843.9 1000.2 L2848.5 998.9 L2853.1 997.6 L2857.6 996.3 L2862.2 995 L2866.8 993.7 L2871.4 992.4 L2875.9 991.1 L2880.5 989.8 L2885.1 988.5 L2889.7 987.2 L2894.2 985.9 L2898.8 984.6 L2903.4 983.3 L2908 982 L2912.5 980.7 L2917.1 979.4 L2921.7 978.1 L2926.3 976.8 L2930.8 975.6 L2935.4 974.3 L2940 973" fill="none" stroke="#000" stroke-width="13" stroke-linecap="butt" stroke-linejoin="round" />
<path d="M2670 1070.6 L2674.6 1069.3 L2679.2 1068 L2683.7 1066.7 L2688.3 1065.4 L2692.9 1064.2 L2697.5 1062.9 L2702 1061.6 L2706.6 1060.3 L2711.2 1059 L2715.8 1057.8 L2720.3 1056.5 L2724.9 1055.2 L2729.5 1053.9 L2734.1 1052.6 L2738.6 1051.4 L2743.2 1050.1 L2747.8 1048.8 L2752.4 1047.5 L2756.9 1046.2 L2761.5 1045 L2766.1 1043.7 L2770.7 1042.4 L2775.3 1041.1 L2779.8 1039.8 L2784.4 1038.6 L2789 1037.3 L2793.6 1036 L2798.1 1034.7 L2802.7 1033.4 L2807.3 1032.2 L2811.9 1030.9 L2816.4 1029.6 L2821 1028.3 L2825.6 1027 L2830.2 1025.8 L2834.7 1024.5 L2839.3 1023.2 L2843.9 1021.9 L2848.5 1020.6 L2853.1 1019.4 L2857.6 1018.1 L2862.2 1016.8 L2866.8 1015.5 L2871.4 1014.2 L2875.9 1013 L2880.5 1011.7 L2885.1 1010.4 L2889.7 1009.1 L2894.2 1007.8 L2898.8 1006.6 L2903.4 1005.3 L2908 1004 L2912.5 1002.7 L2917.1 1001.4 L2921.7 1000.2 L2926.3 998.9 L2930.8 997.6 L2935.4 996.3 L2940 995" fill="none" stroke="#000" stroke-width="3.5" stroke-linecap="butt" stroke-linejoin="round" />
<path d="M2670 1086.4 L2674.6 1085.1 L2679.2 1083.9 L2683.7 1082.6 L2688.3 1081.3 L2692.9 1080.1 L2697.5 1078.8 L2702 1077.5 L2706.6 1076.3 L2711.2 1075 L2715.8 1073.7 L2720.3 1072.5 L2724.9 1071.2 L2729.5 1069.9 L2734.1 1068.7 L2738.6 1067.4 L2743.2 1066.1 L2747.8 1064.8 L2752.4 1063.6 L2756.9 1062.3 L2761.5 1061 L2766.1 1059.8 L2770.7 1058.5 L2775.3 1057.2 L2779.8 1056 L2784.4 1054.7 L2789 1053.4 L2793.6 1052.2 L2798.1 1050.9 L2802.7 1049.6 L2807.3 1048.4 L2811.9 1047.1 L2816.4 1045.8 L2821 1044.6 L2825.6 1043.3 L2830.2 1042 L2834.7 1040.8 L2839.3 1039.5 L2843.9 1038.2 L2848.5 1037 L2853.1 1035.7 L2857.6 1034.4 L2862.2 1033.2 L2866.8 1031.9 L2871.4 1030.6 L2875.9 1029.3 L2880.5 1028.1 L2885.1 1026.8 L2889.7 1025.5 L2894.2 1024.3 L2898.8 1023 L2903.4 1021.7 L2908 1020.5 L2912.5 1019.2 L2917.1 1017.9 L2921.7 1016.7 L2926.3 1015.4 L2930.8 1014.1 L2935.4 1012.9 L2940 1011.6" fill="none" stroke="#000" stroke-width="3.5" stroke-linecap="butt" stroke-linejoin="round" />
<path d="M2670 1104 L2674.6 1102.7 L2679.2 1101.5 L2683.7 1100.2 L2688.3 1099 L2692.9 1097.7 L2697.5 1096.5 L2702 1095.2 L2706.6 1094 L2711.2 1092.7 L2715.8 1091.5 L2720.3 1090.2 L2724.9 1088.9 L2729.5 1087.7 L2734.1 1086.4 L2738.6 1085.2 L2743.2 1083.9 L2747.8 1082.7 L2752.4 1081.4 L2756.9 1080.2 L2761.5 1078.9 L2766.1 1077.7 L2770.7 1076.4 L2775.3 1075.2 L2779.8 1073.9 L2784.4 1072.6 L2789 1071.4 L2793.6 1070.1 L2798.1 1068.9 L2802.7 1067.6 L2807.3 1066.4 L2811.9 1065.1 L2816.4 1063.9 L2821 1062.6 L2825.6 1061.4 L2830.2 1060.1 L2834.7 1058.8 L2839.3 1057.6 L2843.9 1056.3 L2848.5 1055.1 L2853.1 1053.8 L2857.6 1052.6 L2862.2 1051.3 L2866.8 1050.1 L2871.4 1048.8 L2875.9 1047.6 L2880.5 1046.3 L2885.1 1045.1 L2889.7 1043.8 L2894.2 1042.5 L2898.8 1041.3 L2903.4 1040 L2908 1038.8 L2912.5 1037.5 L2917.1 1036.3 L2921.7 1035 L2926.3 1033.8 L2930.8 1032.5 L2935.4 1031.3 L2940 1030" fill="none" stroke="#000" stroke-width="5" stroke-linecap="butt" stroke-linejoin="round" />
<circle cx="1841" cy="1357" r="20" fill="#fff" stroke="#000" stroke-width="6"/>
<path d="M1839.3 1376.9 L1836.8 1376.6 L1834.4 1375.9 L1832.2 1374.9 L1830 1373.7 L1828 1372.2 L1826.3 1370.5 L1824.7 1368.6 L1823.4 1366.5 L1822.4 1364.2 L1821.6 1361.9 L1821.2 1359.5 L1821 1357 L1821.2 1354.5 L1821.6 1352.1 L1822.4 1349.8 L1823.4 1347.5 L1824.7 1345.4 L1826.3 1343.5 L1828 1341.8 L1830 1340.3 L1832.2 1339.1 L1834.4 1338.1 L1836.8 1337.4 L1839.3 1337.1" fill="none" stroke="#000" stroke-width="11" stroke-linecap="round" stroke-linejoin="round" />
<path d="M1851.5 1365.6 L1850.5 1366.6 L1849.4 1367.3 L1848.2 1367.9 L1846.8 1368.2 L1845.5 1368.2 L1844.1 1368 L1842.9 1367.5 L1841.7 1366.8 L1840.7 1365.9 L1839.9 1364.8 L1839.3 1363.6 L1838.9 1362.3 L1838.8 1360.9 L1838.9 1359.5 L1839.3 1358.2 L1840 1357 L1840.8 1356 L1841.9 1355.1 L1843.1 1354.4 L1844.3 1354 L1845.7 1353.8 L1847 1353.9 L1848.4 1354.2 L1849.6 1354.8" fill="none" stroke="#000" stroke-width="5.5" stroke-linecap="round" stroke-linejoin="round" />
<path d="M1808.6 1239.6 L1811.3 1241.1 L1814 1243.1 L1816.7 1245.4 L1819.4 1248.2 L1821.9 1251.3 L1824.3 1254.7 L1826.6 1258.5 L1828.7 1262.5 L1830.6 1266.7 L1832.4 1271.1 L1833.9 1275.7 L1835.1 1280.3 L1836.2 1285 L1837 1289.7 L1837.5 1294.4 L1837.7 1298.9 L1837.7 1303.4 L1837.4 1307.6 L1836.9 1311.6 L1836.1 1315.4 L1835 1318.9 L1833.7 1322 L1832.1 1324.8 L1830.4 1327.2" fill="none" stroke="#000" stroke-width="15" stroke-linecap="round" stroke-linejoin="round" />
<path d="M1817.8 1226.1 L1821.6 1222.9 L1826 1221 L1830.7 1220.5 L1835.7 1221.3 L1840.8 1223.6 L1845.9 1227.1 L1850.9 1231.9 L1855.6 1237.8 L1860 1244.6 L1863.9 1252.3 L1867.3 1260.6 L1870 1269.2 L1872 1278.1 L1873.2 1286.9 L1873.6 1295.5 L1873.3 1303.6 L1872.1 1311.1 L1870.2 1317.8 L1867.5 1323.4 L1864.2 1327.9 L1860.4 1331.1 L1856 1333 L1851.3 1333.5 L1846.3 1332.7 L1824.5 1334.6 L1828.6 1334.3 L1832.4 1333 L1835.9 1330.6 L1839 1327.2 L1841.5 1322.9 L1843.6 1317.7 L1845 1311.9 L1845.8 1305.4 L1846 1298.5 L1845.6 1291.3 L1844.5 1283.9 L1842.8 1276.5 L1840.6 1269.3 L1837.8 1262.4 L1834.6 1255.9 L1831 1250 L1827 1244.8 L1822.9 1240.5 L1818.5 1237 L1814.2 1234.6 L1809.8 1233.2 L1805.6 1232.8 L1801.6 1233.5 L1797.9 1235.3Z" fill="#b0b0b0" stroke="#000" stroke-width="5.5" stroke-linejoin="round" />
<path d="M1809.3 1230.5 L1813 1229.3 L1817 1229.2 L1821.2 1230 L1825.4 1231.8 L1829.7 1234.6 L1833.8 1238.2 L1837.8 1242.6 L1841.6 1247.8 L1845.1 1253.7 L1848.1 1260 L1850.8 1266.8 L1853 1273.8 L1854.6 1281 L1855.7 1288.1 L1856.2 1295.2 L1856.1 1302 L1855.4 1308.3 L1854.2 1314.2 L1852.4 1319.4 L1850.1 1323.9 L1847.4 1327.6 L1844.2 1330.4 L1840.6 1332.3 L1836.8 1333.2" fill="none" stroke="#f4f4f4" stroke-width="7" stroke-linecap="round" stroke-linejoin="round" />
<path d="M1817.7 1226.2 L1821.6 1225.7 L1825.7 1226.1 L1829.9 1227.5 L1834.1 1229.9 L1838.3 1233.1 L1842.4 1237.2 L1846.3 1242 L1849.9 1247.5 L1853.2 1253.6 L1856.2 1260.2 L1858.7 1267.1 L1860.7 1274.2 L1862.1 1281.4 L1863.1 1288.6 L1863.5 1295.6 L1863.3 1302.4 L1862.5 1308.7 L1861.2 1314.5 L1859.4 1319.6 L1857 1324 L1854.3 1327.7 L1851.1 1330.4 L1847.5 1332.2 L1843.7 1333.1" fill="none" stroke="#333" stroke-width="2.5" stroke-linecap="round" stroke-linejoin="round" />
<path d="M2041.9 1187 L2043.9 1188.7 L2045.8 1190.7 L2047.8 1193 L2049.6 1195.6 L2051.4 1198.4 L2053.2 1201.4 L2054.8 1204.7 L2056.4 1208.1 L2057.8 1211.6 L2059.1 1215.3 L2060.3 1219.1 L2061.3 1222.9 L2062.1 1226.8 L2062.8 1230.6 L2063.4 1234.4 L2063.7 1238.1 L2063.9 1241.7 L2063.9 1245.2 L2063.7 1248.5 L2063.3 1251.7 L2062.7 1254.6 L2062 1257.2 L2061.2 1259.6 L2060.1 1261.8" fill="none" stroke="#000" stroke-width="7" stroke-linecap="round" stroke-linejoin="round" />
<path d="M2040.9 1176.8 L2043.6 1175.6 L2046.6 1175.3 L2049.8 1176 L2053.2 1177.6 L2056.6 1180.1 L2059.9 1183.4 L2063.2 1187.6 L2066.4 1192.4 L2069.3 1197.8 L2072 1203.7 L2074.3 1210 L2076.3 1216.6 L2077.8 1223.2 L2079 1229.8 L2079.6 1236.3 L2079.8 1242.4 L2079.5 1248.2 L2078.7 1253.4 L2077.4 1258 L2075.8 1261.9 L2073.7 1264.9 L2071.2 1267.1 L2068.5 1268.3 L2065.5 1268.7 L2054.9 1271.5 L2057.9 1271.2 L2060.6 1269.9 L2063 1267.8 L2065.1 1264.7 L2066.8 1260.9 L2068.1 1256.3 L2068.8 1251.1 L2069.2 1245.3 L2069 1239.1 L2068.3 1232.7 L2067.2 1226.1 L2065.7 1219.4 L2063.7 1212.9 L2061.3 1206.6 L2058.7 1200.7 L2055.7 1195.2 L2052.6 1190.4 L2049.3 1186.3 L2045.9 1182.9 L2042.6 1180.4 L2039.2 1178.8 L2036 1178.2 L2033 1178.5 L2030.2 1179.7Z" fill="#fff" stroke="#000" stroke-width="4.5" stroke-linejoin="round" />
<circle cx="2257" cy="1256" r="20" fill="#fff" stroke="#000" stroke-width="6"/>
<path d="M2255.3 1275.9 L2252.8 1275.6 L2250.4 1274.9 L2248.2 1273.9 L2246 1272.7 L2244 1271.2 L2242.3 1269.5 L2240.7 1267.6 L2239.4 1265.5 L2238.4 1263.2 L2237.6 1260.9 L2237.2 1258.5 L2237 1256 L2237.2 1253.5 L2237.6 1251.1 L2238.4 1248.8 L2239.4 1246.5 L2240.7 1244.4 L2242.3 1242.5 L2244 1240.8 L2246 1239.3 L2248.2 1238.1 L2250.4 1237.1 L2252.8 1236.4 L2255.3 1236.1" fill="none" stroke="#000" stroke-width="11" stroke-linecap="round" stroke-linejoin="round" />
<path d="M2267.5 1264.6 L2266.5 1265.6 L2265.4 1266.3 L2264.2 1266.9 L2262.8 1267.2 L2261.5 1267.2 L2260.1 1267 L2258.9 1266.5 L2257.7 1265.8 L2256.7 1264.9 L2255.9 1263.8 L2255.3 1262.6 L2254.9 1261.3 L2254.8 1259.9 L2254.9 1258.5 L2255.3 1257.2 L2256 1256 L2256.8 1255 L2257.9 1254.1 L2259.1 1253.4 L2260.3 1253 L2261.7 1252.8 L2263 1252.9 L2264.4 1253.2 L2265.6 1253.8" fill="none" stroke="#000" stroke-width="5.5" stroke-linecap="round" stroke-linejoin="round" />
<path d="M2225.3 1130.2 L2228.3 1131.9 L2231.2 1134 L2234.1 1136.6 L2236.9 1139.6 L2239.6 1143 L2242.2 1146.7 L2244.6 1150.8 L2246.9 1155.2 L2249 1159.8 L2250.9 1164.6 L2252.5 1169.5 L2253.9 1174.5 L2255 1179.6 L2255.9 1184.7 L2256.5 1189.8 L2256.8 1194.7 L2256.8 1199.5 L2256.5 1204.2 L2255.9 1208.5 L2255 1212.6 L2253.9 1216.4 L2252.5 1219.8 L2250.9 1222.8 L2249 1225.4" fill="none" stroke="#000" stroke-width="15" stroke-linecap="round" stroke-linejoin="round" />
<path d="M2234.9 1115.7 L2239.1 1112.2 L2243.7 1110.1 L2248.7 1109.6 L2254 1110.6 L2259.5 1113 L2265 1116.9 L2270.3 1122.1 L2275.4 1128.5 L2280.1 1136 L2284.4 1144.3 L2288 1153.3 L2290.9 1162.7 L2293.1 1172.3 L2294.4 1181.9 L2294.9 1191.2 L2294.6 1200.1 L2293.4 1208.2 L2291.4 1215.4 L2288.6 1221.5 L2285.1 1226.3 L2280.9 1229.8 L2276.3 1231.9 L2271.3 1232.4 L2266 1231.4 L2242.4 1233.5 L2246.8 1233.2 L2250.9 1231.8 L2254.6 1229.2 L2257.8 1225.5 L2260.5 1220.8 L2262.7 1215.3 L2264.2 1208.9 L2265 1201.9 L2265.2 1194.4 L2264.7 1186.6 L2263.5 1178.6 L2261.7 1170.5 L2259.3 1162.7 L2256.3 1155.2 L2252.8 1148.1 L2248.9 1141.7 L2244.7 1136.1 L2240.2 1131.3 L2235.6 1127.6 L2230.9 1124.9 L2226.2 1123.4 L2221.7 1123 L2217.4 1123.7 L2213.5 1125.6Z" fill="#b0b0b0" stroke="#000" stroke-width="5.5" stroke-linejoin="round" />
<path d="M2225.7 1120.4 L2229.7 1119.2 L2234 1119 L2238.5 1120 L2243 1121.9 L2247.5 1124.9 L2252 1128.9 L2256.3 1133.8 L2260.3 1139.4 L2264.1 1145.7 L2267.4 1152.6 L2270.2 1160 L2272.6 1167.6 L2274.4 1175.4 L2275.6 1183.2 L2276.2 1190.8 L2276.1 1198.2 L2275.4 1205.1 L2274.1 1211.5 L2272.2 1217.1 L2269.8 1222 L2266.9 1226 L2263.5 1229 L2259.7 1231 L2255.6 1232" fill="none" stroke="#f4f4f4" stroke-width="7" stroke-linecap="round" stroke-linejoin="round" />
<path d="M2234.8 1115.8 L2238.9 1115.2 L2243.3 1115.7 L2247.8 1117.3 L2252.3 1119.9 L2256.8 1123.4 L2261.2 1127.8 L2265.4 1133.1 L2269.3 1139.1 L2272.9 1145.7 L2276 1152.9 L2278.7 1160.4 L2280.9 1168.1 L2282.5 1175.9 L2283.6 1183.7 L2284 1191.4 L2283.8 1198.7 L2283 1205.5 L2281.7 1211.8 L2279.7 1217.4 L2277.3 1222.1 L2274.3 1226.1 L2270.9 1229 L2267.2 1231 L2263.1 1231.9" fill="none" stroke="#333" stroke-width="2.5" stroke-linecap="round" stroke-linejoin="round" />
<path d="M2439 1074 L2441.2 1076.1 L2443.4 1078.5 L2445.5 1081.2 L2447.7 1084.3 L2449.7 1087.6 L2451.7 1091.3 L2453.6 1095.1 L2455.4 1099.2 L2457 1103.5 L2458.6 1107.8 L2459.9 1112.3 L2461.1 1116.9 L2462.2 1121.4 L2463 1126 L2463.7 1130.5 L2464.1 1134.9 L2464.4 1139.2 L2464.5 1143.3 L2464.3 1147.2 L2464 1150.9 L2463.5 1154.3 L2462.7 1157.4 L2461.8 1160.2 L2460.7 1162.7" fill="none" stroke="#000" stroke-width="7" stroke-linecap="round" stroke-linejoin="round" />
<path d="M2436.3 1062.3 L2439.3 1060.9 L2442.6 1060.7 L2446.2 1061.5 L2449.9 1063.5 L2453.6 1066.5 L2457.4 1070.5 L2461.2 1075.5 L2464.7 1081.3 L2468.1 1087.8 L2471.2 1094.8 L2473.9 1102.3 L2476.2 1110 L2478.1 1117.9 L2479.5 1125.8 L2480.3 1133.4 L2480.7 1140.7 L2480.5 1147.5 L2479.7 1153.6 L2478.4 1159 L2476.7 1163.5 L2474.5 1167.1 L2471.8 1169.6 L2468.8 1171 L2465.5 1171.4 L2454.9 1174.2 L2458.2 1173.9 L2461.2 1172.5 L2463.8 1169.9 L2466.1 1166.4 L2467.8 1161.9 L2469.1 1156.5 L2469.8 1150.3 L2470 1143.6 L2469.7 1136.3 L2468.8 1128.6 L2467.5 1120.8 L2465.6 1112.9 L2463.3 1105.1 L2460.5 1097.7 L2457.5 1090.6 L2454.1 1084.1 L2450.5 1078.3 L2446.8 1073.4 L2443 1069.4 L2439.2 1066.3 L2435.5 1064.4 L2432 1063.5 L2428.7 1063.8 L2425.7 1065.2Z" fill="#fff" stroke="#000" stroke-width="4.5" stroke-linejoin="round" />
<path d="M2627.5 1022 L2630.5 1023.6 L2633.4 1025.7 L2636.2 1028.2 L2639 1031.2 L2641.7 1034.5 L2644.3 1038.2 L2646.7 1042.2 L2649 1046.5 L2651 1051 L2652.9 1055.7 L2654.5 1060.6 L2655.9 1065.5 L2657 1070.5 L2657.8 1075.6 L2658.4 1080.5 L2658.7 1085.4 L2658.6 1090.1 L2658.3 1094.7 L2657.7 1099 L2656.9 1103 L2655.7 1106.7 L2654.3 1110.1 L2652.7 1113.1 L2650.8 1115.7" fill="none" stroke="#000" stroke-width="15" stroke-linecap="round" stroke-linejoin="round" />
<path d="M2637.2 1007.6 L2641.3 1004.1 L2646 1002.1 L2651 1001.6 L2656.3 1002.5 L2661.7 1004.9 L2667.2 1008.7 L2672.5 1013.8 L2677.6 1020.1 L2682.3 1027.4 L2686.4 1035.6 L2690 1044.5 L2692.9 1053.7 L2695 1063.2 L2696.4 1072.6 L2696.8 1081.8 L2696.4 1090.5 L2695.2 1098.5 L2693.2 1105.6 L2690.3 1111.6 L2686.8 1116.4 L2682.7 1119.9 L2678 1121.9 L2673 1122.4 L2667.7 1121.5 L2644.2 1123.7 L2648.6 1123.3 L2652.6 1121.9 L2656.3 1119.3 L2659.6 1115.7 L2662.3 1111.1 L2664.5 1105.6 L2666 1099.3 L2666.9 1092.4 L2667.1 1085 L2666.6 1077.3 L2665.5 1069.4 L2663.7 1061.5 L2661.3 1053.8 L2658.4 1046.4 L2654.9 1039.5 L2651 1033.2 L2646.8 1027.7 L2642.4 1023 L2637.8 1019.3 L2633.1 1016.7 L2628.4 1015.2 L2623.9 1014.8 L2619.7 1015.6 L2615.7 1017.5Z" fill="#b0b0b0" stroke="#000" stroke-width="5.5" stroke-linejoin="round" />
<path d="M2628 1012.3 L2632 1011.1 L2636.3 1010.9 L2640.7 1011.8 L2645.2 1013.7 L2649.7 1016.7 L2654.2 1020.6 L2658.5 1025.3 L2662.5 1030.9 L2666.2 1037.1 L2669.5 1043.9 L2672.3 1051.1 L2674.6 1058.6 L2676.3 1066.3 L2677.5 1074 L2678.1 1081.5 L2678 1088.7 L2677.3 1095.5 L2676 1101.8 L2674.1 1107.4 L2671.6 1112.2 L2668.6 1116.1 L2665.3 1119.1 L2661.5 1121.1 L2657.4 1122.1" fill="none" stroke="#f4f4f4" stroke-width="7" stroke-linecap="round" stroke-linejoin="round" />
<path d="M2637 1007.7 L2641.2 1007.2 L2645.5 1007.6 L2650 1009.1 L2654.5 1011.6 L2659 1015.1 L2663.4 1019.5 L2667.5 1024.6 L2671.4 1030.5 L2675 1037 L2678.1 1044.1 L2680.7 1051.4 L2682.9 1059.1 L2684.5 1066.8 L2685.5 1074.5 L2685.9 1082 L2685.7 1089.2 L2684.9 1095.9 L2683.5 1102.1 L2681.5 1107.6 L2679 1112.3 L2676.1 1116.2 L2672.7 1119.1 L2668.9 1121.1 L2664.8 1122" fill="none" stroke="#333" stroke-width="2.5" stroke-linecap="round" stroke-linejoin="round" />
<circle cx="2652" cy="1155" r="17" fill="#fff" stroke="#000" stroke-width="7"/>
<circle cx="2654" cy="1158" r="6" fill="#fff" stroke="#000" stroke-width="4"/>
<path d="M2640 1120 Q2628 1140 2638 1160" fill="none" stroke="#000" stroke-width="8" stroke-linecap="round" stroke-linejoin="round" />
<g transform="translate(1213 1508) rotate(36) scale(1 1)">
<path d="M-10 0 L10 0 Q13 2 13 8 L12 32 Q10 38 4 38 L-6 38 Q-12 36 -12 30 L-13 8 Q-13 2 -10 0Z" fill="#fff" stroke="#000" stroke-width="4.5" stroke-linejoin="round" />
<path d="M-3 14 L3 14 L3 24 L-3 24Z" fill="none" stroke="#222" stroke-width="3" stroke-linecap="round" stroke-linejoin="round" />
</g>
<g transform="translate(1190.7 1538.7) rotate(36) scale(1 1)">
<path d="M-16 0 Q-21 2 -22 12 L-30 146 Q-30 176 0 178 Q30 176 30 146 L22 12 Q21 2 16 0Z" fill="#fff" stroke="#000" stroke-width="5.5" stroke-linejoin="round" />
<path d="M23.5 14 L23.9 20 L24.2 26 L24.6 32 L25 38 L25.3 44 L25.7 50 L26 56 L26.4 62 L26.8 68 L27.1 74 L27.5 80 L27.9 86 L28.2 92 L28.6 98 L29 104 L29.3 110 L29.7 116 L30 122 L30.4 128 L30.8 134 L31.1 140 L31.5 146 L21.3 146 L27.2 140 L26.9 134 L19.3 128 L16.6 122 L22.5 116 L21.8 110 L21.3 104 L21.5 98 L22.7 92 L24 86 L23.6 80 L23.2 74 L17.9 68 L13.2 62 L22.1 56 L20.1 50 L19.7 44 L16.3 38 L18.8 32 L16.7 26 L11.5 20 L16.4 14Z" fill="#000" />
<path d="M-23.5 12 L-24 18.2 L-24.6 24.5 L-25.1 30.7 L-25.6 37 L-26.2 43.2 L-26.7 49.4 L-27.2 55.7 L-27.8 61.9 L-28.3 68.2 L-28.8 74.4 L-29.4 80.6 L-29.9 86.9 L-30.4 93.1 L-31 99.4 L-31.5 105.6 L-27.9 105.6 L-27.4 99.4 L-26.8 93.1 L-24.8 86.9 L-26.7 80.6 L-26.1 74.4 L-25.6 68.2 L-19.6 61.9 L-23.7 55.7 L-20.2 49.4 L-22.6 43.2 L-17.3 37 L-17.5 30.7 L-21.9 24.5 L-15.9 18.2 L-16.4 12Z" fill="#000" />
<path d="M-27 142 Q-26 173 0 174" fill="none" stroke="#000" stroke-width="5" stroke-linecap="round" stroke-linejoin="round" />
<circle cx="-7.3" cy="41.1" r="2.8" fill="#444"/>
<circle cx="-8.3" cy="127.3" r="2.6" fill="#444"/>
<circle cx="-3.4" cy="40.8" r="2.6" fill="#444"/>
<circle cx="-15.8" cy="103.7" r="2.8" fill="#444"/>
<circle cx="-7.7" cy="41.1" r="2.4" fill="#444"/>
<circle cx="-6.9" cy="58" r="1.3" fill="#444"/>
<circle cx="2.5" cy="23.2" r="1.6" fill="#444"/>
<circle cx="-5" cy="97.8" r="1.9" fill="#444"/>
<circle cx="-0.7" cy="150" r="2.1" fill="#444"/>
<circle cx="-13.8" cy="136.5" r="1.4" fill="#444"/>
<circle cx="14.1" cy="142.6" r="1.6" fill="#444"/>
<circle cx="7.5" cy="37.7" r="2.7" fill="#444"/>
<circle cx="14.2" cy="38.7" r="2.6" fill="#444"/>
<circle cx="-3.1" cy="98.1" r="1.4" fill="#444"/>
<circle cx="13.3" cy="15.6" r="1.6" fill="#444"/>
<circle cx="-9.9" cy="112.9" r="2.5" fill="#444"/>
<circle cx="-8" cy="97.1" r="1.5" fill="#444"/>
<circle cx="-17.7" cy="115.2" r="1.6" fill="#444"/>
<circle cx="13.4" cy="91.7" r="2.2" fill="#444"/>
<circle cx="13.8" cy="50.9" r="1.5" fill="#444"/>
<circle cx="-6.5" cy="12.4" r="1.9" fill="#444"/>
<circle cx="-9.4" cy="18.8" r="1.8" fill="#444"/>
<circle cx="-14.1" cy="93.5" r="1.8" fill="#444"/>
<circle cx="21.2" cy="140.1" r="2.3" fill="#444"/>
<circle cx="3.4" cy="110.9" r="1.4" fill="#444"/>
<circle cx="-13.8" cy="15.1" r="2.7" fill="#444"/>
<circle cx="18.8" cy="112.3" r="1.2" fill="#444"/>
<circle cx="-0.7" cy="102.9" r="2.4" fill="#444"/>
<circle cx="16.8" cy="56.6" r="1.3" fill="#444"/>
<circle cx="9" cy="89.7" r="2.6" fill="#444"/>
<circle cx="8.4" cy="117.6" r="2.5" fill="#444"/>
<circle cx="-6.6" cy="143.6" r="2.3" fill="#444"/>
<circle cx="16.4" cy="141.5" r="1.9" fill="#444"/>
<circle cx="15.3" cy="125.4" r="2.1" fill="#444"/>
<circle cx="-4.6" cy="101.2" r="2.1" fill="#444"/>
<circle cx="-16.4" cy="98.9" r="2.2" fill="#444"/>
<circle cx="17.4" cy="155" r="2.4" fill="#444"/>
<circle cx="8.2" cy="66.7" r="2.1" fill="#444"/>
<circle cx="12.2" cy="74.3" r="1.3" fill="#444"/>
<circle cx="-19.5" cy="119.5" r="2.2" fill="#444"/>
<circle cx="-9.9" cy="80.2" r="2.3" fill="#444"/>
<circle cx="4.2" cy="82.6" r="2.7" fill="#444"/>
<circle cx="-15.9" cy="47.4" r="1.7" fill="#444"/>
<circle cx="-12" cy="109" r="1.5" fill="#444"/>
<circle cx="7.1" cy="142.2" r="1.9" fill="#444"/>
<circle cx="-7.6" cy="140.2" r="2.3" fill="#444"/>
<circle cx="-2.2" cy="39" r="2.5" fill="#444"/>
<circle cx="16.9" cy="143.5" r="1.8" fill="#444"/>
</g>
<g transform="translate(1421 1482) rotate(39) scale(1 1)">
<path d="M-10 0 L10 0 Q13 2 13 8 L12 32 Q10 38 4 38 L-6 38 Q-12 36 -12 30 L-13 8 Q-13 2 -10 0Z" fill="#fff" stroke="#000" stroke-width="4.5" stroke-linejoin="round" />
<path d="M-3 14 L3 14 L3 24 L-3 24Z" fill="none" stroke="#222" stroke-width="3" stroke-linecap="round" stroke-linejoin="round" />
</g>
<g transform="translate(1397.1 1511.5) rotate(39) scale(1 1)">
<path d="M-16 0 Q-21 2 -22 12 L-30 139 Q-30 169 0 171 Q30 169 30 139 L22 12 Q21 2 16 0Z" fill="#fff" stroke="#000" stroke-width="5.5" stroke-linejoin="round" />
<path d="M23.5 14 L23.9 20.2 L24.3 26.5 L24.7 32.8 L25.1 39 L25.5 45.2 L25.9 51.5 L26.3 57.8 L26.7 64 L27.1 70.2 L27.5 76.5 L27.9 82.8 L28.3 89 L28.7 95.2 L29.1 101.5 L29.5 107.8 L29.9 114 L30.3 120.2 L30.7 126.5 L31.1 132.8 L31.5 139 L24.7 139 L25.4 132.8 L26.8 126.5 L26.4 120.2 L24.3 114 L23.9 107.8 L15.8 101.5 L24.8 95.2 L22.8 89 L24 82.8 L21.1 76.5 L21.6 70.2 L21.2 64 L20.6 57.8 L20.2 51.5 L17.5 45.2 L15.8 39 L18.6 32.8 L18.8 26.5 L20 20.2 L16.2 14Z" fill="#000" />
<path d="M-23.5 12 L-24.1 18.4 L-24.6 24.8 L-25.2 31.2 L-25.8 37.5 L-26.4 43.9 L-26.9 50.3 L-27.5 56.7 L-28.1 63.1 L-28.6 69.5 L-29.2 75.9 L-29.8 82.2 L-30.4 88.6 L-30.9 95 L-31.5 101.4 L-27.8 101.4 L-27.4 95 L-26.1 88.6 L-26 82.2 L-24.8 75.9 L-25.1 69.5 L-21.3 63.1 L-23.3 56.7 L-24.2 50.3 L-20.5 43.9 L-21.7 37.5 L-16.9 31.2 L-18.5 24.8 L-21.4 18.4 L-18.2 12Z" fill="#000" />
<path d="M-27 135 Q-26 166 0 167" fill="none" stroke="#000" stroke-width="5" stroke-linecap="round" stroke-linejoin="round" />
<circle cx="-6.4" cy="15.1" r="1.8" fill="#444"/>
<circle cx="-17.7" cy="98.5" r="1.9" fill="#444"/>
<circle cx="-6.9" cy="39" r="2" fill="#444"/>
<circle cx="-0.9" cy="143.3" r="2.7" fill="#444"/>
<circle cx="13.2" cy="33.3" r="1.8" fill="#444"/>
<circle cx="7.8" cy="36.3" r="2.7" fill="#444"/>
<circle cx="-6.5" cy="10.9" r="2.4" fill="#444"/>
<circle cx="-8.8" cy="57.5" r="1.2" fill="#444"/>
<circle cx="3.4" cy="15.6" r="2.8" fill="#444"/>
<circle cx="0.2" cy="148.8" r="1.2" fill="#444"/>
<circle cx="9.7" cy="54.8" r="2.5" fill="#444"/>
<circle cx="-10.7" cy="98.9" r="2" fill="#444"/>
<circle cx="4.6" cy="76.4" r="1.6" fill="#444"/>
<circle cx="17.8" cy="141.6" r="1.5" fill="#444"/>
<circle cx="12.4" cy="50.5" r="1.6" fill="#444"/>
<circle cx="0.7" cy="141.2" r="2.3" fill="#444"/>
<circle cx="-11.6" cy="108" r="1.7" fill="#444"/>
<circle cx="6" cy="45.4" r="2.3" fill="#444"/>
<circle cx="11.7" cy="28.3" r="1.9" fill="#444"/>
<circle cx="-2.1" cy="43.5" r="2.8" fill="#444"/>
<circle cx="4.7" cy="87.8" r="2.7" fill="#444"/>
<circle cx="11.8" cy="143.7" r="1.9" fill="#444"/>
<circle cx="15.5" cy="91.8" r="2.5" fill="#444"/>
<circle cx="-5.9" cy="90.6" r="1.8" fill="#444"/>
<circle cx="2.6" cy="112.3" r="1.2" fill="#444"/>
<circle cx="16.5" cy="108.7" r="2.5" fill="#444"/>
<circle cx="18.1" cy="134.7" r="2.1" fill="#444"/>
<circle cx="-5.1" cy="119.7" r="1.4" fill="#444"/>
<circle cx="-6.5" cy="59.1" r="2.7" fill="#444"/>
<circle cx="1.7" cy="105.8" r="2.2" fill="#444"/>
<circle cx="1" cy="27.3" r="2.3" fill="#444"/>
<circle cx="-8.9" cy="64.8" r="1.9" fill="#444"/>
<circle cx="6.3" cy="55" r="1.4" fill="#444"/>
<circle cx="-5.6" cy="22.6" r="2.3" fill="#444"/>
<circle cx="6.6" cy="115.6" r="2.7" fill="#444"/>
<circle cx="-16.3" cy="60.8" r="2" fill="#444"/>
<circle cx="-11.5" cy="71.7" r="2.3" fill="#444"/>
<circle cx="-8.9" cy="57.4" r="1.7" fill="#444"/>
<circle cx="-22.1" cy="141.2" r="1.8" fill="#444"/>
<circle cx="-9.9" cy="48.9" r="1.9" fill="#444"/>
<circle cx="13.4" cy="40.6" r="2" fill="#444"/>
<circle cx="-13.7" cy="107" r="1.9" fill="#444"/>
<circle cx="13.3" cy="94.3" r="1.6" fill="#444"/>
<circle cx="12.9" cy="73.9" r="2.5" fill="#444"/>
<circle cx="1.2" cy="41.6" r="2.4" fill="#444"/>
<circle cx="6.1" cy="64.9" r="2.3" fill="#444"/>
<circle cx="2.5" cy="145.2" r="2.3" fill="#444"/>
<circle cx="8" cy="58.7" r="1.7" fill="#444"/>
</g>
<g transform="translate(1647 1436) rotate(40) scale(1 1)">
<path d="M-10 0 L10 0 Q13 2 13 8 L12 32 Q10 38 4 38 L-6 38 Q-12 36 -12 30 L-13 8 Q-13 2 -10 0Z" fill="#fff" stroke="#000" stroke-width="4.5" stroke-linejoin="round" />
<path d="M-3 14 L3 14 L3 24 L-3 24Z" fill="none" stroke="#222" stroke-width="3" stroke-linecap="round" stroke-linejoin="round" />
</g>
<g transform="translate(1622.6 1465.1) rotate(40) scale(1 1)">
<path d="M-16 0 Q-21 2 -22 12 L-30 147 Q-30 177 0 179 Q30 177 30 147 L22 12 Q21 2 16 0Z" fill="#fff" stroke="#000" stroke-width="5.5" stroke-linejoin="round" />
<path d="M23.5 14 L23.9 20 L24.2 26.1 L24.6 32.1 L25 38.2 L25.3 44.2 L25.7 50.3 L26 56.3 L26.4 62.4 L26.8 68.4 L27.1 74.5 L27.5 80.5 L27.9 86.5 L28.2 92.6 L28.6 98.6 L29 104.7 L29.3 110.7 L29.7 116.8 L30 122.8 L30.4 128.9 L30.8 134.9 L31.1 141 L31.5 147 L27.6 147 L25.5 141 L22.8 134.9 L17.1 128.9 L19.2 122.8 L25.8 116.8 L22.8 110.7 L20.9 104.7 L21.2 98.6 L22.2 92.6 L15.2 86.5 L16.5 80.5 L16.4 74.5 L21.1 68.4 L20.9 62.4 L14.9 56.3 L19.5 50.3 L21.4 44.2 L21.1 38.2 L20.7 32.1 L20.3 26.1 L14.6 20 L17.5 14Z" fill="#000" />
<path d="M-23.5 12 L-24 18.3 L-24.6 24.6 L-25.1 30.8 L-25.6 37.1 L-26.2 43.4 L-26.7 49.7 L-27.2 56 L-27.8 62.2 L-28.3 68.5 L-28.8 74.8 L-29.4 81.1 L-29.9 87.4 L-30.4 93.6 L-31 99.9 L-31.5 106.2 L-27.3 106.2 L-27.3 99.9 L-23 93.6 L-25.5 87.4 L-26.7 81.1 L-22.1 74.8 L-25.6 68.5 L-21.7 62.2 L-19.2 56 L-23.2 49.7 L-22.5 43.4 L-22.9 37.1 L-21.5 30.8 L-19.2 24.6 L-20.2 18.3 L-19.8 12Z" fill="#000" />
<path d="M-27 143 Q-26 174 0 175" fill="none" stroke="#000" stroke-width="5" stroke-linecap="round" stroke-linejoin="round" />
<circle cx="14.4" cy="30.1" r="2.2" fill="#444"/>
<circle cx="-11.8" cy="116.2" r="2.2" fill="#444"/>
<circle cx="3.5" cy="95.4" r="1.8" fill="#444"/>
<circle cx="-6.5" cy="117" r="1.7" fill="#444"/>
<circle cx="5.7" cy="34.2" r="1.4" fill="#444"/>
<circle cx="-13.8" cy="43.2" r="2.2" fill="#444"/>
<circle cx="1.6" cy="91.8" r="1.3" fill="#444"/>
<circle cx="-5.6" cy="74.6" r="1.3" fill="#444"/>
<circle cx="14" cy="10.4" r="1.4" fill="#444"/>
<circle cx="-7.7" cy="54.3" r="2.2" fill="#444"/>
<circle cx="-0.9" cy="21.4" r="1.8" fill="#444"/>
<circle cx="-21.3" cy="132.7" r="1.7" fill="#444"/>
<circle cx="17.4" cy="83" r="2" fill="#444"/>
<circle cx="6.2" cy="79.7" r="1.7" fill="#444"/>
<circle cx="0" cy="14.7" r="2.7" fill="#444"/>
<circle cx="-10" cy="118.5" r="2.3" fill="#444"/>
<circle cx="-10.5" cy="134.8" r="2.1" fill="#444"/>
<circle cx="-8.8" cy="62.3" r="1.7" fill="#444"/>
<circle cx="-4.7" cy="40" r="1.3" fill="#444"/>
<circle cx="-14.5" cy="68.5" r="2.4" fill="#444"/>
<circle cx="-19.2" cy="98.2" r="2.4" fill="#444"/>
<circle cx="-0.6" cy="38" r="2.1" fill="#444"/>
<circle cx="-7.2" cy="58.9" r="1.9" fill="#444"/>
<circle cx="11.1" cy="30.1" r="1.4" fill="#444"/>
<circle cx="-12.1" cy="131.1" r="1.7" fill="#444"/>
<circle cx="-16.3" cy="67.1" r="1.4" fill="#444"/>
<circle cx="-2" cy="63.1" r="2.6" fill="#444"/>
<circle cx="-20.9" cy="155.5" r="2.1" fill="#444"/>
<circle cx="9.2" cy="29" r="1.7" fill="#444"/>
<circle cx="2" cy="141.3" r="1.4" fill="#444"/>
<circle cx="-7.1" cy="10.7" r="2.6" fill="#444"/>
<circle cx="-0.6" cy="32" r="1.8" fill="#444"/>
<circle cx="10.3" cy="60.7" r="1.5" fill="#444"/>
<circle cx="6.8" cy="115.6" r="2.7" fill="#444"/>
<circle cx="15.7" cy="86.4" r="1.9" fill="#444"/>
<circle cx="4.6" cy="94.3" r="2.5" fill="#444"/>
<circle cx="-17" cy="141.9" r="1.4" fill="#444"/>
<circle cx="11.7" cy="88.5" r="2.1" fill="#444"/>
<circle cx="15.4" cy="54" r="1.7" fill="#444"/>
<circle cx="-13.2" cy="22.8" r="1.2" fill="#444"/>
<circle cx="-16.1" cy="116.9" r="2.3" fill="#444"/>
<circle cx="21.8" cy="137.4" r="2.5" fill="#444"/>
<circle cx="4.4" cy="72.4" r="2.5" fill="#444"/>
<circle cx="-8.6" cy="115.3" r="2.4" fill="#444"/>
<circle cx="-5.7" cy="26.1" r="2.8" fill="#444"/>
<circle cx="-8.5" cy="79.3" r="2.5" fill="#444"/>
<circle cx="-17.9" cy="76.2" r="1.2" fill="#444"/>
<circle cx="-5.5" cy="48.1" r="2.7" fill="#444"/>
</g>
<g transform="translate(1880 1368) rotate(42.5) scale(1 1)">
<path d="M-10 0 L10 0 Q13 2 13 8 L12 32 Q10 38 4 38 L-6 38 Q-12 36 -12 30 L-13 8 Q-13 2 -10 0Z" fill="#fff" stroke="#000" stroke-width="4.5" stroke-linejoin="round" />
<path d="M-3 14 L3 14 L3 24 L-3 24Z" fill="none" stroke="#222" stroke-width="3" stroke-linecap="round" stroke-linejoin="round" />
</g>
<g transform="translate(1854.3 1396) rotate(42.5) scale(1 1)">
<path d="M-16 0 Q-21 2 -22 12 L-30 145 Q-30 175 0 177 Q30 175 30 145 L22 12 Q21 2 16 0Z" fill="#fff" stroke="#000" stroke-width="5.5" stroke-linejoin="round" />
<path d="M23.5 14 L23.9 20.2 L24.3 26.5 L24.6 32.7 L25 39 L25.4 45.2 L25.8 51.4 L26.2 57.7 L26.5 63.9 L26.9 70.1 L27.3 76.4 L27.7 82.6 L28.1 88.9 L28.5 95.1 L28.8 101.3 L29.2 107.6 L29.6 113.8 L30 120 L30.4 126.3 L30.7 132.5 L31.1 138.8 L31.5 145 L25.7 145 L19.5 138.8 L26.8 132.5 L22.1 126.3 L26.1 120 L21.1 113.8 L15.9 107.6 L15.7 101.3 L24.6 95.1 L22.5 88.9 L22 82.6 L19.4 76.4 L23 70.1 L20.5 63.9 L14.2 57.7 L21.9 51.4 L18.6 45.2 L18.8 39 L14.8 32.7 L18.2 26.5 L15 20.2 L17.9 14Z" fill="#000" />
<path d="M-23.5 12 L-24 18.2 L-24.6 24.4 L-25.1 30.6 L-25.6 36.8 L-26.2 43 L-26.7 49.2 L-27.2 55.4 L-27.8 61.6 L-28.3 67.8 L-28.8 74 L-29.4 80.2 L-29.9 86.4 L-30.4 92.6 L-31 98.8 L-31.5 105 L-23.5 105 L-27.5 98.8 L-24.5 92.6 L-27.2 86.4 L-22.1 80.2 L-26.1 74 L-25.6 67.8 L-23.1 61.6 L-22.3 55.4 L-22 49.2 L-23.5 43 L-22.9 36.8 L-22.4 30.6 L-21.9 24.4 L-21.3 18.2 L-19.8 12Z" fill="#000" />
<path d="M-27 141 Q-26 172 0 173" fill="none" stroke="#000" stroke-width="5" stroke-linecap="round" stroke-linejoin="round" />
<circle cx="2.4" cy="60.4" r="2.7" fill="#444"/>
<circle cx="-6.5" cy="48.2" r="1.5" fill="#444"/>
<circle cx="-1.2" cy="101.1" r="1.6" fill="#444"/>
<circle cx="-16.3" cy="66.2" r="1.7" fill="#444"/>
<circle cx="3.9" cy="152.5" r="1.7" fill="#444"/>
<circle cx="-6.4" cy="145.7" r="1.6" fill="#444"/>
<circle cx="-10.1" cy="15.1" r="1.5" fill="#444"/>
<circle cx="12" cy="43.4" r="1.6" fill="#444"/>
<circle cx="3.4" cy="46" r="2.7" fill="#444"/>
<circle cx="8.7" cy="52.2" r="1.8" fill="#444"/>
<circle cx="3.7" cy="91.4" r="2.7" fill="#444"/>
<circle cx="0.3" cy="119.8" r="2.5" fill="#444"/>
<circle cx="-4" cy="63.1" r="2.7" fill="#444"/>
<circle cx="10.3" cy="89.2" r="1.7" fill="#444"/>
<circle cx="5" cy="142.7" r="1.6" fill="#444"/>
<circle cx="-1.4" cy="145.4" r="1.7" fill="#444"/>
<circle cx="-13" cy="48.1" r="1.5" fill="#444"/>
<circle cx="-14.5" cy="110.4" r="1.6" fill="#444"/>
<circle cx="1.6" cy="74.9" r="1.8" fill="#444"/>
<circle cx="-10.2" cy="123.8" r="1.8" fill="#444"/>
<circle cx="-13.2" cy="71.6" r="1.6" fill="#444"/>
<circle cx="6.9" cy="31.2" r="1.4" fill="#444"/>
<circle cx="-11.1" cy="106.9" r="2.2" fill="#444"/>
<circle cx="-5.8" cy="105.2" r="2.7" fill="#444"/>
<circle cx="2.3" cy="105.2" r="1.3" fill="#444"/>
<circle cx="-8.3" cy="68.9" r="2" fill="#444"/>
<circle cx="16.3" cy="145.3" r="1.3" fill="#444"/>
<circle cx="17.5" cy="108.6" r="2.1" fill="#444"/>
<circle cx="10.9" cy="24" r="1.9" fill="#444"/>
<circle cx="17.1" cy="152.2" r="2.5" fill="#444"/>
<circle cx="-19.3" cy="145" r="2.5" fill="#444"/>
<circle cx="-12.2" cy="54.3" r="1.8" fill="#444"/>
<circle cx="-19.1" cy="95.4" r="1.9" fill="#444"/>
<circle cx="-0.2" cy="123.7" r="2" fill="#444"/>
<circle cx="15.7" cy="53" r="1.6" fill="#444"/>
<circle cx="5.9" cy="108.8" r="1.2" fill="#444"/>
<circle cx="-12.2" cy="154.5" r="2.8" fill="#444"/>
<circle cx="17.9" cy="144.6" r="2.6" fill="#444"/>
<circle cx="-1.9" cy="67.7" r="1.8" fill="#444"/>
<circle cx="-21.1" cy="145.7" r="1.4" fill="#444"/>
<circle cx="13.9" cy="148.7" r="2.3" fill="#444"/>
<circle cx="1.1" cy="150.3" r="2.5" fill="#444"/>
<circle cx="14.4" cy="74.2" r="1.3" fill="#444"/>
<circle cx="2.8" cy="73.6" r="2.5" fill="#444"/>
<circle cx="6.4" cy="71.3" r="2.7" fill="#444"/>
<circle cx="-10.7" cy="70.7" r="1.2" fill="#444"/>
<circle cx="-1" cy="135" r="1.8" fill="#444"/>
<circle cx="-14.2" cy="85.4" r="1.6" fill="#444"/>
</g>
<g transform="translate(2112 1312) rotate(41) scale(1 1)">
<path d="M-10 0 L10 0 Q13 2 13 8 L12 32 Q10 38 4 38 L-6 38 Q-12 36 -12 30 L-13 8 Q-13 2 -10 0Z" fill="#fff" stroke="#000" stroke-width="4.5" stroke-linejoin="round" />
<path d="M-3 14 L3 14 L3 24 L-3 24Z" fill="none" stroke="#222" stroke-width="3" stroke-linecap="round" stroke-linejoin="round" />
</g>
<g transform="translate(2087.1 1340.7) rotate(41) scale(1 1)">
<path d="M-16 0 Q-21 2 -22 12 L-30 136 Q-30 166 0 168 Q30 166 30 136 L22 12 Q21 2 16 0Z" fill="#fff" stroke="#000" stroke-width="5.5" stroke-linejoin="round" />
<path d="M23.5 14 L23.9 20.1 L24.3 26.2 L24.7 32.3 L25.1 38.4 L25.5 44.5 L25.9 50.6 L26.3 56.7 L26.7 62.8 L27.1 68.9 L27.5 75 L27.9 81.1 L28.3 87.2 L28.7 93.3 L29.1 99.4 L29.5 105.5 L29.9 111.6 L30.3 117.7 L30.7 123.8 L31.1 129.9 L31.5 136 L22.2 136 L25.4 129.9 L26.8 123.8 L22.9 117.7 L18.4 111.6 L20.7 105.5 L21 99.4 L20.6 93.3 L24.4 87.2 L22 81.1 L15.2 75 L23.2 68.9 L15.3 62.8 L22.4 56.7 L16.4 50.6 L19.5 44.5 L13.7 38.4 L13 32.3 L20.4 26.2 L20 20.1 L19.6 14Z" fill="#000" />
<path d="M-23.5 12 L-24.1 18.3 L-24.6 24.5 L-25.2 30.8 L-25.8 37 L-26.4 43.3 L-26.9 49.5 L-27.5 55.8 L-28.1 62.1 L-28.6 68.3 L-29.2 74.6 L-29.8 80.8 L-30.4 87.1 L-30.9 93.3 L-31.5 99.6 L-24.5 99.6 L-26.2 93.3 L-27.7 87.1 L-22.2 80.8 L-26.5 74.6 L-21 68.3 L-21.2 62.1 L-23.7 55.8 L-18.9 49.5 L-23.7 43.3 L-20.7 37 L-20.6 30.8 L-21.9 24.5 L-21.4 18.3 L-19.6 12Z" fill="#000" />
<path d="M-27 132 Q-26 163 0 164" fill="none" stroke="#000" stroke-width="5" stroke-linecap="round" stroke-linejoin="round" />
<circle cx="-8.8" cy="110.8" r="1.3" fill="#444"/>
<circle cx="19.6" cy="131.6" r="1.5" fill="#444"/>
<circle cx="-0.7" cy="78" r="2.8" fill="#444"/>
<circle cx="-12.6" cy="15.9" r="2.5" fill="#444"/>
<circle cx="-1.4" cy="87.5" r="2.4" fill="#444"/>
<circle cx="7.4" cy="90.7" r="1.6" fill="#444"/>
<circle cx="-14.5" cy="21.6" r="1.7" fill="#444"/>
<circle cx="-4.8" cy="98.2" r="1.8" fill="#444"/>
<circle cx="8" cy="94.1" r="2.2" fill="#444"/>
<circle cx="10.8" cy="52.4" r="2.5" fill="#444"/>
<circle cx="17.3" cy="131.5" r="1.2" fill="#444"/>
<circle cx="-6.1" cy="101" r="1.8" fill="#444"/>
<circle cx="-13.3" cy="80.5" r="1.6" fill="#444"/>
<circle cx="-7.7" cy="144.1" r="2.7" fill="#444"/>
<circle cx="-7.5" cy="103.1" r="1.7" fill="#444"/>
<circle cx="7.9" cy="92.3" r="1.7" fill="#444"/>
<circle cx="-9.5" cy="18" r="2.6" fill="#444"/>
<circle cx="-16.1" cy="109.1" r="2.5" fill="#444"/>
<circle cx="-6.3" cy="88.3" r="2.6" fill="#444"/>
<circle cx="-12.2" cy="27.5" r="1.7" fill="#444"/>
<circle cx="2" cy="110.3" r="2" fill="#444"/>
<circle cx="-4.7" cy="133.3" r="2.5" fill="#444"/>
<circle cx="7.9" cy="10.6" r="1.4" fill="#444"/>
<circle cx="13.5" cy="99.2" r="2.2" fill="#444"/>
<circle cx="1.9" cy="88.7" r="2.4" fill="#444"/>
<circle cx="-9.2" cy="60.2" r="2.1" fill="#444"/>
<circle cx="-14.3" cy="80.8" r="2" fill="#444"/>
<circle cx="-12.5" cy="73.5" r="2.3" fill="#444"/>
<circle cx="-6.8" cy="115.9" r="2.6" fill="#444"/>
<circle cx="7.4" cy="144.3" r="1.9" fill="#444"/>
<circle cx="-12.2" cy="47" r="1.6" fill="#444"/>
<circle cx="-20.2" cy="145.8" r="2.7" fill="#444"/>
<circle cx="11.5" cy="104.8" r="1.4" fill="#444"/>
<circle cx="-11.7" cy="97.9" r="2.3" fill="#444"/>
<circle cx="9.4" cy="118" r="2.1" fill="#444"/>
<circle cx="-11.9" cy="130.3" r="1.5" fill="#444"/>
<circle cx="-19.4" cy="127.7" r="1.9" fill="#444"/>
<circle cx="13.4" cy="67.1" r="1.8" fill="#444"/>
<circle cx="0" cy="87.4" r="2" fill="#444"/>
<circle cx="-1.2" cy="74.4" r="2.2" fill="#444"/>
<circle cx="-2.8" cy="68.8" r="2.7" fill="#444"/>
<circle cx="-11.5" cy="142.8" r="2.7" fill="#444"/>
<circle cx="-4.8" cy="13.2" r="2.6" fill="#444"/>
<circle cx="5.2" cy="33" r="2.8" fill="#444"/>
<circle cx="-1.6" cy="93.2" r="1.2" fill="#444"/>
<circle cx="-1.3" cy="71.3" r="2.5" fill="#444"/>
<circle cx="10.7" cy="63.1" r="1.8" fill="#444"/>
<circle cx="10.2" cy="96.4" r="1.5" fill="#444"/>
</g>
<g transform="translate(2336 1250) rotate(44) scale(1 1)">
<path d="M-10 0 L10 0 Q13 2 13 8 L12 32 Q10 38 4 38 L-6 38 Q-12 36 -12 30 L-13 8 Q-13 2 -10 0Z" fill="#fff" stroke="#000" stroke-width="4.5" stroke-linejoin="round" />
<path d="M-3 14 L3 14 L3 24 L-3 24Z" fill="none" stroke="#222" stroke-width="3" stroke-linecap="round" stroke-linejoin="round" />
</g>
<g transform="translate(2309.6 1277.3) rotate(44) scale(1 1)">
<path d="M-16 0 Q-21 2 -22 12 L-30 140 Q-30 170 0 172 Q30 170 30 140 L22 12 Q21 2 16 0Z" fill="#fff" stroke="#000" stroke-width="5.5" stroke-linejoin="round" />
<path d="M23.5 14 L23.9 20 L24.3 26 L24.6 32 L25 38 L25.4 44 L25.8 50 L26.2 56 L26.5 62 L26.9 68 L27.3 74 L27.7 80 L28.1 86 L28.5 92 L28.8 98 L29.2 104 L29.6 110 L30 116 L30.4 122 L30.7 128 L31.1 134 L31.5 140 L26 140 L24.9 134 L26.8 128 L19.9 122 L16.9 116 L25.7 110 L20.4 104 L22.4 98 L22.4 92 L22.2 86 L19 80 L21.8 74 L16.2 68 L20.5 62 L15.7 56 L15.9 50 L21.5 44 L19.5 38 L18.6 32 L17.4 26 L17 20 L17 14Z" fill="#000" />
<path d="M-23.5 12 L-24 18 L-24.6 24 L-25.1 30 L-25.6 36 L-26.2 42 L-26.7 48 L-27.2 54 L-27.8 60 L-28.3 66 L-28.8 72 L-29.4 78 L-29.9 84 L-30.4 90 L-31 96 L-31.5 102 L-28.8 102 L-27.5 96 L-27.7 90 L-27.2 84 L-23.7 78 L-20.8 72 L-24.3 66 L-22.1 60 L-23.1 54 L-22.9 48 L-23.5 42 L-20.3 36 L-18.4 30 L-16.8 24 L-17 18 L-20.8 12Z" fill="#000" />
<path d="M-27 136 Q-26 167 0 168" fill="none" stroke="#000" stroke-width="5" stroke-linecap="round" stroke-linejoin="round" />
<circle cx="17.8" cy="106.2" r="2.4" fill="#444"/>
<circle cx="4.3" cy="31.4" r="1.6" fill="#444"/>
<circle cx="-15.3" cy="34.9" r="2" fill="#444"/>
<circle cx="-17.6" cy="138.7" r="1.4" fill="#444"/>
<circle cx="-16.1" cy="64.4" r="1.9" fill="#444"/>
<circle cx="-1.6" cy="112.2" r="1.3" fill="#444"/>
<circle cx="-8.6" cy="14.2" r="2.3" fill="#444"/>
<circle cx="0.1" cy="139.5" r="1.4" fill="#444"/>
<circle cx="-2.7" cy="40.2" r="1.4" fill="#444"/>
<circle cx="-2" cy="26.2" r="2.5" fill="#444"/>
<circle cx="12.4" cy="43.3" r="2.6" fill="#444"/>
<circle cx="-9.8" cy="70.6" r="1.5" fill="#444"/>
<circle cx="13" cy="103.4" r="2.6" fill="#444"/>
<circle cx="-2.3" cy="39.2" r="1.2" fill="#444"/>
<circle cx="-6.9" cy="52.7" r="1.4" fill="#444"/>
<circle cx="14.5" cy="20.7" r="1.7" fill="#444"/>
<circle cx="1.3" cy="79.9" r="2" fill="#444"/>
<circle cx="0.1" cy="92.5" r="2" fill="#444"/>
<circle cx="3.9" cy="21.1" r="2.3" fill="#444"/>
<circle cx="-7.7" cy="111.4" r="1.9" fill="#444"/>
<circle cx="9.7" cy="122.9" r="1.3" fill="#444"/>
<circle cx="-11.2" cy="56.9" r="2.3" fill="#444"/>
<circle cx="-3.8" cy="66.3" r="1.6" fill="#444"/>
<circle cx="7.9" cy="73.6" r="2.2" fill="#444"/>
<circle cx="-3.4" cy="41" r="2.2" fill="#444"/>
<circle cx="11.7" cy="17.8" r="1.2" fill="#444"/>
<circle cx="-13.8" cy="97.5" r="2.7" fill="#444"/>
<circle cx="-11.2" cy="106.9" r="2" fill="#444"/>
<circle cx="15.3" cy="128.4" r="2.3" fill="#444"/>
<circle cx="9.6" cy="99.4" r="2.7" fill="#444"/>
<circle cx="4.3" cy="81.9" r="2.5" fill="#444"/>
<circle cx="-10.5" cy="81.5" r="2.1" fill="#444"/>
<circle cx="7.3" cy="58.9" r="2.4" fill="#444"/>
<circle cx="-17.3" cy="136.9" r="1.2" fill="#444"/>
<circle cx="10.3" cy="140.4" r="2.8" fill="#444"/>
<circle cx="19.3" cy="123.9" r="1.4" fill="#444"/>
<circle cx="3.5" cy="36" r="2.4" fill="#444"/>
<circle cx="13.5" cy="26.5" r="1.6" fill="#444"/>
<circle cx="-2" cy="38.5" r="1.5" fill="#444"/>
<circle cx="-12.5" cy="22.6" r="1.3" fill="#444"/>
<circle cx="5.5" cy="31.1" r="2.4" fill="#444"/>
<circle cx="-3.5" cy="118.2" r="2.4" fill="#444"/>
<circle cx="11" cy="26.1" r="1.9" fill="#444"/>
<circle cx="-3.5" cy="27.2" r="1.5" fill="#444"/>
<circle cx="-5.2" cy="114" r="1.2" fill="#444"/>
<circle cx="-13.2" cy="37" r="2.7" fill="#444"/>
<circle cx="10" cy="67.6" r="2.1" fill="#444"/>
<circle cx="8.2" cy="67.7" r="2.1" fill="#444"/>
</g>
<path d="M2930 940 L2934.5 939.4 L2939 938.9 L2943.5 938.4 L2948 937.9 L2952.5 937.4 L2957 936.9 L2961.5 936.3 L2965.9 935.6 L2970.4 934.9 L2974.8 934 L2979.3 933.1 L2983.6 931.9 L2987.9 930.5 L2992.2 928.9 L2996.2 926.9 L3000.1 924.6 L3003.9 922.1 L3007.5 919.4 L3011 916.4 L3014.3 913.4 L3017.5 910.2 L3020.7 907 L3023.8 903.7 L3026.9 900.4 L3030 897.1 L3033.1 893.8 L3036.2 890.5 L3039.2 887.1 L3042.1 883.6 L3044.9 880.1 L3047.7 876.5 L3050.4 872.9 L3053.1 869.3 L3055.9 865.7 L3058.7 862.1 L3061.5 858.6 L3064.4 855.1 L3067.4 851.7 L3070.5 848.5 L3073.8 845.3 L3077.1 842.3 L3080.6 839.4 L3084.2 836.7 L3087.9 834 L3091.6 831.4 L3095.4 829 L3099.3 826.7 L3103.2 824.4 L3107.2 822.3 L3111.3 820.3 L3115.4 818.4 L3119.5 816.6 L3123.7 814.9 L3128 813.4 L3132.3 812.1 L3136.7 810.9 L3141.1 809.9 L3145.6 809.1 L3150 808.4 L3154.5 808 L3159.1 807.8 L3163.6 808 L3168.1 808.3 L3172.6 808.8 L3177.1 809.3 L3181.6 810 L3186 810.7 L3190.5 811.4 L3195 812 L3175 870 L3172 872.9 L3169 875.8 L3166.1 878.7 L3163.1 881.5 L3160.1 884.4 L3157.1 887.3 L3154.1 890.1 L3151.1 893 L3148 895.8 L3145 898.5 L3141.8 901.3 L3138.7 903.9 L3135.5 906.5 L3132.2 909.1 L3128.9 911.6 L3125.6 914.1 L3122.3 916.6 L3119 919.1 L3115.6 921.5 L3112.3 924 L3109.1 926.6 L3105.8 929.2 L3102.6 931.8 L3099.5 934.5 L3096.4 937.2 L3093.3 940.1 L3090.3 942.9 L3087.4 945.8 L3084.4 948.7 L3081.5 951.6 L3078.6 954.6 L3075.6 957.5 L3072.7 960.4 L3069.7 963.3 L3066.7 966.1 L3063.6 968.9 L3060.5 971.6 L3057.3 974.3 L3054.1 977 L3051 979.7 L3047.8 982.3 L3044.6 984.9 L3041.4 987.5 L3038 990 L3034.7 992.4 L3031.2 994.7 L3027.7 996.9 L3024.2 999.1 L3020.6 1001.1 L3016.9 1003.1 L3013.3 1005 L3009.5 1006.8 L3005.8 1008.6 L3002 1010.4 L2998.3 1012.1 L2994.5 1013.8 L2990.7 1015.5 L2986.9 1017.1 L2983.1 1018.8 L2979.3 1020.4 L2975.5 1022 L2971.7 1023.7 L2967.9 1025.3 L2964.1 1026.9 L2960.2 1028.5 L2956.4 1030.1 L2952.6 1031.7 L2948.8 1033.3 L2945 1035Z" fill="#fff" />
<path d="M2930 940 L2934.5 939.4 L2939 938.9 L2943.5 938.4 L2948 937.9 L2952.5 937.4 L2957 936.9 L2961.5 936.3 L2965.9 935.6 L2970.4 934.9 L2974.8 934 L2979.3 933.1 L2983.6 931.9 L2987.9 930.5 L2992.2 928.9 L2996.2 926.9 L3000.1 924.6 L3003.9 922.1 L3007.5 919.4 L3011 916.4 L3014.3 913.4 L3017.5 910.2 L3020.7 907 L3023.8 903.7 L3026.9 900.4 L3030 897.1 L3033.1 893.8 L3036.2 890.5 L3039.2 887.1 L3042.1 883.6 L3044.9 880.1 L3047.7 876.5 L3050.4 872.9 L3053.1 869.3 L3055.9 865.7 L3058.7 862.1 L3061.5 858.6 L3064.4 855.1 L3067.4 851.7 L3070.5 848.5 L3073.8 845.3 L3077.1 842.3 L3080.6 839.4 L3084.2 836.7 L3087.9 834 L3091.6 831.4 L3095.4 829 L3099.3 826.7 L3103.2 824.4 L3107.2 822.3 L3111.3 820.3 L3115.4 818.4 L3119.5 816.6 L3123.7 814.9 L3128 813.4 L3132.3 812.1 L3136.7 810.9 L3141.1 809.9 L3145.6 809.1 L3150 808.4 L3154.5 808 L3159.1 807.8 L3163.6 808 L3168.1 808.3 L3172.6 808.8 L3177.1 809.3 L3181.6 810 L3186 810.7 L3190.5 811.4 L3195 812" fill="none" stroke="#000" stroke-width="4.5" stroke-linecap="butt" stroke-linejoin="round" />
<path d="M2933 959 L2937.3 958.2 L2941.7 957.4 L2946.1 956.7 L2950.4 956 L2954.8 955.3 L2959.2 954.5 L2963.5 953.7 L2967.9 952.9 L2972.2 952 L2976.5 951 L2980.8 949.9 L2985.1 948.6 L2989.3 947.2 L2993.4 945.5 L2997.4 943.6 L3001.3 941.4 L3005 939 L3008.6 936.5 L3012.2 933.8 L3015.6 930.9 L3018.9 928 L3022.1 925 L3025.3 921.9 L3028.5 918.8 L3031.6 915.7 L3034.8 912.6 L3037.9 909.4 L3040.9 906.1 L3043.9 902.8 L3046.7 899.5 L3049.6 896.1 L3052.4 892.6 L3055.2 889.2 L3058.1 885.8 L3060.9 882.4 L3063.7 879 L3066.6 875.6 L3069.6 872.3 L3072.7 869.1 L3075.9 866 L3079.2 863 L3082.6 860.1 L3086 857.3 L3089.6 854.6 L3093.2 852 L3096.9 849.6 L3100.6 847.2 L3104.4 844.9 L3108.3 842.7 L3112.2 840.6 L3116.1 838.5 L3120.1 836.6 L3124.1 834.7 L3128.2 833 L3132.3 831.5 L3136.5 830 L3140.6 828.7 L3144.8 827.5 L3149 826.4 L3153.2 825.5 L3157.5 824.9 L3161.7 824.4 L3165.9 824.1 L3170.1 823.9 L3174.3 823.8 L3178.5 823.7 L3182.6 823.7 L3186.8 823.7 L3191 823.6" fill="none" stroke="#000" stroke-width="4" stroke-linecap="butt" stroke-linejoin="round" />
<path d="M2936 978 L2940.2 977 L2944.4 976 L2948.7 975.1 L2952.9 974.1 L2957.1 973.2 L2961.3 972.2 L2965.6 971.2 L2969.8 970.2 L2974 969.1 L2978.2 967.9 L2982.3 966.7 L2986.5 965.3 L2990.6 963.8 L2994.6 962.2 L2998.6 960.3 L3002.4 958.2 L3006.1 956 L3009.8 953.6 L3013.3 951.1 L3016.8 948.5 L3020.2 945.8 L3023.5 943 L3026.8 940.1 L3030 937.2 L3033.2 934.3 L3036.4 931.3 L3039.6 928.3 L3042.6 925.2 L3045.6 922 L3048.6 918.8 L3051.5 915.6 L3054.4 912.4 L3057.3 909.1 L3060.2 905.9 L3063.1 902.6 L3066 899.3 L3068.9 896.1 L3071.9 892.9 L3074.9 889.7 L3078 886.7 L3081.2 883.7 L3084.5 880.8 L3087.9 878 L3091.3 875.3 L3094.8 872.7 L3098.3 870.1 L3101.9 867.7 L3105.6 865.3 L3109.3 863 L3113 860.8 L3116.8 858.6 L3120.6 856.6 L3124.5 854.6 L3128.4 852.7 L3132.3 850.9 L3136.2 849.1 L3140.1 847.5 L3144.1 845.9 L3148 844.5 L3151.9 843.1 L3155.9 841.9 L3159.8 840.8 L3163.7 839.9 L3167.6 839 L3171.5 838.2 L3175.4 837.4 L3179.2 836.7 L3183.1 836 L3187 835.2" fill="none" stroke="#000" stroke-width="4.5" stroke-linecap="butt" stroke-linejoin="round" />
<path d="M2937.8 989.4 L2941.9 988.2 L2946.1 987.2 L2950.2 986.1 L2954.4 985 L2958.5 983.9 L2962.6 982.8 L2966.8 981.7 L2970.9 980.6 L2975 979.4 L2979.1 978.1 L2983.2 976.8 L2987.3 975.3 L2991.4 973.8 L2995.4 972.2 L2999.3 970.3 L3003.1 968.3 L3006.8 966.1 L3010.5 963.9 L3014.1 961.5 L3017.6 959 L3021 956.4 L3024.3 953.7 L3027.7 951 L3030.9 948.2 L3034.2 945.4 L3037.4 942.6 L3040.6 939.6 L3043.7 936.6 L3046.7 933.6 L3049.7 930.5 L3052.7 927.3 L3055.6 924.2 L3058.6 921.1 L3061.5 917.9 L3064.4 914.7 L3067.3 911.5 L3070.2 908.4 L3073.2 905.2 L3076.2 902.1 L3079.3 899.1 L3082.5 896.1 L3085.7 893.2 L3089 890.4 L3092.3 887.7 L3095.7 885 L3099.2 882.5 L3102.7 880 L3106.3 877.6 L3109.9 875.2 L3113.6 872.9 L3117.2 870.7 L3121 868.6 L3124.7 866.5 L3128.5 864.5 L3132.3 862.5 L3136.1 860.6 L3139.8 858.8 L3143.6 857 L3147.4 855.3 L3151.2 853.6 L3154.9 852.1 L3158.7 850.7 L3162.4 849.4 L3166.1 848.1 L3169.8 846.9 L3173.5 845.7 L3177.2 844.5 L3180.9 843.4 L3184.6 842.2" fill="none" stroke="#000" stroke-width="11" stroke-linecap="butt" stroke-linejoin="round" />
<path d="M2941.2 1011.2 L2945.2 1009.9 L2949.2 1008.5 L2953.2 1007.2 L2957.2 1005.9 L2961.2 1004.5 L2965.2 1003.2 L2969.1 1001.8 L2973.1 1000.4 L2977.1 999 L2981.1 997.6 L2985 996.1 L2988.9 994.6 L2992.9 993 L2996.8 991.3 L3000.6 989.5 L3004.4 987.6 L3008.1 985.6 L3011.8 983.6 L3015.4 981.4 L3019 979.2 L3022.5 976.9 L3026 974.4 L3029.4 971.9 L3032.7 969.4 L3036 966.8 L3039.3 964.1 L3042.5 961.3 L3045.7 958.5 L3048.8 955.6 L3051.8 952.7 L3054.9 949.8 L3057.9 946.9 L3061 944 L3064 941 L3066.9 938 L3069.9 934.9 L3072.8 931.9 L3075.8 928.9 L3078.7 925.8 L3081.8 922.9 L3084.8 919.9 L3087.9 917 L3091.1 914.2 L3094.2 911.4 L3097.5 908.7 L3100.8 906.1 L3104.2 903.5 L3107.6 901 L3111.1 898.6 L3114.6 896.2 L3118.1 893.9 L3121.6 891.6 L3125.1 889.3 L3128.7 887.1 L3132.2 884.8 L3135.8 882.6 L3139.3 880.4 L3142.8 878.2 L3146.2 876 L3149.7 873.8 L3153.1 871.7 L3156.5 869.6 L3159.9 867.5 L3163.2 865.5 L3166.6 863.5 L3170 861.5 L3173.3 859.5 L3176.6 857.5 L3180 855.5" fill="none" stroke="#000" stroke-width="4.5" stroke-linecap="butt" stroke-linejoin="round" />
<path d="M2945 1035 L2948.8 1033.3 L2952.6 1031.7 L2956.4 1030.1 L2960.2 1028.5 L2964.1 1026.9 L2967.9 1025.3 L2971.7 1023.7 L2975.5 1022 L2979.3 1020.4 L2983.1 1018.8 L2986.9 1017.1 L2990.7 1015.5 L2994.5 1013.8 L2998.3 1012.1 L3002 1010.4 L3005.8 1008.6 L3009.5 1006.8 L3013.3 1005 L3016.9 1003.1 L3020.6 1001.1 L3024.2 999.1 L3027.7 996.9 L3031.2 994.7 L3034.7 992.4 L3038 990 L3041.4 987.5 L3044.6 984.9 L3047.8 982.3 L3051 979.7 L3054.1 977 L3057.3 974.3 L3060.5 971.6 L3063.6 968.9 L3066.7 966.1 L3069.7 963.3 L3072.7 960.4 L3075.6 957.5 L3078.6 954.6 L3081.5 951.6 L3084.4 948.7 L3087.4 945.8 L3090.3 942.9 L3093.3 940.1 L3096.4 937.2 L3099.5 934.5 L3102.6 931.8 L3105.8 929.2 L3109.1 926.6 L3112.3 924 L3115.6 921.5 L3119 919.1 L3122.3 916.6 L3125.6 914.1 L3128.9 911.6 L3132.2 909.1 L3135.5 906.5 L3138.7 903.9 L3141.8 901.3 L3145 898.5 L3148 895.8 L3151.1 893 L3154.1 890.1 L3157.1 887.3 L3160.1 884.4 L3163.1 881.5 L3166.1 878.7 L3169 875.8 L3172 872.9 L3175 870" fill="none" stroke="#000" stroke-width="5" stroke-linecap="butt" stroke-linejoin="round" />
<path d="M2920.1 946.4 L2922.2 948.3 L2924.3 950.6 L2926.4 953.2 L2928.4 956.1 L2930.4 959.3 L2932.3 962.7 L2934.1 966.4 L2935.8 970.2 L2937.4 974.3 L2938.8 978.4 L2940.1 982.7 L2941.2 987 L2942.2 991.3 L2943 995.6 L2943.6 999.9 L2944.1 1004 L2944.3 1008.1 L2944.4 1012 L2944.2 1015.7 L2943.9 1019.2 L2943.4 1022.4 L2942.7 1025.4 L2941.8 1028.1 L2940.7 1030.4" fill="none" stroke="#000" stroke-width="7" stroke-linecap="round" stroke-linejoin="round" />
<path d="M2918.2 935.1 L2921.1 933.8 L2924.3 933.6 L2927.6 934.4 L2931.2 936.2 L2934.8 939.1 L2938.4 942.9 L2941.9 947.6 L2945.3 953.1 L2948.5 959.2 L2951.5 965.9 L2954 973 L2956.3 980.3 L2958 987.8 L2959.3 995.2 L2960.1 1002.4 L2960.4 1009.4 L2960.2 1015.8 L2959.5 1021.6 L2958.3 1026.7 L2956.6 1031 L2954.4 1034.4 L2951.9 1036.8 L2949 1038.1 L2945.9 1038.4 L2935.3 1041.3 L2938.4 1041 L2941.3 1039.6 L2943.8 1037.2 L2945.9 1033.9 L2947.6 1029.6 L2948.9 1024.5 L2949.6 1018.6 L2949.8 1012.2 L2949.5 1005.3 L2948.7 998.1 L2947.4 990.6 L2945.6 983.2 L2943.4 975.8 L2940.8 968.7 L2937.9 962 L2934.7 955.9 L2931.3 950.4 L2927.8 945.7 L2924.2 941.9 L2920.5 939.1 L2917 937.2 L2913.6 936.4 L2910.5 936.7 L2907.6 938Z" fill="#fff" stroke="#000" stroke-width="4.5" stroke-linejoin="round" />
<path d="M3212 812C3220.3 811 3243.7 803.7 3262 806C3280.3 808.3 3303 813 3322 826C3341 839 3360 861.3 3376 884C3392 906.7 3407 937.2 3418 962C3429 986.8 3435.7 1008.3 3442 1033C3448.3 1057.7 3452.7 1083.8 3456 1110C3459.3 1136.2 3461 1176.7 3462 1190" fill="none" stroke="#000" stroke-width="22" stroke-linecap="butt" stroke-linejoin="round" />
<path d="M3212 812C3220.3 811 3243.7 803.7 3262 806C3280.3 808.3 3303 813 3322 826C3341 839 3360 861.3 3376 884C3392 906.7 3407 937.2 3418 962C3429 986.8 3435.7 1008.3 3442 1033C3448.3 1057.7 3452.7 1083.8 3456 1110C3459.3 1136.2 3461 1176.7 3462 1190" fill="none" stroke="#fff" stroke-width="13" stroke-linecap="butt" stroke-linejoin="round" />
<path d="M3388 920C3397.3 931.7 3430.3 966.5 3444 990C3457.7 1013.5 3464 1037.7 3470 1061C3476 1084.3 3478.3 1118.5 3480 1130" fill="none" stroke="#000" stroke-width="14" stroke-linecap="butt" stroke-linejoin="round" />
<path d="M3388 920C3397.3 931.7 3430.3 966.5 3444 990C3457.7 1013.5 3464 1037.7 3470 1061C3476 1084.3 3478.3 1118.5 3480 1130" fill="none" stroke="#fff" stroke-width="5" stroke-linecap="butt" stroke-linejoin="round" />
<path d="M3208 832C3215.3 831.7 3235.8 828.5 3252 830C3268.2 831.5 3287 830.8 3305 841C3323 851.2 3344.8 868.5 3360 891C3375.2 913.5 3387.2 947.7 3396 976C3404.8 1004.3 3409 1041.2 3413 1061C3417 1080.8 3418.8 1089.3 3420 1095" fill="none" stroke="#000" stroke-width="23" stroke-linecap="butt" stroke-linejoin="round" />
<path d="M3208 832C3215.3 831.7 3235.8 828.5 3252 830C3268.2 831.5 3287 830.8 3305 841C3323 851.2 3344.8 868.5 3360 891C3375.2 913.5 3387.2 947.7 3396 976C3404.8 1004.3 3409 1041.2 3413 1061C3417 1080.8 3418.8 1089.3 3420 1095" fill="none" stroke="#fff" stroke-width="14" stroke-linecap="butt" stroke-linejoin="round" />
<path d="M3204 846C3213.7 846.3 3244 844 3262 848C3280 852 3296.7 858 3312 870C3327.3 882 3342.8 897.7 3354 920C3365.2 942.3 3373.2 979.3 3379 1004C3384.8 1028.7 3387.3 1057.3 3389 1068" fill="none" stroke="#000" stroke-width="22" stroke-linecap="butt" stroke-linejoin="round" />
<path d="M3204 846C3213.7 846.3 3244 844 3262 848C3280 852 3296.7 858 3312 870C3327.3 882 3342.8 897.7 3354 920C3365.2 942.3 3373.2 979.3 3379 1004C3384.8 1028.7 3387.3 1057.3 3389 1068" fill="none" stroke="#fff" stroke-width="13" stroke-linecap="butt" stroke-linejoin="round" />
<path d="M3299.8 871.9 L3315.8 859.9" fill="none" stroke="#000" stroke-width="4" stroke-linecap="round" stroke-linejoin="round" />
<path d="M3311.8 881.5 L3327.8 869.5" fill="none" stroke="#000" stroke-width="4" stroke-linecap="round" stroke-linejoin="round" />
<path d="M3323 892.2 L3339 880.2" fill="none" stroke="#000" stroke-width="4" stroke-linecap="round" stroke-linejoin="round" />
<path d="M3332.9 904 L3348.9 892" fill="none" stroke="#000" stroke-width="4" stroke-linecap="round" stroke-linejoin="round" />
<path d="M3341.5 916.8 L3357.5 904.8" fill="none" stroke="#000" stroke-width="4" stroke-linecap="round" stroke-linejoin="round" />
<path d="M3348.5 930.5 L3364.5 918.5" fill="none" stroke="#000" stroke-width="4" stroke-linecap="round" stroke-linejoin="round" />
<path d="M3354 944.9 L3370 932.9" fill="none" stroke="#000" stroke-width="4" stroke-linecap="round" stroke-linejoin="round" />
<path d="M3358.7 959.6 L3374.7 947.6" fill="none" stroke="#000" stroke-width="4" stroke-linecap="round" stroke-linejoin="round" />
<path d="M3362.7 974.5 L3378.7 962.5" fill="none" stroke="#000" stroke-width="4" stroke-linecap="round" stroke-linejoin="round" />
<path d="M3366.4 989.5 L3382.4 977.5" fill="none" stroke="#000" stroke-width="4" stroke-linecap="round" stroke-linejoin="round" />
<path d="M3369.9 1004.5 L3385.9 992.5" fill="none" stroke="#000" stroke-width="4" stroke-linecap="round" stroke-linejoin="round" />
<path d="M3373.2 1019.6 L3389.2 1007.6" fill="none" stroke="#000" stroke-width="4" stroke-linecap="round" stroke-linejoin="round" />
<path d="M3200 858C3209.2 858.5 3238.3 857.3 3255 861C3271.7 864.7 3287.3 870.2 3300 880C3312.7 889.8 3321.5 899.3 3331 920C3340.5 940.7 3350.8 979 3357 1004C3363.2 1029 3366.2 1059 3368 1070" fill="none" stroke="#000" stroke-width="22" stroke-linecap="butt" stroke-linejoin="round" />
<path d="M3200 858C3209.2 858.5 3238.3 857.3 3255 861C3271.7 864.7 3287.3 870.2 3300 880C3312.7 889.8 3321.5 899.3 3331 920C3340.5 940.7 3350.8 979 3357 1004C3363.2 1029 3366.2 1059 3368 1070" fill="none" stroke="#fff" stroke-width="13" stroke-linecap="butt" stroke-linejoin="round" />
<path d="M3196 868C3205 869.2 3235.2 870.5 3250 875C3264.8 879.5 3275.3 886.7 3285 895C3294.7 903.3 3300.3 909.2 3308 925C3315.7 940.8 3325.2 965.5 3331 990C3336.8 1014.5 3341 1058.3 3343 1072" fill="none" stroke="#000" stroke-width="22" stroke-linecap="butt" stroke-linejoin="round" />
<path d="M3196 868C3205 869.2 3235.2 870.5 3250 875C3264.8 879.5 3275.3 886.7 3285 895C3294.7 903.3 3300.3 909.2 3308 925C3315.7 940.8 3325.2 965.5 3331 990C3336.8 1014.5 3341 1058.3 3343 1072" fill="none" stroke="#fff" stroke-width="13" stroke-linecap="butt" stroke-linejoin="round" />
<path d="M3190 880C3195.8 881 3213 882.7 3225 886C3237 889.3 3251 889.7 3262 900C3273 910.3 3283.3 930.7 3291 948C3298.7 965.3 3303.5 982.3 3308 1004C3312.5 1025.7 3316.3 1065.7 3318 1078" fill="none" stroke="#000" stroke-width="22" stroke-linecap="butt" stroke-linejoin="round" />
<path d="M3190 880C3195.8 881 3213 882.7 3225 886C3237 889.3 3251 889.7 3262 900C3273 910.3 3283.3 930.7 3291 948C3298.7 965.3 3303.5 982.3 3308 1004C3312.5 1025.7 3316.3 1065.7 3318 1078" fill="none" stroke="#fff" stroke-width="13" stroke-linecap="butt" stroke-linejoin="round" />
<path d="M3262 797C3263.7 794.5 3287.8 794.2 3300 798C3312.2 801.8 3326.3 811 3335 820C3343.7 829 3354.5 851 3352 852C3349.5 853 3330.3 832.5 3320 826C3309.7 819.5 3299.7 817.8 3290 813C3280.3 808.2 3260.3 799.5 3262 797Z" fill="#000" />
<path d="M3262 878C3263.7 877 3280.7 877.8 3290 884C3299.3 890.2 3316.3 911.5 3318 915C3319.7 918.5 3306.3 909.2 3300 905C3293.7 900.8 3286.3 894.5 3280 890C3273.7 885.5 3260.3 879 3262 878Z" fill="#000" />
<path d="M3210.7 1019 L3205.4 1017.8 L3200.2 1016.2 L3195.2 1014.2 L3190.3 1011.8 L3185.7 1008.9 L3181.3 1005.7 L3177.2 1002.1 L3173.4 998.2 L3170 994 L3166.9 989.5 L3164.2 984.8 L3161.9 979.9 L3160.1 974.8 L3158.6 969.5 L3157.7 964.2 L3157.1 958.8 L3157 953.3 L3157.4 947.9 L3158.2 942.6 L3159.5 937.3 L3161.2 932.1 L3163.3 927.1 L3165.8 922.3 L3168.8 917.7" fill="none" stroke="#000" stroke-width="5" stroke-linecap="round" stroke-linejoin="round" />
<path d="M3219.3 1008.8 L3214.6 1008.2 L3210 1007.2 L3205.5 1005.7 L3201.2 1003.9 L3197 1001.8 L3193 999.2 L3189.3 996.4 L3185.8 993.2 L3182.6 989.7 L3179.8 986 L3177.2 982 L3175.1 977.8 L3173.3 973.5 L3171.8 969 L3170.8 964.4 L3170.2 959.7 L3170 955 L3170.2 950.3 L3170.8 945.6 L3171.8 941 L3173.3 936.5 L3175.1 932.2 L3177.2 928 L3179.8 924" fill="none" stroke="#000" stroke-width="4.5" stroke-linecap="round" stroke-linejoin="round" />
<path d="M3177.4 993.2 L3175.4 990.7 L3173.5 988.1 L3171.8 985.3 L3170.2 982.5 L3168.8 979.6 L3167.5 976.6 L3166.5 973.5 L3165.5 970.4 L3164.8 967.2 L3164.2 964.1 L3163.8 960.8 L3163.6 957.6 L3163.5 954.4 L3163.6 951.1 L3163.9 947.9 L3164.4 944.7 L3165.1 941.5 L3165.9 938.4 L3166.9 935.3 L3168 932.2 L3169.4 929.3 L3170.8 926.4 L3172.5 923.6 L3174.3 920.9" fill="none" stroke="#555" stroke-width="9" stroke-linecap="butt" stroke-linejoin="round" stroke-dasharray="2.5 2.5"/>
<path d="M3283.1 977.2 L3281.7 980.7 L3280.1 984.2 L3278.3 987.5 L3276.3 990.7 L3274.1 993.8 L3271.8 996.8 L3269.3 999.6 L3266.6 1002.3 L3263.8 1004.8 L3260.8 1007.1 L3257.7 1009.3 L3254.5 1011.3 L3251.2 1013.1 L3247.7 1014.7 L3244.2 1016.1 L3240.6 1017.3 L3237 1018.2 L3233.3 1019 L3229.5 1019.6 L3225.8 1019.9 L3222 1020 L3218.2 1019.9 L3214.5 1019.6 L3210.7 1019" fill="none" stroke="#000" stroke-width="5" stroke-linecap="round" stroke-linejoin="round" />
<path d="M3270.8 982 L3269.4 984.2 L3268 986.3 L3266.5 988.3 L3264.9 990.3 L3263.1 992.2 L3261.3 994 L3259.5 995.7 L3257.5 997.4 L3255.5 998.9 L3253.3 1000.3 L3251.2 1001.7 L3248.9 1002.9 L3246.6 1004 L3244.3 1005 L3241.9 1005.9 L3239.5 1006.7 L3237 1007.4 L3234.5 1008 L3232 1008.4 L3229.5 1008.7 L3226.9 1008.9 L3224.4 1009 L3221.8 1009 L3219.3 1008.8" fill="none" stroke="#000" stroke-width="4.5" stroke-linecap="round" stroke-linejoin="round" />
<path d="M3244.2 1018.1 L3241.8 1018.9 L3239.3 1019.7 L3236.8 1020.3 L3234.2 1020.8 L3231.7 1021.3 L3229.1 1021.6 L3226.5 1021.8 L3223.9 1022 L3221.3 1022 L3218.7 1021.9 L3216.1 1021.7 L3213.5 1021.4 L3210.9 1021.1 L3208.4 1020.6 L3205.9 1020 L3203.4 1019.3 L3200.9 1018.5 L3198.4 1017.6 L3196 1016.6 L3193.7 1015.5 L3191.4 1014.3 L3189.1 1013.1 L3186.9 1011.7 L3184.7 1010.2 L3193 996.9 L3194.8 998.1 L3196.7 999.3 L3198.5 1000.4 L3200.5 1001.4 L3202.4 1002.3 L3204.4 1003.2 L3206.5 1004 L3208.5 1004.6 L3210.6 1005.2 L3212.7 1005.8 L3214.8 1006.2 L3217 1006.5 L3219.1 1006.8 L3221.3 1006.9 L3223.4 1007 L3225.6 1007 L3227.7 1006.9 L3229.9 1006.7 L3232 1006.4 L3234.1 1006 L3236.3 1005.5 L3238.4 1005 L3240.4 1004.3 L3242.5 1003.6Z" fill="#000" />
<path d="M3215 797 L3258 815 L3200 890 L3152 880Z" fill="#fff" stroke="#000" stroke-width="5" stroke-linejoin="round" />
<path d="M3228 803 L3168 884" fill="none" stroke="#000" stroke-width="3.5" stroke-linecap="round" stroke-linejoin="round" />
<path d="M3243 809 L3184 888" fill="none" stroke="#000" stroke-width="3.5" stroke-linecap="round" stroke-linejoin="round" />
<path d="M3215 797 L3258 815 L3240 838 L3198 820Z" fill="#fff" stroke="#000" stroke-width="4.5" stroke-linejoin="round" />
<path d="M3226 802 L3210 826 M3238 807 L3222 831 M3250 812 L3232 835" fill="none" stroke="#000" stroke-width="3" stroke-linecap="round" stroke-linejoin="round" />
<path d="M3192 850 L3200 853 L3180 880 L3172 877Z" fill="#555" />
<path d="M2913 792 L2911.7 790.9 L2910.4 789.8 L2909.3 788.7 L2908.3 787.5 L2907.5 786.4 L2906.7 785.2 L2906.1 784 L2905.6 782.8 L2905.3 781.5 L2905.1 780.3 L2905 779.1 L2905.1 777.9 L2905.2 776.6 L2905.6 775.4 L2906 774.2 L2906.6 773 L2907.3 771.8 L2908.2 770.6 L2909.2 769.5 L2910.3 768.4 L2911.5 767.2 L2912.8 766.2 L2914.3 765.1 L2915.9 764.1 L2930 768.4 L2928.7 769.2 L2927.5 770.1 L2926.4 771.1 L2925.4 772 L2924.5 773 L2923.7 773.9 L2922.9 774.9 L2922.3 775.9 L2921.9 776.9 L2921.5 778 L2921.2 779 L2921 780 L2921 781.1 L2921.1 782.1 L2921.2 783.2 L2921.5 784.2 L2921.9 785.2 L2922.4 786.2 L2923 787.2 L2923.8 788.2 L2924.6 789.2 L2925.5 790.2 L2926.6 791.1 L2927.7 792Z" fill="#000" stroke="#000" stroke-width="5" stroke-linejoin="round" />
<path d="M3014.1 764.1 L3015.7 765.1 L3017.2 766.2 L3018.5 767.2 L3019.7 768.4 L3020.8 769.5 L3021.8 770.6 L3022.7 771.8 L3023.4 773 L3024 774.2 L3024.4 775.4 L3024.8 776.6 L3024.9 777.9 L3025 779.1 L3024.9 780.3 L3024.7 781.5 L3024.4 782.8 L3023.9 784 L3023.3 785.2 L3022.5 786.4 L3021.7 787.5 L3020.7 788.7 L3019.6 789.8 L3018.3 790.9 L3017 792 L3002.3 792 L3003.4 791.1 L3004.5 790.2 L3005.4 789.2 L3006.2 788.2 L3007 787.2 L3007.6 786.2 L3008.1 785.2 L3008.5 784.2 L3008.8 783.2 L3008.9 782.1 L3009 781.1 L3009 780 L3008.8 779 L3008.5 778 L3008.1 776.9 L3007.7 775.9 L3007.1 774.9 L3006.3 773.9 L3005.5 773 L3004.6 772 L3003.6 771.1 L3002.5 770.1 L3001.3 769.2 L3000 768.4Z" fill="#000" stroke="#000" stroke-width="5" stroke-linejoin="round" />
<path d="M3025 781 L3024.5 784.4 L3023 787.7 L3020.4 790.9 L3017 794 L3012.6 796.8 L3007.4 799.4 L3001.5 801.6 L2995 803.5 L2988 805 L2980.5 806.1 L2972.8 806.8 L2965 807 L2957.2 806.8 L2949.5 806.1 L2942 805 L2935 803.5 L2928.5 801.6 L2922.6 799.4 L2917.4 796.8 L2913 794 L2909.6 790.9 L2907 787.7 L2905.5 784.4 L2905 781" fill="none" stroke="#000" stroke-width="9" stroke-linecap="round" stroke-linejoin="round" />
<path d="M3024.8 783.3 L3023.7 786.4 L3021.7 789.5 L3018.8 792.5 L3015.1 795.3 L3010.7 797.9 L3005.5 800.2 L2999.8 802.2 L2993.5 803.9 L2986.7 805.2 L2979.7 806.2 L2972.4 806.8 L2965 807 L2957.6 806.8 L2950.3 806.2 L2943.3 805.2 L2936.5 803.9 L2930.2 802.2 L2924.5 800.2 L2919.3 797.9 L2914.9 795.3 L2911.2 792.5 L2908.3 789.5 L2906.3 786.4 L2905.2 783.3" fill="none" stroke="#ddd" stroke-width="3" stroke-linecap="round" stroke-linejoin="round" />
<path d="M3491 790C3487.2 799.8 3473.2 827.3 3468 849C3462.8 870.7 3460.3 896.5 3460 920C3459.7 943.5 3463 966.5 3466 990C3469 1013.5 3474.3 1035 3478 1061C3481.7 1087 3486.7 1120.3 3488 1146C3489.3 1171.7 3486.3 1203.5 3486 1215" fill="none" stroke="#000" stroke-width="24" stroke-linecap="butt" stroke-linejoin="round" />
<path d="M3491 790C3487.2 799.8 3473.2 827.3 3468 849C3462.8 870.7 3460.3 896.5 3460 920C3459.7 943.5 3463 966.5 3466 990C3469 1013.5 3474.3 1035 3478 1061C3481.7 1087 3486.7 1120.3 3488 1146C3489.3 1171.7 3486.3 1203.5 3486 1215" fill="none" stroke="#fff" stroke-width="15" stroke-linecap="butt" stroke-linejoin="round" />
<path d="M3478 796 L3492 780 L3502 784 L3498 800Z" fill="#222" stroke="#000" stroke-width="4" stroke-linejoin="round" />
<g transform="translate(3050 1050) scale(0.28297)">
<path d="M1300 170C1320 120 1383.3 173.3 1420 200C1456.7 226.7 1491.7 280 1520 330C1548.3 380 1576.7 428.3 1590 500C1603.3 571.7 1603.3 693.3 1600 760C1596.7 826.7 1590 858.3 1570 900C1550 941.7 1511.7 981.7 1480 1010C1448.3 1038.3 1410 1071.7 1380 1070C1350 1068.3 1313.3 1095 1300 1000C1286.7 905 1300 638.3 1300 500C1300 361.7 1280 220 1300 170Z" fill="#fff" stroke="#000" stroke-width="17" stroke-linejoin="round" />
<path d="M840 1290 L1000 1215 L1300 1125 L1460 1060 L1470 980 L1000 1100 L860 1180Z" fill="#fff" stroke="#000" stroke-width="17" stroke-linejoin="round" />
<path d="M1000 1190 L1290 1100" fill="none" stroke="#000" stroke-width="10" stroke-linecap="round" stroke-linejoin="round" />
<path d="M600 350 L1040 245" fill="none" stroke="#000" stroke-width="95" stroke-linecap="round" stroke-linejoin="round" />
<path d="M600 350 L1040 245" fill="none" stroke="#fff" stroke-width="61" stroke-linecap="round" stroke-linejoin="round" />
<path d="M690 470 L1210 330" fill="none" stroke="#000" stroke-width="125" stroke-linecap="round" stroke-linejoin="round" />
<path d="M690 470 L1210 330" fill="none" stroke="#fff" stroke-width="91" stroke-linecap="round" stroke-linejoin="round" />
<path d="M820 640 L1400 490" fill="none" stroke="#000" stroke-width="150" stroke-linecap="round" stroke-linejoin="round" />
<path d="M820 640 L1400 490" fill="none" stroke="#fff" stroke-width="116" stroke-linecap="round" stroke-linejoin="round" />
<path d="M900 800 L1430 665" fill="none" stroke="#000" stroke-width="150" stroke-linecap="round" stroke-linejoin="round" />
<path d="M900 800 L1430 665" fill="none" stroke="#fff" stroke-width="116" stroke-linecap="round" stroke-linejoin="round" />
<path d="M950 940 L1440 820" fill="none" stroke="#000" stroke-width="120" stroke-linecap="round" stroke-linejoin="round" />
<path d="M950 940 L1440 820" fill="none" stroke="#fff" stroke-width="86" stroke-linecap="round" stroke-linejoin="round" />
<path d="M980 1065 L1420 955" fill="none" stroke="#000" stroke-width="110" stroke-linecap="round" stroke-linejoin="round" />
<path d="M980 1065 L1420 955" fill="none" stroke="#fff" stroke-width="76" stroke-linecap="round" stroke-linejoin="round" />
<ellipse cx="1040" cy="245.0" rx="16" ry="37.5" fill="none" stroke="#000" stroke-width="10" transform="rotate(-14 1040 245.0)"/>
<ellipse cx="1002" cy="254.5" rx="16" ry="37.5" fill="none" stroke="#000" stroke-width="10" transform="rotate(-14 1002 254.5)"/>
<ellipse cx="1210" cy="330.0" rx="16" ry="52.5" fill="none" stroke="#000" stroke-width="10" transform="rotate(-14 1210 330.0)"/>
<ellipse cx="1172" cy="339.5" rx="16" ry="52.5" fill="none" stroke="#000" stroke-width="10" transform="rotate(-14 1172 339.5)"/>
<ellipse cx="1400" cy="490.0" rx="16" ry="65" fill="none" stroke="#000" stroke-width="10" transform="rotate(-14 1400 490.0)"/>
<ellipse cx="1362" cy="499.5" rx="16" ry="65" fill="none" stroke="#000" stroke-width="10" transform="rotate(-14 1362 499.5)"/>
<ellipse cx="1430" cy="665.0" rx="16" ry="65" fill="none" stroke="#000" stroke-width="10" transform="rotate(-14 1430 665.0)"/>
<ellipse cx="1392" cy="674.5" rx="16" ry="65" fill="none" stroke="#000" stroke-width="10" transform="rotate(-14 1392 674.5)"/>
<ellipse cx="1440" cy="820.0" rx="16" ry="50" fill="none" stroke="#000" stroke-width="10" transform="rotate(-14 1440 820.0)"/>
<ellipse cx="1402" cy="829.5" rx="16" ry="50" fill="none" stroke="#000" stroke-width="10" transform="rotate(-14 1402 829.5)"/>
<ellipse cx="1420" cy="955.0" rx="16" ry="45" fill="none" stroke="#000" stroke-width="10" transform="rotate(-14 1420 955.0)"/>
<ellipse cx="1382" cy="964.5" rx="16" ry="45" fill="none" stroke="#000" stroke-width="10" transform="rotate(-14 1382 964.5)"/>
<path d="M640 400 L770 372 L820 440 L700 455Z" fill="#000" />
<path d="M740 530 L900 488 L980 560 L850 625 L790 585Z" fill="#000" />
<path d="M860 715 L1010 685 L1110 760 L1000 805 L930 835 L890 785Z" fill="#000" />
<path d="M930 880 L1005 858 L1045 900 L960 925Z" fill="#000" />
<path d="M965 1010 L1015 998 L1025 1045 L985 1055Z" fill="#000" />
<path d="M850 345 L1080 292 Q1150 295 1165 335" fill="none" stroke="#000" stroke-width="10" stroke-linecap="round" stroke-linejoin="round" />
<path d="M760 420 L1000 365" fill="none" stroke="#000" stroke-width="10" stroke-linecap="round" stroke-linejoin="round" />
<path d="M905 668 L1180 602 Q1250 610 1245 650 Q1230 700 1130 735 L975 778" fill="none" stroke="#000" stroke-width="10" stroke-linecap="round" stroke-linejoin="round" />
<path d="M810 545 L1060 485 Q1140 490 1150 520" fill="none" stroke="#000" stroke-width="10" stroke-linecap="round" stroke-linejoin="round" />
<ellipse cx="1150" cy="975" rx="22" ry="34" fill="#fff" stroke="#000" stroke-width="14"/>
<ellipse cx="1250" cy="945" rx="30" ry="36" fill="#333" stroke="#000" stroke-width="14"/>
<path d="M1100 960 L1290 915" fill="none" stroke="#000" stroke-width="12" stroke-linecap="round" stroke-linejoin="round" />
<path d="M1480 520C1495 483.3 1541.7 498.3 1560 500C1578.3 501.7 1585.8 506.7 1590 530C1594.2 553.3 1593.3 611.7 1585 640C1576.7 668.3 1559.2 686.7 1540 700C1520.8 713.3 1480 750 1470 720C1460 690 1465 556.7 1480 520Z" fill="#fff" stroke="#000" stroke-width="17" stroke-linejoin="round" />
<path d="M1545 690C1565 673.3 1581.7 633.3 1590 650C1598.3 666.7 1600 751.7 1595 790C1590 828.3 1572.5 868.3 1560 880C1547.5 891.7 1533.3 873.3 1520 860C1506.7 846.7 1488.3 818.3 1480 800C1471.7 781.7 1459.2 768.3 1470 750C1480.8 731.7 1525 706.7 1545 690Z" fill="#000" />
<path d="M1440 800C1445 783.3 1483.3 781.7 1500 790C1516.7 798.3 1535 831.7 1540 850C1545 868.3 1541.7 893.3 1530 900C1518.3 906.7 1485 906.7 1470 890C1455 873.3 1435 816.7 1440 800Z" fill="#fff" stroke="#000" stroke-width="14" stroke-linejoin="round" />
<path d="M1500 900C1510 888.3 1553.3 881.7 1560 890C1566.7 898.3 1550 938.3 1540 950C1530 961.7 1506.7 968.3 1500 960C1493.3 951.7 1490 911.7 1500 900Z" fill="#000" />
<path d="M1470 545 Q1530 560 1585 540" fill="none" stroke="#000" stroke-width="12" stroke-linecap="round" stroke-linejoin="round" />
<path d="M915 50 L1005 40 L1015 120 L985 140 L990 210 L940 215 L935 145 L910 130Z" fill="#fff" stroke="#000" stroke-width="15" stroke-linejoin="round" />
<path d="M912 90 L1010 80" fill="none" stroke="#000" stroke-width="13" stroke-linecap="round" stroke-linejoin="round" />
<path d="M1085 90 L1175 80 L1185 160 L1155 180 L1160 250 L1110 255 L1105 185 L1080 170Z" fill="#fff" stroke="#000" stroke-width="15" stroke-linejoin="round" />
<path d="M1082 130 L1180 120" fill="none" stroke="#000" stroke-width="13" stroke-linecap="round" stroke-linejoin="round" />
<path d="M1285 150 L1375 140 L1385 220 L1355 240 L1360 310 L1310 315 L1305 245 L1280 230Z" fill="#fff" stroke="#000" stroke-width="15" stroke-linejoin="round" />
<path d="M1282 190 L1380 180" fill="none" stroke="#000" stroke-width="13" stroke-linecap="round" stroke-linejoin="round" />
<path d="M1040 150 L1100 120 L1110 250 L1060 240Z" fill="#000" />
<path d="M1200 180 L1260 150 L1300 300 L1240 330 L1215 260Z" fill="#000" />
<path d="M1380 260 L1440 240 L1470 400 L1440 470 L1400 380Z" fill="#000" />
<path d="M1440 440 L1480 430 L1490 520 L1450 520Z" fill="#000" />
<path d="M880 120 L920 110 L930 200 L890 200Z" fill="#000" />
<ellipse cx="655" cy="245" rx="26" ry="34" fill="#fff" stroke="#000" stroke-width="16" transform="rotate(-25 655 245)"/>
<ellipse cx="725" cy="218" rx="26" ry="34" fill="#fff" stroke="#000" stroke-width="16" transform="rotate(-25 725 218)"/>
<ellipse cx="795" cy="188" rx="26" ry="34" fill="#fff" stroke="#000" stroke-width="16" transform="rotate(-25 795 188)"/>
<path d="M630 290 L900 215" fill="none" stroke="#000" stroke-width="14" stroke-linecap="round" stroke-linejoin="round" />
<path d="M850 230 L1000 200" fill="none" stroke="#000" stroke-width="22" stroke-linecap="round" stroke-linejoin="round" />
<path d="M320 290C280.8 305 276.7 345 255 380C233.3 415 209.2 455 190 500C170.8 545 150.3 600 140 650C129.7 700 126.3 750 128 800C129.7 850 138 895 150 950C162 1005 185 1076.7 200 1130C215 1183.3 218.3 1237.5 240 1270C261.7 1302.5 295 1309.7 330 1325C365 1340.3 405 1352.5 450 1362C495 1371.5 553.3 1384.8 600 1382C646.7 1379.2 695 1361.2 730 1345C765 1328.8 781.7 1312.5 810 1285C838.3 1257.5 876.7 1210.8 900 1180C923.3 1149.2 937.5 1130 950 1100C962.5 1070 975.8 1036.7 975 1000C974.2 963.3 957.5 921.7 945 880C932.5 838.3 915.8 793.3 900 750C884.2 706.7 870 661.7 850 620C830 578.3 805 536.7 780 500C755 463.3 730 428.3 700 400C670 371.7 635 348.3 600 330C565 311.7 536.7 296.7 490 290C443.3 283.3 359.2 275 320 290Z" fill="#fff" stroke="#000" stroke-width="20" stroke-linejoin="round" />
<path d="M320 290 L480 250 L580 225 L640 285 L560 320 L490 290Z" fill="#fff" stroke="#000" stroke-width="17" stroke-linejoin="round" />
<path d="M480 335C510 352.5 608.3 389.2 660 440C711.7 490.8 755 566.7 790 640C825 713.3 850.8 810 870 880C889.2 950 903.3 1013.3 905 1060C906.7 1106.7 884.2 1143.3 880 1160" fill="none" stroke="#000" stroke-width="13" stroke-linecap="round" stroke-linejoin="round" />
<path d="M330 420C300 438.3 271.7 481.7 250 520C228.3 558.3 212.5 603.3 200 650C187.5 696.7 176.7 750 175 800C173.3 850 180.8 900 190 950C199.2 1000 213.3 1050 230 1100C246.7 1150 261.7 1215 290 1250C318.3 1285 355 1295 400 1310C445 1325 510 1341.7 560 1340C610 1338.3 661.7 1323.3 700 1300C738.3 1276.7 765 1241.7 790 1200C815 1158.3 841.7 1100 850 1050C858.3 1000 851.7 958.3 840 900C828.3 841.7 805 760 780 700C755 640 726.7 583.3 690 540C653.3 496.7 603.3 461.7 560 440C516.7 418.3 468.3 413.3 430 410C391.7 406.7 360 401.7 330 420Z" fill="#fff" stroke="#000" stroke-width="15" stroke-linejoin="round" />
<path d="M345 470C334.2 488.3 297.5 538.3 280 580C262.5 621.7 248 673.3 240 720C232 766.7 229.5 810 232 860C234.5 910 242 966.7 255 1020C268 1073.3 300.8 1153.3 310 1180" fill="none" stroke="#000" stroke-width="11" stroke-linecap="round" stroke-linejoin="round" />
<path d="M375 520C365.8 540 334.2 596.7 320 640C305.8 683.3 294.7 736.7 290 780C285.3 823.3 287 856.7 292 900C297 943.3 307 996.7 320 1040C333 1083.3 361.7 1140 370 1160" fill="none" stroke="#000" stroke-width="10" stroke-linecap="round" stroke-linejoin="round" />
<path d="M430 440C453.3 431.7 516.7 432.5 560 450C603.3 467.5 656.7 510 690 545C723.3 580 751.7 629.2 760 660C768.3 690.8 751.7 720 740 730C728.3 740 706.7 720 690 720C673.3 720 656.7 733.3 640 730C623.3 726.7 601.7 720 590 700C578.3 680 585 638.3 570 610C555 581.7 525 548.3 500 530C475 511.7 431.7 515 420 500C408.3 485 406.7 448.3 430 440Z" fill="#000" />
<circle cx="630" cy="640" r="36" fill="#fff" stroke="#000" stroke-width="12"/>
<circle cx="636" cy="646" r="14" fill="none" stroke="#000" stroke-width="9"/>
<path d="M300 445 L440 420 L470 470 L330 500Z" fill="#fff" stroke="#000" stroke-width="13" stroke-linejoin="round" />
<ellipse cx="445" cy="455" rx="30" ry="34" fill="#888" stroke="#000" stroke-width="12"/>
<path d="M710 600C714.7 626.7 731.3 710 738 760C744.7 810 750.7 851.7 750 900C749.3 948.3 736.7 1025 734 1050" fill="none" stroke="#000" stroke-width="10" stroke-linecap="round" stroke-linejoin="round" />
<path d="M742 614C746.7 638.3 763.3 712.3 770 760C776.7 807.7 782.7 853.3 782 900C781.3 946.7 768.7 1016.7 766 1040" fill="none" stroke="#000" stroke-width="10" stroke-linecap="round" stroke-linejoin="round" />
<path d="M774 628C778.7 650 795.3 714.7 802 760C808.7 805.3 814.7 855 814 900C813.3 945 800.7 1008.3 798 1030" fill="none" stroke="#000" stroke-width="10" stroke-linecap="round" stroke-linejoin="round" />
<path d="M806 642C810.7 661.7 827.3 717 834 760C840.7 803 846.7 856.7 846 900C845.3 943.3 832.7 1000 830 1020" fill="none" stroke="#000" stroke-width="10" stroke-linecap="round" stroke-linejoin="round" />
<path d="M836 656C840.7 673.3 857.3 719.3 864 760C870.7 800.7 876.7 858.3 876 900C875.3 941.7 862.7 991.7 860 1010" fill="none" stroke="#000" stroke-width="10" stroke-linecap="round" stroke-linejoin="round" />
<path d="M700 560C707.3 560 746.7 606.7 760 640C773.3 673.3 783.3 750 780 760C776.7 770 750.7 720 740 700C729.3 680 722.7 663.3 716 640C709.3 616.7 692.7 560 700 560Z" fill="#000" />
<path d="M290 905 L700 805" fill="none" stroke="#000" stroke-width="100" stroke-linecap="butt" stroke-linejoin="round" />
<path d="M284 906 L700 805" fill="none" stroke="#fff" stroke-width="72" stroke-linecap="butt" stroke-linejoin="round" />
<ellipse cx="420" cy="905" rx="42" ry="30" fill="#fff" stroke="#000" stroke-width="13"/>
<path d="M470 860 Q500 900 470 940" fill="none" stroke="#000" stroke-width="12" stroke-linecap="round" stroke-linejoin="round" />
<path d="M440 1240 L800 1110" fill="none" stroke="#000" stroke-width="105" stroke-linecap="butt" stroke-linejoin="round" />
<path d="M432 1243 L800 1110" fill="none" stroke="#fff" stroke-width="76" stroke-linecap="butt" stroke-linejoin="round" />
<ellipse cx="700" cy="1010" rx="40" ry="30" fill="#fff" stroke="#000" stroke-width="13"/>
<ellipse cx="615" cy="1185" rx="38" ry="30" fill="#fff" stroke="#000" stroke-width="13"/>
<path d="M510 1130 Q520 1060 600 1050 L680 1045" fill="none" stroke="#000" stroke-width="10" stroke-linecap="round" stroke-linejoin="round" />
<path d="M560 1250C576.7 1231.7 660 1205 700 1190C740 1175 785 1153.3 800 1160C815 1166.7 806.7 1208.3 790 1230C773.3 1251.7 731.7 1278.3 700 1290C668.3 1301.7 623.3 1306.7 600 1300C576.7 1293.3 543.3 1268.3 560 1250Z" fill="#000" />
<path d="M480 1290C480 1279.2 556.7 1266.7 600 1260C643.3 1253.3 720 1243.3 740 1250C760 1256.7 743.3 1287.5 720 1300C696.7 1312.5 640 1326.7 600 1325C560 1323.3 480 1300.8 480 1290Z" fill="#fff" stroke="#000" stroke-width="10" stroke-linejoin="round" />
<path d="M300 950 L430 920 L300 990Z" fill="#000" />
<path d="M330 335 q30 4 26 36" fill="none" stroke="#000" stroke-width="14" stroke-linecap="round" stroke-linejoin="round" />
<path d="M880 1020 q30 4 26 36" fill="none" stroke="#000" stroke-width="14" stroke-linecap="round" stroke-linejoin="round" />
</g>
<path d="M2500 412C2502.3 407 2507 402.7 2512 402C2517 401.3 2526 402.3 2530 408C2534 413.7 2536 427.7 2536 436C2536 444.3 2533.3 453 2530 458C2526.7 463 2520.7 466.3 2516 466C2511.3 465.7 2505 461.7 2502 456C2499 450.3 2498.3 439.3 2498 432C2497.7 424.7 2497.7 417 2500 412Z" fill="#fff" stroke="#000" stroke-width="5.5" stroke-linejoin="round" />
<circle cx="2516" cy="446" r="7" fill="#bbb" stroke="#000" stroke-width="4.5"/>
<path d="M2872 640C2875.7 635.3 2884.5 630.7 2890 632C2895.5 633.3 2901.7 633.3 2905 648C2908.3 662.7 2910.5 704.3 2910 720C2909.5 735.7 2906.3 738.3 2902 742C2897.7 745.7 2889.3 745.3 2884 742C2878.7 738.7 2872.7 735.7 2870 722C2867.3 708.3 2867.7 673.7 2868 660C2868.3 646.3 2868.3 644.7 2872 640Z" fill="#fff" stroke="#000" stroke-width="5.5" stroke-linejoin="round" />
<circle cx="2892" cy="717" r="8" fill="#fff" stroke="#000" stroke-width="4.5"/>
<path d="M2870 590C2872.2 583.3 2879.2 591.7 2885 600C2890.8 608.3 2904.2 634.2 2905 640C2905.8 645.8 2895.5 635 2890 635C2884.5 635 2875.3 647.5 2872 640C2868.7 632.5 2867.8 596.7 2870 590Z" fill="#aaa" stroke="#000" stroke-width="5" stroke-linejoin="round" />
<path d="M1907 1464C1887.5 1466.2 1857.2 1474.7 1842 1494C1826.8 1513.3 1819.3 1549 1816 1580C1812.7 1611 1818.7 1652.5 1822 1680C1825.3 1707.5 1825.5 1725 1836 1745C1846.5 1765 1867.3 1789.3 1885 1800C1902.7 1810.7 1919 1813.3 1942 1809C1965 1804.7 2000.8 1790.5 2023 1774C2045.2 1757.5 2067.7 1731.5 2075 1710C2082.3 1688.5 2074.8 1670.2 2067 1645C2059.2 1619.8 2046 1586.3 2028 1559C2010 1531.7 1979.2 1496.8 1959 1481C1938.8 1465.2 1926.5 1461.8 1907 1464Z" fill="#ececec" stroke="#000" stroke-width="5" stroke-linejoin="round" />
<circle cx="1817.8" cy="1625.3" r="3.4" fill="#999"/>
<circle cx="1885.5" cy="1785.3" r="2" fill="#aaa"/>
<circle cx="1976.7" cy="1505" r="4.4" fill="#777"/>
<circle cx="1855" cy="1571.3" r="3.1" fill="#999"/>
<circle cx="1993" cy="1532.7" r="2.1" fill="#fff"/>
<circle cx="1815.8" cy="1607.3" r="2.3" fill="#999"/>
<circle cx="1899.6" cy="1750.2" r="1.5" fill="#fff"/>
<circle cx="1893.7" cy="1750.6" r="3.6" fill="#aaa"/>
<circle cx="1857.6" cy="1550.9" r="4.3" fill="#777"/>
<circle cx="1911.6" cy="1758.6" r="1.6" fill="#aaa"/>
<circle cx="1863.1" cy="1728.3" r="2.5" fill="#aaa"/>
<circle cx="2012.1" cy="1743" r="1.6" fill="#555"/>
<circle cx="2059.5" cy="1653.5" r="3.6" fill="#555"/>
<circle cx="1892.7" cy="1743.6" r="1.9" fill="#fff"/>
<circle cx="1818.8" cy="1635.2" r="1.9" fill="#999"/>
<circle cx="1838.8" cy="1614.3" r="1.7" fill="#999"/>
<circle cx="1923.6" cy="1510.1" r="4.1" fill="#fff"/>
<circle cx="1919" cy="1512" r="4" fill="#aaa"/>
<circle cx="1953.6" cy="1523.7" r="4.1" fill="#aaa"/>
<circle cx="1945.8" cy="1482.4" r="3.6" fill="#555"/>
<circle cx="1889.3" cy="1795.7" r="2" fill="#fff"/>
<circle cx="2040" cy="1628.4" r="2.5" fill="#555"/>
<circle cx="1903.3" cy="1792.8" r="2.6" fill="#aaa"/>
<circle cx="1952.9" cy="1519" r="4.3" fill="#555"/>
<circle cx="1856.4" cy="1737" r="3" fill="#fff"/>
<circle cx="1959.4" cy="1767.8" r="3.7" fill="#555"/>
<circle cx="1869.1" cy="1703.5" r="3.7" fill="#fff"/>
<circle cx="1865.2" cy="1714.9" r="1.5" fill="#555"/>
<circle cx="1920.7" cy="1500.9" r="2.6" fill="#fff"/>
<circle cx="1835.6" cy="1653.6" r="4.4" fill="#555"/>
<circle cx="1844.9" cy="1605.3" r="3.4" fill="#fff"/>
<circle cx="1909.7" cy="1510.4" r="2.6" fill="#fff"/>
<circle cx="1845.9" cy="1492.2" r="1.5" fill="#fff"/>
<circle cx="1839.1" cy="1660.9" r="3.1" fill="#fff"/>
<circle cx="1897.9" cy="1771.2" r="2.6" fill="#fff"/>
<circle cx="1912.5" cy="1801.2" r="3.3" fill="#999"/>
<circle cx="1938.8" cy="1503.3" r="4.4" fill="#fff"/>
<circle cx="1876.3" cy="1474.2" r="4" fill="#999"/>
<circle cx="1883.9" cy="1792" r="2.2" fill="#777"/>
<circle cx="1882.3" cy="1514.9" r="2.4" fill="#555"/>
<circle cx="2015.3" cy="1566.7" r="3.6" fill="#fff"/>
<circle cx="1817.2" cy="1584.2" r="3.7" fill="#fff"/>
<circle cx="2020.2" cy="1611.8" r="3.6" fill="#fff"/>
<circle cx="2067.4" cy="1690.3" r="2.9" fill="#aaa"/>
<circle cx="2052.7" cy="1625.1" r="2.4" fill="#777"/>
<circle cx="1854.7" cy="1706.8" r="4.4" fill="#aaa"/>
<circle cx="2007.8" cy="1554.9" r="3.9" fill="#777"/>
<circle cx="2067.1" cy="1712.9" r="4.5" fill="#999"/>
<circle cx="1859.4" cy="1525.8" r="1.7" fill="#999"/>
<circle cx="1842" cy="1601.5" r="1.9" fill="#fff"/>
<circle cx="1850.8" cy="1684.1" r="2.4" fill="#fff"/>
<circle cx="2064.3" cy="1655.2" r="2.3" fill="#999"/>
<circle cx="1846.1" cy="1543.2" r="2.9" fill="#555"/>
<circle cx="1915" cy="1506.6" r="3.5" fill="#777"/>
<circle cx="1833" cy="1697.1" r="4.1" fill="#777"/>
<circle cx="1913.8" cy="1761.1" r="3.5" fill="#aaa"/>
<circle cx="1870.2" cy="1501.2" r="3" fill="#fff"/>
<circle cx="1867.1" cy="1709" r="2.6" fill="#aaa"/>
<circle cx="1914.2" cy="1508.4" r="3.4" fill="#555"/>
<circle cx="2027.2" cy="1613.9" r="3.1" fill="#555"/>
<circle cx="2050.1" cy="1630.8" r="1.5" fill="#555"/>
<circle cx="1937" cy="1775.9" r="4.3" fill="#fff"/>
<circle cx="1861.7" cy="1691.9" r="2.6" fill="#777"/>
<circle cx="1914.1" cy="1772.5" r="3.2" fill="#999"/>
<circle cx="1839.8" cy="1750.5" r="3.5" fill="#555"/>
<circle cx="1895.3" cy="1480.9" r="3.5" fill="#777"/>
<circle cx="1937.4" cy="1795.6" r="3.9" fill="#777"/>
<circle cx="1976.7" cy="1783.6" r="2.6" fill="#fff"/>
<circle cx="2063.9" cy="1689.3" r="3.7" fill="#aaa"/>
<circle cx="2035.6" cy="1757.2" r="2.6" fill="#fff"/>
<circle cx="2052.7" cy="1634.4" r="1.7" fill="#aaa"/>
<circle cx="1875.7" cy="1477.9" r="3.8" fill="#aaa"/>
<circle cx="1862.5" cy="1707" r="2.7" fill="#fff"/>
<circle cx="1953.5" cy="1489.9" r="3.9" fill="#555"/>
<circle cx="1853.7" cy="1486.8" r="2.1" fill="#fff"/>
<circle cx="2005.9" cy="1784.1" r="3.6" fill="#555"/>
<circle cx="1959.7" cy="1509.2" r="1.8" fill="#aaa"/>
<circle cx="2018.5" cy="1750.9" r="1.9" fill="#555"/>
<circle cx="2071.3" cy="1696.5" r="1.7" fill="#555"/>
<circle cx="1864" cy="1561.5" r="4.2" fill="#555"/>
<circle cx="1925.5" cy="1497.8" r="3.2" fill="#aaa"/>
<circle cx="1847.1" cy="1636.7" r="2.4" fill="#555"/>
<circle cx="1906.4" cy="1765.2" r="1.5" fill="#fff"/>
<circle cx="1952.4" cy="1504.5" r="2.5" fill="#999"/>
<circle cx="2033.3" cy="1718" r="2.3" fill="#777"/>
<circle cx="1848.9" cy="1731.5" r="3.9" fill="#aaa"/>
<circle cx="1841.9" cy="1572.6" r="2.9" fill="#999"/>
<circle cx="1953.8" cy="1804.2" r="1.5" fill="#fff"/>
<circle cx="1995.1" cy="1533.7" r="1.6" fill="#777"/>
<circle cx="2048.1" cy="1599.4" r="2.1" fill="#999"/>
<circle cx="2031.9" cy="1567.6" r="2.6" fill="#fff"/>
<circle cx="2012.8" cy="1545.8" r="3.9" fill="#555"/>
<circle cx="2029.8" cy="1695.4" r="3.4" fill="#777"/>
<circle cx="1918.2" cy="1510.8" r="3" fill="#999"/>
<circle cx="1836.7" cy="1714.8" r="3.9" fill="#999"/>
<circle cx="1834.6" cy="1530.6" r="1.5" fill="#fff"/>
<circle cx="1895.7" cy="1469.6" r="3" fill="#555"/>
<circle cx="2062.4" cy="1657.9" r="3.1" fill="#777"/>
<circle cx="2025.6" cy="1588.8" r="1.6" fill="#fff"/>
<circle cx="1887.3" cy="1469.7" r="3.3" fill="#555"/>
<circle cx="1921.5" cy="1803.9" r="2.3" fill="#777"/>
<circle cx="1995.7" cy="1757.6" r="3.3" fill="#fff"/>
<circle cx="1924.4" cy="1804" r="2.7" fill="#fff"/>
<circle cx="1858.1" cy="1691.8" r="4.2" fill="#999"/>
<circle cx="1839.4" cy="1704.5" r="3.6" fill="#fff"/>
<circle cx="1837" cy="1564.3" r="3.9" fill="#555"/>
<circle cx="1830.7" cy="1606.6" r="2.2" fill="#999"/>
<circle cx="1826.9" cy="1660.9" r="4.1" fill="#fff"/>
<circle cx="1859.6" cy="1527.6" r="1.8" fill="#fff"/>
<circle cx="2022.4" cy="1577.2" r="1.7" fill="#777"/>
<circle cx="2039.6" cy="1689" r="4.2" fill="#999"/>
<circle cx="2051.3" cy="1654.9" r="3.4" fill="#fff"/>
<circle cx="1911.3" cy="1501.7" r="4.4" fill="#fff"/>
<circle cx="2063.2" cy="1712.9" r="1.9" fill="#777"/>
<circle cx="2039" cy="1644.3" r="2.2" fill="#777"/>
<circle cx="1961.8" cy="1799.7" r="1.7" fill="#fff"/>
<circle cx="1950.2" cy="1799.4" r="4.4" fill="#fff"/>
<circle cx="1824.3" cy="1599.4" r="2.8" fill="#fff"/>
<circle cx="1970.3" cy="1780.3" r="3.4" fill="#fff"/>
<circle cx="2029.4" cy="1752.4" r="4.2" fill="#aaa"/>
<circle cx="2014.2" cy="1776.6" r="2.4" fill="#999"/>
<circle cx="1861.5" cy="1756.1" r="4.5" fill="#777"/>
<circle cx="1843.3" cy="1520.1" r="1.7" fill="#aaa"/>
<circle cx="1920.6" cy="1513.1" r="1.6" fill="#fff"/>
<circle cx="1971.7" cy="1508.4" r="1.7" fill="#999"/>
<circle cx="1838.6" cy="1601.8" r="2.6" fill="#555"/>
<circle cx="1846.1" cy="1630.8" r="1.7" fill="#fff"/>
<circle cx="1872.8" cy="1714.3" r="3.9" fill="#999"/>
<circle cx="1825.1" cy="1637.7" r="3.6" fill="#777"/>
<circle cx="2048.7" cy="1735.7" r="2.4" fill="#fff"/>
<circle cx="1830.9" cy="1619.3" r="2.1" fill="#fff"/>
<circle cx="1933.2" cy="1482.4" r="3.2" fill="#777"/>
<circle cx="1902.4" cy="1511" r="2.3" fill="#555"/>
<circle cx="1884.5" cy="1738.2" r="1.9" fill="#fff"/>
<circle cx="1878.1" cy="1519" r="3.6" fill="#999"/>
<circle cx="1969.8" cy="1770.7" r="3.3" fill="#999"/>
<circle cx="1962.7" cy="1780.1" r="3.2" fill="#555"/>
<circle cx="2032.5" cy="1635.5" r="1.6" fill="#fff"/>
<circle cx="1969" cy="1501.7" r="3.1" fill="#fff"/>
<circle cx="2003.3" cy="1567.9" r="4.2" fill="#fff"/>
<circle cx="1842.5" cy="1727.8" r="2.9" fill="#555"/>
<circle cx="1890.7" cy="1772" r="3" fill="#555"/>
<circle cx="2053.5" cy="1625.3" r="3.5" fill="#999"/>
<circle cx="1874.7" cy="1519.7" r="3.9" fill="#fff"/>
<circle cx="1839.1" cy="1552" r="4" fill="#555"/>
<circle cx="2029.6" cy="1704.8" r="2.5" fill="#777"/>
<circle cx="1837.8" cy="1684.4" r="2" fill="#fff"/>
<circle cx="1856.5" cy="1578.8" r="1.8" fill="#555"/>
<circle cx="1920.3" cy="1483.5" r="2" fill="#777"/>
<circle cx="2052" cy="1639.8" r="2.9" fill="#777"/>
<circle cx="1829.4" cy="1609.7" r="3.1" fill="#fff"/>
<circle cx="1830.5" cy="1595" r="3.8" fill="#999"/>
<circle cx="1841" cy="1650.8" r="3.5" fill="#777"/>
<circle cx="1841" cy="1568.8" r="4.4" fill="#aaa"/>
<circle cx="1949" cy="1786" r="3.5" fill="#aaa"/>
<circle cx="1858.8" cy="1528.1" r="3.1" fill="#fff"/>
<circle cx="1929.7" cy="1785.7" r="3.4" fill="#fff"/>
<circle cx="1879.1" cy="1518.9" r="2.3" fill="#fff"/>
<circle cx="1973.3" cy="1507.6" r="2.9" fill="#999"/>
<circle cx="2004.2" cy="1551.2" r="4.1" fill="#aaa"/>
<circle cx="1854.1" cy="1708" r="2.4" fill="#777"/>
<circle cx="2049" cy="1682.8" r="1.7" fill="#fff"/>
<circle cx="2016.3" cy="1579.4" r="2.9" fill="#fff"/>
<circle cx="2018.7" cy="1562.9" r="3.8" fill="#999"/>
<circle cx="2040.3" cy="1694.8" r="4" fill="#aaa"/>
<circle cx="2056.9" cy="1646.1" r="3.6" fill="#555"/>
<circle cx="1853" cy="1635.6" r="3.1" fill="#777"/>
<circle cx="1837.6" cy="1608.3" r="3.4" fill="#999"/>
<circle cx="1873.7" cy="1483.8" r="2.6" fill="#fff"/>
<circle cx="1835.3" cy="1657.9" r="3.8" fill="#fff"/>
<circle cx="1826.6" cy="1552.5" r="1.9" fill="#777"/>
<circle cx="2026.8" cy="1629.2" r="1.7" fill="#fff"/>
<circle cx="1865.2" cy="1691.3" r="4.5" fill="#aaa"/>
<circle cx="1864.4" cy="1483.5" r="2.1" fill="#555"/>
<circle cx="1954.2" cy="1775.1" r="2.2" fill="#999"/>
<circle cx="1915" cy="1518.9" r="4.2" fill="#777"/>
<circle cx="1996.1" cy="1537" r="4.2" fill="#aaa"/>
<circle cx="1864.4" cy="1704.1" r="2.3" fill="#fff"/>
<circle cx="1834.9" cy="1542.6" r="3.9" fill="#aaa"/>
<circle cx="1987.7" cy="1773.4" r="3.7" fill="#fff"/>
<circle cx="2007.8" cy="1531.9" r="2.3" fill="#fff"/>
<circle cx="2036.9" cy="1589.8" r="3.6" fill="#777"/>
<circle cx="1979.4" cy="1524.7" r="1.9" fill="#fff"/>
<circle cx="1924.8" cy="1497.3" r="3.6" fill="#777"/>
<circle cx="2052.6" cy="1717.9" r="3" fill="#777"/>
<circle cx="1964.3" cy="1774.6" r="3.3" fill="#555"/>
<circle cx="1955" cy="1520.6" r="3.2" fill="#aaa"/>
<circle cx="1939.7" cy="1498.8" r="1.7" fill="#fff"/>
<circle cx="1835.5" cy="1719.2" r="2" fill="#aaa"/>
<circle cx="2050.4" cy="1731.4" r="3.4" fill="#fff"/>
<circle cx="1821" cy="1642.2" r="2.1" fill="#aaa"/>
<circle cx="1853.1" cy="1682.2" r="1.8" fill="#aaa"/>
<circle cx="1932.3" cy="1769.5" r="3.3" fill="#777"/>
<circle cx="1934.2" cy="1775.8" r="2.5" fill="#fff"/>
<circle cx="1845.6" cy="1615.9" r="2.4" fill="#777"/>
<circle cx="1969.4" cy="1522.3" r="1.9" fill="#aaa"/>
<circle cx="1934.9" cy="1473.7" r="2.9" fill="#555"/>
<circle cx="1915.4" cy="1764.2" r="1.9" fill="#555"/>
<circle cx="1987.9" cy="1546.5" r="4.1" fill="#aaa"/>
<circle cx="1840.6" cy="1656.9" r="2.5" fill="#777"/>
<circle cx="1975.2" cy="1517.6" r="1.6" fill="#777"/>
<circle cx="1952" cy="1476.2" r="4.5" fill="#999"/>
<circle cx="1909.4" cy="1466" r="1.9" fill="#fff"/>
<circle cx="2021.3" cy="1550.5" r="3.8" fill="#999"/>
<circle cx="2036.3" cy="1732.3" r="4" fill="#aaa"/>
<circle cx="2039.8" cy="1719" r="3.8" fill="#fff"/>
<circle cx="2065.5" cy="1645.2" r="2.5" fill="#555"/>
<circle cx="1981.3" cy="1763.5" r="2.4" fill="#fff"/>
<circle cx="1871.7" cy="1532.9" r="3.4" fill="#fff"/>
<circle cx="1868.8" cy="1758.8" r="2.1" fill="#999"/>
<circle cx="2045.3" cy="1683.3" r="2.3" fill="#fff"/>
<circle cx="1963.3" cy="1795.5" r="2.4" fill="#777"/>
<circle cx="1846.1" cy="1618.4" r="3.4" fill="#fff"/>
<circle cx="1863.6" cy="1714.4" r="2.7" fill="#555"/>
<circle cx="2051.6" cy="1616.9" r="1.7" fill="#555"/>
<circle cx="1916.6" cy="1807.6" r="3.5" fill="#aaa"/>
<circle cx="2068.2" cy="1677.5" r="2.1" fill="#777"/>
<circle cx="2018.4" cy="1551.7" r="3.6" fill="#fff"/>
<circle cx="2059.9" cy="1711.3" r="4.1" fill="#fff"/>
<circle cx="2059.5" cy="1660.9" r="3.5" fill="#fff"/>
<circle cx="2029.1" cy="1630.8" r="2.8" fill="#aaa"/>
<circle cx="2026.8" cy="1754.1" r="4" fill="#777"/>
<circle cx="2022.9" cy="1614.7" r="3.1" fill="#fff"/>
<circle cx="2014.1" cy="1580.6" r="4.4" fill="#999"/>
<circle cx="1890.6" cy="1748.2" r="2.8" fill="#999"/>
<circle cx="1828" cy="1636.2" r="2.2" fill="#aaa"/>
<circle cx="2056.9" cy="1731.6" r="1.8" fill="#555"/>
<circle cx="1891.2" cy="1511.6" r="2.5" fill="#999"/>
<circle cx="2051.7" cy="1610.6" r="1.8" fill="#777"/>
<circle cx="2035.3" cy="1646.6" r="3.7" fill="#aaa"/>
<circle cx="1832.3" cy="1611.5" r="1.5" fill="#fff"/>
<circle cx="1950.5" cy="1486.5" r="1.8" fill="#aaa"/>
<circle cx="1861.9" cy="1698.7" r="3.1" fill="#aaa"/>
<circle cx="1909" cy="1512.3" r="1.6" fill="#777"/>
<circle cx="1961.4" cy="1778.6" r="2.3" fill="#aaa"/>
<circle cx="1936.4" cy="1479" r="1.7" fill="#999"/>
<circle cx="1970.2" cy="1534.2" r="3.6" fill="#999"/>
<circle cx="2071.5" cy="1689.7" r="3.9" fill="#fff"/>
<circle cx="2043.7" cy="1631.4" r="2.4" fill="#aaa"/>
<circle cx="2062.3" cy="1718.1" r="3" fill="#777"/>
<circle cx="2022.1" cy="1761.7" r="3" fill="#aaa"/>
<circle cx="1921.3" cy="1796.3" r="2" fill="#fff"/>
<circle cx="2002.4" cy="1785.6" r="4.1" fill="#555"/>
<circle cx="1835.7" cy="1529.7" r="2.8" fill="#fff"/>
<circle cx="1951.9" cy="1775.2" r="3.7" fill="#fff"/>
<circle cx="1869.3" cy="1500" r="2.6" fill="#777"/>
<circle cx="1852.4" cy="1578" r="3" fill="#555"/>
<circle cx="1937.8" cy="1796.1" r="4.5" fill="#aaa"/>
<circle cx="1838.6" cy="1728.1" r="1.6" fill="#fff"/>
<circle cx="1992.5" cy="1782.2" r="3.1" fill="#fff"/>
<circle cx="1853.5" cy="1674.8" r="2.4" fill="#aaa"/>
<circle cx="1880.8" cy="1486.9" r="1.8" fill="#777"/>
<circle cx="1838.1" cy="1604.7" r="3.4" fill="#fff"/>
<circle cx="1965.6" cy="1500.7" r="4.2" fill="#999"/>
<circle cx="1828" cy="1559.9" r="3.9" fill="#fff"/>
<circle cx="1914.5" cy="1506.8" r="2.1" fill="#777"/>
<circle cx="1871.7" cy="1719.5" r="3" fill="#aaa"/>
<circle cx="1944.1" cy="1498.9" r="3.1" fill="#999"/>
<circle cx="1974" cy="1782.9" r="4" fill="#fff"/>
<circle cx="2043" cy="1683.8" r="3.5" fill="#999"/>
<circle cx="1914.5" cy="1473.2" r="4.5" fill="#999"/>
<circle cx="1871.2" cy="1750.7" r="3.8" fill="#aaa"/>
<circle cx="2028" cy="1649.2" r="2.5" fill="#999"/>
<circle cx="1915.2" cy="1504.3" r="1.7" fill="#fff"/>
<circle cx="2035.7" cy="1595.7" r="2.6" fill="#fff"/>
<circle cx="1993.7" cy="1554.3" r="2.7" fill="#fff"/>
<circle cx="2028.1" cy="1597.3" r="2.5" fill="#fff"/>
<circle cx="1844.3" cy="1673.9" r="2.1" fill="#777"/>
<circle cx="1829.8" cy="1658.7" r="4.1" fill="#fff"/>
<circle cx="1856.9" cy="1746.3" r="3.9" fill="#777"/>
<circle cx="1840.7" cy="1731.5" r="2.1" fill="#fff"/>
<circle cx="2071.6" cy="1660.9" r="2.1" fill="#fff"/>
<circle cx="1857.7" cy="1529.9" r="3.3" fill="#fff"/>
<circle cx="1913.7" cy="1770.1" r="2.5" fill="#999"/>
<circle cx="1838.7" cy="1572.2" r="2.6" fill="#999"/>
<circle cx="1997.8" cy="1525.4" r="3.7" fill="#aaa"/>
<circle cx="2065.8" cy="1655" r="3.9" fill="#555"/>
<circle cx="1843.9" cy="1722.1" r="2.3" fill="#555"/>
<circle cx="2060.8" cy="1627.5" r="2.9" fill="#999"/>
<circle cx="2014.5" cy="1590.6" r="3.6" fill="#999"/>
<circle cx="1925.8" cy="1471.1" r="2.5" fill="#555"/>
<circle cx="1871.5" cy="1499.4" r="3.6" fill="#777"/>
<circle cx="2004.7" cy="1755.4" r="3" fill="#fff"/>
<circle cx="1901.6" cy="1753.5" r="4.5" fill="#fff"/>
<circle cx="2019.3" cy="1552" r="1.7" fill="#fff"/>
<circle cx="1831.4" cy="1591.8" r="1.9" fill="#777"/>
<circle cx="2035" cy="1690.8" r="3.7" fill="#555"/>
<circle cx="2007.3" cy="1554.9" r="1.9" fill="#aaa"/>
<circle cx="1909.4" cy="1756.5" r="2.2" fill="#fff"/>
<circle cx="1923.4" cy="1788.4" r="1.9" fill="#fff"/>
<circle cx="2030.8" cy="1704" r="4.1" fill="#fff"/>
<circle cx="2052.7" cy="1672" r="1.8" fill="#aaa"/>
<circle cx="1944.5" cy="1483" r="2.5" fill="#555"/>
<circle cx="1979.3" cy="1771.8" r="4.2" fill="#555"/>
<circle cx="1999.6" cy="1523.3" r="3" fill="#aaa"/>
<circle cx="1862.7" cy="1735.6" r="4.1" fill="#999"/>
<circle cx="2071" cy="1681.4" r="3.3" fill="#fff"/>
<circle cx="1900" cy="1516.5" r="3.6" fill="#fff"/>
<circle cx="1980.7" cy="1788.9" r="2.9" fill="#aaa"/>
<circle cx="1884.6" cy="1482.3" r="1.8" fill="#999"/>
<circle cx="1832" cy="1552.4" r="2.2" fill="#aaa"/>
<circle cx="1883.8" cy="1786.5" r="4.3" fill="#fff"/>
<circle cx="1829.1" cy="1681.9" r="2.2" fill="#aaa"/>
<circle cx="1832.8" cy="1657.1" r="3.4" fill="#fff"/>
<circle cx="2025.2" cy="1599.1" r="2.6" fill="#999"/>
<circle cx="1897" cy="1763.6" r="3" fill="#999"/>
<circle cx="1954.2" cy="1802.9" r="2.6" fill="#fff"/>
<circle cx="1907.3" cy="1807.4" r="2.6" fill="#fff"/>
<circle cx="2020.9" cy="1597.7" r="4.1" fill="#555"/>
<circle cx="2031.5" cy="1668.5" r="4.1" fill="#999"/>
<circle cx="2013.2" cy="1581.5" r="3.1" fill="#999"/>
<circle cx="1915.5" cy="1769.4" r="2.3" fill="#999"/>
<circle cx="1920" cy="1474.5" r="3.7" fill="#555"/>
<circle cx="1836.3" cy="1532" r="2.5" fill="#fff"/>
<circle cx="1963.5" cy="1491.5" r="1.9" fill="#555"/>
<circle cx="2011.8" cy="1749.4" r="4.1" fill="#555"/>
<circle cx="1858.8" cy="1562.8" r="4.2" fill="#999"/>
<circle cx="1870.9" cy="1764" r="3.9" fill="#fff"/>
<circle cx="1848.2" cy="1717.6" r="4" fill="#fff"/>
<circle cx="2052.2" cy="1650.9" r="3.1" fill="#aaa"/>
<circle cx="1941.9" cy="1780.7" r="3.8" fill="#777"/>
<circle cx="1882" cy="1532.7" r="2.1" fill="#999"/>
<circle cx="1842.9" cy="1518" r="2.6" fill="#fff"/>
<circle cx="1971.8" cy="1517.9" r="2.2" fill="#fff"/>
<circle cx="1979.6" cy="1782.4" r="3.2" fill="#fff"/>
<circle cx="1919.7" cy="1485.7" r="1.9" fill="#777"/>
<circle cx="1867.5" cy="1780.2" r="3.4" fill="#999"/>
<circle cx="1851" cy="1750.5" r="3.3" fill="#fff"/>
<circle cx="1927.4" cy="1494" r="4.2" fill="#fff"/>
<circle cx="1841.4" cy="1654" r="4.4" fill="#555"/>
<circle cx="1946" cy="1775" r="1.6" fill="#777"/>
<circle cx="1832" cy="1705.2" r="4.2" fill="#555"/>
<circle cx="1923.3" cy="1502.8" r="3.4" fill="#aaa"/>
<circle cx="1910.5" cy="1754" r="2" fill="#fff"/>
<circle cx="1919.8" cy="1796.3" r="2.6" fill="#555"/>
<circle cx="2042.5" cy="1641.7" r="2.5" fill="#555"/>
<circle cx="2073.5" cy="1704.5" r="2.3" fill="#fff"/>
<circle cx="2015.9" cy="1741.8" r="3.9" fill="#999"/>
<circle cx="1862" cy="1686.9" r="2.6" fill="#555"/>
<circle cx="1844.1" cy="1623.4" r="4" fill="#aaa"/>
<circle cx="1862.8" cy="1513.6" r="2.8" fill="#999"/>
<circle cx="2029.4" cy="1656.1" r="3.1" fill="#777"/>
<circle cx="2025.4" cy="1752" r="2.5" fill="#aaa"/>
<circle cx="1821.3" cy="1627.1" r="2.1" fill="#777"/>
<circle cx="2036.3" cy="1749.4" r="1.8" fill="#999"/>
<circle cx="1956.9" cy="1518.5" r="3.1" fill="#999"/>
<circle cx="2023.5" cy="1719.8" r="2.2" fill="#fff"/>
<circle cx="1936.9" cy="1488.4" r="1.9" fill="#aaa"/>
<circle cx="1861.1" cy="1550" r="2.1" fill="#999"/>
<circle cx="1985.8" cy="1759.8" r="2.8" fill="#fff"/>
<circle cx="1861" cy="1719.7" r="2.8" fill="#555"/>
<circle cx="1839.9" cy="1653.4" r="2.5" fill="#fff"/>
<circle cx="1851.1" cy="1500.4" r="3.4" fill="#777"/>
<circle cx="1832.2" cy="1734.5" r="3.7" fill="#777"/>
<circle cx="1838.8" cy="1661" r="4.1" fill="#777"/>
<circle cx="2064.1" cy="1716.2" r="3.1" fill="#555"/>
<circle cx="1892.4" cy="1777.8" r="3.2" fill="#999"/>
<circle cx="1835.4" cy="1591.9" r="2.3" fill="#fff"/>
<circle cx="1879.3" cy="1737.2" r="3.1" fill="#777"/>
<circle cx="1828.6" cy="1708.4" r="1.6" fill="#fff"/>
<circle cx="1833.4" cy="1579.6" r="1.6" fill="#fff"/>
<circle cx="1951.9" cy="1488" r="2.4" fill="#999"/>
<circle cx="1968.5" cy="1784.8" r="3.3" fill="#fff"/>
<circle cx="1819.7" cy="1589.6" r="4.2" fill="#777"/>
<circle cx="1855" cy="1567.1" r="3.9" fill="#999"/>
<circle cx="1878.4" cy="1773.1" r="3" fill="#fff"/>
<circle cx="1845.7" cy="1739.6" r="3.1" fill="#777"/>
<circle cx="1848.3" cy="1714.6" r="3.4" fill="#777"/>
<circle cx="2013.7" cy="1770.8" r="3" fill="#999"/>
<circle cx="1926.2" cy="1515.3" r="2.7" fill="#fff"/>
<circle cx="2042.8" cy="1719.3" r="3.1" fill="#999"/>
<circle cx="1874.7" cy="1738.9" r="3.1" fill="#999"/>
<circle cx="1950.8" cy="1475.7" r="3.1" fill="#999"/>
<circle cx="1871.6" cy="1502.9" r="2.4" fill="#777"/>
<circle cx="2037.1" cy="1725" r="3.1" fill="#aaa"/>
<circle cx="1825.8" cy="1702.3" r="4" fill="#fff"/>
<circle cx="1948.3" cy="1522.6" r="2.3" fill="#fff"/>
<circle cx="2036.4" cy="1742.7" r="4.2" fill="#555"/>
<circle cx="2025.2" cy="1761.2" r="2.6" fill="#fff"/>
<circle cx="1938.6" cy="1510.8" r="4.2" fill="#999"/>
<circle cx="2050" cy="1608.6" r="2.4" fill="#777"/>
<circle cx="1921.6" cy="1785.1" r="2.8" fill="#aaa"/>
<circle cx="1870.4" cy="1525.1" r="4.1" fill="#999"/>
<circle cx="2020.5" cy="1606.3" r="1.5" fill="#999"/>
<circle cx="1996" cy="1542.3" r="1.6" fill="#555"/>
<circle cx="1904.7" cy="1469.5" r="3.6" fill="#999"/>
<circle cx="1821.7" cy="1640.7" r="1.5" fill="#555"/>
<circle cx="1895.4" cy="1524" r="4.3" fill="#aaa"/>
<circle cx="1943.9" cy="1520.8" r="1.6" fill="#fff"/>
<circle cx="1865.6" cy="1766.5" r="1.5" fill="#555"/>
<circle cx="1970.2" cy="1772.2" r="4.4" fill="#555"/>
<circle cx="1831.4" cy="1566.7" r="2.4" fill="#fff"/>
<circle cx="2031.4" cy="1618.2" r="4.1" fill="#fff"/>
<circle cx="1868.8" cy="1722.6" r="3.9" fill="#777"/>
<circle cx="2027.3" cy="1639.8" r="4.1" fill="#fff"/>
<circle cx="1946.2" cy="1506.9" r="3.5" fill="#fff"/>
<circle cx="2019.1" cy="1727.2" r="4.3" fill="#555"/>
<circle cx="1939.3" cy="1774.2" r="4" fill="#999"/>
<circle cx="2024.2" cy="1617.6" r="1.9" fill="#999"/>
<circle cx="1919.7" cy="1793.1" r="3" fill="#999"/>
<circle cx="1831.3" cy="1558.8" r="4.3" fill="#777"/>
<circle cx="1879.7" cy="1736" r="4" fill="#777"/>
<circle cx="2051.2" cy="1622.2" r="4.1" fill="#aaa"/>
<circle cx="1976.4" cy="1529.9" r="3.6" fill="#fff"/>
<circle cx="2057.8" cy="1628.2" r="2.8" fill="#fff"/>
<circle cx="1996.1" cy="1526.2" r="3" fill="#fff"/>
<circle cx="1920.1" cy="1762.1" r="3.2" fill="#777"/>
<circle cx="1899" cy="1772.4" r="3.7" fill="#999"/>
<circle cx="1840.5" cy="1582.4" r="4.3" fill="#777"/>
<circle cx="2072.8" cy="1671.7" r="4.4" fill="#aaa"/>
<circle cx="2032.7" cy="1617.4" r="2.9" fill="#555"/>
<circle cx="1857" cy="1584.4" r="3.7" fill="#555"/>
<circle cx="2053.7" cy="1637.7" r="4.2" fill="#fff"/>
<circle cx="2047.1" cy="1744.7" r="1.6" fill="#555"/>
<circle cx="2030" cy="1579" r="4.2" fill="#aaa"/>
<circle cx="1902.1" cy="1755.8" r="1.8" fill="#555"/>
<circle cx="1830" cy="1695.9" r="1.6" fill="#555"/>
<circle cx="2036.2" cy="1694.4" r="4" fill="#aaa"/>
<circle cx="1895.1" cy="1490.4" r="2.1" fill="#fff"/>
<circle cx="2053" cy="1722.7" r="3.9" fill="#999"/>
<ellipse cx="1941" cy="1643" rx="84" ry="126" transform="rotate(-14 1941 1643)" fill="#fff" stroke="#000" stroke-width="5.5" />
<path d="M1920.1 1763 L1910.9 1757.9 L1902.1 1751.5 L1893.6 1744.1 L1885.5 1735.6 L1878 1726.1 L1871 1715.8 L1864.8 1704.8 L1859.2 1693 L1854.5 1680.8 L1850.6 1668.2 L1847.6 1655.3 L1845.5 1642.3 L1844.3 1629.3 L1844.1 1616.4 L1844.9 1603.9 L1846.6 1591.7 L1849.2 1580 L1852.7 1569 L1857.1 1558.8 L1862.3 1549.4 L1868.2 1541.1 L1874.9 1533.7 L1882.2 1527.5 L1890 1522.5" fill="none" stroke="#333" stroke-width="3.5" stroke-linecap="round" stroke-linejoin="round" />
<path d="M1869 1486 q14 0 12 12 q-4 8 -12 6Z" fill="none" stroke="#000" stroke-width="4" stroke-linecap="round" stroke-linejoin="round" />
<circle cx="2049" cy="1686" r="8" fill="#fff" stroke="#000" stroke-width="4"/>
<circle cx="1866" cy="1753" r="8" fill="#fff" stroke="#000" stroke-width="4"/>
<path d="M2187 1373C2200 1362.8 2219.5 1357.8 2239 1360C2258.5 1362.2 2281.7 1367.3 2304 1386C2326.3 1404.7 2354.3 1443.2 2373 1472C2391.7 1500.8 2406.7 1534.5 2416 1559C2425.3 1583.5 2430.5 1605.3 2429 1619C2427.5 1632.7 2424.3 1629.5 2407 1641C2389.7 1652.5 2351.5 1676.5 2325 1688C2298.5 1699.5 2267.3 1708.5 2248 1710C2228.7 1711.5 2221.3 1702.8 2209 1697C2196.7 1691.2 2185.5 1697.8 2174 1675C2162.5 1652.2 2144.3 1592.3 2140 1560C2135.7 1527.7 2144.5 1504.2 2148 1481C2151.5 1457.8 2154.5 1439 2161 1421C2167.5 1403 2174 1383.2 2187 1373Z" fill="#fff" stroke="#000" stroke-width="5" stroke-linejoin="round" />
<path d="M2304 1392C2314.2 1406.3 2348.3 1450 2365 1478C2381.7 1506 2395.8 1537.7 2404 1560C2412.2 1582.3 2414.7 1600 2414 1612C2413.3 1624 2402.3 1628.7 2400 1632" fill="none" stroke="#000" stroke-width="3.5" stroke-linecap="round" stroke-linejoin="round" />
<path d="M2398 1560 L2420 1553 M2400 1630 L2398 1560 M2400 1630 L2420 1620" fill="none" stroke="#000" stroke-width="3.5" stroke-linecap="round" stroke-linejoin="round" />
<path d="M2250 1432C2258.3 1435 2285 1438.7 2300 1450C2315 1461.3 2331.3 1481.7 2340 1500C2348.7 1518.3 2351.2 1540 2352 1560C2352.8 1580 2353.7 1602 2345 1620C2336.3 1638 2316.7 1656.7 2300 1668C2283.3 1679.3 2254.2 1684.7 2245 1688" fill="none" stroke="#000" stroke-width="4.5" stroke-linecap="round" stroke-linejoin="round" />
<path d="M2270 1440C2278 1445 2306.3 1455 2318 1470C2329.7 1485 2337.2 1508.3 2340 1530C2342.8 1551.7 2341.7 1580 2335 1600C2328.3 1620 2305.8 1641.7 2300 1650" fill="none" stroke="#555" stroke-width="2.5" stroke-linecap="round" stroke-linejoin="round" />
<path d="M2230 1470C2236.3 1475 2259.7 1485 2268 1500C2276.3 1515 2279.7 1540 2280 1560C2280.3 1580 2275.8 1603.3 2270 1620C2264.2 1636.7 2249.2 1653.3 2245 1660" fill="none" stroke="#888" stroke-width="2.5" stroke-linecap="butt" stroke-linejoin="round" stroke-dasharray="14 8"/>
<path d="M2150 1482C2154.2 1444 2173.3 1450.3 2190 1442C2206.7 1433.7 2234.2 1427.3 2250 1432C2265.8 1436.7 2276.7 1448.7 2285 1470C2293.3 1491.3 2300.8 1530 2300 1560C2299.2 1590 2289.2 1628.7 2280 1650C2270.8 1671.3 2258.3 1681.3 2245 1688C2231.7 1694.7 2213.3 1693 2200 1690C2186.7 1687 2173.3 1704.7 2165 1670C2156.7 1635.3 2145.8 1520 2150 1482Z" fill="#fff" />
<path d="M2150 1482C2156.7 1475.3 2173.3 1450.3 2190 1442C2206.7 1433.7 2240 1433.7 2250 1432" fill="none" stroke="#000" stroke-width="5" stroke-linecap="round" stroke-linejoin="round" />
<path d="M2165 1672C2170.8 1675 2186.7 1687.3 2200 1690C2213.3 1692.7 2237.5 1688.3 2245 1688" fill="none" stroke="#000" stroke-width="5" stroke-linecap="round" stroke-linejoin="round" />
<ellipse cx="2187" cy="1576" rx="56" ry="92" transform="rotate(-14 2187 1576)" fill="#fff" stroke="#000" stroke-width="6" />
<ellipse cx="2192" cy="1578" rx="43" ry="78" transform="rotate(-14 2192 1578)" fill="#fff" stroke="#000" stroke-width="5" />
<path d="M2166.2 1505.3 L2170.7 1503 L2175.6 1501.8 L2180.7 1501.7 L2185.9 1502.5 L2191.2 1504.4 L2196.5 1507.3 L2201.8 1511.1 L2206.9 1515.8 L2211.8 1521.4 L2216.5 1527.7 L2220.8 1534.7 L2224.8 1542.3 L2228.2 1550.4 L2231.2 1558.9 L2233.7 1567.6 L2235.6 1576.5 L2236.9 1585.3 L2237.7 1594.1 L2237.8 1602.7 L2237.2 1610.9 L2236.1 1618.7 L2234.4 1625.9 L2232.1 1632.5 L2229.2 1638.3 L2211.2 1640.2 L2213 1635.1 L2214.3 1629.4 L2215.2 1623.1 L2215.6 1616.3 L2215.6 1609 L2215.1 1601.4 L2214.2 1593.6 L2212.9 1585.7 L2211.1 1577.7 L2208.9 1569.9 L2206.4 1562.3 L2203.6 1554.9 L2200.4 1548 L2197 1541.6 L2193.4 1535.8 L2189.7 1530.6 L2185.8 1526.2 L2181.9 1522.6 L2178 1519.8 L2174.1 1517.9 L2170.4 1516.9 L2166.8 1516.8 L2163.4 1517.6 L2160.3 1519.4Z" fill="#000" />
<path d="M2195 1510C2198.3 1506.7 2217.5 1516.7 2225 1530C2232.5 1543.3 2238.3 1571.7 2240 1590C2241.7 1608.3 2239.2 1638.3 2235 1640C2230.8 1641.7 2220 1615 2215 1600C2210 1585 2208.3 1565 2205 1550C2201.7 1535 2191.7 1513.3 2195 1510Z" fill="#000" />
<path d="M2180 1672C2183.3 1669.5 2204.2 1677 2215 1680C2225.8 1683 2243.3 1685.7 2245 1690C2246.7 1694.3 2233.3 1705.2 2225 1706C2216.7 1706.8 2202.5 1700.7 2195 1695C2187.5 1689.3 2176.7 1674.5 2180 1672Z" fill="#000" />
<path d="M2208 1392 q12 2 9 14 q-3 6 -9 4" fill="none" stroke="#000" stroke-width="4.5" stroke-linecap="round" stroke-linejoin="round" />
<path d="M2378 1585 q12 2 9 14 q-3 6 -9 4" fill="none" stroke="#000" stroke-width="4.5" stroke-linecap="round" stroke-linejoin="round" />
<path d="M2250 1432 Q2290 1428 2310 1445" fill="none" stroke="#000" stroke-width="8" stroke-linecap="round" stroke-linejoin="round" />
<ellipse cx="2113" cy="1605" rx="56" ry="80" transform="rotate(-16 2113 1605)" fill="#fff" stroke="#000" stroke-width="6" />
<ellipse cx="2107" cy="1603" rx="58" ry="82" transform="rotate(-16 2107 1603)" fill="#fff" stroke="#000" stroke-width="4" />
<ellipse cx="2100" cy="1602" rx="60" ry="83" transform="rotate(-16 2100 1602)" fill="#fff" stroke="#000" stroke-width="9" />
<ellipse cx="2096" cy="1600" rx="50" ry="72" transform="rotate(-16 2096 1600)" fill="none" stroke="#000" stroke-width="4" />
<ellipse cx="2093" cy="1598" rx="39" ry="59" transform="rotate(-16 2093 1598)" fill="#fff" stroke="#000" stroke-width="8" />
<path d="M2148.7 1662.8 L2145.4 1667 L2141.9 1670.7 L2138.1 1674 L2134.1 1676.8 L2129.8 1679.1 L2125.4 1681 L2120.8 1682.3 L2116 1683.2 L2111.2 1683.5 L2106.3 1683.3 L2101.3 1682.5 L2096.4 1681.3 L2091.4 1679.5 L2086.5 1677.3 L2081.7 1674.6 L2077.1 1671.4 L2072.5 1667.7 L2068.2 1663.7 L2064 1659.2 L2060.1 1654.4 L2056.4 1649.3 L2053 1643.8 L2049.9 1638.1 L2047.2 1632.1" fill="none" stroke="#000" stroke-width="11" stroke-linecap="round" stroke-linejoin="round" />
<path d="M2052.2 1588.7 L2052.2 1583.4 L2052.5 1578.2 L2053.2 1573.1 L2054.2 1568.3 L2055.6 1563.8 L2057.3 1559.5 L2059.3 1555.7 L2061.6 1552.1 L2064.3 1549 L2067.1 1546.4 L2070.2 1544.2 L2073.5 1542.4 L2077 1541.2 L2080.6 1540.5 L2084.4 1540.3 L2088.2 1540.6 L2092 1541.4 L2095.9 1542.7 L2099.7 1544.5 L2103.5 1546.8 L2107.2 1549.6 L2110.7 1552.8 L2114.1 1556.4 L2117.3 1560.3" fill="none" stroke="#000" stroke-width="9" stroke-linecap="round" stroke-linejoin="round" />
<ellipse cx="2439" cy="1504" rx="18" ry="22" transform="rotate(0 2439 1504)" fill="#fff" stroke="#000" stroke-width="7" />
<ellipse cx="2440" cy="1505" rx="9" ry="13" transform="rotate(0 2440 1505)" fill="#fff" stroke="#000" stroke-width="4" />
<path d="M2639 1291C2640.5 1252.3 2652 1273 2659 1268C2666 1263 2672.5 1260.3 2681 1261C2689.5 1261.7 2702.3 1267.2 2710 1272C2717.7 1276.8 2721.2 1288.2 2727 1290C2732.8 1291.8 2734.8 1281.8 2745 1283C2755.2 1284.2 2778.2 1289.3 2788 1297C2797.8 1304.7 2799.2 1317.2 2804 1329C2808.8 1340.8 2812.3 1359 2817 1368C2821.7 1377 2827.2 1376 2832 1383C2836.8 1390 2843 1394.2 2846 1410C2849 1425.8 2853.2 1460.2 2850 1478C2846.8 1495.8 2835.2 1507 2827 1517C2818.8 1527 2812.8 1527.2 2801 1538C2789.2 1548.8 2771.2 1572 2756 1582C2740.8 1592 2720.3 1597.5 2710 1598C2699.7 1598.5 2704 1601.3 2694 1585C2684 1568.7 2659.2 1549 2650 1500C2640.8 1451 2637.5 1329.7 2639 1291Z" fill="#fff" stroke="#000" stroke-width="5.5" stroke-linejoin="round" />
<path d="M2825 1378C2827.8 1370.5 2839.2 1387.2 2843 1395C2846.8 1402.8 2848.8 1415.8 2848 1425C2847.2 1434.2 2841.7 1447.5 2838 1450C2834.3 1452.5 2828.2 1452 2826 1440C2823.8 1428 2822.2 1385.5 2825 1378Z" fill="#000" />
<ellipse cx="2760" cy="1345" rx="40" ry="28" transform="rotate(15 2760 1345)" fill="#fff" stroke="#000" stroke-width="5" />
<ellipse cx="2758" cy="1338" rx="38" ry="26" transform="rotate(15 2758 1338)" fill="#fff" stroke="#000" stroke-width="4.5" />
<circle cx="2759" cy="1313" r="29" fill="#fff" stroke="#000" stroke-width="5"/>
<circle cx="2786" cy="1340" r="9" fill="#444" stroke="#000" stroke-width="5"/>
<path d="M2645 1300C2644.7 1295.3 2653.8 1278 2660 1272C2666.2 1266 2674.5 1263.5 2682 1264C2689.5 1264.5 2699.5 1269 2705 1275C2710.5 1281 2717.5 1294.2 2715 1300C2712.5 1305.8 2695.8 1311.7 2690 1310C2684.2 1308.3 2684.7 1291.7 2680 1290C2675.3 1288.3 2667.8 1298.3 2662 1300C2656.2 1301.7 2645.3 1304.7 2645 1300Z" fill="#fff" stroke="#000" stroke-width="5" stroke-linejoin="round" />
<path d="M2640 1298 l22 4 l-4 24 l-20 -8Z" fill="#000" />
<path d="M2655 1280 q10 -6 12 6" fill="none" stroke="#000" stroke-width="4" stroke-linecap="round" stroke-linejoin="round" />
<path d="M2684 1272 l18 10 l-12 20" fill="none" stroke="#000" stroke-width="4" stroke-linecap="round" stroke-linejoin="round" />
<circle cx="2775" cy="1486" r="14" fill="#fff" stroke="#000" stroke-width="5"/>
<circle cx="2803" cy="1482" r="6" fill="#444" stroke="#000" stroke-width="4"/>
<path d="M2790 1400 L2815 1470 M2800 1395 L2822 1462" fill="none" stroke="#000" stroke-width="3.5" stroke-linecap="round" stroke-linejoin="round" />
<path d="M2762 1512 q14 -6 24 4 q10 6 22 -8" fill="none" stroke="#000" stroke-width="4" stroke-linecap="round" stroke-linejoin="round" />
<path d="M2700 1340 Q2740 1380 2785 1370" fill="none" stroke="#000" stroke-width="4" stroke-linecap="round" stroke-linejoin="round" />
<path d="M2700 1580C2705.3 1570.8 2725 1551.7 2740 1545C2755 1538.3 2784.2 1535 2790 1540C2795.8 1545 2784.2 1565 2775 1575C2765.8 1585 2746.2 1595.8 2735 1600C2723.8 1604.2 2713.8 1603.3 2708 1600C2702.2 1596.7 2694.7 1589.2 2700 1580Z" fill="#fff" stroke="#000" stroke-width="5" stroke-linejoin="round" />
<path d="M2725 1540 l20 -6 l6 12 l-18 8Z" fill="#000" />
<path d="M2598 1266C2577.7 1266.8 2540.2 1270.7 2522 1292C2503.8 1313.3 2493.8 1360.8 2489 1394C2484.2 1427.2 2488.2 1463 2493 1491C2497.8 1519 2505 1540.5 2518 1562C2531 1583.5 2550.3 1611.5 2571 1620C2591.7 1628.5 2619.2 1619.3 2642 1613C2664.8 1606.7 2690.8 1595.2 2708 1582C2725.2 1568.8 2736 1556.7 2745 1534C2754 1511.3 2768.8 1476.3 2762 1446C2755.2 1415.7 2723.7 1378.5 2704 1352C2684.3 1325.5 2661.7 1301.3 2644 1287C2626.3 1272.7 2618.3 1265.2 2598 1266Z" fill="#fff" stroke="#000" stroke-width="5" stroke-linejoin="round" />
<path d="M2581 1269C2561.7 1269.5 2527.2 1273.2 2510 1294C2492.8 1314.8 2482.8 1361.2 2478 1394C2473.2 1426.8 2476.2 1463 2481 1491C2485.8 1519 2494.7 1541 2507 1562C2519.3 1583 2535.2 1608.8 2555 1617C2574.8 1625.2 2603.3 1617.5 2626 1611C2648.7 1604.5 2674.2 1591.5 2691 1578C2707.8 1564.5 2718.3 1552 2727 1530C2735.7 1508 2750 1475.2 2743 1446C2736 1416.8 2704.5 1380.8 2685 1355C2665.5 1329.2 2643.3 1305.3 2626 1291C2608.7 1276.7 2600.3 1268.5 2581 1269Z" fill="#fff" stroke="#000" stroke-width="6" stroke-linejoin="round" />
<ellipse cx="2575" cy="1465" rx="77" ry="100" transform="rotate(-12 2575 1465)" fill="none" stroke="#000" stroke-width="3" />
<ellipse cx="2573" cy="1465" rx="60" ry="86" transform="rotate(-12 2573 1465)" fill="none" stroke="#000" stroke-width="4.5" />
<ellipse cx="2573" cy="1465" rx="50" ry="74" transform="rotate(-12 2573 1465)" fill="none" stroke="#000" stroke-width="3.5" />
<ellipse cx="2573" cy="1467" rx="38" ry="56" transform="rotate(-12 2573 1467)" fill="#fff" stroke="#000" stroke-width="5" />
<path d="M2610.2 1459.1 L2611 1463.9 L2611.6 1468.7 L2611.9 1473.5 L2611.9 1478.3 L2611.6 1483 L2611 1487.5 L2610.1 1491.9 L2609 1496.2 L2607.5 1500.1 L2605.8 1503.9 L2603.9 1507.3 L2601.7 1510.5 L2599.3 1513.3 L2596.7 1515.8 L2593.9 1517.9 L2590.9 1519.6 L2587.8 1520.9 L2584.6 1521.8 L2581.4 1522.3 L2578 1522.3 L2574.6 1522 L2571.2 1521.2 L2567.8 1520 L2564.5 1518.4" fill="none" stroke="#000" stroke-width="9" stroke-linecap="round" stroke-linejoin="round" />
<ellipse cx="2573" cy="1465" rx="25" ry="37" transform="rotate(-12 2573 1465)" fill="#fff" stroke="#000" stroke-width="4.5" />
<path d="M2555.7 1487.6 L2553.4 1483.7 L2551.4 1479.4 L2549.8 1474.9 L2548.5 1470.2 L2547.8 1465.4 L2547.4 1460.7 L2547.5 1456 L2548 1451.4 L2548.9 1447.1 L2550.3 1443.1 L2552 1439.5 L2554.1 1436.3 L2556.5 1433.6 L2559.2 1431.4 L2562.2 1429.8 L2565.3 1428.8 L2568.6 1428.4 L2571.9 1428.7 L2575.3 1429.6 L2578.6 1431.1 L2581.8 1433.1 L2584.9 1435.7 L2587.7 1438.8 L2590.3 1442.4 L2594.5 1454.4 L2592.3 1451.5 L2589.8 1449 L2587.2 1446.9 L2584.4 1445.3 L2581.5 1444.1 L2578.5 1443.5 L2575.6 1443.3 L2572.8 1443.7 L2570 1444.5 L2567.4 1445.8 L2565 1447.6 L2562.8 1449.9 L2561 1452.5 L2559.4 1455.5 L2558.1 1458.8 L2557.2 1462.3 L2556.7 1466 L2556.6 1469.8 L2556.9 1473.7 L2557.5 1477.6 L2558.5 1481.4 L2559.8 1485 L2561.5 1488.5 L2563.5 1491.6Z" fill="#000" />
<path d="M2630.2 1480.8 L2630 1484.2 L2629.7 1487.5 L2629.3 1490.8 L2628.8 1494 L2628.1 1497.2 L2627.4 1500.3 L2626.6 1503.4 L2625.7 1506.4 L2624.6 1509.3 L2623.5 1512.1 L2622.3 1514.8 L2621 1517.5 L2619.5 1520 L2618 1522.4 L2616.5 1524.7 L2614.8 1526.9 L2613 1529 L2611.2 1531 L2609.3 1532.8 L2607.4 1534.6 L2605.3 1536.1 L2603.2 1537.6 L2601.1 1538.9 L2598.9 1540" fill="none" stroke="#000" stroke-width="8" stroke-linecap="round" stroke-linejoin="round" />
<path d="M2522 1320 L2572 1304" fill="none" stroke="#000" stroke-width="17" stroke-linecap="round" stroke-linejoin="round" />
<path d="M2524 1319 L2572 1304" fill="none" stroke="#fff" stroke-width="8" stroke-linecap="round" stroke-linejoin="round" />
<path d="M2514 1556 L2553 1593" fill="none" stroke="#000" stroke-width="17" stroke-linecap="round" stroke-linejoin="round" />
<path d="M2517 1556 L2555 1591" fill="none" stroke="#fff" stroke-width="8" stroke-linecap="round" stroke-linejoin="round" />
<path d="M2704 1465 L2704 1530" fill="none" stroke="#000" stroke-width="17" stroke-linecap="round" stroke-linejoin="round" />
<path d="M2706 1467 L2706 1530" fill="none" stroke="#fff" stroke-width="8" stroke-linecap="round" stroke-linejoin="round" />
<circle cx="2545" cy="1344" r="6" fill="#fff" stroke="#000" stroke-width="3.5"/>
<circle cx="2640" cy="1378" r="6" fill="#fff" stroke="#000" stroke-width="3.5"/>
<circle cx="2677" cy="1512" r="6" fill="#fff" stroke="#000" stroke-width="3.5"/>
<circle cx="2618" cy="1580" r="6" fill="#fff" stroke="#000" stroke-width="3.5"/>
<path d="M2535 1395 l12 -14 l10 4 l12 10 l-8 6Z" fill="#000" />
<path d="M2529.9 1435.5 L2530.8 1431.9 L2531.9 1428.5 L2533.1 1425.3 L2534.5 1422.1 L2536 1419.2 L2537.7 1416.4 L2539.5 1413.8 L2541.4 1411.4 L2543.5 1409.2 L2545.6 1407.2 L2547.9 1405.5 L2550.3 1404 L2552.7 1402.7 L2555.3 1401.6 L2557.9 1400.8 L2560.5 1400.2 L2563.2 1399.9 L2566 1399.8 L2568.8 1400 L2571.5 1400.4 L2574.3 1401.1 L2577.1 1402 L2579.9 1403.1 L2582.6 1404.5" fill="none" stroke="#000" stroke-width="7" stroke-linecap="butt" stroke-linejoin="round" stroke-dasharray="4 3"/>
<path d="M2480 1490 L2580 1460" fill="none" stroke="#000" stroke-width="30" stroke-linecap="butt" stroke-linejoin="round" />
<path d="M2480 1490 L2580 1460" fill="none" stroke="#fff" stroke-width="21" stroke-linecap="butt" stroke-linejoin="round" />
<path d="M2497 1485 L2545 1470" fill="none" stroke="#777" stroke-width="21" stroke-linecap="butt" stroke-linejoin="round" />
<path d="M2550 1456 L2556 1482" fill="none" stroke="#000" stroke-width="5" stroke-linecap="round" stroke-linejoin="round" />
<ellipse cx="2478" cy="1491" rx="9" ry="15" transform="rotate(-15 2478 1491)" fill="#fff" stroke="#000" stroke-width="5" />
<path d="M2560 1450 L2610 1436 L2618 1470 L2566 1484Z" fill="#fff" stroke="#000" stroke-width="4" stroke-linejoin="round" />
<path d="M2921 1270C2923.2 1259.5 2929.2 1262.3 2935 1262C2940.8 1261.7 2952.2 1256.7 2956 1268C2959.8 1279.3 2954.8 1317.2 2958 1330C2961.2 1342.8 2969.7 1338 2975 1345C2980.3 1352 2988.3 1362 2990 1372C2991.7 1382 2990 1395.7 2985 1405C2980 1414.3 2968.8 1422.2 2960 1428C2951.2 1433.8 2936.8 1433.3 2932 1440C2927.2 1446.7 2935.8 1463 2931 1468C2926.2 1473 2907.7 1477.2 2903 1470C2898.3 1462.8 2906.8 1432.5 2903 1425C2899.2 1417.5 2887.2 1429.2 2880 1425C2872.8 1420.8 2863.7 1408.8 2860 1400C2856.3 1391.2 2855 1380 2858 1372C2861 1364 2869 1356.5 2878 1352C2887 1347.5 2904.7 1349.5 2912 1345C2919.3 1340.5 2920.5 1337.5 2922 1325C2923.5 1312.5 2918.8 1280.5 2921 1270Z" fill="#fff" stroke="#000" stroke-width="5.5" stroke-linejoin="round" />
<path d="M2943 1272 L2946 1335" fill="none" stroke="#333" stroke-width="12" stroke-linecap="round" stroke-linejoin="round" />
<path d="M2962 1340C2963.7 1337.2 2981.5 1357.2 2985 1368C2988.5 1378.8 2986.3 1396 2983 1405C2979.7 1414 2966.3 1425.3 2965 1422C2963.7 1418.7 2975.5 1398.7 2975 1385C2974.5 1371.3 2960.3 1342.8 2962 1340Z" fill="#222" />
<path d="M2903 1425 Q2940 1420 2962 1405" fill="none" stroke="#000" stroke-width="4" stroke-linecap="round" stroke-linejoin="round" />
<ellipse cx="2872" cy="1388" rx="24" ry="36" transform="rotate(-12 2872 1388)" fill="#fff" stroke="#000" stroke-width="6" />
<ellipse cx="2875" cy="1394" rx="15" ry="25" transform="rotate(-12 2875 1394)" fill="#fff" stroke="#000" stroke-width="5" />
<path d="M2849.4 1381.3 L2849.6 1378.3 L2850 1375.4 L2850.6 1372.6 L2851.4 1370 L2852.3 1367.5 L2853.5 1365.2 L2854.8 1363.1 L2856.2 1361.2 L2857.8 1359.6 L2859.5 1358.2 L2861.4 1357.1 L2863.3 1356.2 L2865.3 1355.7 L2867.4 1355.4 L2869.5 1355.4 L2871.6 1355.8 L2873.7 1356.4 L2875.9 1357.3 L2877.9 1358.4 L2880 1359.8 L2881.9 1361.5 L2883.8 1363.4 L2885.6 1365.6 L2887.2 1367.9" fill="none" stroke="#000" stroke-width="10" stroke-linecap="round" stroke-linejoin="round" />
<path d="M2908 1468 L2925 1468 L2925 1488 L2908 1488Z" fill="#fff" stroke="#000" stroke-width="4.5" stroke-linejoin="round" />
<path d="M2891 1173 L2891 1228" fill="none" stroke="#000" stroke-width="13" stroke-linecap="butt" stroke-linejoin="round" />
<path d="M2891 1175 L2891 1226" fill="none" stroke="#777" stroke-width="4" stroke-linecap="butt" stroke-linejoin="round" stroke-dasharray="3 3"/>
<ellipse cx="2891" cy="1166" rx="12" ry="9" transform="rotate(0 2891 1166)" fill="#fff" stroke="#000" stroke-width="7" />
<path d="M2884 1166 L2898 1166" fill="none" stroke="#000" stroke-width="3" stroke-linecap="round" stroke-linejoin="round" />
<ellipse cx="2892" cy="1251" rx="15" ry="9" transform="rotate(0 2892 1251)" fill="#fff" stroke="#000" stroke-width="5.5" />
<ellipse cx="2892" cy="1251" rx="6" ry="3" transform="rotate(0 2892 1251)" fill="#333" stroke="#000" stroke-width="3" />
<path d="M2798 1519 L2924 1592 Q2940 1598 2966 1588" fill="none" stroke="#000" stroke-width="4.5" stroke-linecap="butt" stroke-linejoin="round" stroke-dasharray="20 10"/>
<ellipse cx="2988" cy="1577" rx="21" ry="28" transform="rotate(0 2988 1577)" fill="#fff" stroke="#000" stroke-width="6.5" />
<ellipse cx="2990" cy="1578" rx="7" ry="13" transform="rotate(15 2990 1578)" fill="#fff" stroke="#000" stroke-width="4.5" />
<ellipse cx="3046" cy="1564" rx="16" ry="26" transform="rotate(0 3046 1564)" fill="#fff" stroke="#000" stroke-width="6" />
<ellipse cx="3047" cy="1565" rx="5" ry="13" transform="rotate(10 3047 1565)" fill="#fff" stroke="#000" stroke-width="4.5" />
<path d="M3096 1547 L3205 1521" fill="none" stroke="#000" stroke-width="23" stroke-linecap="butt" stroke-linejoin="round" />
<path d="M3100 1546 L3205 1521" fill="none" stroke="#fff" stroke-width="13" stroke-linecap="butt" stroke-linejoin="round" />
<path d="M3110 1546 L3160 1534" fill="none" stroke="#555" stroke-width="5" stroke-linecap="butt" stroke-linejoin="round" stroke-dasharray="3 3"/>
<ellipse cx="3097" cy="1547" rx="6" ry="10" transform="rotate(-13 3097 1547)" fill="#fff" stroke="#000" stroke-width="4.5" />
<path d="M3200 1500 L3225 1494 L3236 1508 L3232 1530 L3210 1540 L3198 1524Z" fill="#fff" stroke="#000" stroke-width="5" stroke-linejoin="round" />
<path d="M3212 1497 L3215 1538" fill="none" stroke="#000" stroke-width="3.5" stroke-linecap="round" stroke-linejoin="round" />
<path d="M3023 1345 L3060 1333" fill="none" stroke="#000" stroke-width="26" stroke-linecap="butt" stroke-linejoin="round" />
<path d="M3023 1345 L3062 1332" fill="none" stroke="#fff" stroke-width="17" stroke-linecap="butt" stroke-linejoin="round" />
<ellipse cx="3022" cy="1345" rx="7" ry="12" transform="rotate(-15 3022 1345)" fill="#fff" stroke="#000" stroke-width="4.5" />
<path d="M3058 1334 L3135 1312" fill="none" stroke="#000" stroke-width="22" stroke-linecap="butt" stroke-linejoin="round" stroke-dasharray="6 3"/>
<path d="M3058 1334 L3135 1312" fill="none" stroke="#333" stroke-width="12" stroke-linecap="butt" stroke-linejoin="round" />
<g transform="translate(771 594) rotate(-14.5) scale(1 1)">
<path d="M-9 205 L23 205 L22 222 L20 254 L-4 254 L-8 222Z" fill="#fff" stroke="#000" stroke-width="5" stroke-linejoin="round" />
<path d="M-2 254 L18 254 L19 294 Q8 302 -3 294Z" fill="#000" stroke="#000" stroke-width="4" stroke-linejoin="round" />
<path d="M10 264 L11 288" fill="none" stroke="#999" stroke-width="5" stroke-linecap="round" stroke-linejoin="round" />
</g>
<g transform="translate(869 952) rotate(-14.5) scale(1 1)">
<path d="M-4 0 Q-24 -14 -22 -38 Q-18 -50 -8 -50 Q-14 -34 -6 -22 Q0 -14 6 -22 Q12 -36 4 -52 Q16 -52 20 -38 Q22 -14 6 0 L8 12 L-6 12Z" fill="#fff" stroke="#000" stroke-width="5" stroke-linejoin="round" />
<path d="M-10 12 L12 12 L14 62 Q2 70 -12 62Z" fill="#fff" stroke="#000" stroke-width="5" stroke-linejoin="round" />
<path d="M-4 20 L-3 56 M5 20 L6 56" fill="none" stroke="#444" stroke-width="5" stroke-linecap="round" stroke-linejoin="round" />
</g>
<g transform="translate(597 897) rotate(-14.5) scale(1 1)">
<path d="M-7 2 Q0 -4 7 2 L8 32 Q17 34 18 44 L30 132 Q31 156 0 159 Q-30 156 -29 132 L-16 44 Q-15 34 -8 32Z" fill="#fff" stroke="#000" stroke-width="5.5" stroke-linejoin="round" />
<path d="M-7 8 L7 8 M-7 16 L7 16 M-7 24 L7 24 M-7 32 L7 32" fill="none" stroke="#000" stroke-width="3.5" stroke-linecap="round" stroke-linejoin="round" />
<path d="M-6 40 L-4 54" fill="none" stroke="#000" stroke-width="6" stroke-linecap="round" stroke-linejoin="round" />
<path d="M14 100 L18 102" fill="none" stroke="#000" stroke-width="5" stroke-linecap="round" stroke-linejoin="round" />
<path d="M-10 140 Q-2 128 10 138" fill="none" stroke="#000" stroke-width="5" stroke-linecap="round" stroke-linejoin="round" />
</g>
<path d="M613 1128C613 1119 616.7 1106.3 622 1098C627.3 1089.7 635.3 1081.8 645 1078C654.7 1074.2 670.5 1072.7 680 1075C689.5 1077.3 696.7 1084.2 702 1092C707.3 1099.8 711.7 1112.3 712 1122C712.3 1131.7 709.3 1142.7 704 1150C698.7 1157.3 689.8 1163.3 680 1166C670.2 1168.7 654.7 1168.3 645 1166C635.3 1163.7 627.3 1158.3 622 1152C616.7 1145.7 613 1137 613 1128Z" fill="#fff" stroke="#000" stroke-width="6" stroke-linejoin="round" />
<path d="M613 1128C614.5 1132 616.7 1145.7 622 1152C627.3 1158.3 641.2 1163.7 645 1166" fill="none" stroke="#000" stroke-width="11" stroke-linecap="round" stroke-linejoin="round" />
<path d="M624 1096C626.7 1098.3 638.3 1104.7 640 1110C641.7 1115.3 635 1125 634 1128" fill="none" stroke="#000" stroke-width="4" stroke-linecap="round" stroke-linejoin="round" />
<path d="M636 1122C641.7 1123 658 1128.3 670 1128C682 1127.7 701.7 1121.3 708 1120" fill="none" stroke="#000" stroke-width="4" stroke-linecap="round" stroke-linejoin="round" />
<ellipse cx="668" cy="1149" rx="28" ry="14" transform="rotate(-8 668 1149)" fill="#000" stroke="#000" stroke-width="4" />
<path d="M650 1150 l12 -8 l8 10 l-10 4Z" fill="#fff" />
<g transform="translate(680 1187) rotate(-14.5) scale(1 1)">
<path d="M-6 0 Q0 -4 6 0 L7 30 L-7 30Z" fill="#fff" stroke="#000" stroke-width="5" stroke-linejoin="round" />
<path d="M-12 30 L12 30 L15 78 L-15 78Z" fill="#fff" stroke="#000" stroke-width="5" stroke-linejoin="round" />
<path d="M-12 40 L12 40 M-13 50 L13 50 M-13 60 L13 60" fill="none" stroke="#000" stroke-width="4" stroke-linecap="round" stroke-linejoin="round" />
<path d="M-24 78 L24 78 L30 96 L26 122 L-26 122 L-30 96Z" fill="#fff" stroke="#000" stroke-width="5.5" stroke-linejoin="round" />
<path d="M-30 96 L30 96" fill="none" stroke="#000" stroke-width="4" stroke-linecap="round" stroke-linejoin="round" />
<path d="M-8 80 L-9 120 M10 80 L11 120" fill="none" stroke="#000" stroke-width="3.5" stroke-linecap="round" stroke-linejoin="round" />
<path d="M-22 122 L22 122 L20 138 L-20 138Z" fill="#fff" stroke="#000" stroke-width="5" stroke-linejoin="round" />
<path d="M-19 138 L19 138 L18 180 L-18 180Z" fill="#888" stroke="#000" stroke-width="5" stroke-linejoin="round" />
<path d="M-18 146 L18 146 M-18 154 L18 154 M-18 162 L18 162 M-18 170 L18 170" fill="none" stroke="#000" stroke-width="4" stroke-linecap="round" stroke-linejoin="round" />
<path d="M-7 180 L7 180 L6 196 L-6 196Z" fill="#333" stroke="#000" stroke-width="4" stroke-linejoin="round" />
</g>
<ellipse cx="743" cy="1407" rx="32" ry="17" transform="rotate(-10 743 1407)" fill="#fff" stroke="#000" stroke-width="7" />
<ellipse cx="743" cy="1407" rx="21" ry="9" transform="rotate(-10 743 1407)" fill="#fff" stroke="#000" stroke-width="4" />
<path d="M667 343 L672 483" fill="none" stroke="#111" stroke-width="4" stroke-linecap="butt" stroke-linejoin="round" />
<path d="M777 321 L799 496" fill="none" stroke="#111" stroke-width="4" stroke-linecap="butt" stroke-linejoin="round" />
<path d="M1003 278 L1025 407" fill="none" stroke="#111" stroke-width="4" stroke-linecap="butt" stroke-linejoin="round" />
<path d="M1117 254 L1284 397" fill="none" stroke="#111" stroke-width="4" stroke-linecap="butt" stroke-linejoin="round" />
<path d="M1329 213 L1491 332" fill="none" stroke="#111" stroke-width="4" stroke-linecap="butt" stroke-linejoin="round" />
<path d="M1445 192 L1524 256" fill="none" stroke="#111" stroke-width="4" stroke-linecap="butt" stroke-linejoin="round" />
<path d="M1561 167 L1726 297" fill="none" stroke="#111" stroke-width="4" stroke-linecap="butt" stroke-linejoin="round" />
<path d="M1917 316 L1782 256" fill="none" stroke="#111" stroke-width="4" stroke-linecap="butt" stroke-linejoin="round" />
<path d="M1917 424 L1766 360" fill="none" stroke="#111" stroke-width="4" stroke-linecap="butt" stroke-linejoin="round" />
<path d="M2391 467 L2499 450" fill="none" stroke="#111" stroke-width="4" stroke-linecap="butt" stroke-linejoin="round" />
<path d="M2397 577 L2669 480" fill="none" stroke="#111" stroke-width="4" stroke-linecap="butt" stroke-linejoin="round" />
<path d="M2397 684 L2876 701" fill="none" stroke="#111" stroke-width="4" stroke-linecap="butt" stroke-linejoin="round" />
<path d="M3243 662 L3247 799" fill="none" stroke="#111" stroke-width="4" stroke-linecap="butt" stroke-linejoin="round" />
<path d="M3363 662 L3460 850" fill="none" stroke="#111" stroke-width="4" stroke-linecap="butt" stroke-linejoin="round" />
<path d="M966 841 L859 790" fill="none" stroke="#111" stroke-width="4" stroke-linecap="butt" stroke-linejoin="round" />
<path d="M966 958 L890 962" fill="none" stroke="#111" stroke-width="4" stroke-linecap="butt" stroke-linejoin="round" />
<path d="M961 1066 L640 990" fill="none" stroke="#111" stroke-width="4" stroke-linecap="butt" stroke-linejoin="round" />
<path d="M971 1172 L708 1129" fill="none" stroke="#111" stroke-width="4" stroke-linecap="butt" stroke-linejoin="round" />
<path d="M971 1291 L743 1281" fill="none" stroke="#111" stroke-width="4" stroke-linecap="butt" stroke-linejoin="round" />
<path d="M1539 1186 L1523 1332" fill="none" stroke="#111" stroke-width="4" stroke-linecap="butt" stroke-linejoin="round" />
<path d="M1644 1149 L1633 1316" fill="none" stroke="#111" stroke-width="4" stroke-linecap="butt" stroke-linejoin="round" />
<path d="M1752 1122 L1731 1351" fill="none" stroke="#111" stroke-width="4" stroke-linecap="butt" stroke-linejoin="round" />
<path d="M1862 1096 L1947 1309" fill="none" stroke="#111" stroke-width="4" stroke-linecap="butt" stroke-linejoin="round" />
<path d="M1971 1064 L2027 1174" fill="none" stroke="#111" stroke-width="4" stroke-linecap="butt" stroke-linejoin="round" />
<path d="M2075 1038 L2143 1280" fill="none" stroke="#111" stroke-width="4" stroke-linecap="butt" stroke-linejoin="round" />
<path d="M2189 1006 L2379 1205" fill="none" stroke="#111" stroke-width="4" stroke-linecap="butt" stroke-linejoin="round" />
<path d="M2294 980 L2420 1064" fill="none" stroke="#111" stroke-width="4" stroke-linecap="butt" stroke-linejoin="round" />
<path d="M2408 948 L2631 1147" fill="none" stroke="#111" stroke-width="4" stroke-linecap="butt" stroke-linejoin="round" />
<path d="M2519 916 L2611 1009" fill="none" stroke="#111" stroke-width="4" stroke-linecap="butt" stroke-linejoin="round" />
<path d="M2631 885 L2889 1342" fill="none" stroke="#111" stroke-width="4" stroke-linecap="butt" stroke-linejoin="round" />
<path d="M2017 1775 L2021 2127" fill="none" stroke="#111" stroke-width="4" stroke-linecap="butt" stroke-linejoin="round" />
<path d="M2127 1684 L2133 2123" fill="none" stroke="#111" stroke-width="4" stroke-linecap="butt" stroke-linejoin="round" />
<path d="M2239 1690 L2246 2123" fill="none" stroke="#111" stroke-width="4" stroke-linecap="butt" stroke-linejoin="round" />
<path d="M2442 1526 L2454 2123" fill="none" stroke="#111" stroke-width="4" stroke-linecap="butt" stroke-linejoin="round" />
<path d="M2623 1600 L2822 2123" fill="none" stroke="#111" stroke-width="4" stroke-linecap="butt" stroke-linejoin="round" />
<path d="M2985 1606 L2939 2119" fill="none" stroke="#111" stroke-width="4" stroke-linecap="butt" stroke-linejoin="round" />
<path d="M3046 1592 L3048 2119" fill="none" stroke="#111" stroke-width="4" stroke-linecap="butt" stroke-linejoin="round" />
<path d="M3047 1349 L3160 2115" fill="none" stroke="#111" stroke-width="4" stroke-linecap="butt" stroke-linejoin="round" />
<path d="M3143 1553 L3265 2113" fill="none" stroke="#111" stroke-width="4" stroke-linecap="butt" stroke-linejoin="round" />
<path d="M3336 1387 L3378 2115" fill="none" stroke="#111" stroke-width="4" stroke-linecap="butt" stroke-linejoin="round" />
<path d="M3480 1310 L3487 2115" fill="none" stroke="#111" stroke-width="4" stroke-linecap="butt" stroke-linejoin="round" />
<text transform="translate(657 335.5) scale(1.09 1)" font-size="46" text-anchor="middle" stroke="#111" stroke-width="0.6">21</text>
<text transform="translate(775 313.5) scale(1.09 1)" font-size="46" text-anchor="middle" stroke="#111" stroke-width="0.6">22</text>
<text transform="translate(1002 268.5) scale(1.09 1)" font-size="46" text-anchor="middle" stroke="#111" stroke-width="0.6">23</text>
<text transform="translate(1110 247.5) scale(1.09 1)" font-size="46" text-anchor="middle" stroke="#111" stroke-width="0.6">24</text>
<text transform="translate(1326 207.5) scale(1.09 1)" font-size="46" text-anchor="middle" stroke="#111" stroke-width="0.6">25</text>
<text transform="translate(1441 186.5) scale(1.09 1)" font-size="46" text-anchor="middle" stroke="#111" stroke-width="0.6">35</text>
<text transform="translate(1553 162.5) scale(1.09 1)" font-size="46" text-anchor="middle" stroke="#111" stroke-width="0.6">26</text>
<text transform="translate(1946 334.5) scale(1.09 1)" font-size="46" text-anchor="middle" stroke="#111" stroke-width="0.6">34</text>
<text transform="translate(1946 443.5) scale(1.09 1)" font-size="46" text-anchor="middle" stroke="#111" stroke-width="0.6">37</text>
<text transform="translate(2364 490.5) scale(1.09 1)" font-size="46" text-anchor="middle" stroke="#111" stroke-width="0.6">18</text>
<text transform="translate(2362 595.5) scale(1.09 1)" font-size="46" text-anchor="middle" stroke="#111" stroke-width="0.6">35</text>
<text transform="translate(2362 701.5) scale(1.09 1)" font-size="46" text-anchor="middle" stroke="#111" stroke-width="0.6">36</text>
<text transform="translate(3238 649.5) scale(1.09 1)" font-size="46" text-anchor="middle" stroke="#111" stroke-width="0.6">14</text>
<text transform="translate(3355 648.5) scale(1.09 1)" font-size="46" text-anchor="middle" stroke="#111" stroke-width="0.6">15</text>
<text transform="translate(993 855.5) scale(1.09 1)" font-size="46" text-anchor="middle" stroke="#111" stroke-width="0.6">16</text>
<text transform="translate(998 975.5) scale(1.09 1)" font-size="46" text-anchor="middle" stroke="#111" stroke-width="0.6">17</text>
<text transform="translate(990 1084.5) scale(1.09 1)" font-size="46" text-anchor="middle" stroke="#111" stroke-width="0.6">8</text>
<text transform="translate(1000 1189.5) scale(1.09 1)" font-size="46" text-anchor="middle" stroke="#111" stroke-width="0.6">13</text>
<text transform="translate(1004 1307.5) scale(1.09 1)" font-size="46" text-anchor="middle" stroke="#111" stroke-width="0.6">20</text>
<text transform="translate(1538 1171.5) scale(1.09 1)" font-size="46" text-anchor="middle" stroke="#111" stroke-width="0.6">32</text>
<text transform="translate(1642 1143.5) scale(1.09 1)" font-size="46" text-anchor="middle" stroke="#111" stroke-width="0.6">31</text>
<text transform="translate(1748 1116.5) scale(1.09 1)" font-size="46" text-anchor="middle" stroke="#111" stroke-width="0.6">30</text>
<text transform="translate(1854 1087.5) scale(1.09 1)" font-size="46" text-anchor="middle" stroke="#111" stroke-width="0.6">29</text>
<text transform="translate(1967 1059.5) scale(1.09 1)" font-size="46" text-anchor="middle" stroke="#111" stroke-width="0.6">35</text>
<text transform="translate(2072 1028.5) scale(1.09 1)" font-size="46" text-anchor="middle" stroke="#111" stroke-width="0.6">28</text>
<text transform="translate(2180 998.5) scale(1.09 1)" font-size="46" text-anchor="middle" stroke="#111" stroke-width="0.6">27</text>
<text transform="translate(2287 973.5) scale(1.09 1)" font-size="46" text-anchor="middle" stroke="#111" stroke-width="0.6">35</text>
<text transform="translate(2402 943.5) scale(1.09 1)" font-size="46" text-anchor="middle" stroke="#111" stroke-width="0.6">37</text>
<text transform="translate(2510 906.5) scale(1.09 1)" font-size="46" text-anchor="middle" stroke="#111" stroke-width="0.6">34</text>
<text transform="translate(2629 872.5) scale(1.09 1)" font-size="46" text-anchor="middle" stroke="#111" stroke-width="0.6">5</text>
<text transform="translate(2017 2181.5) scale(1.09 1)" font-size="46" text-anchor="middle" stroke="#111" stroke-width="0.6">4</text>
<text transform="translate(2130 2178.5) scale(1.09 1)" font-size="46" text-anchor="middle" stroke="#111" stroke-width="0.6">12</text>
<text transform="translate(2246 2177.5) scale(1.09 1)" font-size="46" text-anchor="middle" stroke="#111" stroke-width="0.6">3</text>
<text transform="translate(2456 2175.5) scale(1.09 1)" font-size="46" text-anchor="middle" stroke="#111" stroke-width="0.6">19</text>
<text transform="translate(2824 2175.5) scale(1.09 1)" font-size="46" text-anchor="middle" stroke="#111" stroke-width="0.6">1</text>
<text transform="translate(2944 2173.5) scale(1.09 1)" font-size="46" text-anchor="middle" stroke="#111" stroke-width="0.6">10</text>
<text transform="translate(3048 2173.5) scale(1.09 1)" font-size="46" text-anchor="middle" stroke="#111" stroke-width="0.6">11</text>
<text transform="translate(3157 2169.5) scale(1.09 1)" font-size="46" text-anchor="middle" stroke="#111" stroke-width="0.6">7</text>
<text transform="translate(3265 2169.5) scale(1.09 1)" font-size="46" text-anchor="middle" stroke="#111" stroke-width="0.6">9</text>
<text transform="translate(3375 2168.5) scale(1.09 1)" font-size="46" text-anchor="middle" stroke="#111" stroke-width="0.6">6</text>
<text transform="translate(3490 2171.5) scale(1.09 1)" font-size="46" text-anchor="middle" stroke="#111" stroke-width="0.6">33</text></svg></body></html>
